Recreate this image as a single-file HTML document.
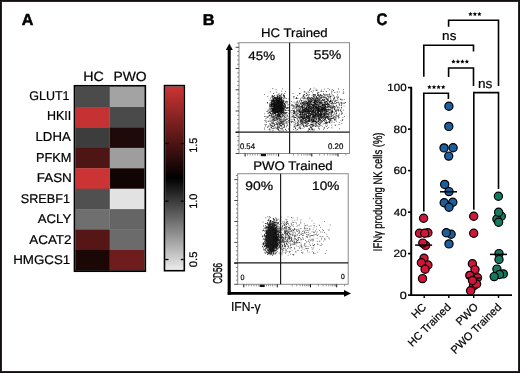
<!DOCTYPE html>
<html><head><meta charset="utf-8"><style>
html,body{margin:0;padding:0;background:#fff;}
body{width:520px;height:373px;overflow:hidden;position:relative;}
.f{position:absolute;left:0;top:0;width:520px;height:373px;box-sizing:border-box;border:1px solid #141012;box-shadow:inset 0 0 0 1px #2a2627;}
svg{position:absolute;left:0;top:0;will-change:transform;} text{text-rendering:geometricPrecision;}
</style></head><body>
<svg width="520" height="373" viewBox="0 0 520 373">
<text transform="translate(21.70,24.90) scale(1.002,1)" font-size="16.09" font-weight="bold" fill="#000" stroke="#000" stroke-width="0.5" font-family="Liberation Sans, sans-serif">A</text>
<text transform="translate(83.26,80.96) scale(1.053,1)" font-size="13.52" fill="#000" stroke="#000" stroke-width="0.22" font-family="Liberation Sans, sans-serif">HC</text>
<text transform="translate(113.39,80.87) scale(1.038,1)" font-size="13.38" fill="#000" stroke="#000" stroke-width="0.22" font-family="Liberation Sans, sans-serif">PWO</text>
<rect x="75.3" y="86.60" width="34.60" height="20.72" fill="#4b4b4b"/>
<rect x="109.9" y="86.60" width="34.60" height="20.72" fill="#a3a3a3"/>
<text transform="translate(29.27,99.67) scale(0.986,1)" font-size="12.68" fill="#000" stroke="#000" stroke-width="0.22" font-family="Liberation Sans, sans-serif">GLUT1</text>
<rect x="75.3" y="107.02" width="34.60" height="20.72" fill="#c53233"/>
<rect x="109.9" y="107.02" width="34.60" height="20.72" fill="#4a4a4a"/>
<text transform="translate(47.00,120.38) scale(0.957,1)" font-size="13.04" fill="#000" stroke="#000" stroke-width="0.22" font-family="Liberation Sans, sans-serif">HKII</text>
<rect x="75.3" y="127.44" width="34.60" height="20.72" fill="#3d3d3d"/>
<rect x="109.9" y="127.44" width="34.60" height="20.72" fill="#1f0a0a"/>
<text transform="translate(35.54,140.96) scale(1.011,1)" font-size="13.04" fill="#000" stroke="#000" stroke-width="0.22" font-family="Liberation Sans, sans-serif">LDHA</text>
<rect x="75.3" y="147.87" width="34.60" height="20.72" fill="#4e1515"/>
<rect x="109.9" y="147.87" width="34.60" height="20.72" fill="#9e9e9e"/>
<text transform="translate(35.88,161.54) scale(0.982,1)" font-size="13.04" fill="#000" stroke="#000" stroke-width="0.22" font-family="Liberation Sans, sans-serif">PFKM</text>
<rect x="75.3" y="168.29" width="34.60" height="20.72" fill="#cb3334"/>
<rect x="109.9" y="168.29" width="34.60" height="20.72" fill="#130404"/>
<text transform="translate(36.73,181.99) scale(1.059,1)" font-size="12.68" fill="#000" stroke="#000" stroke-width="0.22" font-family="Liberation Sans, sans-serif">FASN</text>
<rect x="75.3" y="188.71" width="34.60" height="20.72" fill="#505050"/>
<rect x="109.9" y="188.71" width="34.60" height="20.72" fill="#e2e2e2"/>
<text transform="translate(20.83,202.57) scale(0.996,1)" font-size="12.68" fill="#000" stroke="#000" stroke-width="0.22" font-family="Liberation Sans, sans-serif">SREBF1</text>
<rect x="75.3" y="209.13" width="34.60" height="20.72" fill="#6f6f6f"/>
<rect x="109.9" y="209.13" width="34.60" height="20.72" fill="#656565"/>
<text transform="translate(37.73,223.15) scale(1.040,1)" font-size="12.68" fill="#000" stroke="#000" stroke-width="0.22" font-family="Liberation Sans, sans-serif">ACLY</text>
<rect x="75.3" y="229.56" width="34.60" height="20.72" fill="#561616"/>
<rect x="109.9" y="229.56" width="34.60" height="20.72" fill="#6b6b6b"/>
<text transform="translate(29.23,243.73) scale(1.060,1)" font-size="12.68" fill="#000" stroke="#000" stroke-width="0.22" font-family="Liberation Sans, sans-serif">ACAT2</text>
<rect x="75.3" y="249.98" width="34.60" height="20.72" fill="#1c0707"/>
<rect x="109.9" y="249.98" width="34.60" height="20.72" fill="#6f1c1c"/>
<text transform="translate(13.13,264.31) scale(1.054,1)" font-size="12.68" fill="#000" stroke="#000" stroke-width="0.22" font-family="Liberation Sans, sans-serif">HMGCS1</text>
<rect x="74.5" y="85.8" width="70.80" height="185.40" fill="none" stroke="#000" stroke-width="1.7"/>
<defs><linearGradient id="cb" x1="0" y1="0" x2="0" y2="1"><stop offset="0" stop-color="#cc3434"/><stop offset="0.5" stop-color="#000"/><stop offset="1" stop-color="#ececec"/></linearGradient></defs>
<rect x="165.2" y="86.4" width="18.4" height="183.5" fill="url(#cb)"/>
<rect x="164.5" y="85.6" width="19.8" height="185.1" fill="none" stroke="#000" stroke-width="1.6"/>
<line x1="165.2" y1="143.5" x2="168.5" y2="143.5" stroke="#000" stroke-width="1.3"/>
<line x1="180.8" y1="143.5" x2="183.6" y2="143.5" stroke="#000" stroke-width="1.3"/>
<line x1="165.2" y1="201.2" x2="168.5" y2="201.2" stroke="#000" stroke-width="1.3"/>
<line x1="180.8" y1="201.2" x2="183.6" y2="201.2" stroke="#000" stroke-width="1.3"/>
<line x1="165.2" y1="259.5" x2="168.5" y2="259.5" stroke="#000" stroke-width="1.3"/>
<line x1="180.8" y1="259.5" x2="183.6" y2="259.5" stroke="#000" stroke-width="1.3"/>
<text transform="translate(196.79,152.72) rotate(-90) scale(0.991,1)" font-size="11.00" fill="#000" stroke="#000" stroke-width="0.22" font-family="Liberation Sans, sans-serif">1.5</text>
<text transform="translate(196.89,208.82) rotate(-90) scale(0.992,1)" font-size="10.99" fill="#000" stroke="#000" stroke-width="0.22" font-family="Liberation Sans, sans-serif">1.0</text>
<text transform="translate(196.89,267.25) rotate(-90) scale(1.028,1)" font-size="10.99" fill="#000" stroke="#000" stroke-width="0.22" font-family="Liberation Sans, sans-serif">0.5</text>
<text transform="translate(202.73,24.90) scale(1.057,1)" font-size="15.51" font-weight="bold" fill="#000" stroke="#000" stroke-width="0.5" font-family="Liberation Sans, sans-serif">B</text>
<text transform="translate(261.05,36.88) scale(1.064,1)" font-size="12.38" fill="#000" stroke="#000" stroke-width="0.22" font-family="Liberation Sans, sans-serif">HC Trained</text>
<text transform="translate(253.14,170.07) scale(1.059,1)" font-size="12.52" fill="#000" stroke="#000" stroke-width="0.22" font-family="Liberation Sans, sans-serif">PWO Trained</text>
<line x1="229.2" y1="49" x2="229.2" y2="294.8" stroke="#000" stroke-width="3.1"/>
<polygon points="229.3,43.4 225.8,50 232.8,50" fill="#000"/>
<line x1="227.7" y1="293.4" x2="345" y2="293.4" stroke="#000" stroke-width="2.9"/>
<polygon points="351,293.4 344,290 344,296.8" fill="#000"/>
<text transform="translate(221.57,283.81) rotate(-90) scale(0.637,1)" font-size="12.82" fill="#000" stroke="#000" stroke-width="0.35" font-family="Liberation Sans, sans-serif">CD56</text>
<text transform="translate(230.91,311.47) scale(0.933,1)" font-size="13.00" fill="#000" stroke="#000" stroke-width="0.22" font-family="Liberation Sans, sans-serif">IFN-γ</text>
<path d="M276.6 107.5h.8v.8h-.8zM276.7 104.2h.8v.8h-.8zM274.6 104.6h.8v.8h-.8zM280.7 107.2h.8v.8h-.8zM280.5 106.5h.8v.8h-.8zM278.6 106.2h.8v.8h-.8zM272.4 108.9h.8v.8h-.8zM278.9 107.5h.8v.8h-.8zM272.3 98.5h.8v.8h-.8zM274.7 103.6h.8v.8h-.8zM278.3 105.3h.8v.8h-.8zM279.0 102.9h.8v.8h-.8zM278.3 107.1h.8v.8h-.8zM275.4 112.4h.8v.8h-.8zM279.1 110.3h.8v.8h-.8zM275.5 102.5h.8v.8h-.8zM276.4 105.1h.8v.8h-.8zM279.3 106.5h.8v.8h-.8zM276.1 101.7h.8v.8h-.8zM275.8 110.4h.8v.8h-.8zM275.0 106.5h.8v.8h-.8zM278.7 99.5h.8v.8h-.8zM277.5 110.7h.8v.8h-.8zM271.4 104.2h.8v.8h-.8zM277.1 102.2h.8v.8h-.8zM278.9 105.3h.8v.8h-.8zM273.0 108.8h.8v.8h-.8zM279.4 109.3h.8v.8h-.8zM281.7 106.9h.8v.8h-.8zM277.8 100.3h.8v.8h-.8zM279.2 103.1h.8v.8h-.8zM276.0 100.4h.8v.8h-.8zM274.5 103.4h.8v.8h-.8zM281.3 97.4h.8v.8h-.8zM273.0 106.5h.8v.8h-.8zM281.7 107.8h.8v.8h-.8zM271.7 95.4h.8v.8h-.8zM278.5 102.6h.8v.8h-.8zM274.0 109.4h.8v.8h-.8zM280.7 106.1h.8v.8h-.8zM278.1 107.2h.8v.8h-.8zM282.2 108.0h.8v.8h-.8zM279.0 107.7h.8v.8h-.8zM272.7 110.6h.8v.8h-.8zM280.3 107.6h.8v.8h-.8zM271.5 103.0h.8v.8h-.8zM279.9 98.3h.8v.8h-.8zM276.8 109.6h.8v.8h-.8zM273.5 111.9h.8v.8h-.8zM279.1 104.9h.8v.8h-.8zM278.4 108.1h.8v.8h-.8zM277.8 110.1h.8v.8h-.8zM275.4 103.8h.8v.8h-.8zM280.5 105.6h.8v.8h-.8zM274.8 109.3h.8v.8h-.8zM281.8 103.7h.8v.8h-.8zM273.3 105.0h.8v.8h-.8zM277.0 104.3h.8v.8h-.8zM281.6 101.4h.8v.8h-.8zM281.2 100.4h.8v.8h-.8zM275.0 108.0h.8v.8h-.8zM280.8 108.9h.8v.8h-.8zM278.4 106.1h.8v.8h-.8zM277.9 107.8h.8v.8h-.8zM276.9 106.6h.8v.8h-.8zM279.1 105.5h.8v.8h-.8zM279.7 107.8h.8v.8h-.8zM283.4 106.8h.8v.8h-.8zM276.1 104.0h.8v.8h-.8zM277.4 109.2h.8v.8h-.8zM276.4 107.0h.8v.8h-.8zM282.9 95.2h.8v.8h-.8zM274.0 106.5h.8v.8h-.8zM278.6 106.5h.8v.8h-.8zM276.1 108.1h.8v.8h-.8zM278.2 103.4h.8v.8h-.8zM284.7 106.9h.8v.8h-.8zM275.7 105.1h.8v.8h-.8zM276.7 105.2h.8v.8h-.8zM269.2 103.6h.8v.8h-.8zM280.4 100.8h.8v.8h-.8zM277.2 109.3h.8v.8h-.8zM280.0 111.5h.8v.8h-.8zM272.3 104.1h.8v.8h-.8zM276.4 108.0h.8v.8h-.8zM280.7 94.8h.8v.8h-.8zM280.7 99.7h.8v.8h-.8zM279.4 99.5h.8v.8h-.8zM277.9 110.3h.8v.8h-.8zM277.0 106.3h.8v.8h-.8zM279.8 106.1h.8v.8h-.8zM277.1 111.6h.8v.8h-.8zM280.5 104.3h.8v.8h-.8zM285.6 100.9h.8v.8h-.8zM280.1 104.4h.8v.8h-.8zM277.8 108.3h.8v.8h-.8zM278.1 108.1h.8v.8h-.8zM272.8 99.5h.8v.8h-.8zM279.2 101.6h.8v.8h-.8zM274.3 99.6h.8v.8h-.8zM281.2 108.5h.8v.8h-.8zM281.8 101.7h.8v.8h-.8zM277.4 100.9h.8v.8h-.8zM279.7 111.9h.8v.8h-.8zM274.7 111.7h.8v.8h-.8zM280.4 104.8h.8v.8h-.8zM271.5 111.1h.8v.8h-.8zM277.1 103.1h.8v.8h-.8zM278.6 107.1h.8v.8h-.8zM281.9 101.4h.8v.8h-.8zM280.8 111.4h.8v.8h-.8zM281.8 104.8h.8v.8h-.8zM275.2 109.6h.8v.8h-.8zM277.7 106.0h.8v.8h-.8zM281.7 104.4h.8v.8h-.8zM270.5 104.0h.8v.8h-.8zM271.8 108.8h.8v.8h-.8zM278.4 103.1h.8v.8h-.8zM277.4 108.8h.8v.8h-.8zM277.6 110.8h.8v.8h-.8zM277.2 109.7h.8v.8h-.8zM281.9 111.9h.8v.8h-.8zM275.4 109.0h.8v.8h-.8zM271.8 101.2h.8v.8h-.8zM271.5 109.8h.8v.8h-.8zM273.7 105.4h.8v.8h-.8zM276.8 105.4h.8v.8h-.8zM275.6 106.4h.8v.8h-.8zM282.8 105.7h.8v.8h-.8zM279.0 109.5h.8v.8h-.8zM276.8 100.5h.8v.8h-.8zM275.7 109.8h.8v.8h-.8zM272.5 103.1h.8v.8h-.8zM280.4 108.7h.8v.8h-.8zM277.4 108.7h.8v.8h-.8zM277.9 100.8h.8v.8h-.8zM272.7 102.9h.8v.8h-.8zM280.2 103.2h.8v.8h-.8zM274.7 102.4h.8v.8h-.8zM272.8 105.0h.8v.8h-.8zM273.9 107.0h.8v.8h-.8zM270.3 106.8h.8v.8h-.8zM275.5 97.7h.8v.8h-.8zM279.6 104.4h.8v.8h-.8zM270.7 102.0h.8v.8h-.8zM278.3 103.7h.8v.8h-.8zM279.7 108.5h.8v.8h-.8zM279.4 106.8h.8v.8h-.8zM281.4 108.1h.8v.8h-.8zM278.8 97.2h.8v.8h-.8zM280.1 110.7h.8v.8h-.8zM276.5 103.6h.8v.8h-.8zM283.2 98.5h.8v.8h-.8zM278.8 115.2h.8v.8h-.8zM274.6 108.3h.8v.8h-.8zM283.1 105.0h.8v.8h-.8zM279.1 109.1h.8v.8h-.8zM274.7 105.1h.8v.8h-.8zM278.3 108.8h.8v.8h-.8zM277.3 104.7h.8v.8h-.8zM274.4 104.1h.8v.8h-.8zM280.1 105.9h.8v.8h-.8zM274.8 102.1h.8v.8h-.8zM285.4 110.1h.8v.8h-.8zM279.3 95.1h.8v.8h-.8zM279.3 107.4h.8v.8h-.8zM282.5 107.2h.8v.8h-.8zM277.2 107.6h.8v.8h-.8zM271.6 109.6h.8v.8h-.8zM278.4 102.7h.8v.8h-.8zM281.4 112.7h.8v.8h-.8zM273.2 102.8h.8v.8h-.8zM278.3 106.2h.8v.8h-.8zM276.2 101.6h.8v.8h-.8zM283.8 109.6h.8v.8h-.8zM273.8 100.1h.8v.8h-.8zM282.5 109.5h.8v.8h-.8zM282.9 108.7h.8v.8h-.8zM274.8 106.5h.8v.8h-.8zM270.9 102.5h.8v.8h-.8zM277.2 107.6h.8v.8h-.8zM275.2 105.0h.8v.8h-.8zM278.8 107.0h.8v.8h-.8zM279.3 106.3h.8v.8h-.8zM276.4 108.7h.8v.8h-.8zM277.5 102.2h.8v.8h-.8zM275.5 105.5h.8v.8h-.8zM277.1 106.1h.8v.8h-.8zM277.4 106.2h.8v.8h-.8zM277.0 100.5h.8v.8h-.8zM278.7 109.7h.8v.8h-.8zM278.7 104.7h.8v.8h-.8zM278.7 101.6h.8v.8h-.8zM271.7 105.7h.8v.8h-.8zM274.6 108.5h.8v.8h-.8zM274.1 95.0h.8v.8h-.8zM274.3 111.8h.8v.8h-.8zM276.3 100.0h.8v.8h-.8zM275.1 107.6h.8v.8h-.8zM278.9 106.2h.8v.8h-.8zM281.9 108.3h.8v.8h-.8zM277.3 107.9h.8v.8h-.8zM282.4 109.4h.8v.8h-.8zM280.5 101.2h.8v.8h-.8zM277.0 108.4h.8v.8h-.8zM276.5 109.8h.8v.8h-.8zM279.2 109.1h.8v.8h-.8zM276.8 115.7h.8v.8h-.8zM281.1 104.6h.8v.8h-.8zM277.7 115.9h.8v.8h-.8zM276.4 109.0h.8v.8h-.8zM280.3 105.5h.8v.8h-.8zM273.9 106.3h.8v.8h-.8zM278.5 110.0h.8v.8h-.8zM279.7 105.6h.8v.8h-.8zM280.0 107.7h.8v.8h-.8zM278.0 105.7h.8v.8h-.8zM276.7 108.2h.8v.8h-.8zM274.2 103.0h.8v.8h-.8zM277.4 99.6h.8v.8h-.8zM276.1 97.5h.8v.8h-.8zM275.4 107.8h.8v.8h-.8zM279.1 105.3h.8v.8h-.8zM276.7 99.8h.8v.8h-.8zM282.9 107.6h.8v.8h-.8zM280.7 102.0h.8v.8h-.8zM276.8 98.2h.8v.8h-.8zM279.7 109.2h.8v.8h-.8zM271.7 105.3h.8v.8h-.8zM279.3 98.5h.8v.8h-.8zM271.9 101.2h.8v.8h-.8zM275.5 99.9h.8v.8h-.8zM277.5 106.5h.8v.8h-.8zM279.3 108.3h.8v.8h-.8zM281.9 110.2h.8v.8h-.8zM273.5 103.5h.8v.8h-.8zM274.2 101.2h.8v.8h-.8zM277.2 105.5h.8v.8h-.8zM278.9 99.2h.8v.8h-.8zM273.7 105.4h.8v.8h-.8zM276.8 104.3h.8v.8h-.8zM277.2 102.5h.8v.8h-.8zM279.5 106.9h.8v.8h-.8zM277.1 102.8h.8v.8h-.8zM276.9 94.6h.8v.8h-.8zM274.5 105.6h.8v.8h-.8zM272.9 106.3h.8v.8h-.8zM277.8 100.0h.8v.8h-.8zM276.6 104.2h.8v.8h-.8zM278.8 107.9h.8v.8h-.8zM277.3 102.1h.8v.8h-.8zM277.0 105.2h.8v.8h-.8zM279.6 106.7h.8v.8h-.8zM275.2 100.1h.8v.8h-.8zM276.3 102.5h.8v.8h-.8zM274.1 105.0h.8v.8h-.8zM275.9 105.9h.8v.8h-.8zM279.0 103.8h.8v.8h-.8zM284.4 104.2h.8v.8h-.8zM280.7 106.0h.8v.8h-.8zM280.7 96.0h.8v.8h-.8zM275.1 106.5h.8v.8h-.8zM279.2 114.8h.8v.8h-.8zM278.4 110.6h.8v.8h-.8zM279.7 109.3h.8v.8h-.8zM278.9 104.9h.8v.8h-.8zM278.9 101.2h.8v.8h-.8zM280.9 101.4h.8v.8h-.8zM278.1 114.0h.8v.8h-.8zM276.7 105.6h.8v.8h-.8zM280.9 105.6h.8v.8h-.8zM275.0 106.5h.8v.8h-.8zM279.1 108.3h.8v.8h-.8zM275.1 112.5h.8v.8h-.8zM282.4 105.6h.8v.8h-.8zM278.2 103.8h.8v.8h-.8zM281.6 102.7h.8v.8h-.8zM279.4 103.6h.8v.8h-.8zM275.3 108.4h.8v.8h-.8zM281.4 105.5h.8v.8h-.8zM275.4 108.7h.8v.8h-.8zM277.3 106.7h.8v.8h-.8zM282.0 110.0h.8v.8h-.8zM275.8 114.6h.8v.8h-.8zM277.4 108.6h.8v.8h-.8zM275.5 105.3h.8v.8h-.8zM272.2 112.6h.8v.8h-.8zM281.5 100.6h.8v.8h-.8zM272.9 99.0h.8v.8h-.8zM280.9 103.7h.8v.8h-.8zM277.2 104.2h.8v.8h-.8zM277.0 101.1h.8v.8h-.8zM277.5 99.7h.8v.8h-.8zM277.2 106.7h.8v.8h-.8zM278.8 104.6h.8v.8h-.8zM274.7 106.1h.8v.8h-.8zM275.9 111.8h.8v.8h-.8zM279.7 105.0h.8v.8h-.8zM276.0 102.7h.8v.8h-.8zM274.6 104.1h.8v.8h-.8zM278.3 107.6h.8v.8h-.8zM279.1 113.9h.8v.8h-.8zM275.3 105.6h.8v.8h-.8zM285.8 98.0h.8v.8h-.8zM275.8 106.2h.8v.8h-.8zM277.9 107.1h.8v.8h-.8zM276.7 107.0h.8v.8h-.8zM277.6 108.6h.8v.8h-.8zM271.7 102.0h.8v.8h-.8zM277.4 101.4h.8v.8h-.8zM274.3 108.0h.8v.8h-.8zM275.5 108.0h.8v.8h-.8zM279.6 106.7h.8v.8h-.8zM278.9 105.1h.8v.8h-.8zM273.2 105.4h.8v.8h-.8zM278.8 103.4h.8v.8h-.8zM277.1 108.5h.8v.8h-.8zM274.8 108.1h.8v.8h-.8zM283.0 103.3h.8v.8h-.8zM277.8 104.9h.8v.8h-.8zM282.0 106.8h.8v.8h-.8zM280.1 102.7h.8v.8h-.8zM277.4 105.5h.8v.8h-.8zM272.1 111.3h.8v.8h-.8zM280.1 98.5h.8v.8h-.8zM279.6 105.0h.8v.8h-.8zM278.7 107.0h.8v.8h-.8zM272.9 104.7h.8v.8h-.8zM281.9 103.2h.8v.8h-.8zM274.3 100.1h.8v.8h-.8zM273.7 106.8h.8v.8h-.8zM282.5 107.2h.8v.8h-.8zM278.1 114.4h.8v.8h-.8zM275.8 102.8h.8v.8h-.8zM279.0 107.7h.8v.8h-.8zM274.4 100.8h.8v.8h-.8zM278.3 106.5h.8v.8h-.8zM273.5 104.7h.8v.8h-.8zM275.8 107.3h.8v.8h-.8zM277.0 105.2h.8v.8h-.8zM276.3 109.7h.8v.8h-.8zM281.6 104.0h.8v.8h-.8zM279.9 102.5h.8v.8h-.8zM277.6 108.5h.8v.8h-.8zM281.9 104.0h.8v.8h-.8zM277.2 106.3h.8v.8h-.8zM272.9 105.6h.8v.8h-.8zM275.4 107.0h.8v.8h-.8zM274.0 97.6h.8v.8h-.8zM277.5 106.5h.8v.8h-.8zM275.8 109.1h.8v.8h-.8zM276.6 103.1h.8v.8h-.8zM278.8 99.2h.8v.8h-.8zM275.4 105.4h.8v.8h-.8zM279.9 104.8h.8v.8h-.8zM278.3 102.9h.8v.8h-.8zM278.3 112.2h.8v.8h-.8zM275.3 115.0h.8v.8h-.8zM275.5 105.6h.8v.8h-.8zM277.9 109.6h.8v.8h-.8zM273.7 97.1h.8v.8h-.8zM279.2 108.7h.8v.8h-.8zM279.3 116.0h.8v.8h-.8zM278.0 106.5h.8v.8h-.8zM280.2 107.0h.8v.8h-.8zM282.4 100.5h.8v.8h-.8zM276.3 91.7h.8v.8h-.8zM279.8 104.0h.8v.8h-.8zM280.2 114.1h.8v.8h-.8zM277.4 104.5h.8v.8h-.8zM275.9 102.1h.8v.8h-.8zM275.5 108.1h.8v.8h-.8zM277.5 105.8h.8v.8h-.8zM276.9 109.2h.8v.8h-.8zM278.9 104.9h.8v.8h-.8zM279.4 104.9h.8v.8h-.8zM273.9 111.3h.8v.8h-.8zM278.8 101.7h.8v.8h-.8zM280.6 106.9h.8v.8h-.8zM272.7 111.9h.8v.8h-.8zM278.4 109.1h.8v.8h-.8zM278.0 104.9h.8v.8h-.8zM272.8 109.4h.8v.8h-.8zM277.5 104.4h.8v.8h-.8zM278.5 105.8h.8v.8h-.8zM279.4 104.0h.8v.8h-.8zM277.3 96.9h.8v.8h-.8zM276.1 108.2h.8v.8h-.8zM281.4 104.0h.8v.8h-.8zM277.0 111.8h.8v.8h-.8zM276.4 108.4h.8v.8h-.8zM282.4 105.7h.8v.8h-.8zM281.1 102.7h.8v.8h-.8zM278.0 105.2h.8v.8h-.8zM277.7 110.0h.8v.8h-.8zM284.6 102.8h.8v.8h-.8zM275.7 107.5h.8v.8h-.8zM274.2 107.5h.8v.8h-.8zM279.1 104.4h.8v.8h-.8zM279.0 99.3h.8v.8h-.8zM279.7 99.3h.8v.8h-.8zM275.3 103.3h.8v.8h-.8zM276.2 108.9h.8v.8h-.8zM277.6 103.9h.8v.8h-.8zM279.0 111.8h.8v.8h-.8zM277.4 107.0h.8v.8h-.8zM281.1 106.6h.8v.8h-.8zM273.5 115.5h.8v.8h-.8zM284.0 97.6h.8v.8h-.8zM277.3 107.2h.8v.8h-.8zM280.3 108.2h.8v.8h-.8zM276.6 101.3h.8v.8h-.8zM277.7 109.6h.8v.8h-.8zM274.1 101.4h.8v.8h-.8zM277.3 97.8h.8v.8h-.8zM276.6 103.8h.8v.8h-.8zM278.8 102.7h.8v.8h-.8zM274.8 103.9h.8v.8h-.8zM277.3 102.8h.8v.8h-.8zM277.4 108.5h.8v.8h-.8zM281.0 112.3h.8v.8h-.8zM275.0 103.8h.8v.8h-.8zM270.0 113.1h.8v.8h-.8zM275.2 105.4h.8v.8h-.8zM279.0 100.1h.8v.8h-.8zM278.8 105.4h.8v.8h-.8zM271.9 106.7h.8v.8h-.8zM281.0 98.0h.8v.8h-.8zM279.8 106.3h.8v.8h-.8zM278.8 107.3h.8v.8h-.8zM281.3 104.6h.8v.8h-.8zM280.0 103.9h.8v.8h-.8zM279.6 102.2h.8v.8h-.8zM277.1 112.4h.8v.8h-.8zM278.7 104.9h.8v.8h-.8zM274.0 102.3h.8v.8h-.8zM278.0 109.3h.8v.8h-.8zM278.7 107.6h.8v.8h-.8zM277.3 110.9h.8v.8h-.8zM276.2 103.3h.8v.8h-.8zM280.1 105.8h.8v.8h-.8zM276.6 103.2h.8v.8h-.8zM276.6 108.0h.8v.8h-.8zM278.5 100.7h.8v.8h-.8zM278.7 106.2h.8v.8h-.8zM274.4 108.6h.8v.8h-.8zM276.6 104.2h.8v.8h-.8zM279.8 110.8h.8v.8h-.8zM275.3 107.3h.8v.8h-.8zM274.8 114.8h.8v.8h-.8zM275.9 110.3h.8v.8h-.8zM275.5 108.7h.8v.8h-.8zM284.1 95.3h.8v.8h-.8zM276.1 107.5h.8v.8h-.8zM277.1 102.8h.8v.8h-.8zM283.9 105.8h.8v.8h-.8zM272.5 108.9h.8v.8h-.8zM272.2 110.1h.8v.8h-.8zM275.7 106.1h.8v.8h-.8zM281.2 106.0h.8v.8h-.8zM273.2 98.7h.8v.8h-.8zM280.9 108.5h.8v.8h-.8zM275.0 108.9h.8v.8h-.8zM278.9 108.1h.8v.8h-.8zM270.6 104.3h.8v.8h-.8zM280.1 108.4h.8v.8h-.8zM280.0 95.7h.8v.8h-.8zM277.9 107.5h.8v.8h-.8zM285.1 101.7h.8v.8h-.8zM276.4 105.6h.8v.8h-.8zM280.1 103.7h.8v.8h-.8zM280.8 102.3h.8v.8h-.8zM278.2 103.4h.8v.8h-.8zM277.9 102.7h.8v.8h-.8zM272.6 109.9h.8v.8h-.8zM278.3 103.3h.8v.8h-.8zM278.0 109.5h.8v.8h-.8zM274.5 105.1h.8v.8h-.8zM279.0 107.6h.8v.8h-.8zM276.4 97.1h.8v.8h-.8zM281.1 106.8h.8v.8h-.8zM277.4 104.4h.8v.8h-.8zM278.2 103.8h.8v.8h-.8zM274.3 102.5h.8v.8h-.8zM275.6 103.1h.8v.8h-.8zM273.9 108.0h.8v.8h-.8zM273.5 108.1h.8v.8h-.8zM274.4 106.9h.8v.8h-.8zM281.5 106.3h.8v.8h-.8zM275.2 105.7h.8v.8h-.8zM277.8 98.6h.8v.8h-.8zM275.6 106.2h.8v.8h-.8zM276.0 105.8h.8v.8h-.8zM279.6 108.6h.8v.8h-.8zM280.1 107.9h.8v.8h-.8zM276.5 105.4h.8v.8h-.8zM276.6 104.2h.8v.8h-.8zM276.9 98.6h.8v.8h-.8zM276.4 105.4h.8v.8h-.8zM274.5 105.4h.8v.8h-.8zM278.9 104.8h.8v.8h-.8zM283.6 95.1h.8v.8h-.8zM276.8 98.2h.8v.8h-.8zM280.3 116.1h.8v.8h-.8zM269.9 106.0h.8v.8h-.8zM279.0 104.3h.8v.8h-.8zM279.1 96.5h.8v.8h-.8zM280.0 107.0h.8v.8h-.8zM277.5 103.1h.8v.8h-.8zM279.3 103.6h.8v.8h-.8zM278.1 103.5h.8v.8h-.8zM270.7 105.4h.8v.8h-.8zM278.0 108.5h.8v.8h-.8zM274.8 105.4h.8v.8h-.8zM279.3 106.1h.8v.8h-.8zM281.1 113.5h.8v.8h-.8zM274.7 97.8h.8v.8h-.8zM280.0 111.6h.8v.8h-.8zM280.2 108.8h.8v.8h-.8zM275.5 102.6h.8v.8h-.8zM280.1 101.9h.8v.8h-.8zM272.0 101.5h.8v.8h-.8zM284.9 113.2h.8v.8h-.8zM275.3 102.6h.8v.8h-.8zM278.1 102.5h.8v.8h-.8zM281.3 105.2h.8v.8h-.8zM274.1 110.7h.8v.8h-.8zM275.7 106.4h.8v.8h-.8zM277.4 104.2h.8v.8h-.8zM278.4 102.7h.8v.8h-.8zM271.9 96.7h.8v.8h-.8zM273.6 102.5h.8v.8h-.8zM277.3 105.7h.8v.8h-.8zM279.1 106.0h.8v.8h-.8zM275.0 102.7h.8v.8h-.8zM271.0 104.8h.8v.8h-.8zM278.9 107.6h.8v.8h-.8zM277.0 104.8h.8v.8h-.8zM280.2 105.6h.8v.8h-.8zM279.6 107.8h.8v.8h-.8zM278.0 110.7h.8v.8h-.8zM275.7 104.1h.8v.8h-.8zM275.0 102.3h.8v.8h-.8zM282.1 112.5h.8v.8h-.8zM277.5 107.8h.8v.8h-.8zM280.9 108.7h.8v.8h-.8zM281.0 100.4h.8v.8h-.8zM275.5 107.3h.8v.8h-.8zM281.7 105.9h.8v.8h-.8zM274.8 104.1h.8v.8h-.8zM275.4 102.1h.8v.8h-.8zM281.9 103.0h.8v.8h-.8zM277.5 114.1h.8v.8h-.8zM281.0 106.8h.8v.8h-.8zM275.6 107.1h.8v.8h-.8zM282.3 108.0h.8v.8h-.8zM281.2 105.9h.8v.8h-.8zM278.9 104.7h.8v.8h-.8zM278.7 110.7h.8v.8h-.8zM273.1 105.2h.8v.8h-.8zM278.1 103.2h.8v.8h-.8zM276.5 108.6h.8v.8h-.8zM283.4 108.0h.8v.8h-.8zM278.4 99.3h.8v.8h-.8zM283.2 105.8h.8v.8h-.8zM277.3 101.0h.8v.8h-.8zM277.2 101.1h.8v.8h-.8zM277.6 107.4h.8v.8h-.8zM277.5 106.6h.8v.8h-.8zM274.8 111.2h.8v.8h-.8zM275.4 98.2h.8v.8h-.8zM276.8 102.4h.8v.8h-.8zM274.4 104.1h.8v.8h-.8zM278.3 100.8h.8v.8h-.8zM277.0 111.2h.8v.8h-.8zM279.4 104.9h.8v.8h-.8zM277.8 105.0h.8v.8h-.8zM277.3 108.4h.8v.8h-.8zM277.1 95.9h.8v.8h-.8zM277.3 101.9h.8v.8h-.8zM279.4 103.1h.8v.8h-.8zM277.8 114.2h.8v.8h-.8zM274.3 101.0h.8v.8h-.8zM273.2 95.9h.8v.8h-.8zM271.8 107.0h.8v.8h-.8zM275.5 98.0h.8v.8h-.8zM273.0 108.0h.8v.8h-.8zM275.1 104.0h.8v.8h-.8zM278.4 110.9h.8v.8h-.8zM283.2 109.6h.8v.8h-.8zM277.8 106.2h.8v.8h-.8zM282.8 111.2h.8v.8h-.8zM276.5 107.3h.8v.8h-.8zM278.3 105.7h.8v.8h-.8zM275.9 100.2h.8v.8h-.8zM275.8 99.3h.8v.8h-.8zM281.1 107.6h.8v.8h-.8zM273.8 111.1h.8v.8h-.8zM280.1 97.9h.8v.8h-.8zM282.9 108.7h.8v.8h-.8zM283.6 100.6h.8v.8h-.8zM279.0 107.2h.8v.8h-.8zM278.0 106.2h.8v.8h-.8zM280.6 99.5h.8v.8h-.8zM273.7 99.9h.8v.8h-.8zM275.7 103.1h.8v.8h-.8zM278.5 106.6h.8v.8h-.8zM277.5 102.8h.8v.8h-.8zM276.1 109.3h.8v.8h-.8zM279.7 105.9h.8v.8h-.8zM276.4 111.7h.8v.8h-.8zM275.6 108.1h.8v.8h-.8zM280.9 104.4h.8v.8h-.8zM279.9 101.0h.8v.8h-.8zM280.4 106.3h.8v.8h-.8zM272.6 108.2h.8v.8h-.8zM274.7 110.6h.8v.8h-.8zM275.4 104.8h.8v.8h-.8zM278.2 104.2h.8v.8h-.8zM278.2 103.3h.8v.8h-.8zM279.4 105.5h.8v.8h-.8zM278.0 94.5h.8v.8h-.8zM280.9 105.6h.8v.8h-.8zM272.1 105.9h.8v.8h-.8zM278.8 109.8h.8v.8h-.8zM274.2 111.7h.8v.8h-.8zM276.9 115.1h.8v.8h-.8zM277.0 108.2h.8v.8h-.8zM276.3 101.0h.8v.8h-.8zM280.7 109.1h.8v.8h-.8zM282.0 108.9h.8v.8h-.8zM275.7 98.9h.8v.8h-.8zM275.4 102.8h.8v.8h-.8zM275.0 107.8h.8v.8h-.8zM278.4 104.4h.8v.8h-.8zM277.9 104.9h.8v.8h-.8zM278.0 108.5h.8v.8h-.8zM280.3 102.8h.8v.8h-.8zM272.9 111.2h.8v.8h-.8zM277.7 109.9h.8v.8h-.8zM272.5 104.2h.8v.8h-.8zM277.5 99.7h.8v.8h-.8zM275.9 108.4h.8v.8h-.8zM280.6 111.9h.8v.8h-.8zM274.8 99.9h.8v.8h-.8zM279.0 109.3h.8v.8h-.8zM278.0 100.3h.8v.8h-.8zM279.7 108.7h.8v.8h-.8zM279.1 103.6h.8v.8h-.8zM278.3 108.7h.8v.8h-.8zM275.7 98.1h.8v.8h-.8zM278.4 107.4h.8v.8h-.8zM277.4 109.1h.8v.8h-.8zM275.6 105.2h.8v.8h-.8zM276.5 107.8h.8v.8h-.8zM282.2 104.5h.8v.8h-.8zM283.6 111.6h.8v.8h-.8zM279.8 107.8h.8v.8h-.8zM282.7 104.8h.8v.8h-.8zM277.1 101.2h.8v.8h-.8zM278.8 110.9h.8v.8h-.8zM279.0 107.2h.8v.8h-.8zM276.8 106.2h.8v.8h-.8zM273.1 109.7h.8v.8h-.8zM276.2 101.1h.8v.8h-.8zM275.1 102.2h.8v.8h-.8zM280.0 109.7h.8v.8h-.8zM273.3 109.2h.8v.8h-.8zM280.1 103.2h.8v.8h-.8zM272.9 102.5h.8v.8h-.8zM275.5 106.9h.8v.8h-.8zM276.3 97.4h.8v.8h-.8zM278.1 99.4h.8v.8h-.8zM280.1 100.7h.8v.8h-.8zM275.3 102.1h.8v.8h-.8zM275.8 110.7h.8v.8h-.8zM280.0 107.9h.8v.8h-.8zM278.4 99.3h.8v.8h-.8zM275.8 103.3h.8v.8h-.8zM274.5 107.5h.8v.8h-.8zM275.2 102.7h.8v.8h-.8zM274.3 97.3h.8v.8h-.8zM279.2 110.8h.8v.8h-.8zM277.9 101.6h.8v.8h-.8zM269.3 106.2h.8v.8h-.8zM281.0 106.7h.8v.8h-.8zM280.2 111.4h.8v.8h-.8zM280.8 103.7h.8v.8h-.8zM280.6 108.6h.8v.8h-.8zM272.8 103.9h.8v.8h-.8zM273.1 105.1h.8v.8h-.8zM279.1 101.2h.8v.8h-.8zM271.2 110.7h.8v.8h-.8zM278.5 111.4h.8v.8h-.8zM273.4 109.7h.8v.8h-.8zM283.6 113.5h.8v.8h-.8zM276.8 106.6h.8v.8h-.8zM276.9 109.5h.8v.8h-.8zM280.5 105.8h.8v.8h-.8zM273.3 108.5h.8v.8h-.8zM276.0 108.0h.8v.8h-.8zM278.2 112.0h.8v.8h-.8zM280.8 103.7h.8v.8h-.8zM278.4 112.6h.8v.8h-.8zM275.8 107.2h.8v.8h-.8zM281.0 110.5h.8v.8h-.8zM279.0 100.2h.8v.8h-.8zM273.6 106.5h.8v.8h-.8zM278.6 115.7h.8v.8h-.8zM274.8 110.1h.8v.8h-.8zM279.7 98.8h.8v.8h-.8zM274.9 106.2h.8v.8h-.8zM275.9 104.9h.8v.8h-.8zM278.8 102.3h.8v.8h-.8zM278.8 103.0h.8v.8h-.8zM275.8 107.6h.8v.8h-.8zM275.7 106.6h.8v.8h-.8zM282.2 105.6h.8v.8h-.8zM277.0 108.4h.8v.8h-.8zM276.3 109.8h.8v.8h-.8zM273.6 108.0h.8v.8h-.8zM275.9 102.3h.8v.8h-.8zM282.7 102.1h.8v.8h-.8zM282.7 108.1h.8v.8h-.8zM281.8 101.6h.8v.8h-.8zM281.0 111.3h.8v.8h-.8zM277.1 105.0h.8v.8h-.8zM284.8 106.2h.8v.8h-.8zM276.1 103.0h.8v.8h-.8zM278.7 106.8h.8v.8h-.8zM277.9 112.4h.8v.8h-.8zM276.4 107.4h.8v.8h-.8zM281.8 101.5h.8v.8h-.8zM280.5 112.8h.8v.8h-.8zM273.3 101.1h.8v.8h-.8zM274.3 98.1h.8v.8h-.8zM278.8 98.1h.8v.8h-.8zM278.9 111.3h.8v.8h-.8zM272.6 104.2h.8v.8h-.8zM271.6 108.6h.8v.8h-.8zM275.2 104.4h.8v.8h-.8zM277.6 107.7h.8v.8h-.8zM276.4 105.6h.8v.8h-.8zM275.8 106.0h.8v.8h-.8zM273.9 105.8h.8v.8h-.8zM271.6 103.5h.8v.8h-.8zM283.1 105.8h.8v.8h-.8zM273.6 106.5h.8v.8h-.8zM274.5 98.9h.8v.8h-.8zM275.2 108.4h.8v.8h-.8zM278.6 105.1h.8v.8h-.8zM274.6 101.2h.8v.8h-.8zM281.4 106.5h.8v.8h-.8zM274.5 97.1h.8v.8h-.8zM273.3 115.4h.8v.8h-.8zM274.0 105.2h.8v.8h-.8zM278.0 104.9h.8v.8h-.8zM276.6 100.0h.8v.8h-.8zM274.2 112.3h.8v.8h-.8zM275.1 108.9h.8v.8h-.8zM272.3 104.4h.8v.8h-.8zM278.2 109.6h.8v.8h-.8zM274.0 107.9h.8v.8h-.8zM278.6 102.5h.8v.8h-.8zM278.8 101.9h.8v.8h-.8zM275.0 105.4h.8v.8h-.8zM269.3 105.1h.8v.8h-.8zM274.4 99.6h.8v.8h-.8zM276.1 108.6h.8v.8h-.8zM276.2 110.6h.8v.8h-.8zM273.9 100.3h.8v.8h-.8zM282.1 107.1h.8v.8h-.8zM280.2 102.2h.8v.8h-.8zM279.8 106.5h.8v.8h-.8zM279.3 105.6h.8v.8h-.8zM281.0 102.9h.8v.8h-.8zM274.5 99.6h.8v.8h-.8zM280.9 102.5h.8v.8h-.8zM274.3 101.7h.8v.8h-.8zM276.1 100.4h.8v.8h-.8zM276.5 103.0h.8v.8h-.8zM275.7 101.7h.8v.8h-.8zM277.5 103.7h.8v.8h-.8zM277.7 106.5h.8v.8h-.8zM278.4 96.7h.8v.8h-.8zM275.8 102.3h.8v.8h-.8zM279.7 99.2h.8v.8h-.8zM275.3 104.3h.8v.8h-.8zM276.4 109.5h.8v.8h-.8zM276.1 109.4h.8v.8h-.8zM273.0 98.3h.8v.8h-.8zM281.1 107.2h.8v.8h-.8zM278.9 106.0h.8v.8h-.8zM278.9 100.6h.8v.8h-.8zM280.2 103.4h.8v.8h-.8zM280.4 105.9h.8v.8h-.8zM271.5 100.4h.8v.8h-.8zM280.8 105.0h.8v.8h-.8zM276.2 106.5h.8v.8h-.8zM276.1 103.3h.8v.8h-.8zM277.7 106.1h.8v.8h-.8zM282.0 105.7h.8v.8h-.8zM283.0 112.7h.8v.8h-.8zM282.5 109.7h.8v.8h-.8zM277.8 106.0h.8v.8h-.8zM277.0 102.6h.8v.8h-.8zM277.2 102.9h.8v.8h-.8zM282.3 107.6h.8v.8h-.8zM276.1 97.8h.8v.8h-.8zM277.2 103.8h.8v.8h-.8zM274.1 101.0h.8v.8h-.8zM270.6 107.8h.8v.8h-.8zM277.2 115.8h.8v.8h-.8zM277.3 104.9h.8v.8h-.8zM281.7 106.0h.8v.8h-.8zM277.9 104.0h.8v.8h-.8zM275.6 111.5h.8v.8h-.8zM280.4 112.4h.8v.8h-.8zM276.4 105.6h.8v.8h-.8zM274.8 109.4h.8v.8h-.8zM273.2 107.8h.8v.8h-.8zM280.7 111.1h.8v.8h-.8zM274.6 109.9h.8v.8h-.8zM275.3 102.5h.8v.8h-.8zM273.4 110.1h.8v.8h-.8zM282.3 103.1h.8v.8h-.8zM275.1 104.1h.8v.8h-.8zM284.9 109.5h.8v.8h-.8zM275.8 98.3h.8v.8h-.8zM275.4 110.2h.8v.8h-.8zM283.0 104.4h.8v.8h-.8zM275.3 103.5h.8v.8h-.8zM271.7 109.1h.8v.8h-.8zM274.1 109.8h.8v.8h-.8zM272.3 100.4h.8v.8h-.8zM278.3 102.4h.8v.8h-.8zM279.7 105.5h.8v.8h-.8zM273.9 108.0h.8v.8h-.8zM279.9 97.8h.8v.8h-.8zM282.9 107.5h.8v.8h-.8zM279.7 98.1h.8v.8h-.8zM275.2 104.1h.8v.8h-.8zM280.6 99.7h.8v.8h-.8zM274.7 97.4h.8v.8h-.8zM276.7 106.9h.8v.8h-.8zM272.3 103.1h.8v.8h-.8zM278.9 111.8h.8v.8h-.8zM279.4 104.3h.8v.8h-.8zM273.9 101.8h.8v.8h-.8zM275.4 106.1h.8v.8h-.8zM277.3 112.2h.8v.8h-.8zM278.3 101.2h.8v.8h-.8zM282.0 109.3h.8v.8h-.8zM277.7 102.6h.8v.8h-.8zM271.8 101.4h.8v.8h-.8zM280.1 102.3h.8v.8h-.8zM273.4 106.3h.8v.8h-.8zM278.1 107.9h.8v.8h-.8zM279.4 111.1h.8v.8h-.8zM274.9 109.4h.8v.8h-.8zM274.4 108.3h.8v.8h-.8zM277.9 106.5h.8v.8h-.8zM280.3 105.4h.8v.8h-.8zM280.7 109.0h.8v.8h-.8zM277.8 103.2h.8v.8h-.8zM275.1 103.4h.8v.8h-.8zM276.8 105.4h.8v.8h-.8zM286.3 108.1h.8v.8h-.8zM279.7 102.1h.8v.8h-.8zM275.3 104.2h.8v.8h-.8zM278.0 101.4h.8v.8h-.8zM282.2 103.2h.8v.8h-.8zM280.6 96.2h.8v.8h-.8zM277.4 106.6h.8v.8h-.8zM278.0 107.9h.8v.8h-.8zM278.2 106.1h.8v.8h-.8zM271.7 102.6h.8v.8h-.8zM270.4 108.0h.8v.8h-.8zM278.3 104.7h.8v.8h-.8zM274.9 103.2h.8v.8h-.8zM282.9 112.4h.8v.8h-.8zM277.2 110.7h.8v.8h-.8zM272.6 97.8h.8v.8h-.8zM276.0 102.0h.8v.8h-.8zM275.7 106.3h.8v.8h-.8zM286.5 102.9h.8v.8h-.8zM277.5 106.6h.8v.8h-.8zM277.3 109.2h.8v.8h-.8zM282.7 100.5h.8v.8h-.8zM277.9 104.4h.8v.8h-.8zM278.5 99.4h.8v.8h-.8zM272.1 96.2h.8v.8h-.8zM279.0 106.3h.8v.8h-.8zM277.6 96.0h.8v.8h-.8zM276.3 102.5h.8v.8h-.8zM273.2 101.8h.8v.8h-.8zM279.5 107.7h.8v.8h-.8zM277.3 107.6h.8v.8h-.8zM275.6 105.8h.8v.8h-.8zM277.5 107.7h.8v.8h-.8zM277.2 104.9h.8v.8h-.8zM277.0 102.9h.8v.8h-.8zM284.1 107.6h.8v.8h-.8zM278.7 114.7h.8v.8h-.8zM281.6 99.3h.8v.8h-.8zM279.5 108.9h.8v.8h-.8zM283.1 110.8h.8v.8h-.8zM279.7 100.8h.8v.8h-.8zM274.8 106.6h.8v.8h-.8zM278.9 101.4h.8v.8h-.8zM276.2 103.9h.8v.8h-.8zM277.6 106.8h.8v.8h-.8zM276.5 100.6h.8v.8h-.8zM281.1 111.9h.8v.8h-.8zM277.1 109.6h.8v.8h-.8zM278.7 108.1h.8v.8h-.8zM278.8 102.4h.8v.8h-.8zM279.1 109.5h.8v.8h-.8zM274.7 113.4h.8v.8h-.8zM283.7 112.8h.8v.8h-.8zM283.4 108.5h.8v.8h-.8zM276.4 103.1h.8v.8h-.8zM275.0 106.0h.8v.8h-.8zM277.3 108.2h.8v.8h-.8zM271.3 114.7h.8v.8h-.8zM284.2 105.4h.8v.8h-.8zM279.4 107.4h.8v.8h-.8zM278.2 104.7h.8v.8h-.8zM277.0 102.2h.8v.8h-.8zM277.9 105.4h.8v.8h-.8zM278.4 102.1h.8v.8h-.8zM277.5 105.7h.8v.8h-.8zM279.2 101.2h.8v.8h-.8zM278.7 109.4h.8v.8h-.8zM279.2 104.0h.8v.8h-.8zM275.9 104.6h.8v.8h-.8zM279.6 111.7h.8v.8h-.8zM276.9 102.9h.8v.8h-.8zM278.5 106.3h.8v.8h-.8zM274.7 102.6h.8v.8h-.8zM277.1 108.2h.8v.8h-.8zM273.8 101.4h.8v.8h-.8zM278.9 100.6h.8v.8h-.8zM277.7 106.9h.8v.8h-.8zM277.1 101.4h.8v.8h-.8zM277.2 104.2h.8v.8h-.8zM278.4 102.1h.8v.8h-.8zM280.7 98.8h.8v.8h-.8zM276.9 105.5h.8v.8h-.8zM280.3 103.1h.8v.8h-.8zM279.0 103.2h.8v.8h-.8zM279.6 112.4h.8v.8h-.8zM276.2 107.3h.8v.8h-.8zM274.6 109.4h.8v.8h-.8zM281.0 105.6h.8v.8h-.8zM274.0 107.1h.8v.8h-.8zM280.8 109.9h.8v.8h-.8zM279.8 98.2h.8v.8h-.8zM275.4 111.2h.8v.8h-.8zM273.7 110.0h.8v.8h-.8zM283.0 108.5h.8v.8h-.8zM280.8 104.2h.8v.8h-.8zM273.7 105.1h.8v.8h-.8zM276.8 105.3h.8v.8h-.8zM279.5 104.9h.8v.8h-.8zM278.0 107.2h.8v.8h-.8zM277.4 112.9h.8v.8h-.8zM278.7 105.8h.8v.8h-.8zM276.8 103.0h.8v.8h-.8zM281.4 106.1h.8v.8h-.8zM274.2 103.3h.8v.8h-.8zM277.0 103.7h.8v.8h-.8zM280.7 100.9h.8v.8h-.8zM278.9 106.1h.8v.8h-.8zM273.9 105.7h.8v.8h-.8zM277.1 107.5h.8v.8h-.8zM276.0 106.7h.8v.8h-.8zM272.4 101.2h.8v.8h-.8zM279.8 109.7h.8v.8h-.8zM277.4 103.1h.8v.8h-.8zM280.6 97.1h.8v.8h-.8zM275.0 108.2h.8v.8h-.8zM279.4 101.4h.8v.8h-.8zM271.7 111.3h.8v.8h-.8zM277.9 101.9h.8v.8h-.8zM277.6 109.1h.8v.8h-.8zM269.6 109.9h.8v.8h-.8zM279.6 97.2h.8v.8h-.8zM279.7 98.4h.8v.8h-.8zM280.8 107.1h.8v.8h-.8zM284.2 103.1h.8v.8h-.8zM277.4 109.7h.8v.8h-.8zM275.5 102.7h.8v.8h-.8zM276.3 105.2h.8v.8h-.8zM274.2 107.4h.8v.8h-.8zM279.0 105.8h.8v.8h-.8zM282.5 104.2h.8v.8h-.8zM281.3 103.3h.8v.8h-.8zM279.7 97.8h.8v.8h-.8zM278.0 104.8h.8v.8h-.8zM275.9 103.1h.8v.8h-.8zM276.4 102.6h.8v.8h-.8zM270.8 103.1h.8v.8h-.8zM275.8 103.4h.8v.8h-.8zM274.2 105.0h.8v.8h-.8zM279.8 104.5h.8v.8h-.8zM275.9 110.9h.8v.8h-.8zM280.3 109.2h.8v.8h-.8zM280.9 104.2h.8v.8h-.8zM277.0 110.0h.8v.8h-.8zM275.7 105.0h.8v.8h-.8zM278.5 107.0h.8v.8h-.8zM276.6 109.4h.8v.8h-.8zM276.9 108.4h.8v.8h-.8zM280.6 108.1h.8v.8h-.8zM279.6 100.9h.8v.8h-.8zM273.5 103.0h.8v.8h-.8zM278.8 111.5h.8v.8h-.8zM273.7 106.7h.8v.8h-.8zM274.8 102.6h.8v.8h-.8zM276.6 108.3h.8v.8h-.8zM278.0 110.2h.8v.8h-.8zM274.4 109.1h.8v.8h-.8zM280.2 105.8h.8v.8h-.8zM278.8 103.2h.8v.8h-.8zM274.1 103.9h.8v.8h-.8zM275.5 117.1h.8v.8h-.8zM275.9 112.1h.8v.8h-.8zM278.0 106.7h.8v.8h-.8zM279.6 102.4h.8v.8h-.8zM280.1 107.0h.8v.8h-.8zM272.9 107.9h.8v.8h-.8zM279.1 107.3h.8v.8h-.8zM282.2 103.8h.8v.8h-.8zM278.9 108.5h.8v.8h-.8zM274.7 110.3h.8v.8h-.8zM273.0 100.3h.8v.8h-.8zM279.0 101.1h.8v.8h-.8zM277.1 98.9h.8v.8h-.8zM277.6 101.0h.8v.8h-.8zM278.4 99.4h.8v.8h-.8zM278.7 104.4h.8v.8h-.8zM277.6 105.2h.8v.8h-.8zM277.8 100.2h.8v.8h-.8zM269.7 105.6h.8v.8h-.8zM274.6 103.7h.8v.8h-.8zM278.7 97.6h.8v.8h-.8zM275.1 103.1h.8v.8h-.8zM274.2 106.8h.8v.8h-.8zM277.0 102.2h.8v.8h-.8zM274.4 108.7h.8v.8h-.8zM275.4 107.8h.8v.8h-.8zM278.7 97.9h.8v.8h-.8zM274.1 105.5h.8v.8h-.8zM278.4 108.6h.8v.8h-.8zM279.8 109.6h.8v.8h-.8zM276.3 104.7h.8v.8h-.8zM279.7 103.8h.8v.8h-.8zM280.6 99.1h.8v.8h-.8zM279.4 104.8h.8v.8h-.8zM271.5 109.4h.8v.8h-.8zM278.3 105.6h.8v.8h-.8zM274.2 103.6h.8v.8h-.8zM281.9 102.2h.8v.8h-.8zM267.0 102.1h.8v.8h-.8zM273.8 105.0h.8v.8h-.8zM276.2 101.9h.8v.8h-.8zM274.9 109.7h.8v.8h-.8zM273.1 113.3h.8v.8h-.8zM275.8 101.1h.8v.8h-.8zM279.8 107.8h.8v.8h-.8zM274.3 108.5h.8v.8h-.8zM271.9 101.8h.8v.8h-.8zM280.8 104.5h.8v.8h-.8zM273.5 107.6h.8v.8h-.8zM280.2 105.4h.8v.8h-.8zM272.0 104.1h.8v.8h-.8zM278.7 108.6h.8v.8h-.8zM283.0 104.5h.8v.8h-.8zM276.0 105.3h.8v.8h-.8zM281.0 101.7h.8v.8h-.8zM281.3 94.5h.8v.8h-.8zM279.8 102.8h.8v.8h-.8zM278.8 108.3h.8v.8h-.8zM273.9 105.2h.8v.8h-.8zM278.1 107.8h.8v.8h-.8zM274.6 101.5h.8v.8h-.8zM271.6 115.7h.8v.8h-.8zM276.8 104.6h.8v.8h-.8zM272.9 109.2h.8v.8h-.8zM275.8 111.2h.8v.8h-.8zM280.0 105.6h.8v.8h-.8zM279.6 101.1h.8v.8h-.8zM276.4 103.2h.8v.8h-.8zM273.6 105.6h.8v.8h-.8zM277.0 111.2h.8v.8h-.8zM267.3 102.8h.8v.8h-.8zM274.6 103.6h.8v.8h-.8zM278.7 107.1h.8v.8h-.8zM277.5 103.6h.8v.8h-.8zM278.9 106.9h.8v.8h-.8zM271.9 104.5h.8v.8h-.8zM273.3 100.8h.8v.8h-.8zM277.8 105.7h.8v.8h-.8zM277.7 102.0h.8v.8h-.8zM276.8 101.8h.8v.8h-.8zM278.5 108.3h.8v.8h-.8zM282.7 110.6h.8v.8h-.8zM275.0 103.7h.8v.8h-.8zM274.6 106.7h.8v.8h-.8zM283.3 108.3h.8v.8h-.8zM270.8 100.5h.8v.8h-.8zM273.5 107.6h.8v.8h-.8zM277.4 106.7h.8v.8h-.8zM282.7 102.2h.8v.8h-.8zM274.9 113.4h.8v.8h-.8zM278.4 102.4h.8v.8h-.8zM271.3 99.4h.8v.8h-.8zM270.1 105.8h.8v.8h-.8zM277.5 109.5h.8v.8h-.8zM277.0 102.7h.8v.8h-.8zM275.2 113.1h.8v.8h-.8zM272.1 106.2h.8v.8h-.8zM277.5 108.0h.8v.8h-.8zM276.2 107.5h.8v.8h-.8zM279.8 104.9h.8v.8h-.8zM276.0 104.8h.8v.8h-.8zM274.5 104.7h.8v.8h-.8zM276.5 106.3h.8v.8h-.8zM281.4 110.7h.8v.8h-.8zM276.1 107.9h.8v.8h-.8zM278.3 108.5h.8v.8h-.8zM277.5 106.6h.8v.8h-.8zM276.0 102.4h.8v.8h-.8zM280.0 110.7h.8v.8h-.8zM279.4 107.2h.8v.8h-.8zM278.2 103.7h.8v.8h-.8zM272.1 108.2h.8v.8h-.8zM278.0 103.3h.8v.8h-.8zM274.5 110.6h.8v.8h-.8zM272.0 112.5h.8v.8h-.8zM279.3 115.0h.8v.8h-.8zM275.2 105.4h.8v.8h-.8zM275.9 106.1h.8v.8h-.8zM276.8 102.5h.8v.8h-.8zM280.6 102.4h.8v.8h-.8zM275.9 107.7h.8v.8h-.8zM275.8 103.8h.8v.8h-.8zM278.5 104.0h.8v.8h-.8zM273.7 105.1h.8v.8h-.8zM276.7 112.3h.8v.8h-.8zM274.1 109.4h.8v.8h-.8zM275.0 104.1h.8v.8h-.8zM276.4 106.6h.8v.8h-.8zM280.0 112.5h.8v.8h-.8zM275.5 110.8h.8v.8h-.8zM280.4 108.8h.8v.8h-.8zM275.1 109.1h.8v.8h-.8zM277.1 106.9h.8v.8h-.8zM276.6 108.2h.8v.8h-.8zM280.7 110.0h.8v.8h-.8zM276.8 109.5h.8v.8h-.8zM281.8 101.8h.8v.8h-.8zM281.8 100.2h.8v.8h-.8zM279.0 107.9h.8v.8h-.8zM281.8 106.6h.8v.8h-.8zM276.0 102.3h.8v.8h-.8zM273.6 108.6h.8v.8h-.8zM276.7 102.6h.8v.8h-.8zM279.0 102.4h.8v.8h-.8zM276.1 103.7h.8v.8h-.8zM282.4 111.4h.8v.8h-.8zM276.9 99.2h.8v.8h-.8zM278.2 105.8h.8v.8h-.8zM278.4 107.8h.8v.8h-.8zM276.4 109.2h.8v.8h-.8zM279.9 106.3h.8v.8h-.8zM276.2 103.6h.8v.8h-.8zM279.5 101.1h.8v.8h-.8zM276.9 102.5h.8v.8h-.8zM273.2 107.9h.8v.8h-.8zM277.3 105.6h.8v.8h-.8zM280.0 99.5h.8v.8h-.8zM277.2 106.7h.8v.8h-.8zM279.9 101.2h.8v.8h-.8zM279.5 106.4h.8v.8h-.8zM281.5 110.1h.8v.8h-.8zM279.0 114.1h.8v.8h-.8zM277.4 103.8h.8v.8h-.8zM276.4 101.7h.8v.8h-.8zM277.3 98.0h.8v.8h-.8zM277.1 107.2h.8v.8h-.8zM280.4 104.1h.8v.8h-.8zM281.6 102.9h.8v.8h-.8zM277.0 98.0h.8v.8h-.8zM275.1 102.3h.8v.8h-.8zM281.8 107.6h.8v.8h-.8zM274.2 107.6h.8v.8h-.8zM278.8 104.6h.8v.8h-.8zM277.5 104.3h.8v.8h-.8zM275.8 98.6h.8v.8h-.8zM277.1 110.5h.8v.8h-.8zM281.6 104.4h.8v.8h-.8zM275.2 104.7h.8v.8h-.8zM280.0 106.9h.8v.8h-.8zM275.7 106.9h.8v.8h-.8zM276.8 107.5h.8v.8h-.8zM276.2 99.8h.8v.8h-.8zM277.6 108.5h.8v.8h-.8zM274.2 105.1h.8v.8h-.8zM280.0 104.0h.8v.8h-.8zM275.5 113.4h.8v.8h-.8zM279.8 109.5h.8v.8h-.8zM274.6 111.9h.8v.8h-.8zM272.6 103.5h.8v.8h-.8zM279.6 110.7h.8v.8h-.8zM274.7 102.9h.8v.8h-.8zM278.0 98.0h.8v.8h-.8zM279.3 107.7h.8v.8h-.8zM276.1 107.6h.8v.8h-.8zM279.7 106.7h.8v.8h-.8zM278.9 111.4h.8v.8h-.8zM276.0 106.1h.8v.8h-.8zM275.9 109.5h.8v.8h-.8zM276.2 107.3h.8v.8h-.8zM277.8 105.8h.8v.8h-.8zM282.4 105.2h.8v.8h-.8zM281.5 108.7h.8v.8h-.8zM281.2 104.9h.8v.8h-.8zM280.1 108.4h.8v.8h-.8zM275.6 106.5h.8v.8h-.8zM277.0 105.4h.8v.8h-.8zM281.2 102.7h.8v.8h-.8zM272.5 98.8h.8v.8h-.8zM276.1 103.0h.8v.8h-.8zM277.4 107.7h.8v.8h-.8zM282.5 106.7h.8v.8h-.8zM278.7 102.7h.8v.8h-.8zM279.1 110.7h.8v.8h-.8zM281.3 98.0h.8v.8h-.8zM280.0 111.6h.8v.8h-.8zM279.8 99.7h.8v.8h-.8zM276.5 107.8h.8v.8h-.8zM278.6 102.4h.8v.8h-.8zM274.8 109.2h.8v.8h-.8zM273.5 111.0h.8v.8h-.8zM277.5 106.7h.8v.8h-.8zM273.5 103.2h.8v.8h-.8zM279.4 99.8h.8v.8h-.8zM283.4 100.1h.8v.8h-.8zM273.9 105.7h.8v.8h-.8zM278.8 108.3h.8v.8h-.8zM276.3 104.7h.8v.8h-.8zM276.7 103.3h.8v.8h-.8zM270.0 109.2h.8v.8h-.8zM278.1 106.1h.8v.8h-.8zM275.6 106.5h.8v.8h-.8zM277.4 105.2h.8v.8h-.8zM280.6 98.9h.8v.8h-.8zM278.1 101.4h.8v.8h-.8zM276.5 111.3h.8v.8h-.8zM274.3 105.1h.8v.8h-.8zM275.7 109.1h.8v.8h-.8zM274.6 99.0h.8v.8h-.8zM278.9 104.1h.8v.8h-.8zM276.5 109.7h.8v.8h-.8zM274.8 104.1h.8v.8h-.8zM277.8 107.1h.8v.8h-.8zM275.9 109.5h.8v.8h-.8zM283.9 103.9h.8v.8h-.8zM282.8 97.4h.8v.8h-.8zM281.5 104.2h.8v.8h-.8zM277.8 104.2h.8v.8h-.8zM275.6 100.6h.8v.8h-.8zM276.3 110.5h.8v.8h-.8zM280.7 104.2h.8v.8h-.8zM275.9 102.8h.8v.8h-.8zM273.9 112.4h.8v.8h-.8zM279.3 106.0h.8v.8h-.8zM276.0 101.6h.8v.8h-.8zM281.2 108.5h.8v.8h-.8zM274.7 109.3h.8v.8h-.8zM274.2 108.0h.8v.8h-.8zM274.6 103.9h.8v.8h-.8zM278.8 107.2h.8v.8h-.8zM280.3 102.3h.8v.8h-.8zM281.9 110.7h.8v.8h-.8zM277.4 107.3h.8v.8h-.8zM275.2 104.9h.8v.8h-.8zM273.6 105.8h.8v.8h-.8zM278.0 110.7h.8v.8h-.8zM280.1 108.6h.8v.8h-.8zM276.4 104.6h.8v.8h-.8zM276.4 106.4h.8v.8h-.8zM271.8 108.5h.8v.8h-.8zM272.9 103.5h.8v.8h-.8zM277.5 103.5h.8v.8h-.8zM282.2 105.1h.8v.8h-.8zM281.9 110.0h.8v.8h-.8zM276.0 107.0h.8v.8h-.8zM281.1 104.2h.8v.8h-.8zM277.7 103.4h.8v.8h-.8zM277.6 104.1h.8v.8h-.8zM277.6 109.3h.8v.8h-.8zM281.4 106.0h.8v.8h-.8zM278.0 108.8h.8v.8h-.8zM276.6 101.4h.8v.8h-.8zM280.6 101.9h.8v.8h-.8zM280.1 101.8h.8v.8h-.8zM282.7 101.5h.8v.8h-.8zM279.8 111.3h.8v.8h-.8zM274.6 111.2h.8v.8h-.8zM275.0 98.7h.8v.8h-.8zM279.5 108.2h.8v.8h-.8zM276.8 95.8h.8v.8h-.8zM277.2 104.3h.8v.8h-.8zM276.3 104.4h.8v.8h-.8zM272.2 103.3h.8v.8h-.8zM282.6 111.4h.8v.8h-.8zM276.4 102.8h.8v.8h-.8zM278.5 109.6h.8v.8h-.8zM279.5 101.0h.8v.8h-.8zM277.9 106.0h.8v.8h-.8zM281.5 110.1h.8v.8h-.8zM278.9 110.2h.8v.8h-.8zM276.3 111.4h.8v.8h-.8zM276.2 107.0h.8v.8h-.8zM280.0 102.0h.8v.8h-.8zM275.4 98.7h.8v.8h-.8zM277.9 105.3h.8v.8h-.8zM276.5 107.4h.8v.8h-.8zM271.3 105.4h.8v.8h-.8zM277.7 104.5h.8v.8h-.8zM279.7 112.2h.8v.8h-.8zM276.1 101.9h.8v.8h-.8zM275.7 105.9h.8v.8h-.8zM279.1 102.2h.8v.8h-.8zM280.3 101.6h.8v.8h-.8zM279.8 107.1h.8v.8h-.8zM278.7 113.8h.8v.8h-.8zM276.6 104.9h.8v.8h-.8zM278.8 108.8h.8v.8h-.8zM273.5 106.6h.8v.8h-.8zM275.3 107.9h.8v.8h-.8zM281.3 105.7h.8v.8h-.8zM277.1 106.2h.8v.8h-.8zM268.9 108.5h.8v.8h-.8zM279.0 106.1h.8v.8h-.8zM276.3 102.7h.8v.8h-.8zM276.9 110.2h.8v.8h-.8zM277.1 110.7h.8v.8h-.8zM270.0 103.7h.8v.8h-.8zM278.2 105.4h.8v.8h-.8zM272.6 102.9h.8v.8h-.8zM281.0 100.5h.8v.8h-.8zM274.5 101.3h.8v.8h-.8zM275.8 108.0h.8v.8h-.8zM279.1 97.7h.8v.8h-.8zM281.6 103.2h.8v.8h-.8zM275.7 111.9h.8v.8h-.8zM277.2 100.7h.8v.8h-.8zM275.6 102.7h.8v.8h-.8zM274.5 104.2h.8v.8h-.8zM279.9 106.8h.8v.8h-.8zM273.4 116.2h.8v.8h-.8zM274.5 105.9h.8v.8h-.8zM277.5 108.4h.8v.8h-.8zM276.5 107.3h.8v.8h-.8zM283.5 105.9h.8v.8h-.8zM274.3 106.8h.8v.8h-.8zM275.1 104.1h.8v.8h-.8zM277.9 106.8h.8v.8h-.8zM276.6 108.8h.8v.8h-.8zM276.8 100.5h.8v.8h-.8zM279.9 104.1h.8v.8h-.8zM280.9 103.0h.8v.8h-.8zM279.0 106.7h.8v.8h-.8zM269.6 99.8h.8v.8h-.8zM274.2 110.9h.8v.8h-.8zM272.0 109.0h.8v.8h-.8zM280.5 107.4h.8v.8h-.8zM279.3 103.6h.8v.8h-.8zM277.4 106.4h.8v.8h-.8zM278.6 108.2h.8v.8h-.8zM276.8 102.8h.8v.8h-.8zM275.8 107.1h.8v.8h-.8zM272.6 100.7h.8v.8h-.8zM276.2 103.4h.8v.8h-.8zM276.6 95.3h.8v.8h-.8zM276.4 104.5h.8v.8h-.8zM279.6 97.9h.8v.8h-.8zM276.5 107.3h.8v.8h-.8zM278.8 110.1h.8v.8h-.8zM280.4 101.5h.8v.8h-.8zM279.2 104.2h.8v.8h-.8zM275.1 111.4h.8v.8h-.8zM275.6 102.2h.8v.8h-.8zM276.2 102.2h.8v.8h-.8zM280.3 107.0h.8v.8h-.8zM281.4 107.1h.8v.8h-.8zM275.6 109.5h.8v.8h-.8zM275.5 103.7h.8v.8h-.8zM276.9 105.7h.8v.8h-.8zM280.8 103.2h.8v.8h-.8zM278.4 105.4h.8v.8h-.8zM273.8 101.3h.8v.8h-.8zM276.8 107.1h.8v.8h-.8zM278.3 107.3h.8v.8h-.8zM277.5 103.8h.8v.8h-.8zM278.6 101.6h.8v.8h-.8zM273.5 104.2h.8v.8h-.8zM273.3 103.5h.8v.8h-.8zM275.2 103.4h.8v.8h-.8zM277.3 102.4h.8v.8h-.8zM276.2 98.9h.8v.8h-.8zM277.8 102.1h.8v.8h-.8zM278.6 94.6h.8v.8h-.8zM275.1 106.4h.8v.8h-.8zM270.3 104.1h.8v.8h-.8zM277.7 105.9h.8v.8h-.8zM273.1 106.4h.8v.8h-.8zM277.8 101.7h.8v.8h-.8zM279.6 105.3h.8v.8h-.8zM277.5 103.8h.8v.8h-.8zM279.0 105.9h.8v.8h-.8zM280.7 107.2h.8v.8h-.8zM275.6 104.6h.8v.8h-.8zM280.1 104.1h.8v.8h-.8zM278.5 107.5h.8v.8h-.8zM276.9 96.5h.8v.8h-.8zM277.8 106.3h.8v.8h-.8zM277.8 102.6h.8v.8h-.8zM280.9 105.0h.8v.8h-.8zM275.6 102.7h.8v.8h-.8zM278.4 101.3h.8v.8h-.8zM274.5 113.2h.8v.8h-.8zM281.2 109.6h.8v.8h-.8zM281.4 107.8h.8v.8h-.8zM272.5 110.1h.8v.8h-.8zM281.0 107.4h.8v.8h-.8zM271.7 110.3h.8v.8h-.8zM281.4 103.6h.8v.8h-.8zM277.8 108.5h.8v.8h-.8zM277.2 109.8h.8v.8h-.8zM277.6 108.2h.8v.8h-.8zM277.6 99.8h.8v.8h-.8zM274.5 117.8h.8v.8h-.8zM278.2 110.6h.8v.8h-.8zM280.7 112.1h.8v.8h-.8zM279.0 103.2h.8v.8h-.8zM277.5 98.1h.8v.8h-.8zM276.9 109.0h.8v.8h-.8zM271.1 106.3h.8v.8h-.8zM279.8 110.7h.8v.8h-.8zM274.7 103.0h.8v.8h-.8zM271.9 101.5h.8v.8h-.8zM279.0 113.5h.8v.8h-.8zM274.1 110.9h.8v.8h-.8zM278.6 103.6h.8v.8h-.8zM283.8 95.7h.8v.8h-.8zM277.2 106.4h.8v.8h-.8zM283.6 112.5h.8v.8h-.8zM284.0 106.0h.8v.8h-.8zM280.3 110.8h.8v.8h-.8zM278.9 106.9h.8v.8h-.8zM276.9 103.9h.8v.8h-.8zM273.8 113.1h.8v.8h-.8zM276.1 97.4h.8v.8h-.8zM278.2 105.4h.8v.8h-.8zM277.9 112.6h.8v.8h-.8zM277.1 104.5h.8v.8h-.8zM275.2 105.4h.8v.8h-.8zM276.1 106.3h.8v.8h-.8zM286.5 107.0h.8v.8h-.8zM274.9 113.0h.8v.8h-.8zM279.9 108.7h.8v.8h-.8zM279.5 108.7h.8v.8h-.8zM279.4 111.0h.8v.8h-.8zM280.3 110.7h.8v.8h-.8zM275.9 105.5h.8v.8h-.8zM275.3 109.2h.8v.8h-.8zM279.8 103.7h.8v.8h-.8zM279.1 115.7h.8v.8h-.8zM281.0 101.2h.8v.8h-.8zM277.1 108.0h.8v.8h-.8zM277.3 107.0h.8v.8h-.8zM280.8 106.8h.8v.8h-.8zM274.2 108.3h.8v.8h-.8zM277.1 105.9h.8v.8h-.8zM275.7 100.1h.8v.8h-.8zM273.8 104.1h.8v.8h-.8zM274.3 94.9h.8v.8h-.8zM280.8 101.0h.8v.8h-.8zM275.3 107.6h.8v.8h-.8zM270.4 110.7h.8v.8h-.8zM275.2 108.1h.8v.8h-.8zM276.0 106.7h.8v.8h-.8zM277.7 105.5h.8v.8h-.8zM272.1 99.8h.8v.8h-.8zM277.3 111.0h.8v.8h-.8zM316.4 116.7h.8v.8h-.8zM304.6 122.6h.8v.8h-.8zM319.1 119.3h.8v.8h-.8zM296.4 111.8h.8v.8h-.8zM331.4 124.8h.8v.8h-.8zM328.3 109.3h.8v.8h-.8zM315.6 105.4h.8v.8h-.8zM325.8 104.1h.8v.8h-.8zM314.9 94.3h.8v.8h-.8zM296.6 125.7h.8v.8h-.8zM314.2 112.1h.8v.8h-.8zM336.7 97.0h.8v.8h-.8zM307.5 109.3h.8v.8h-.8zM299.4 101.0h.8v.8h-.8zM299.6 116.6h.8v.8h-.8zM313.0 117.0h.8v.8h-.8zM301.4 116.1h.8v.8h-.8zM308.5 111.6h.8v.8h-.8zM324.0 109.9h.8v.8h-.8zM309.6 97.8h.8v.8h-.8zM314.2 116.6h.8v.8h-.8zM306.4 110.5h.8v.8h-.8zM293.6 101.7h.8v.8h-.8zM318.0 120.3h.8v.8h-.8zM310.0 97.7h.8v.8h-.8zM309.2 98.6h.8v.8h-.8zM310.4 125.9h.8v.8h-.8zM316.9 109.0h.8v.8h-.8zM325.2 106.6h.8v.8h-.8zM317.2 111.8h.8v.8h-.8zM318.5 98.6h.8v.8h-.8zM321.5 116.8h.8v.8h-.8zM303.4 123.0h.8v.8h-.8zM313.7 115.8h.8v.8h-.8zM319.8 117.0h.8v.8h-.8zM306.3 106.5h.8v.8h-.8zM317.7 114.9h.8v.8h-.8zM320.0 112.6h.8v.8h-.8zM308.0 119.6h.8v.8h-.8zM318.8 118.4h.8v.8h-.8zM306.0 112.1h.8v.8h-.8zM308.1 108.5h.8v.8h-.8zM315.7 113.1h.8v.8h-.8zM304.5 91.3h.8v.8h-.8zM304.7 115.5h.8v.8h-.8zM304.0 114.6h.8v.8h-.8zM309.3 103.4h.8v.8h-.8zM326.7 122.5h.8v.8h-.8zM312.3 110.2h.8v.8h-.8zM324.4 99.2h.8v.8h-.8zM303.6 120.2h.8v.8h-.8zM323.7 105.8h.8v.8h-.8zM304.7 114.0h.8v.8h-.8zM297.5 107.8h.8v.8h-.8zM310.9 91.3h.8v.8h-.8zM320.2 116.0h.8v.8h-.8zM325.6 98.2h.8v.8h-.8zM298.9 105.2h.8v.8h-.8zM298.7 127.9h.8v.8h-.8zM302.4 108.9h.8v.8h-.8zM315.8 113.9h.8v.8h-.8zM330.0 100.6h.8v.8h-.8zM323.5 110.9h.8v.8h-.8zM300.2 112.8h.8v.8h-.8zM297.5 124.6h.8v.8h-.8zM305.2 119.1h.8v.8h-.8zM328.3 104.4h.8v.8h-.8zM303.3 112.4h.8v.8h-.8zM301.5 118.6h.8v.8h-.8zM315.5 104.3h.8v.8h-.8zM305.7 116.9h.8v.8h-.8zM297.0 125.2h.8v.8h-.8zM304.5 109.7h.8v.8h-.8zM302.9 124.3h.8v.8h-.8zM322.9 120.1h.8v.8h-.8zM321.0 110.6h.8v.8h-.8zM332.9 114.2h.8v.8h-.8zM318.5 114.7h.8v.8h-.8zM321.9 112.0h.8v.8h-.8zM311.6 98.0h.8v.8h-.8zM337.1 98.3h.8v.8h-.8zM335.6 118.4h.8v.8h-.8zM306.6 113.2h.8v.8h-.8zM313.2 94.7h.8v.8h-.8zM309.7 113.1h.8v.8h-.8zM326.9 99.8h.8v.8h-.8zM317.3 110.8h.8v.8h-.8zM315.2 111.5h.8v.8h-.8zM309.3 99.9h.8v.8h-.8zM318.7 113.2h.8v.8h-.8zM320.1 119.9h.8v.8h-.8zM299.3 93.0h.8v.8h-.8zM293.0 129.2h.8v.8h-.8zM303.0 114.5h.8v.8h-.8zM313.3 116.3h.8v.8h-.8zM311.5 105.9h.8v.8h-.8zM316.3 114.4h.8v.8h-.8zM302.4 121.9h.8v.8h-.8zM326.7 113.0h.8v.8h-.8zM312.2 108.7h.8v.8h-.8zM294.6 117.3h.8v.8h-.8zM302.3 107.4h.8v.8h-.8zM325.0 102.2h.8v.8h-.8zM307.5 117.8h.8v.8h-.8zM334.9 103.3h.8v.8h-.8zM326.2 104.3h.8v.8h-.8zM318.0 114.0h.8v.8h-.8zM300.4 119.7h.8v.8h-.8zM334.2 109.3h.8v.8h-.8zM316.6 100.9h.8v.8h-.8zM334.1 109.4h.8v.8h-.8zM298.8 117.8h.8v.8h-.8zM296.7 106.4h.8v.8h-.8zM338.9 103.4h.8v.8h-.8zM306.0 106.5h.8v.8h-.8zM307.0 115.5h.8v.8h-.8zM330.3 101.1h.8v.8h-.8zM318.6 95.7h.8v.8h-.8zM331.0 108.4h.8v.8h-.8zM305.4 123.4h.8v.8h-.8zM312.3 121.6h.8v.8h-.8zM325.9 122.8h.8v.8h-.8zM304.3 111.7h.8v.8h-.8zM317.7 108.6h.8v.8h-.8zM331.0 103.4h.8v.8h-.8zM325.0 120.5h.8v.8h-.8zM291.0 104.5h.8v.8h-.8zM303.1 107.0h.8v.8h-.8zM318.0 108.8h.8v.8h-.8zM314.4 106.8h.8v.8h-.8zM312.6 114.5h.8v.8h-.8zM322.1 103.6h.8v.8h-.8zM312.2 104.5h.8v.8h-.8zM311.4 99.2h.8v.8h-.8zM324.5 115.0h.8v.8h-.8zM312.1 105.1h.8v.8h-.8zM308.3 105.6h.8v.8h-.8zM295.7 125.0h.8v.8h-.8zM300.1 116.2h.8v.8h-.8zM320.5 97.4h.8v.8h-.8zM291.4 116.6h.8v.8h-.8zM307.8 111.6h.8v.8h-.8zM313.5 106.0h.8v.8h-.8zM311.9 108.2h.8v.8h-.8zM327.8 108.6h.8v.8h-.8zM313.1 106.3h.8v.8h-.8zM306.2 105.2h.8v.8h-.8zM313.6 125.2h.8v.8h-.8zM326.3 111.4h.8v.8h-.8zM332.7 117.1h.8v.8h-.8zM315.9 109.0h.8v.8h-.8zM300.9 113.5h.8v.8h-.8zM309.9 98.1h.8v.8h-.8zM298.7 127.2h.8v.8h-.8zM316.0 114.3h.8v.8h-.8zM315.8 106.6h.8v.8h-.8zM318.8 118.7h.8v.8h-.8zM309.9 114.9h.8v.8h-.8zM325.3 105.7h.8v.8h-.8zM315.4 104.4h.8v.8h-.8zM320.4 107.0h.8v.8h-.8zM326.7 103.3h.8v.8h-.8zM332.9 106.5h.8v.8h-.8zM303.8 104.0h.8v.8h-.8zM321.1 103.0h.8v.8h-.8zM334.3 119.1h.8v.8h-.8zM319.5 98.6h.8v.8h-.8zM313.2 104.7h.8v.8h-.8zM292.7 115.6h.8v.8h-.8zM338.8 104.2h.8v.8h-.8zM322.8 120.0h.8v.8h-.8zM302.4 108.7h.8v.8h-.8zM316.6 114.0h.8v.8h-.8zM300.3 113.3h.8v.8h-.8zM312.3 118.2h.8v.8h-.8zM295.1 107.5h.8v.8h-.8zM307.7 108.4h.8v.8h-.8zM321.8 104.8h.8v.8h-.8zM345.0 102.3h.8v.8h-.8zM323.2 117.9h.8v.8h-.8zM324.6 108.0h.8v.8h-.8zM304.0 109.2h.8v.8h-.8zM321.2 110.9h.8v.8h-.8zM320.2 114.6h.8v.8h-.8zM303.3 103.8h.8v.8h-.8zM330.1 105.3h.8v.8h-.8zM295.3 126.8h.8v.8h-.8zM303.9 103.8h.8v.8h-.8zM324.6 100.6h.8v.8h-.8zM303.5 119.7h.8v.8h-.8zM315.0 110.8h.8v.8h-.8zM306.1 109.3h.8v.8h-.8zM307.7 110.8h.8v.8h-.8zM322.4 99.6h.8v.8h-.8zM302.9 94.6h.8v.8h-.8zM330.8 108.5h.8v.8h-.8zM313.3 110.0h.8v.8h-.8zM325.1 112.1h.8v.8h-.8zM323.3 108.4h.8v.8h-.8zM312.1 110.2h.8v.8h-.8zM292.1 120.9h.8v.8h-.8zM295.4 104.0h.8v.8h-.8zM321.2 110.3h.8v.8h-.8zM322.8 123.4h.8v.8h-.8zM334.9 119.8h.8v.8h-.8zM310.9 127.1h.8v.8h-.8zM303.4 110.6h.8v.8h-.8zM325.0 107.9h.8v.8h-.8zM312.1 107.8h.8v.8h-.8zM329.2 89.5h.8v.8h-.8zM328.1 117.8h.8v.8h-.8zM312.7 115.1h.8v.8h-.8zM302.4 120.3h.8v.8h-.8zM329.6 108.8h.8v.8h-.8zM309.6 106.9h.8v.8h-.8zM311.3 100.7h.8v.8h-.8zM297.9 125.0h.8v.8h-.8zM313.3 114.9h.8v.8h-.8zM317.1 114.0h.8v.8h-.8zM296.0 104.3h.8v.8h-.8zM320.8 117.9h.8v.8h-.8zM300.3 106.9h.8v.8h-.8zM301.2 116.7h.8v.8h-.8zM317.5 110.4h.8v.8h-.8zM306.0 113.8h.8v.8h-.8zM313.9 104.5h.8v.8h-.8zM317.3 104.9h.8v.8h-.8zM324.4 114.6h.8v.8h-.8zM305.6 115.8h.8v.8h-.8zM314.3 104.8h.8v.8h-.8zM303.0 98.0h.8v.8h-.8zM300.5 114.3h.8v.8h-.8zM327.4 104.4h.8v.8h-.8zM315.3 113.1h.8v.8h-.8zM322.5 113.3h.8v.8h-.8zM327.6 115.5h.8v.8h-.8zM304.7 114.4h.8v.8h-.8zM313.7 115.1h.8v.8h-.8zM310.0 117.4h.8v.8h-.8zM328.7 102.6h.8v.8h-.8zM307.3 113.1h.8v.8h-.8zM319.1 111.2h.8v.8h-.8zM323.1 100.3h.8v.8h-.8zM322.4 119.1h.8v.8h-.8zM326.3 112.9h.8v.8h-.8zM310.8 113.9h.8v.8h-.8zM312.6 97.9h.8v.8h-.8zM306.5 110.7h.8v.8h-.8zM307.6 103.5h.8v.8h-.8zM310.8 107.7h.8v.8h-.8zM314.3 110.0h.8v.8h-.8zM315.5 118.3h.8v.8h-.8zM315.1 113.6h.8v.8h-.8zM299.4 88.0h.8v.8h-.8zM308.9 116.3h.8v.8h-.8zM309.6 105.8h.8v.8h-.8zM299.2 118.8h.8v.8h-.8zM307.4 112.9h.8v.8h-.8zM326.5 113.7h.8v.8h-.8zM339.3 107.4h.8v.8h-.8zM324.5 115.2h.8v.8h-.8zM306.0 111.5h.8v.8h-.8zM307.0 102.8h.8v.8h-.8zM316.9 104.0h.8v.8h-.8zM332.8 103.0h.8v.8h-.8zM307.2 111.7h.8v.8h-.8zM307.5 111.4h.8v.8h-.8zM306.5 99.7h.8v.8h-.8zM331.0 112.7h.8v.8h-.8zM315.3 106.6h.8v.8h-.8zM311.8 113.0h.8v.8h-.8zM297.5 105.4h.8v.8h-.8zM303.3 121.4h.8v.8h-.8zM301.4 120.9h.8v.8h-.8zM312.6 110.8h.8v.8h-.8zM329.0 116.3h.8v.8h-.8zM324.3 101.1h.8v.8h-.8zM326.6 122.9h.8v.8h-.8zM312.3 106.7h.8v.8h-.8zM300.9 119.6h.8v.8h-.8zM316.9 110.3h.8v.8h-.8zM299.3 124.6h.8v.8h-.8zM323.6 109.5h.8v.8h-.8zM330.5 101.5h.8v.8h-.8zM323.6 101.7h.8v.8h-.8zM329.7 107.0h.8v.8h-.8zM327.6 106.0h.8v.8h-.8zM318.1 119.3h.8v.8h-.8zM303.1 112.1h.8v.8h-.8zM303.9 118.1h.8v.8h-.8zM306.6 108.1h.8v.8h-.8zM311.2 120.0h.8v.8h-.8zM301.5 111.3h.8v.8h-.8zM309.7 106.4h.8v.8h-.8zM304.4 109.9h.8v.8h-.8zM315.8 97.9h.8v.8h-.8zM316.2 100.8h.8v.8h-.8zM313.7 128.7h.8v.8h-.8zM302.4 110.9h.8v.8h-.8zM310.6 118.6h.8v.8h-.8zM308.0 96.7h.8v.8h-.8zM295.0 113.4h.8v.8h-.8zM316.4 118.8h.8v.8h-.8zM307.3 116.3h.8v.8h-.8zM301.3 121.8h.8v.8h-.8zM312.7 105.1h.8v.8h-.8zM315.5 124.3h.8v.8h-.8zM303.8 101.4h.8v.8h-.8zM301.8 102.2h.8v.8h-.8zM312.9 113.4h.8v.8h-.8zM311.6 112.2h.8v.8h-.8zM327.1 107.1h.8v.8h-.8zM299.1 93.4h.8v.8h-.8zM316.3 104.8h.8v.8h-.8zM310.6 114.0h.8v.8h-.8zM318.8 97.5h.8v.8h-.8zM302.5 112.0h.8v.8h-.8zM311.8 119.8h.8v.8h-.8zM307.7 94.4h.8v.8h-.8zM327.0 96.3h.8v.8h-.8zM302.3 114.5h.8v.8h-.8zM316.2 114.6h.8v.8h-.8zM308.5 128.6h.8v.8h-.8zM319.7 104.3h.8v.8h-.8zM327.9 95.8h.8v.8h-.8zM306.8 113.3h.8v.8h-.8zM315.1 102.7h.8v.8h-.8zM331.7 120.8h.8v.8h-.8zM302.7 114.3h.8v.8h-.8zM306.2 107.6h.8v.8h-.8zM324.8 110.6h.8v.8h-.8zM312.3 111.4h.8v.8h-.8zM300.0 121.3h.8v.8h-.8zM304.9 121.7h.8v.8h-.8zM308.2 107.3h.8v.8h-.8zM330.6 110.7h.8v.8h-.8zM306.1 106.8h.8v.8h-.8zM320.5 124.9h.8v.8h-.8zM320.6 106.8h.8v.8h-.8zM300.6 106.2h.8v.8h-.8zM312.1 112.6h.8v.8h-.8zM306.0 121.3h.8v.8h-.8zM302.5 105.7h.8v.8h-.8zM319.2 113.9h.8v.8h-.8zM309.0 118.6h.8v.8h-.8zM297.3 124.9h.8v.8h-.8zM338.6 124.1h.8v.8h-.8zM314.9 126.1h.8v.8h-.8zM314.1 121.1h.8v.8h-.8zM311.2 112.2h.8v.8h-.8zM319.5 96.0h.8v.8h-.8zM311.1 124.4h.8v.8h-.8zM324.1 112.3h.8v.8h-.8zM315.7 121.4h.8v.8h-.8zM317.4 95.1h.8v.8h-.8zM302.6 109.0h.8v.8h-.8zM315.2 106.8h.8v.8h-.8zM312.3 123.9h.8v.8h-.8zM324.3 114.5h.8v.8h-.8zM313.7 111.0h.8v.8h-.8zM317.7 112.1h.8v.8h-.8zM305.2 117.4h.8v.8h-.8zM304.0 110.9h.8v.8h-.8zM309.4 101.6h.8v.8h-.8zM320.5 109.4h.8v.8h-.8zM300.1 110.9h.8v.8h-.8zM297.7 123.2h.8v.8h-.8zM319.4 125.9h.8v.8h-.8zM307.0 116.7h.8v.8h-.8zM302.4 104.6h.8v.8h-.8zM312.5 113.9h.8v.8h-.8zM324.1 107.5h.8v.8h-.8zM326.2 117.2h.8v.8h-.8zM303.5 109.9h.8v.8h-.8zM303.0 125.0h.8v.8h-.8zM307.2 118.1h.8v.8h-.8zM324.0 107.6h.8v.8h-.8zM307.9 113.7h.8v.8h-.8zM304.6 101.1h.8v.8h-.8zM302.4 114.1h.8v.8h-.8zM315.7 124.4h.8v.8h-.8zM292.6 116.2h.8v.8h-.8zM300.3 120.8h.8v.8h-.8zM321.5 110.9h.8v.8h-.8zM330.4 106.2h.8v.8h-.8zM307.4 102.6h.8v.8h-.8zM306.0 112.0h.8v.8h-.8zM321.2 120.1h.8v.8h-.8zM310.4 104.9h.8v.8h-.8zM309.7 107.4h.8v.8h-.8zM308.1 107.7h.8v.8h-.8zM303.5 110.9h.8v.8h-.8zM307.6 109.6h.8v.8h-.8zM297.7 112.9h.8v.8h-.8zM320.0 115.1h.8v.8h-.8zM307.2 101.9h.8v.8h-.8zM298.6 102.4h.8v.8h-.8zM306.2 108.6h.8v.8h-.8zM293.2 117.4h.8v.8h-.8zM295.9 106.5h.8v.8h-.8zM305.3 117.7h.8v.8h-.8zM334.5 106.0h.8v.8h-.8zM310.4 107.6h.8v.8h-.8zM311.2 109.3h.8v.8h-.8zM341.6 99.6h.8v.8h-.8zM312.3 104.3h.8v.8h-.8zM317.6 106.1h.8v.8h-.8zM320.1 101.4h.8v.8h-.8zM337.6 110.2h.8v.8h-.8zM293.4 117.7h.8v.8h-.8zM308.2 101.8h.8v.8h-.8zM318.5 106.0h.8v.8h-.8zM321.9 105.5h.8v.8h-.8zM323.8 110.9h.8v.8h-.8zM317.6 111.4h.8v.8h-.8zM309.4 108.0h.8v.8h-.8zM318.6 115.7h.8v.8h-.8zM308.9 128.6h.8v.8h-.8zM332.7 99.9h.8v.8h-.8zM325.9 109.0h.8v.8h-.8zM316.2 104.1h.8v.8h-.8zM332.3 102.5h.8v.8h-.8zM312.6 104.9h.8v.8h-.8zM335.5 118.6h.8v.8h-.8zM298.5 108.2h.8v.8h-.8zM317.6 106.8h.8v.8h-.8zM309.5 102.3h.8v.8h-.8zM316.4 101.7h.8v.8h-.8zM323.0 128.7h.8v.8h-.8zM309.8 123.8h.8v.8h-.8zM317.7 104.9h.8v.8h-.8zM309.6 103.3h.8v.8h-.8zM314.8 115.9h.8v.8h-.8zM324.1 107.5h.8v.8h-.8zM300.0 111.0h.8v.8h-.8zM332.5 111.2h.8v.8h-.8zM312.8 94.2h.8v.8h-.8zM308.6 115.2h.8v.8h-.8zM302.8 122.0h.8v.8h-.8zM307.1 104.2h.8v.8h-.8zM306.9 110.3h.8v.8h-.8zM324.8 105.2h.8v.8h-.8zM293.3 111.5h.8v.8h-.8zM319.4 122.2h.8v.8h-.8zM300.8 123.2h.8v.8h-.8zM321.2 113.5h.8v.8h-.8zM304.8 104.3h.8v.8h-.8zM302.7 118.7h.8v.8h-.8zM316.0 118.7h.8v.8h-.8zM334.1 109.0h.8v.8h-.8zM313.0 125.6h.8v.8h-.8zM298.7 108.2h.8v.8h-.8zM309.3 107.9h.8v.8h-.8zM315.1 103.8h.8v.8h-.8zM326.6 98.8h.8v.8h-.8zM304.3 98.0h.8v.8h-.8zM297.6 116.4h.8v.8h-.8zM320.6 108.4h.8v.8h-.8zM323.1 114.6h.8v.8h-.8zM307.0 110.7h.8v.8h-.8zM317.7 126.0h.8v.8h-.8zM308.5 113.8h.8v.8h-.8zM319.7 119.6h.8v.8h-.8zM318.3 118.6h.8v.8h-.8zM301.5 109.4h.8v.8h-.8zM291.6 111.9h.8v.8h-.8zM339.9 110.3h.8v.8h-.8zM314.5 112.5h.8v.8h-.8zM315.1 100.0h.8v.8h-.8zM305.7 109.8h.8v.8h-.8zM315.4 103.6h.8v.8h-.8zM312.3 104.9h.8v.8h-.8zM298.6 106.6h.8v.8h-.8zM304.4 117.8h.8v.8h-.8zM328.6 113.9h.8v.8h-.8zM311.1 106.4h.8v.8h-.8zM295.7 107.8h.8v.8h-.8zM331.2 118.2h.8v.8h-.8zM316.0 108.4h.8v.8h-.8zM313.5 113.8h.8v.8h-.8zM313.4 113.9h.8v.8h-.8zM304.8 111.6h.8v.8h-.8zM309.5 119.3h.8v.8h-.8zM299.5 121.8h.8v.8h-.8zM312.5 106.7h.8v.8h-.8zM313.7 111.5h.8v.8h-.8zM310.9 114.1h.8v.8h-.8zM307.0 97.9h.8v.8h-.8zM321.4 109.7h.8v.8h-.8zM332.3 112.1h.8v.8h-.8zM290.9 122.1h.8v.8h-.8zM305.7 115.5h.8v.8h-.8zM338.6 117.1h.8v.8h-.8zM301.1 110.8h.8v.8h-.8zM295.3 117.2h.8v.8h-.8zM319.9 102.0h.8v.8h-.8zM318.6 117.4h.8v.8h-.8zM322.6 104.6h.8v.8h-.8zM305.7 102.4h.8v.8h-.8zM298.9 114.2h.8v.8h-.8zM314.0 120.7h.8v.8h-.8zM316.6 107.8h.8v.8h-.8zM297.4 123.9h.8v.8h-.8zM315.4 110.2h.8v.8h-.8zM302.1 103.3h.8v.8h-.8zM320.7 102.4h.8v.8h-.8zM320.1 114.9h.8v.8h-.8zM309.2 98.3h.8v.8h-.8zM318.1 121.1h.8v.8h-.8zM304.2 101.5h.8v.8h-.8zM325.8 110.7h.8v.8h-.8zM306.5 120.7h.8v.8h-.8zM310.4 114.3h.8v.8h-.8zM309.0 105.1h.8v.8h-.8zM316.0 103.7h.8v.8h-.8zM293.5 108.0h.8v.8h-.8zM327.4 118.0h.8v.8h-.8zM338.0 116.3h.8v.8h-.8zM331.7 111.1h.8v.8h-.8zM308.6 114.6h.8v.8h-.8zM302.8 117.1h.8v.8h-.8zM308.4 113.0h.8v.8h-.8zM303.9 110.3h.8v.8h-.8zM324.6 108.0h.8v.8h-.8zM305.9 113.4h.8v.8h-.8zM323.4 108.3h.8v.8h-.8zM300.3 99.5h.8v.8h-.8zM298.4 120.1h.8v.8h-.8zM312.5 114.4h.8v.8h-.8zM325.6 111.8h.8v.8h-.8zM318.9 106.2h.8v.8h-.8zM295.3 116.9h.8v.8h-.8zM312.4 115.1h.8v.8h-.8zM301.5 110.4h.8v.8h-.8zM336.2 102.2h.8v.8h-.8zM314.6 120.6h.8v.8h-.8zM310.9 111.8h.8v.8h-.8zM308.5 120.9h.8v.8h-.8zM312.5 107.8h.8v.8h-.8zM318.4 108.3h.8v.8h-.8zM307.7 123.0h.8v.8h-.8zM324.6 110.6h.8v.8h-.8zM322.6 116.2h.8v.8h-.8zM320.1 110.4h.8v.8h-.8zM314.3 113.7h.8v.8h-.8zM319.9 112.8h.8v.8h-.8zM307.3 110.5h.8v.8h-.8zM318.7 102.6h.8v.8h-.8zM313.4 116.4h.8v.8h-.8zM315.4 108.3h.8v.8h-.8zM313.2 106.9h.8v.8h-.8zM324.6 106.8h.8v.8h-.8zM294.7 102.8h.8v.8h-.8zM316.9 111.9h.8v.8h-.8zM308.2 100.9h.8v.8h-.8zM311.8 104.3h.8v.8h-.8zM306.1 111.2h.8v.8h-.8zM304.9 113.7h.8v.8h-.8zM305.2 107.7h.8v.8h-.8zM310.9 122.0h.8v.8h-.8zM331.3 116.4h.8v.8h-.8zM305.2 111.3h.8v.8h-.8zM323.8 116.0h.8v.8h-.8zM295.2 111.7h.8v.8h-.8zM305.2 117.0h.8v.8h-.8zM320.7 105.9h.8v.8h-.8zM337.6 106.6h.8v.8h-.8zM341.0 107.1h.8v.8h-.8zM312.5 125.2h.8v.8h-.8zM307.6 107.5h.8v.8h-.8zM330.1 109.0h.8v.8h-.8zM318.9 100.6h.8v.8h-.8zM333.6 116.5h.8v.8h-.8zM317.5 115.7h.8v.8h-.8zM307.9 107.4h.8v.8h-.8zM295.8 114.9h.8v.8h-.8zM327.4 116.1h.8v.8h-.8zM323.9 115.2h.8v.8h-.8zM303.1 101.5h.8v.8h-.8zM320.7 111.3h.8v.8h-.8zM324.6 107.6h.8v.8h-.8zM303.6 114.8h.8v.8h-.8zM307.2 98.6h.8v.8h-.8zM306.7 104.5h.8v.8h-.8zM301.0 107.4h.8v.8h-.8zM324.2 127.7h.8v.8h-.8zM333.0 105.9h.8v.8h-.8zM326.4 109.1h.8v.8h-.8zM318.0 105.1h.8v.8h-.8zM312.7 97.9h.8v.8h-.8zM333.7 103.2h.8v.8h-.8zM320.1 105.6h.8v.8h-.8zM316.5 101.4h.8v.8h-.8zM309.3 117.9h.8v.8h-.8zM320.2 95.3h.8v.8h-.8zM323.1 99.9h.8v.8h-.8zM316.7 114.3h.8v.8h-.8zM306.3 108.8h.8v.8h-.8zM310.7 113.9h.8v.8h-.8zM323.8 120.2h.8v.8h-.8zM317.2 125.5h.8v.8h-.8zM302.8 125.0h.8v.8h-.8zM310.6 116.7h.8v.8h-.8zM312.1 111.4h.8v.8h-.8zM303.2 114.4h.8v.8h-.8zM336.3 109.9h.8v.8h-.8zM313.3 110.7h.8v.8h-.8zM321.5 108.4h.8v.8h-.8zM313.5 112.3h.8v.8h-.8zM328.2 116.7h.8v.8h-.8zM301.6 106.8h.8v.8h-.8zM313.7 117.1h.8v.8h-.8zM324.4 108.2h.8v.8h-.8zM337.4 107.5h.8v.8h-.8zM329.3 120.2h.8v.8h-.8zM331.5 110.7h.8v.8h-.8zM320.0 98.5h.8v.8h-.8zM293.5 107.6h.8v.8h-.8zM321.6 118.1h.8v.8h-.8zM312.3 118.6h.8v.8h-.8zM320.0 121.7h.8v.8h-.8zM295.6 105.8h.8v.8h-.8zM302.7 103.6h.8v.8h-.8zM332.1 102.1h.8v.8h-.8zM304.2 108.4h.8v.8h-.8zM323.5 106.3h.8v.8h-.8zM321.8 114.1h.8v.8h-.8zM306.3 93.3h.8v.8h-.8zM303.2 102.0h.8v.8h-.8zM331.9 103.7h.8v.8h-.8zM301.4 114.5h.8v.8h-.8zM314.1 103.5h.8v.8h-.8zM325.8 116.6h.8v.8h-.8zM316.6 104.6h.8v.8h-.8zM303.7 95.8h.8v.8h-.8zM317.8 113.3h.8v.8h-.8zM303.1 111.6h.8v.8h-.8zM294.3 116.8h.8v.8h-.8zM308.7 107.2h.8v.8h-.8zM320.5 109.1h.8v.8h-.8zM324.7 113.6h.8v.8h-.8zM326.6 110.5h.8v.8h-.8zM294.3 120.1h.8v.8h-.8zM316.3 99.8h.8v.8h-.8zM314.3 117.2h.8v.8h-.8zM302.0 111.9h.8v.8h-.8zM305.2 103.6h.8v.8h-.8zM306.5 120.9h.8v.8h-.8zM321.2 109.8h.8v.8h-.8zM312.6 111.6h.8v.8h-.8zM316.7 111.7h.8v.8h-.8zM294.1 119.1h.8v.8h-.8zM303.8 91.6h.8v.8h-.8zM321.4 100.8h.8v.8h-.8zM311.9 110.0h.8v.8h-.8zM306.8 115.2h.8v.8h-.8zM310.4 108.7h.8v.8h-.8zM302.7 109.3h.8v.8h-.8zM301.8 111.8h.8v.8h-.8zM328.4 117.1h.8v.8h-.8zM318.3 99.8h.8v.8h-.8zM325.1 116.8h.8v.8h-.8zM336.8 91.6h.8v.8h-.8zM313.7 108.0h.8v.8h-.8zM325.8 101.3h.8v.8h-.8zM309.2 128.6h.8v.8h-.8zM324.7 94.5h.8v.8h-.8zM313.7 121.0h.8v.8h-.8zM306.5 115.7h.8v.8h-.8zM314.6 99.4h.8v.8h-.8zM306.4 119.8h.8v.8h-.8zM326.9 104.9h.8v.8h-.8zM326.2 104.1h.8v.8h-.8zM316.3 110.2h.8v.8h-.8zM299.4 114.2h.8v.8h-.8zM309.1 90.0h.8v.8h-.8zM304.1 104.9h.8v.8h-.8zM304.1 103.9h.8v.8h-.8zM305.7 92.5h.8v.8h-.8zM323.6 110.3h.8v.8h-.8zM316.4 108.3h.8v.8h-.8zM314.2 108.5h.8v.8h-.8zM301.2 100.0h.8v.8h-.8zM314.3 118.2h.8v.8h-.8zM316.2 122.6h.8v.8h-.8zM298.1 109.8h.8v.8h-.8zM306.5 120.5h.8v.8h-.8zM332.7 105.0h.8v.8h-.8zM321.8 108.0h.8v.8h-.8zM302.2 110.6h.8v.8h-.8zM301.7 123.3h.8v.8h-.8zM320.2 119.1h.8v.8h-.8zM317.6 91.7h.8v.8h-.8zM322.6 110.5h.8v.8h-.8zM324.9 122.7h.8v.8h-.8zM301.9 117.5h.8v.8h-.8zM317.3 108.9h.8v.8h-.8zM310.3 114.8h.8v.8h-.8zM320.0 115.0h.8v.8h-.8zM308.9 100.8h.8v.8h-.8zM328.4 119.3h.8v.8h-.8zM307.1 110.8h.8v.8h-.8zM322.6 96.4h.8v.8h-.8zM319.1 128.6h.8v.8h-.8zM316.6 104.9h.8v.8h-.8zM336.6 108.8h.8v.8h-.8zM315.9 107.1h.8v.8h-.8zM315.5 96.6h.8v.8h-.8zM299.0 100.4h.8v.8h-.8zM323.7 109.0h.8v.8h-.8zM326.5 93.9h.8v.8h-.8zM306.7 122.2h.8v.8h-.8zM304.5 97.0h.8v.8h-.8zM305.1 108.6h.8v.8h-.8zM313.4 120.5h.8v.8h-.8zM328.5 121.2h.8v.8h-.8zM320.1 106.2h.8v.8h-.8zM307.9 99.6h.8v.8h-.8zM327.9 119.0h.8v.8h-.8zM314.5 103.6h.8v.8h-.8zM321.1 113.7h.8v.8h-.8zM315.2 101.5h.8v.8h-.8zM316.2 106.0h.8v.8h-.8zM321.9 114.4h.8v.8h-.8zM318.5 106.8h.8v.8h-.8zM330.7 115.1h.8v.8h-.8zM327.8 115.8h.8v.8h-.8zM321.0 112.9h.8v.8h-.8zM301.4 97.5h.8v.8h-.8zM302.9 116.1h.8v.8h-.8zM323.8 111.1h.8v.8h-.8zM314.5 124.5h.8v.8h-.8zM309.0 97.2h.8v.8h-.8zM296.0 109.4h.8v.8h-.8zM321.4 115.5h.8v.8h-.8zM311.0 117.0h.8v.8h-.8zM313.0 105.0h.8v.8h-.8zM309.2 116.6h.8v.8h-.8zM324.3 101.0h.8v.8h-.8zM302.3 112.3h.8v.8h-.8zM337.5 99.6h.8v.8h-.8zM299.4 114.9h.8v.8h-.8zM319.2 105.4h.8v.8h-.8zM313.2 114.3h.8v.8h-.8zM293.8 111.9h.8v.8h-.8zM320.3 117.0h.8v.8h-.8zM326.7 108.9h.8v.8h-.8zM297.2 122.1h.8v.8h-.8zM322.2 104.9h.8v.8h-.8zM325.2 117.5h.8v.8h-.8zM311.9 92.5h.8v.8h-.8zM308.2 105.1h.8v.8h-.8zM304.1 110.6h.8v.8h-.8zM301.3 114.5h.8v.8h-.8zM334.8 99.7h.8v.8h-.8zM325.2 105.5h.8v.8h-.8zM319.6 109.0h.8v.8h-.8zM328.0 103.9h.8v.8h-.8zM321.8 103.9h.8v.8h-.8zM316.1 110.2h.8v.8h-.8zM325.8 97.4h.8v.8h-.8zM298.3 122.4h.8v.8h-.8zM317.9 123.2h.8v.8h-.8zM301.9 113.0h.8v.8h-.8zM320.3 123.5h.8v.8h-.8zM312.9 107.1h.8v.8h-.8zM321.6 109.1h.8v.8h-.8zM305.1 117.0h.8v.8h-.8zM292.1 104.4h.8v.8h-.8zM328.8 105.4h.8v.8h-.8zM309.9 113.6h.8v.8h-.8zM326.1 113.5h.8v.8h-.8zM302.7 107.0h.8v.8h-.8zM325.3 108.6h.8v.8h-.8zM306.4 117.8h.8v.8h-.8zM326.3 126.2h.8v.8h-.8zM301.4 106.1h.8v.8h-.8zM305.7 113.9h.8v.8h-.8zM308.1 119.5h.8v.8h-.8zM306.3 109.0h.8v.8h-.8zM319.9 111.5h.8v.8h-.8zM302.1 122.9h.8v.8h-.8zM320.0 106.2h.8v.8h-.8zM315.8 101.8h.8v.8h-.8zM299.7 109.3h.8v.8h-.8zM317.6 111.0h.8v.8h-.8zM304.8 100.6h.8v.8h-.8zM294.7 124.3h.8v.8h-.8zM317.6 104.0h.8v.8h-.8zM326.8 113.6h.8v.8h-.8zM308.9 106.2h.8v.8h-.8zM326.3 112.0h.8v.8h-.8zM331.9 111.8h.8v.8h-.8zM306.9 106.4h.8v.8h-.8zM305.6 113.1h.8v.8h-.8zM316.4 114.9h.8v.8h-.8zM318.6 102.0h.8v.8h-.8zM311.2 103.5h.8v.8h-.8zM318.9 100.0h.8v.8h-.8zM307.0 104.4h.8v.8h-.8zM306.6 109.1h.8v.8h-.8zM330.4 107.2h.8v.8h-.8zM297.4 109.5h.8v.8h-.8zM321.9 114.1h.8v.8h-.8zM316.2 125.6h.8v.8h-.8zM325.9 110.2h.8v.8h-.8zM327.1 99.1h.8v.8h-.8zM311.6 104.0h.8v.8h-.8zM315.5 122.8h.8v.8h-.8zM308.0 123.2h.8v.8h-.8zM302.1 122.4h.8v.8h-.8zM294.5 105.5h.8v.8h-.8zM324.7 108.9h.8v.8h-.8zM315.1 110.3h.8v.8h-.8zM315.5 109.0h.8v.8h-.8zM302.6 109.1h.8v.8h-.8zM314.7 103.5h.8v.8h-.8zM318.7 123.6h.8v.8h-.8zM295.2 107.8h.8v.8h-.8zM310.4 110.9h.8v.8h-.8zM314.6 104.9h.8v.8h-.8zM313.1 110.6h.8v.8h-.8zM312.5 122.4h.8v.8h-.8zM315.0 99.0h.8v.8h-.8zM296.0 116.4h.8v.8h-.8zM309.7 106.1h.8v.8h-.8zM298.4 109.3h.8v.8h-.8zM312.5 105.3h.8v.8h-.8zM309.6 117.6h.8v.8h-.8zM322.3 114.0h.8v.8h-.8zM311.6 100.2h.8v.8h-.8zM322.2 121.3h.8v.8h-.8zM327.7 118.3h.8v.8h-.8zM316.6 113.1h.8v.8h-.8zM313.3 120.1h.8v.8h-.8zM310.5 127.2h.8v.8h-.8zM322.2 107.3h.8v.8h-.8zM313.5 98.2h.8v.8h-.8zM305.3 108.9h.8v.8h-.8zM340.9 102.1h.8v.8h-.8zM323.8 110.3h.8v.8h-.8zM310.2 115.6h.8v.8h-.8zM291.2 119.5h.8v.8h-.8zM335.1 111.0h.8v.8h-.8zM312.8 111.8h.8v.8h-.8zM320.9 106.1h.8v.8h-.8zM314.9 114.3h.8v.8h-.8zM309.6 113.8h.8v.8h-.8zM317.2 115.7h.8v.8h-.8zM302.5 107.3h.8v.8h-.8zM308.7 120.1h.8v.8h-.8zM316.3 97.6h.8v.8h-.8zM299.2 126.5h.8v.8h-.8zM317.3 100.3h.8v.8h-.8zM303.3 112.4h.8v.8h-.8zM329.4 121.7h.8v.8h-.8zM309.4 108.5h.8v.8h-.8zM334.9 101.2h.8v.8h-.8zM331.0 111.7h.8v.8h-.8zM314.6 120.3h.8v.8h-.8zM318.9 103.7h.8v.8h-.8zM296.5 112.0h.8v.8h-.8zM319.2 120.5h.8v.8h-.8zM320.4 121.6h.8v.8h-.8zM322.4 111.4h.8v.8h-.8zM318.3 113.2h.8v.8h-.8zM306.5 110.2h.8v.8h-.8zM314.9 106.9h.8v.8h-.8zM297.1 100.7h.8v.8h-.8zM319.1 114.0h.8v.8h-.8zM314.7 101.4h.8v.8h-.8zM323.0 106.7h.8v.8h-.8zM296.8 129.1h.8v.8h-.8zM319.5 106.6h.8v.8h-.8zM330.0 119.6h.8v.8h-.8zM316.4 97.1h.8v.8h-.8zM309.2 108.7h.8v.8h-.8zM318.7 109.1h.8v.8h-.8zM317.4 97.7h.8v.8h-.8zM306.3 122.2h.8v.8h-.8zM297.3 118.9h.8v.8h-.8zM339.3 113.4h.8v.8h-.8zM298.0 121.3h.8v.8h-.8zM292.8 114.8h.8v.8h-.8zM308.9 120.4h.8v.8h-.8zM326.7 110.9h.8v.8h-.8zM333.5 116.5h.8v.8h-.8zM308.2 103.4h.8v.8h-.8zM341.0 105.2h.8v.8h-.8zM318.1 109.2h.8v.8h-.8zM308.2 98.6h.8v.8h-.8zM311.9 109.7h.8v.8h-.8zM324.5 105.7h.8v.8h-.8zM296.0 103.6h.8v.8h-.8zM313.1 112.5h.8v.8h-.8zM321.6 106.9h.8v.8h-.8zM319.5 111.1h.8v.8h-.8zM332.4 108.6h.8v.8h-.8zM315.1 114.7h.8v.8h-.8zM327.1 102.3h.8v.8h-.8zM308.2 108.8h.8v.8h-.8zM325.5 109.7h.8v.8h-.8zM336.1 120.8h.8v.8h-.8zM323.6 98.8h.8v.8h-.8zM330.6 112.4h.8v.8h-.8zM300.1 112.0h.8v.8h-.8zM321.9 117.4h.8v.8h-.8zM315.5 106.3h.8v.8h-.8zM322.0 104.0h.8v.8h-.8zM312.6 116.5h.8v.8h-.8zM297.4 114.7h.8v.8h-.8zM291.6 105.1h.8v.8h-.8zM299.7 110.9h.8v.8h-.8zM321.5 109.5h.8v.8h-.8zM323.7 110.4h.8v.8h-.8zM311.2 114.5h.8v.8h-.8zM310.8 111.8h.8v.8h-.8zM325.1 105.2h.8v.8h-.8zM326.4 100.9h.8v.8h-.8zM311.1 97.3h.8v.8h-.8zM307.6 123.2h.8v.8h-.8zM317.5 120.0h.8v.8h-.8zM297.1 104.0h.8v.8h-.8zM318.7 116.5h.8v.8h-.8zM322.8 96.8h.8v.8h-.8zM319.2 109.5h.8v.8h-.8zM314.9 114.1h.8v.8h-.8zM310.4 97.7h.8v.8h-.8zM301.6 100.3h.8v.8h-.8zM298.8 110.6h.8v.8h-.8zM328.1 103.8h.8v.8h-.8zM305.0 102.3h.8v.8h-.8zM294.2 112.6h.8v.8h-.8zM308.1 109.1h.8v.8h-.8zM302.8 115.1h.8v.8h-.8zM300.1 115.8h.8v.8h-.8zM306.1 117.2h.8v.8h-.8zM303.6 114.7h.8v.8h-.8zM318.4 109.5h.8v.8h-.8zM331.8 110.4h.8v.8h-.8zM303.6 116.6h.8v.8h-.8zM304.3 107.1h.8v.8h-.8zM313.6 111.9h.8v.8h-.8zM332.6 95.5h.8v.8h-.8zM310.6 119.5h.8v.8h-.8zM311.7 113.1h.8v.8h-.8zM330.6 99.6h.8v.8h-.8zM314.0 116.6h.8v.8h-.8zM306.9 97.5h.8v.8h-.8zM302.3 112.9h.8v.8h-.8zM315.6 124.6h.8v.8h-.8zM328.4 97.4h.8v.8h-.8zM325.1 116.6h.8v.8h-.8zM331.6 107.9h.8v.8h-.8zM307.3 112.1h.8v.8h-.8zM330.8 113.9h.8v.8h-.8zM332.5 115.1h.8v.8h-.8zM306.9 103.2h.8v.8h-.8zM334.2 97.1h.8v.8h-.8zM309.6 108.4h.8v.8h-.8zM303.3 106.9h.8v.8h-.8zM313.6 128.9h.8v.8h-.8zM312.8 106.5h.8v.8h-.8zM314.9 117.7h.8v.8h-.8zM304.4 108.1h.8v.8h-.8zM293.9 117.5h.8v.8h-.8zM321.1 121.5h.8v.8h-.8zM300.1 128.4h.8v.8h-.8zM323.3 107.6h.8v.8h-.8zM309.1 108.5h.8v.8h-.8zM299.9 117.6h.8v.8h-.8zM306.7 105.5h.8v.8h-.8zM319.3 110.9h.8v.8h-.8zM307.0 109.2h.8v.8h-.8zM308.0 121.4h.8v.8h-.8zM324.7 104.0h.8v.8h-.8zM313.1 121.2h.8v.8h-.8zM310.3 124.5h.8v.8h-.8zM318.5 115.3h.8v.8h-.8zM317.3 114.7h.8v.8h-.8zM318.9 114.2h.8v.8h-.8zM307.8 117.9h.8v.8h-.8zM314.2 102.3h.8v.8h-.8zM302.1 112.7h.8v.8h-.8zM317.3 93.1h.8v.8h-.8zM296.3 110.0h.8v.8h-.8zM306.8 115.4h.8v.8h-.8zM329.3 121.7h.8v.8h-.8zM302.2 121.0h.8v.8h-.8zM299.9 114.0h.8v.8h-.8zM315.4 115.2h.8v.8h-.8zM304.5 121.6h.8v.8h-.8zM312.7 110.4h.8v.8h-.8zM310.5 102.5h.8v.8h-.8zM321.6 112.5h.8v.8h-.8zM318.6 124.5h.8v.8h-.8zM303.8 109.1h.8v.8h-.8zM313.6 117.1h.8v.8h-.8zM311.5 117.9h.8v.8h-.8zM318.6 96.4h.8v.8h-.8zM305.8 95.4h.8v.8h-.8zM310.3 107.5h.8v.8h-.8zM320.1 111.3h.8v.8h-.8zM312.8 120.4h.8v.8h-.8zM320.2 100.4h.8v.8h-.8zM305.8 113.7h.8v.8h-.8zM332.6 107.4h.8v.8h-.8zM311.6 112.7h.8v.8h-.8zM322.3 109.1h.8v.8h-.8zM316.8 107.0h.8v.8h-.8zM307.3 104.8h.8v.8h-.8zM320.9 105.6h.8v.8h-.8zM319.7 113.2h.8v.8h-.8zM324.4 88.8h.8v.8h-.8zM302.7 101.9h.8v.8h-.8zM311.7 116.9h.8v.8h-.8zM342.0 120.2h.8v.8h-.8zM328.7 112.2h.8v.8h-.8zM309.2 115.0h.8v.8h-.8zM313.6 115.3h.8v.8h-.8zM301.9 102.9h.8v.8h-.8zM306.3 110.7h.8v.8h-.8zM317.4 107.4h.8v.8h-.8zM317.4 115.5h.8v.8h-.8zM300.5 110.8h.8v.8h-.8zM296.0 107.6h.8v.8h-.8zM323.7 104.1h.8v.8h-.8zM334.4 112.8h.8v.8h-.8zM323.5 110.5h.8v.8h-.8zM323.2 118.2h.8v.8h-.8zM314.7 106.3h.8v.8h-.8zM307.3 126.0h.8v.8h-.8zM311.4 107.1h.8v.8h-.8zM305.5 98.0h.8v.8h-.8zM307.9 113.5h.8v.8h-.8zM308.0 105.0h.8v.8h-.8zM318.1 113.7h.8v.8h-.8zM308.6 113.3h.8v.8h-.8zM302.6 118.1h.8v.8h-.8zM302.4 108.8h.8v.8h-.8zM315.0 107.1h.8v.8h-.8zM300.6 127.9h.8v.8h-.8zM330.5 95.6h.8v.8h-.8zM314.9 100.5h.8v.8h-.8zM317.0 100.1h.8v.8h-.8zM320.0 114.1h.8v.8h-.8zM332.7 118.3h.8v.8h-.8zM308.4 118.3h.8v.8h-.8zM308.3 110.0h.8v.8h-.8zM307.9 97.2h.8v.8h-.8zM320.3 94.1h.8v.8h-.8zM310.9 114.8h.8v.8h-.8zM314.8 98.1h.8v.8h-.8zM306.2 116.4h.8v.8h-.8zM325.9 121.9h.8v.8h-.8zM293.1 115.7h.8v.8h-.8zM308.1 116.9h.8v.8h-.8zM294.5 110.9h.8v.8h-.8zM321.5 104.8h.8v.8h-.8zM309.4 103.2h.8v.8h-.8zM326.0 99.2h.8v.8h-.8zM303.2 108.7h.8v.8h-.8zM309.9 127.2h.8v.8h-.8zM316.6 103.8h.8v.8h-.8zM320.0 112.7h.8v.8h-.8zM316.7 109.7h.8v.8h-.8zM318.7 101.0h.8v.8h-.8zM300.0 108.3h.8v.8h-.8zM301.1 117.0h.8v.8h-.8zM335.3 118.4h.8v.8h-.8zM318.5 112.7h.8v.8h-.8zM305.8 101.0h.8v.8h-.8zM319.7 98.5h.8v.8h-.8zM316.9 109.1h.8v.8h-.8zM321.9 110.2h.8v.8h-.8zM314.7 105.9h.8v.8h-.8zM294.2 109.4h.8v.8h-.8zM321.3 118.0h.8v.8h-.8zM329.0 101.5h.8v.8h-.8zM303.0 116.8h.8v.8h-.8zM308.4 130.9h.8v.8h-.8zM317.0 98.4h.8v.8h-.8zM307.3 123.2h.8v.8h-.8zM293.0 113.3h.8v.8h-.8zM297.9 124.2h.8v.8h-.8zM308.5 102.9h.8v.8h-.8zM294.3 106.5h.8v.8h-.8zM338.0 109.3h.8v.8h-.8zM310.5 101.7h.8v.8h-.8zM317.3 106.5h.8v.8h-.8zM304.0 122.0h.8v.8h-.8zM318.4 103.2h.8v.8h-.8zM330.1 108.7h.8v.8h-.8zM319.2 111.2h.8v.8h-.8zM326.8 114.2h.8v.8h-.8zM309.6 116.4h.8v.8h-.8zM309.1 111.9h.8v.8h-.8zM332.0 100.8h.8v.8h-.8zM301.9 108.3h.8v.8h-.8zM307.9 121.1h.8v.8h-.8zM295.6 129.8h.8v.8h-.8zM331.3 105.6h.8v.8h-.8zM315.6 107.5h.8v.8h-.8zM321.1 115.1h.8v.8h-.8zM322.0 115.8h.8v.8h-.8zM335.2 107.4h.8v.8h-.8zM321.4 108.4h.8v.8h-.8zM313.9 112.2h.8v.8h-.8zM312.9 113.2h.8v.8h-.8zM303.9 110.1h.8v.8h-.8zM306.7 101.9h.8v.8h-.8zM305.6 107.3h.8v.8h-.8zM311.8 98.5h.8v.8h-.8zM310.6 101.9h.8v.8h-.8zM304.3 112.7h.8v.8h-.8zM326.0 111.7h.8v.8h-.8zM308.0 107.5h.8v.8h-.8zM328.6 96.6h.8v.8h-.8zM326.3 97.8h.8v.8h-.8zM306.4 111.4h.8v.8h-.8zM311.0 123.7h.8v.8h-.8zM319.1 109.7h.8v.8h-.8zM324.2 109.9h.8v.8h-.8zM304.4 120.0h.8v.8h-.8zM330.4 119.2h.8v.8h-.8zM300.3 126.4h.8v.8h-.8zM308.8 116.9h.8v.8h-.8zM326.9 128.0h.8v.8h-.8zM295.3 104.0h.8v.8h-.8zM326.8 113.3h.8v.8h-.8zM310.0 87.9h.8v.8h-.8zM318.5 108.6h.8v.8h-.8zM313.4 112.3h.8v.8h-.8zM322.0 107.7h.8v.8h-.8zM303.4 108.5h.8v.8h-.8zM335.7 103.4h.8v.8h-.8zM312.6 125.4h.8v.8h-.8zM325.4 110.5h.8v.8h-.8zM321.8 107.7h.8v.8h-.8zM303.3 119.1h.8v.8h-.8zM315.0 122.9h.8v.8h-.8zM310.5 107.8h.8v.8h-.8zM317.4 108.7h.8v.8h-.8zM310.0 103.8h.8v.8h-.8zM316.4 112.8h.8v.8h-.8zM334.1 108.6h.8v.8h-.8zM293.7 115.7h.8v.8h-.8zM339.3 105.0h.8v.8h-.8zM304.5 109.9h.8v.8h-.8zM311.4 98.9h.8v.8h-.8zM320.0 103.1h.8v.8h-.8zM292.7 106.5h.8v.8h-.8zM320.6 125.0h.8v.8h-.8zM327.6 110.9h.8v.8h-.8zM307.7 108.9h.8v.8h-.8zM324.4 105.6h.8v.8h-.8zM318.2 117.7h.8v.8h-.8zM303.3 106.7h.8v.8h-.8zM318.6 110.2h.8v.8h-.8zM312.1 106.5h.8v.8h-.8zM312.8 125.1h.8v.8h-.8zM328.8 96.6h.8v.8h-.8zM314.0 111.2h.8v.8h-.8zM313.9 99.7h.8v.8h-.8zM312.0 111.8h.8v.8h-.8zM305.8 113.6h.8v.8h-.8zM314.6 113.5h.8v.8h-.8zM311.6 107.1h.8v.8h-.8zM315.6 118.8h.8v.8h-.8zM323.6 109.1h.8v.8h-.8zM308.2 119.2h.8v.8h-.8zM319.6 116.9h.8v.8h-.8zM310.4 104.0h.8v.8h-.8zM315.6 105.4h.8v.8h-.8zM326.5 116.2h.8v.8h-.8zM328.5 117.4h.8v.8h-.8zM308.2 104.2h.8v.8h-.8zM324.5 117.6h.8v.8h-.8zM314.2 101.4h.8v.8h-.8zM296.3 114.0h.8v.8h-.8zM304.2 105.9h.8v.8h-.8zM318.5 118.3h.8v.8h-.8zM328.2 109.0h.8v.8h-.8zM309.6 115.8h.8v.8h-.8zM300.6 102.0h.8v.8h-.8zM313.7 122.7h.8v.8h-.8zM325.0 109.5h.8v.8h-.8zM324.9 106.4h.8v.8h-.8zM300.2 98.4h.8v.8h-.8zM316.6 117.3h.8v.8h-.8zM317.7 109.9h.8v.8h-.8zM309.0 119.4h.8v.8h-.8zM313.0 99.3h.8v.8h-.8zM329.0 104.2h.8v.8h-.8zM317.9 110.2h.8v.8h-.8zM325.4 111.5h.8v.8h-.8zM327.3 111.0h.8v.8h-.8zM308.3 106.9h.8v.8h-.8zM320.9 103.4h.8v.8h-.8zM324.0 107.8h.8v.8h-.8zM303.0 104.5h.8v.8h-.8zM311.9 124.5h.8v.8h-.8zM322.2 110.0h.8v.8h-.8zM303.3 126.3h.8v.8h-.8zM310.4 110.7h.8v.8h-.8zM308.7 121.3h.8v.8h-.8zM315.5 106.8h.8v.8h-.8zM315.6 102.5h.8v.8h-.8zM301.6 110.2h.8v.8h-.8zM336.0 100.0h.8v.8h-.8zM311.9 98.3h.8v.8h-.8zM315.4 112.0h.8v.8h-.8zM321.9 99.4h.8v.8h-.8zM306.7 106.0h.8v.8h-.8zM310.7 128.6h.8v.8h-.8zM311.2 110.4h.8v.8h-.8zM307.8 117.2h.8v.8h-.8zM342.5 117.3h.8v.8h-.8zM330.8 100.7h.8v.8h-.8zM325.5 109.8h.8v.8h-.8zM327.6 117.7h.8v.8h-.8zM320.9 96.8h.8v.8h-.8zM315.0 106.5h.8v.8h-.8zM318.6 110.4h.8v.8h-.8zM325.4 97.0h.8v.8h-.8zM305.1 110.6h.8v.8h-.8zM317.1 107.0h.8v.8h-.8zM313.2 111.0h.8v.8h-.8zM325.3 108.7h.8v.8h-.8zM316.2 96.0h.8v.8h-.8zM317.5 92.1h.8v.8h-.8zM318.1 109.4h.8v.8h-.8zM313.5 104.8h.8v.8h-.8zM308.8 117.4h.8v.8h-.8zM317.5 110.0h.8v.8h-.8zM308.0 112.6h.8v.8h-.8zM327.0 109.3h.8v.8h-.8zM309.4 101.6h.8v.8h-.8zM314.6 103.2h.8v.8h-.8zM297.2 118.6h.8v.8h-.8zM306.4 95.1h.8v.8h-.8zM305.4 125.6h.8v.8h-.8zM312.3 100.2h.8v.8h-.8zM301.0 117.1h.8v.8h-.8zM318.1 111.8h.8v.8h-.8zM311.3 114.5h.8v.8h-.8zM330.9 112.9h.8v.8h-.8zM311.6 99.7h.8v.8h-.8zM318.5 122.4h.8v.8h-.8zM320.8 100.0h.8v.8h-.8zM315.6 120.5h.8v.8h-.8zM306.3 115.0h.8v.8h-.8zM327.2 122.3h.8v.8h-.8zM295.5 98.2h.8v.8h-.8zM317.7 115.7h.8v.8h-.8zM309.5 110.7h.8v.8h-.8zM308.9 120.3h.8v.8h-.8zM299.0 106.3h.8v.8h-.8zM296.1 104.7h.8v.8h-.8zM313.2 110.7h.8v.8h-.8zM333.7 107.1h.8v.8h-.8zM317.4 113.0h.8v.8h-.8zM316.4 121.8h.8v.8h-.8zM315.1 111.6h.8v.8h-.8zM312.2 110.6h.8v.8h-.8zM312.9 118.4h.8v.8h-.8zM313.7 111.0h.8v.8h-.8zM313.0 116.5h.8v.8h-.8zM308.1 118.3h.8v.8h-.8zM307.0 116.5h.8v.8h-.8zM335.3 110.6h.8v.8h-.8zM312.5 101.3h.8v.8h-.8zM321.9 109.9h.8v.8h-.8zM323.8 104.5h.8v.8h-.8zM319.4 124.3h.8v.8h-.8zM318.1 107.6h.8v.8h-.8zM298.7 111.6h.8v.8h-.8zM321.0 114.6h.8v.8h-.8zM300.8 103.4h.8v.8h-.8zM302.4 103.3h.8v.8h-.8zM310.4 112.8h.8v.8h-.8zM335.3 110.3h.8v.8h-.8zM330.0 96.1h.8v.8h-.8zM331.0 115.4h.8v.8h-.8zM318.5 116.6h.8v.8h-.8zM320.5 125.0h.8v.8h-.8zM322.6 96.0h.8v.8h-.8zM293.7 124.8h.8v.8h-.8zM312.5 121.0h.8v.8h-.8zM309.6 105.6h.8v.8h-.8zM309.6 113.3h.8v.8h-.8zM315.6 105.4h.8v.8h-.8zM319.6 114.9h.8v.8h-.8zM303.1 102.5h.8v.8h-.8zM291.2 109.9h.8v.8h-.8zM313.6 105.0h.8v.8h-.8zM306.7 110.0h.8v.8h-.8zM313.8 115.0h.8v.8h-.8zM323.0 113.2h.8v.8h-.8zM326.2 101.8h.8v.8h-.8zM320.4 112.9h.8v.8h-.8zM301.6 106.1h.8v.8h-.8zM318.5 110.7h.8v.8h-.8zM299.2 107.3h.8v.8h-.8zM330.8 115.8h.8v.8h-.8zM314.4 121.1h.8v.8h-.8zM303.2 110.0h.8v.8h-.8zM324.4 107.0h.8v.8h-.8zM300.8 116.1h.8v.8h-.8zM331.7 89.0h.8v.8h-.8zM315.3 100.5h.8v.8h-.8zM310.1 99.6h.8v.8h-.8zM343.1 102.8h.8v.8h-.8zM314.0 104.9h.8v.8h-.8zM302.3 107.8h.8v.8h-.8zM315.9 124.2h.8v.8h-.8zM316.8 122.6h.8v.8h-.8zM301.4 112.0h.8v.8h-.8zM308.5 98.5h.8v.8h-.8zM316.3 104.3h.8v.8h-.8zM307.0 102.8h.8v.8h-.8zM325.2 106.4h.8v.8h-.8zM311.9 112.1h.8v.8h-.8zM299.6 113.5h.8v.8h-.8zM311.6 114.2h.8v.8h-.8zM309.1 111.2h.8v.8h-.8zM319.4 117.7h.8v.8h-.8zM305.7 118.8h.8v.8h-.8zM302.3 109.9h.8v.8h-.8zM315.0 111.5h.8v.8h-.8zM311.4 118.0h.8v.8h-.8zM305.5 123.1h.8v.8h-.8zM293.0 112.7h.8v.8h-.8zM319.6 110.1h.8v.8h-.8zM316.5 117.6h.8v.8h-.8zM304.3 115.9h.8v.8h-.8zM325.6 107.7h.8v.8h-.8zM303.8 102.9h.8v.8h-.8zM318.4 103.7h.8v.8h-.8zM341.7 112.8h.8v.8h-.8zM298.7 109.4h.8v.8h-.8zM330.9 114.5h.8v.8h-.8zM301.9 119.6h.8v.8h-.8zM308.1 128.4h.8v.8h-.8zM307.2 115.7h.8v.8h-.8zM319.9 106.5h.8v.8h-.8zM311.8 119.8h.8v.8h-.8zM319.2 109.6h.8v.8h-.8zM318.5 123.9h.8v.8h-.8zM324.1 113.4h.8v.8h-.8zM317.2 97.8h.8v.8h-.8zM315.0 106.5h.8v.8h-.8zM321.8 105.0h.8v.8h-.8zM318.6 101.8h.8v.8h-.8zM323.7 103.9h.8v.8h-.8zM313.2 115.1h.8v.8h-.8zM309.8 110.9h.8v.8h-.8zM325.6 123.5h.8v.8h-.8zM293.0 105.0h.8v.8h-.8zM321.2 117.3h.8v.8h-.8zM308.1 111.7h.8v.8h-.8zM311.3 128.7h.8v.8h-.8zM311.2 101.3h.8v.8h-.8zM295.9 101.8h.8v.8h-.8zM328.3 106.2h.8v.8h-.8zM335.7 113.8h.8v.8h-.8zM317.9 115.2h.8v.8h-.8zM322.5 117.1h.8v.8h-.8zM302.4 107.0h.8v.8h-.8zM307.3 111.8h.8v.8h-.8zM310.7 101.0h.8v.8h-.8zM305.6 125.3h.8v.8h-.8zM337.6 101.8h.8v.8h-.8zM317.8 109.9h.8v.8h-.8zM303.9 116.9h.8v.8h-.8zM312.7 123.8h.8v.8h-.8zM318.7 107.6h.8v.8h-.8zM323.1 104.1h.8v.8h-.8zM323.5 115.1h.8v.8h-.8zM293.4 110.6h.8v.8h-.8zM317.1 116.2h.8v.8h-.8zM315.3 110.2h.8v.8h-.8zM309.6 108.5h.8v.8h-.8zM313.5 102.1h.8v.8h-.8zM320.8 107.3h.8v.8h-.8zM319.4 106.0h.8v.8h-.8zM318.2 111.1h.8v.8h-.8zM323.6 113.3h.8v.8h-.8zM324.1 108.3h.8v.8h-.8zM312.9 108.5h.8v.8h-.8zM299.3 110.7h.8v.8h-.8zM325.9 115.6h.8v.8h-.8zM303.8 113.6h.8v.8h-.8zM322.0 99.1h.8v.8h-.8zM317.5 112.8h.8v.8h-.8zM322.0 111.8h.8v.8h-.8zM293.7 96.2h.8v.8h-.8zM336.0 105.6h.8v.8h-.8zM328.0 119.3h.8v.8h-.8zM314.5 101.4h.8v.8h-.8zM329.0 109.0h.8v.8h-.8zM319.4 113.8h.8v.8h-.8zM324.3 117.6h.8v.8h-.8zM297.4 100.7h.8v.8h-.8zM315.1 110.4h.8v.8h-.8zM322.3 108.7h.8v.8h-.8zM311.4 126.7h.8v.8h-.8zM329.1 118.4h.8v.8h-.8zM325.3 103.3h.8v.8h-.8zM312.5 110.0h.8v.8h-.8zM301.1 104.6h.8v.8h-.8zM315.3 100.8h.8v.8h-.8zM319.7 113.7h.8v.8h-.8zM310.8 108.0h.8v.8h-.8zM320.3 113.7h.8v.8h-.8zM317.7 100.5h.8v.8h-.8zM295.1 128.1h.8v.8h-.8zM306.1 108.2h.8v.8h-.8zM292.8 105.9h.8v.8h-.8zM305.2 117.4h.8v.8h-.8zM308.8 107.0h.8v.8h-.8zM304.7 107.7h.8v.8h-.8zM295.6 114.0h.8v.8h-.8zM327.1 110.6h.8v.8h-.8zM307.4 120.9h.8v.8h-.8zM319.0 101.9h.8v.8h-.8zM307.0 106.2h.8v.8h-.8zM313.0 120.1h.8v.8h-.8zM305.5 110.0h.8v.8h-.8zM314.8 101.0h.8v.8h-.8zM308.1 115.8h.8v.8h-.8zM326.4 94.7h.8v.8h-.8zM321.5 107.6h.8v.8h-.8zM328.2 114.2h.8v.8h-.8zM335.9 111.2h.8v.8h-.8zM309.0 104.3h.8v.8h-.8zM297.2 116.2h.8v.8h-.8zM319.4 116.5h.8v.8h-.8zM317.5 98.4h.8v.8h-.8zM308.9 109.0h.8v.8h-.8zM315.3 116.4h.8v.8h-.8zM329.6 111.5h.8v.8h-.8zM299.9 113.5h.8v.8h-.8zM311.0 119.5h.8v.8h-.8zM325.8 105.9h.8v.8h-.8zM324.2 109.7h.8v.8h-.8zM318.7 120.7h.8v.8h-.8zM300.5 111.0h.8v.8h-.8zM331.0 103.1h.8v.8h-.8zM315.9 111.3h.8v.8h-.8zM308.8 100.6h.8v.8h-.8zM305.7 103.4h.8v.8h-.8zM325.8 111.5h.8v.8h-.8zM321.5 100.5h.8v.8h-.8zM319.2 111.2h.8v.8h-.8zM325.4 103.9h.8v.8h-.8zM322.7 120.5h.8v.8h-.8zM334.0 101.6h.8v.8h-.8zM300.7 100.0h.8v.8h-.8zM324.4 114.3h.8v.8h-.8zM317.4 103.4h.8v.8h-.8zM327.8 122.0h.8v.8h-.8zM313.1 109.6h.8v.8h-.8zM327.0 113.4h.8v.8h-.8zM328.8 106.1h.8v.8h-.8zM317.4 107.5h.8v.8h-.8zM307.0 108.7h.8v.8h-.8zM310.3 114.7h.8v.8h-.8zM310.1 111.3h.8v.8h-.8zM304.3 101.6h.8v.8h-.8zM329.7 101.5h.8v.8h-.8zM334.1 116.2h.8v.8h-.8zM308.8 111.0h.8v.8h-.8zM311.5 105.9h.8v.8h-.8zM327.7 108.4h.8v.8h-.8zM324.4 104.3h.8v.8h-.8zM305.7 121.6h.8v.8h-.8zM310.3 102.2h.8v.8h-.8zM311.6 118.9h.8v.8h-.8zM311.7 105.0h.8v.8h-.8zM320.7 117.6h.8v.8h-.8zM311.2 108.2h.8v.8h-.8zM311.4 124.3h.8v.8h-.8zM311.8 113.8h.8v.8h-.8zM314.1 108.0h.8v.8h-.8zM308.9 100.2h.8v.8h-.8zM296.6 113.2h.8v.8h-.8zM306.3 110.4h.8v.8h-.8zM311.5 106.7h.8v.8h-.8zM305.2 125.7h.8v.8h-.8zM301.0 107.5h.8v.8h-.8zM310.2 101.7h.8v.8h-.8zM302.6 118.1h.8v.8h-.8zM324.1 110.7h.8v.8h-.8zM327.5 103.0h.8v.8h-.8zM325.8 122.7h.8v.8h-.8zM309.2 125.0h.8v.8h-.8zM304.4 102.4h.8v.8h-.8zM313.0 104.2h.8v.8h-.8zM320.8 101.3h.8v.8h-.8zM314.5 95.1h.8v.8h-.8zM313.2 118.8h.8v.8h-.8zM310.5 113.2h.8v.8h-.8zM325.9 100.9h.8v.8h-.8zM299.1 112.3h.8v.8h-.8zM316.7 108.2h.8v.8h-.8zM302.5 120.9h.8v.8h-.8zM300.3 109.5h.8v.8h-.8zM313.1 116.2h.8v.8h-.8zM308.5 104.5h.8v.8h-.8zM336.4 102.1h.8v.8h-.8zM322.6 108.6h.8v.8h-.8zM308.1 110.6h.8v.8h-.8zM310.6 113.2h.8v.8h-.8zM314.4 102.8h.8v.8h-.8zM309.1 129.1h.8v.8h-.8zM334.5 113.8h.8v.8h-.8zM316.2 107.9h.8v.8h-.8zM329.3 105.7h.8v.8h-.8zM304.2 116.7h.8v.8h-.8zM302.6 105.2h.8v.8h-.8zM330.0 96.6h.8v.8h-.8zM312.8 111.5h.8v.8h-.8zM316.5 98.9h.8v.8h-.8zM311.0 108.1h.8v.8h-.8zM335.4 116.6h.8v.8h-.8zM305.0 118.0h.8v.8h-.8zM321.0 109.0h.8v.8h-.8zM310.8 108.6h.8v.8h-.8zM296.0 107.0h.8v.8h-.8zM324.2 120.9h.8v.8h-.8zM334.6 105.9h.8v.8h-.8zM320.5 91.2h.8v.8h-.8zM310.5 100.9h.8v.8h-.8zM322.9 96.8h.8v.8h-.8zM301.7 102.8h.8v.8h-.8zM318.0 116.7h.8v.8h-.8zM303.1 125.4h.8v.8h-.8zM315.4 103.8h.8v.8h-.8zM317.5 110.1h.8v.8h-.8zM323.0 112.4h.8v.8h-.8zM338.4 117.6h.8v.8h-.8zM306.3 117.2h.8v.8h-.8zM322.2 102.0h.8v.8h-.8zM305.0 104.9h.8v.8h-.8zM311.1 120.3h.8v.8h-.8zM307.2 111.6h.8v.8h-.8zM321.8 117.4h.8v.8h-.8zM317.2 102.1h.8v.8h-.8zM338.6 115.3h.8v.8h-.8zM329.0 121.9h.8v.8h-.8zM329.5 112.5h.8v.8h-.8zM318.9 115.0h.8v.8h-.8zM296.5 118.2h.8v.8h-.8zM302.5 114.7h.8v.8h-.8zM302.1 117.0h.8v.8h-.8zM308.0 130.4h.8v.8h-.8zM315.7 114.3h.8v.8h-.8zM303.3 109.1h.8v.8h-.8zM312.9 108.3h.8v.8h-.8zM308.6 104.1h.8v.8h-.8zM322.2 106.8h.8v.8h-.8zM304.3 114.1h.8v.8h-.8zM304.4 109.9h.8v.8h-.8zM307.8 103.7h.8v.8h-.8zM311.0 104.3h.8v.8h-.8zM299.4 114.4h.8v.8h-.8zM310.2 99.4h.8v.8h-.8zM309.1 112.3h.8v.8h-.8zM318.4 113.0h.8v.8h-.8zM316.5 114.9h.8v.8h-.8zM308.0 104.7h.8v.8h-.8zM320.5 106.7h.8v.8h-.8zM313.7 115.6h.8v.8h-.8zM324.2 119.2h.8v.8h-.8zM305.8 108.2h.8v.8h-.8zM319.9 98.8h.8v.8h-.8zM299.3 116.4h.8v.8h-.8zM306.6 103.9h.8v.8h-.8zM322.7 113.9h.8v.8h-.8zM324.0 107.1h.8v.8h-.8zM310.3 108.1h.8v.8h-.8zM317.0 94.4h.8v.8h-.8zM305.7 116.6h.8v.8h-.8zM304.8 110.7h.8v.8h-.8zM315.0 114.4h.8v.8h-.8zM308.2 102.1h.8v.8h-.8zM341.9 102.7h.8v.8h-.8zM333.0 95.3h.8v.8h-.8zM314.8 108.9h.8v.8h-.8zM335.0 124.7h.8v.8h-.8zM324.7 101.7h.8v.8h-.8zM304.5 105.4h.8v.8h-.8zM307.8 113.0h.8v.8h-.8zM304.7 109.3h.8v.8h-.8zM330.3 120.4h.8v.8h-.8zM292.5 104.8h.8v.8h-.8zM309.4 120.9h.8v.8h-.8zM309.9 125.7h.8v.8h-.8zM317.7 121.3h.8v.8h-.8zM303.9 108.9h.8v.8h-.8zM325.1 114.0h.8v.8h-.8zM292.5 110.1h.8v.8h-.8zM315.6 115.2h.8v.8h-.8zM306.4 124.6h.8v.8h-.8zM315.3 121.6h.8v.8h-.8zM318.2 110.8h.8v.8h-.8zM310.0 101.7h.8v.8h-.8zM323.4 115.6h.8v.8h-.8zM324.2 106.7h.8v.8h-.8zM302.3 108.5h.8v.8h-.8zM310.1 110.7h.8v.8h-.8zM324.7 102.5h.8v.8h-.8zM308.1 116.3h.8v.8h-.8zM323.8 126.9h.8v.8h-.8zM319.6 103.5h.8v.8h-.8zM301.9 105.3h.8v.8h-.8zM314.4 112.4h.8v.8h-.8zM312.9 105.8h.8v.8h-.8zM311.5 110.1h.8v.8h-.8zM320.3 110.6h.8v.8h-.8zM304.5 102.2h.8v.8h-.8zM330.4 108.5h.8v.8h-.8zM311.6 110.5h.8v.8h-.8zM326.4 107.1h.8v.8h-.8zM315.6 108.5h.8v.8h-.8zM320.2 102.1h.8v.8h-.8zM315.9 118.3h.8v.8h-.8zM327.0 114.2h.8v.8h-.8zM317.0 122.4h.8v.8h-.8zM321.6 120.7h.8v.8h-.8zM300.1 103.1h.8v.8h-.8zM322.7 107.7h.8v.8h-.8zM308.8 103.5h.8v.8h-.8zM330.4 99.9h.8v.8h-.8zM314.8 99.6h.8v.8h-.8zM311.7 128.1h.8v.8h-.8zM341.1 104.5h.8v.8h-.8zM302.3 124.0h.8v.8h-.8zM304.0 97.5h.8v.8h-.8zM317.6 101.8h.8v.8h-.8zM297.3 120.5h.8v.8h-.8zM305.4 102.9h.8v.8h-.8zM315.6 108.9h.8v.8h-.8zM326.3 110.2h.8v.8h-.8zM331.6 117.9h.8v.8h-.8zM333.7 117.6h.8v.8h-.8zM314.5 114.7h.8v.8h-.8zM313.9 98.4h.8v.8h-.8zM300.4 117.3h.8v.8h-.8zM299.2 111.2h.8v.8h-.8zM302.0 113.4h.8v.8h-.8zM311.4 107.0h.8v.8h-.8zM304.1 94.1h.8v.8h-.8zM314.5 100.4h.8v.8h-.8zM310.3 113.6h.8v.8h-.8zM325.5 115.0h.8v.8h-.8zM330.3 98.2h.8v.8h-.8zM321.3 122.0h.8v.8h-.8zM318.1 101.6h.8v.8h-.8zM318.2 106.1h.8v.8h-.8zM306.4 119.3h.8v.8h-.8zM311.7 102.0h.8v.8h-.8zM306.1 126.3h.8v.8h-.8zM304.2 116.5h.8v.8h-.8zM315.7 119.4h.8v.8h-.8zM310.5 103.4h.8v.8h-.8zM306.5 103.1h.8v.8h-.8zM342.9 109.7h.8v.8h-.8zM310.1 120.5h.8v.8h-.8zM321.1 108.5h.8v.8h-.8zM320.7 112.0h.8v.8h-.8zM326.4 122.3h.8v.8h-.8zM310.2 110.5h.8v.8h-.8zM311.6 120.1h.8v.8h-.8zM318.0 116.2h.8v.8h-.8zM323.8 104.8h.8v.8h-.8zM315.1 121.1h.8v.8h-.8zM324.1 116.0h.8v.8h-.8zM310.5 108.0h.8v.8h-.8zM304.1 109.2h.8v.8h-.8zM313.0 99.5h.8v.8h-.8zM326.7 103.5h.8v.8h-.8zM316.5 114.9h.8v.8h-.8zM307.5 97.0h.8v.8h-.8zM324.5 112.8h.8v.8h-.8zM310.9 119.5h.8v.8h-.8zM323.7 102.3h.8v.8h-.8zM312.8 97.0h.8v.8h-.8zM310.7 121.7h.8v.8h-.8zM304.3 117.6h.8v.8h-.8zM296.8 109.6h.8v.8h-.8zM324.3 122.9h.8v.8h-.8zM318.8 116.0h.8v.8h-.8zM333.0 90.1h.8v.8h-.8zM294.5 126.7h.8v.8h-.8zM341.4 112.9h.8v.8h-.8zM314.4 112.5h.8v.8h-.8zM314.0 105.7h.8v.8h-.8zM313.5 109.5h.8v.8h-.8zM321.2 115.2h.8v.8h-.8zM324.7 114.2h.8v.8h-.8zM302.8 122.1h.8v.8h-.8zM317.4 106.1h.8v.8h-.8zM334.7 100.4h.8v.8h-.8zM300.6 107.6h.8v.8h-.8zM318.4 116.3h.8v.8h-.8zM314.9 115.6h.8v.8h-.8zM305.8 106.5h.8v.8h-.8zM315.2 100.0h.8v.8h-.8zM315.8 107.3h.8v.8h-.8zM321.3 102.1h.8v.8h-.8zM307.8 106.6h.8v.8h-.8zM309.6 103.1h.8v.8h-.8zM310.8 100.3h.8v.8h-.8zM319.7 115.2h.8v.8h-.8zM313.5 109.1h.8v.8h-.8zM303.7 103.9h.8v.8h-.8zM311.2 103.7h.8v.8h-.8zM300.5 112.8h.8v.8h-.8zM313.5 107.4h.8v.8h-.8zM304.6 110.8h.8v.8h-.8zM306.0 107.8h.8v.8h-.8zM315.8 115.9h.8v.8h-.8zM322.1 105.1h.8v.8h-.8zM327.2 100.5h.8v.8h-.8zM311.8 120.7h.8v.8h-.8zM340.2 109.4h.8v.8h-.8zM309.7 107.9h.8v.8h-.8zM300.1 110.5h.8v.8h-.8zM309.0 105.1h.8v.8h-.8zM327.0 103.4h.8v.8h-.8zM332.6 115.5h.8v.8h-.8zM320.8 105.4h.8v.8h-.8zM308.0 95.5h.8v.8h-.8zM316.7 108.2h.8v.8h-.8zM318.0 105.0h.8v.8h-.8zM319.1 98.5h.8v.8h-.8zM328.0 106.7h.8v.8h-.8zM311.9 98.8h.8v.8h-.8zM302.6 116.9h.8v.8h-.8zM305.5 110.9h.8v.8h-.8zM312.0 126.0h.8v.8h-.8zM323.6 99.5h.8v.8h-.8zM308.3 102.1h.8v.8h-.8zM298.2 106.5h.8v.8h-.8zM325.9 109.9h.8v.8h-.8zM321.2 108.9h.8v.8h-.8zM309.0 111.5h.8v.8h-.8zM312.8 125.5h.8v.8h-.8zM333.7 111.8h.8v.8h-.8zM320.4 94.6h.8v.8h-.8zM312.3 129.1h.8v.8h-.8zM304.8 117.5h.8v.8h-.8zM327.2 106.3h.8v.8h-.8zM311.2 107.2h.8v.8h-.8zM322.5 110.0h.8v.8h-.8zM330.4 118.3h.8v.8h-.8zM313.6 130.6h.8v.8h-.8zM310.2 106.1h.8v.8h-.8zM311.0 103.9h.8v.8h-.8zM309.0 110.3h.8v.8h-.8zM323.6 97.5h.8v.8h-.8zM298.1 105.8h.8v.8h-.8zM310.3 114.3h.8v.8h-.8zM304.9 122.9h.8v.8h-.8zM307.8 109.3h.8v.8h-.8zM314.3 119.5h.8v.8h-.8zM317.0 110.4h.8v.8h-.8zM307.6 112.3h.8v.8h-.8zM318.1 107.4h.8v.8h-.8zM313.4 96.3h.8v.8h-.8zM307.8 120.1h.8v.8h-.8zM329.4 108.7h.8v.8h-.8zM311.8 130.5h.8v.8h-.8zM309.1 118.6h.8v.8h-.8zM306.8 121.7h.8v.8h-.8zM326.5 101.2h.8v.8h-.8zM311.2 101.3h.8v.8h-.8zM316.7 107.2h.8v.8h-.8zM297.0 103.7h.8v.8h-.8zM316.4 98.5h.8v.8h-.8zM325.6 113.0h.8v.8h-.8zM311.6 121.5h.8v.8h-.8zM303.4 116.6h.8v.8h-.8zM298.6 109.2h.8v.8h-.8zM320.7 105.8h.8v.8h-.8zM312.4 115.6h.8v.8h-.8zM330.5 119.2h.8v.8h-.8zM318.7 108.1h.8v.8h-.8zM297.6 125.1h.8v.8h-.8zM334.4 92.1h.8v.8h-.8zM323.3 109.4h.8v.8h-.8zM321.5 112.3h.8v.8h-.8zM311.5 110.6h.8v.8h-.8zM313.2 119.6h.8v.8h-.8zM310.7 106.5h.8v.8h-.8zM320.9 114.9h.8v.8h-.8zM318.4 112.3h.8v.8h-.8zM329.9 117.8h.8v.8h-.8zM316.0 108.7h.8v.8h-.8zM320.9 95.4h.8v.8h-.8zM307.8 105.5h.8v.8h-.8zM315.5 107.4h.8v.8h-.8zM340.9 114.0h.8v.8h-.8zM318.1 127.6h.8v.8h-.8zM313.6 108.0h.8v.8h-.8zM327.2 115.8h.8v.8h-.8zM323.9 119.1h.8v.8h-.8zM309.6 105.7h.8v.8h-.8zM305.6 111.9h.8v.8h-.8zM324.7 101.4h.8v.8h-.8zM307.7 100.6h.8v.8h-.8zM335.7 114.9h.8v.8h-.8zM316.0 100.8h.8v.8h-.8zM302.2 106.4h.8v.8h-.8zM314.0 100.6h.8v.8h-.8zM311.1 120.2h.8v.8h-.8zM313.8 111.3h.8v.8h-.8zM312.0 105.2h.8v.8h-.8zM298.3 111.2h.8v.8h-.8zM302.3 107.1h.8v.8h-.8zM296.0 111.2h.8v.8h-.8zM323.7 103.1h.8v.8h-.8zM317.2 98.4h.8v.8h-.8zM320.0 114.2h.8v.8h-.8zM309.3 117.7h.8v.8h-.8zM303.9 111.6h.8v.8h-.8zM332.2 108.8h.8v.8h-.8zM301.2 120.5h.8v.8h-.8zM319.5 107.9h.8v.8h-.8zM293.5 97.4h.8v.8h-.8zM296.8 123.4h.8v.8h-.8zM316.8 103.6h.8v.8h-.8zM326.3 120.9h.8v.8h-.8zM304.3 115.0h.8v.8h-.8zM295.4 114.9h.8v.8h-.8zM333.7 97.9h.8v.8h-.8zM314.2 105.5h.8v.8h-.8zM312.6 111.3h.8v.8h-.8zM316.7 117.2h.8v.8h-.8zM319.3 118.2h.8v.8h-.8zM324.8 118.2h.8v.8h-.8zM306.2 114.3h.8v.8h-.8zM309.5 104.3h.8v.8h-.8zM335.2 111.0h.8v.8h-.8zM314.1 94.0h.8v.8h-.8zM311.1 116.7h.8v.8h-.8zM311.4 106.4h.8v.8h-.8zM329.9 106.8h.8v.8h-.8zM309.9 110.0h.8v.8h-.8zM311.0 118.9h.8v.8h-.8zM319.9 109.4h.8v.8h-.8zM309.6 109.1h.8v.8h-.8zM332.3 106.6h.8v.8h-.8zM320.8 97.6h.8v.8h-.8zM317.2 115.6h.8v.8h-.8zM327.6 111.8h.8v.8h-.8zM320.0 112.5h.8v.8h-.8zM325.4 125.5h.8v.8h-.8zM315.8 104.0h.8v.8h-.8zM320.2 109.1h.8v.8h-.8zM320.7 116.0h.8v.8h-.8zM315.3 106.9h.8v.8h-.8zM317.0 100.5h.8v.8h-.8zM316.6 103.3h.8v.8h-.8zM318.6 111.0h.8v.8h-.8zM311.2 101.3h.8v.8h-.8zM314.2 105.1h.8v.8h-.8zM312.0 116.0h.8v.8h-.8zM324.1 99.6h.8v.8h-.8zM323.9 120.3h.8v.8h-.8zM326.0 111.7h.8v.8h-.8zM312.6 124.2h.8v.8h-.8zM310.1 98.9h.8v.8h-.8zM314.6 112.7h.8v.8h-.8zM302.2 101.9h.8v.8h-.8zM335.4 109.6h.8v.8h-.8zM322.2 105.2h.8v.8h-.8zM296.9 110.4h.8v.8h-.8zM328.4 104.1h.8v.8h-.8zM293.9 110.7h.8v.8h-.8zM310.5 110.9h.8v.8h-.8zM302.1 109.0h.8v.8h-.8zM307.6 117.9h.8v.8h-.8zM315.3 117.2h.8v.8h-.8zM313.1 93.9h.8v.8h-.8zM292.1 116.4h.8v.8h-.8zM323.3 116.6h.8v.8h-.8zM312.8 96.6h.8v.8h-.8zM308.2 114.1h.8v.8h-.8zM328.8 106.6h.8v.8h-.8zM307.4 104.9h.8v.8h-.8zM324.8 116.4h.8v.8h-.8zM293.5 121.6h.8v.8h-.8zM303.5 99.8h.8v.8h-.8zM296.1 106.2h.8v.8h-.8zM339.1 128.4h.8v.8h-.8zM299.9 106.3h.8v.8h-.8zM315.4 113.6h.8v.8h-.8zM308.4 98.5h.8v.8h-.8zM309.1 105.5h.8v.8h-.8zM293.9 113.2h.8v.8h-.8zM297.5 98.2h.8v.8h-.8zM330.3 116.5h.8v.8h-.8zM329.6 110.1h.8v.8h-.8zM309.1 110.2h.8v.8h-.8zM298.6 117.5h.8v.8h-.8zM316.6 107.9h.8v.8h-.8zM293.1 111.3h.8v.8h-.8zM331.5 120.4h.8v.8h-.8zM323.3 107.0h.8v.8h-.8zM315.1 114.7h.8v.8h-.8zM315.8 118.5h.8v.8h-.8zM306.3 93.0h.8v.8h-.8zM298.4 116.9h.8v.8h-.8zM325.5 109.5h.8v.8h-.8zM319.6 110.6h.8v.8h-.8zM315.5 106.7h.8v.8h-.8zM309.2 120.1h.8v.8h-.8zM310.7 110.4h.8v.8h-.8zM326.8 117.1h.8v.8h-.8zM309.3 112.8h.8v.8h-.8zM302.5 112.4h.8v.8h-.8zM317.1 110.2h.8v.8h-.8zM315.4 113.2h.8v.8h-.8zM314.5 106.6h.8v.8h-.8zM303.0 109.5h.8v.8h-.8zM331.3 107.3h.8v.8h-.8zM306.5 107.3h.8v.8h-.8zM300.5 115.3h.8v.8h-.8zM302.8 118.5h.8v.8h-.8zM323.6 114.2h.8v.8h-.8zM325.1 108.9h.8v.8h-.8zM294.3 111.5h.8v.8h-.8zM320.7 97.9h.8v.8h-.8zM300.2 120.1h.8v.8h-.8zM318.5 120.6h.8v.8h-.8zM321.0 110.4h.8v.8h-.8zM318.4 116.8h.8v.8h-.8zM313.3 108.9h.8v.8h-.8zM317.1 107.8h.8v.8h-.8zM340.2 102.4h.8v.8h-.8zM296.9 101.7h.8v.8h-.8zM325.2 106.4h.8v.8h-.8zM315.4 108.7h.8v.8h-.8zM316.7 98.9h.8v.8h-.8zM314.6 105.9h.8v.8h-.8zM325.6 114.4h.8v.8h-.8zM299.7 104.0h.8v.8h-.8zM319.9 119.3h.8v.8h-.8zM322.1 108.6h.8v.8h-.8zM325.9 91.1h.8v.8h-.8zM307.7 103.3h.8v.8h-.8zM302.3 115.8h.8v.8h-.8zM316.7 112.5h.8v.8h-.8zM312.2 115.5h.8v.8h-.8zM322.3 105.3h.8v.8h-.8zM324.0 102.4h.8v.8h-.8zM333.1 98.7h.8v.8h-.8zM310.5 102.3h.8v.8h-.8zM314.1 120.8h.8v.8h-.8zM305.3 125.1h.8v.8h-.8zM329.3 112.3h.8v.8h-.8zM307.1 118.1h.8v.8h-.8zM324.3 109.3h.8v.8h-.8zM341.2 103.0h.8v.8h-.8zM298.9 110.0h.8v.8h-.8zM320.1 123.3h.8v.8h-.8zM294.1 113.3h.8v.8h-.8zM327.7 104.1h.8v.8h-.8zM308.6 101.4h.8v.8h-.8zM322.2 116.3h.8v.8h-.8zM320.2 111.9h.8v.8h-.8zM324.7 108.7h.8v.8h-.8zM321.6 116.3h.8v.8h-.8zM328.1 113.4h.8v.8h-.8zM314.6 116.0h.8v.8h-.8zM296.4 98.1h.8v.8h-.8zM331.7 110.1h.8v.8h-.8zM301.9 106.9h.8v.8h-.8zM312.0 111.2h.8v.8h-.8zM305.1 119.0h.8v.8h-.8zM301.6 124.5h.8v.8h-.8zM321.1 96.7h.8v.8h-.8zM300.0 112.1h.8v.8h-.8zM316.7 106.9h.8v.8h-.8zM313.8 111.8h.8v.8h-.8zM300.9 112.0h.8v.8h-.8zM339.1 103.4h.8v.8h-.8zM302.3 116.6h.8v.8h-.8zM328.7 117.5h.8v.8h-.8zM306.6 110.5h.8v.8h-.8zM315.9 108.7h.8v.8h-.8zM318.1 118.7h.8v.8h-.8zM319.8 109.9h.8v.8h-.8zM311.4 124.8h.8v.8h-.8zM299.9 127.4h.8v.8h-.8zM321.9 110.5h.8v.8h-.8zM305.3 125.6h.8v.8h-.8zM327.3 116.6h.8v.8h-.8zM337.1 94.5h.8v.8h-.8zM314.8 108.0h.8v.8h-.8zM305.5 111.7h.8v.8h-.8zM319.7 114.1h.8v.8h-.8zM312.1 100.2h.8v.8h-.8zM319.9 114.8h.8v.8h-.8zM337.5 115.9h.8v.8h-.8zM313.8 101.4h.8v.8h-.8zM344.3 102.7h.8v.8h-.8zM315.9 116.2h.8v.8h-.8zM319.3 120.5h.8v.8h-.8zM302.0 106.0h.8v.8h-.8zM315.6 100.6h.8v.8h-.8zM306.7 122.0h.8v.8h-.8zM317.0 109.4h.8v.8h-.8zM307.2 111.4h.8v.8h-.8zM313.3 102.0h.8v.8h-.8zM322.6 99.7h.8v.8h-.8zM328.1 106.7h.8v.8h-.8zM316.9 103.4h.8v.8h-.8zM334.2 119.8h.8v.8h-.8zM337.5 115.6h.8v.8h-.8zM329.0 104.5h.8v.8h-.8zM328.4 105.9h.8v.8h-.8zM313.1 99.8h.8v.8h-.8zM314.3 113.6h.8v.8h-.8zM312.9 101.8h.8v.8h-.8zM323.9 116.9h.8v.8h-.8zM312.7 116.8h.8v.8h-.8zM324.9 101.8h.8v.8h-.8zM313.3 95.8h.8v.8h-.8zM301.9 114.8h.8v.8h-.8zM303.7 114.4h.8v.8h-.8zM317.8 93.8h.8v.8h-.8zM308.1 123.0h.8v.8h-.8zM313.8 111.5h.8v.8h-.8zM305.6 98.4h.8v.8h-.8zM311.5 103.7h.8v.8h-.8zM314.9 95.0h.8v.8h-.8zM329.6 122.8h.8v.8h-.8zM305.1 113.7h.8v.8h-.8zM303.4 118.1h.8v.8h-.8zM304.0 110.1h.8v.8h-.8zM328.6 113.5h.8v.8h-.8zM309.9 98.7h.8v.8h-.8zM295.4 121.5h.8v.8h-.8zM319.5 110.5h.8v.8h-.8zM328.0 110.5h.8v.8h-.8zM305.3 110.3h.8v.8h-.8zM312.5 110.5h.8v.8h-.8zM342.2 112.8h.8v.8h-.8zM316.8 108.2h.8v.8h-.8zM305.9 103.2h.8v.8h-.8zM292.1 108.5h.8v.8h-.8zM296.2 97.1h.8v.8h-.8zM302.9 95.2h.8v.8h-.8zM329.4 119.2h.8v.8h-.8zM302.5 127.7h.8v.8h-.8zM321.2 89.8h.8v.8h-.8zM313.9 102.5h.8v.8h-.8zM293.6 110.0h.8v.8h-.8zM326.9 113.0h.8v.8h-.8zM296.9 106.5h.8v.8h-.8zM304.9 120.3h.8v.8h-.8zM312.5 102.8h.8v.8h-.8zM303.1 95.6h.8v.8h-.8zM303.9 118.4h.8v.8h-.8zM291.6 113.8h.8v.8h-.8zM312.3 117.1h.8v.8h-.8zM300.5 118.8h.8v.8h-.8zM331.5 127.4h.8v.8h-.8zM294.9 111.7h.8v.8h-.8zM311.2 111.7h.8v.8h-.8zM302.2 118.3h.8v.8h-.8zM340.6 120.4h.8v.8h-.8zM302.6 106.8h.8v.8h-.8zM322.0 110.9h.8v.8h-.8zM304.8 121.1h.8v.8h-.8zM319.6 118.2h.8v.8h-.8zM311.6 120.9h.8v.8h-.8zM308.2 102.0h.8v.8h-.8zM313.5 99.3h.8v.8h-.8zM328.0 115.2h.8v.8h-.8zM294.2 113.4h.8v.8h-.8zM323.4 106.8h.8v.8h-.8zM318.4 105.4h.8v.8h-.8zM312.8 109.9h.8v.8h-.8zM319.2 102.3h.8v.8h-.8zM300.5 114.2h.8v.8h-.8zM307.7 115.1h.8v.8h-.8zM307.8 100.5h.8v.8h-.8zM322.1 111.9h.8v.8h-.8zM322.0 107.1h.8v.8h-.8zM309.4 120.9h.8v.8h-.8zM294.0 126.0h.8v.8h-.8zM319.5 109.6h.8v.8h-.8zM314.6 115.3h.8v.8h-.8zM304.7 113.4h.8v.8h-.8zM302.5 96.6h.8v.8h-.8z" fill="#000" fill-opacity="0.9"/>
<path d="M276.1 114.7h.8v.8h-.8zM279.9 114.2h.8v.8h-.8zM284.3 96.9h.8v.8h-.8zM280.5 108.4h.8v.8h-.8zM277.3 102.5h.8v.8h-.8zM274.8 101.0h.8v.8h-.8zM288.1 110.1h.8v.8h-.8zM283.0 101.4h.8v.8h-.8zM264.1 94.0h.8v.8h-.8zM279.8 122.6h.8v.8h-.8zM278.8 101.2h.8v.8h-.8zM277.7 101.3h.8v.8h-.8zM271.5 108.0h.8v.8h-.8zM276.9 102.9h.8v.8h-.8zM274.3 101.8h.8v.8h-.8zM280.3 122.2h.8v.8h-.8zM277.9 129.6h.8v.8h-.8zM270.3 112.4h.8v.8h-.8zM272.8 108.6h.8v.8h-.8zM279.5 114.9h.8v.8h-.8zM285.1 105.1h.8v.8h-.8zM272.3 108.3h.8v.8h-.8zM280.6 103.9h.8v.8h-.8zM283.8 124.8h.8v.8h-.8zM271.4 113.2h.8v.8h-.8zM284.4 93.1h.8v.8h-.8zM280.1 108.0h.8v.8h-.8zM271.4 121.5h.8v.8h-.8zM280.2 105.8h.8v.8h-.8zM281.4 115.6h.8v.8h-.8zM283.1 115.1h.8v.8h-.8zM281.2 99.7h.8v.8h-.8zM276.7 111.1h.8v.8h-.8zM264.2 128.7h.8v.8h-.8zM277.0 100.7h.8v.8h-.8zM269.2 112.2h.8v.8h-.8zM279.2 104.9h.8v.8h-.8zM276.8 102.2h.8v.8h-.8zM275.0 109.1h.8v.8h-.8zM275.5 116.0h.8v.8h-.8zM278.2 111.2h.8v.8h-.8zM281.2 121.1h.8v.8h-.8zM282.2 112.0h.8v.8h-.8zM278.1 102.9h.8v.8h-.8zM277.2 116.0h.8v.8h-.8zM280.2 106.6h.8v.8h-.8zM271.9 96.6h.8v.8h-.8zM280.7 119.0h.8v.8h-.8zM281.0 98.0h.8v.8h-.8zM277.9 111.9h.8v.8h-.8zM274.1 113.0h.8v.8h-.8zM277.9 102.7h.8v.8h-.8zM272.3 117.1h.8v.8h-.8zM280.9 102.2h.8v.8h-.8zM273.6 117.8h.8v.8h-.8zM282.2 107.3h.8v.8h-.8zM287.5 107.5h.8v.8h-.8zM273.3 119.6h.8v.8h-.8zM278.0 113.0h.8v.8h-.8zM279.2 101.2h.8v.8h-.8zM272.6 108.3h.8v.8h-.8zM286.5 101.2h.8v.8h-.8zM286.3 111.9h.8v.8h-.8zM273.0 112.3h.8v.8h-.8zM282.0 102.1h.8v.8h-.8zM267.6 113.1h.8v.8h-.8zM273.1 113.9h.8v.8h-.8zM268.8 108.8h.8v.8h-.8zM274.7 97.0h.8v.8h-.8zM277.7 111.5h.8v.8h-.8zM276.0 99.7h.8v.8h-.8zM280.1 94.7h.8v.8h-.8zM281.9 114.3h.8v.8h-.8zM288.0 117.7h.8v.8h-.8zM280.9 112.3h.8v.8h-.8zM279.1 98.4h.8v.8h-.8zM286.8 114.6h.8v.8h-.8zM277.5 100.0h.8v.8h-.8zM286.9 114.7h.8v.8h-.8zM272.7 115.9h.8v.8h-.8zM289.1 109.8h.8v.8h-.8zM281.1 106.4h.8v.8h-.8zM275.6 119.4h.8v.8h-.8zM278.3 116.9h.8v.8h-.8zM277.4 116.4h.8v.8h-.8zM283.4 101.1h.8v.8h-.8zM273.3 109.4h.8v.8h-.8zM283.4 112.4h.8v.8h-.8zM285.6 98.0h.8v.8h-.8zM281.6 104.6h.8v.8h-.8zM279.5 112.8h.8v.8h-.8zM273.8 108.0h.8v.8h-.8zM272.8 112.3h.8v.8h-.8zM274.5 105.7h.8v.8h-.8zM280.2 104.3h.8v.8h-.8zM285.1 104.4h.8v.8h-.8zM283.5 112.5h.8v.8h-.8zM273.5 108.1h.8v.8h-.8zM274.5 106.8h.8v.8h-.8zM277.6 125.9h.8v.8h-.8zM276.8 123.7h.8v.8h-.8zM281.4 98.6h.8v.8h-.8zM266.7 115.9h.8v.8h-.8zM268.4 116.3h.8v.8h-.8zM284.5 113.4h.8v.8h-.8zM277.9 107.8h.8v.8h-.8zM280.4 107.4h.8v.8h-.8zM276.1 106.8h.8v.8h-.8zM285.2 104.6h.8v.8h-.8zM281.0 100.0h.8v.8h-.8zM275.2 98.0h.8v.8h-.8zM277.9 116.0h.8v.8h-.8zM280.6 105.7h.8v.8h-.8zM282.3 107.0h.8v.8h-.8zM281.0 112.4h.8v.8h-.8zM281.9 88.4h.8v.8h-.8zM272.1 116.7h.8v.8h-.8zM278.4 129.5h.8v.8h-.8zM277.7 105.2h.8v.8h-.8zM287.0 114.8h.8v.8h-.8zM289.1 114.4h.8v.8h-.8zM277.9 116.3h.8v.8h-.8zM274.8 106.1h.8v.8h-.8zM276.0 108.1h.8v.8h-.8zM283.1 105.8h.8v.8h-.8zM280.7 105.7h.8v.8h-.8zM277.9 111.5h.8v.8h-.8zM273.3 118.8h.8v.8h-.8zM280.2 121.1h.8v.8h-.8zM284.1 115.6h.8v.8h-.8zM278.2 100.5h.8v.8h-.8zM277.8 106.0h.8v.8h-.8zM280.3 106.0h.8v.8h-.8zM285.2 105.9h.8v.8h-.8zM277.7 118.1h.8v.8h-.8zM279.0 99.5h.8v.8h-.8zM281.2 108.3h.8v.8h-.8zM268.1 111.7h.8v.8h-.8zM273.4 103.5h.8v.8h-.8zM281.6 112.6h.8v.8h-.8zM277.5 128.9h.8v.8h-.8zM281.2 104.7h.8v.8h-.8zM280.3 108.9h.8v.8h-.8zM267.3 96.3h.8v.8h-.8zM271.6 127.9h.8v.8h-.8zM278.0 107.6h.8v.8h-.8zM276.0 118.5h.8v.8h-.8zM279.1 124.8h.8v.8h-.8zM283.2 124.3h.8v.8h-.8zM278.4 113.3h.8v.8h-.8zM276.7 108.5h.8v.8h-.8zM269.8 105.0h.8v.8h-.8zM274.0 104.3h.8v.8h-.8zM285.5 112.3h.8v.8h-.8zM285.5 117.4h.8v.8h-.8zM283.9 118.7h.8v.8h-.8zM275.8 117.0h.8v.8h-.8zM277.3 105.4h.8v.8h-.8zM285.3 128.8h.8v.8h-.8zM273.8 125.1h.8v.8h-.8zM283.4 102.6h.8v.8h-.8zM280.4 113.2h.8v.8h-.8zM281.0 106.9h.8v.8h-.8zM272.2 110.3h.8v.8h-.8zM283.6 116.8h.8v.8h-.8zM282.5 119.6h.8v.8h-.8zM273.7 109.6h.8v.8h-.8zM280.8 118.7h.8v.8h-.8zM279.8 114.5h.8v.8h-.8zM279.7 128.2h.8v.8h-.8zM267.4 109.8h.8v.8h-.8zM269.3 111.2h.8v.8h-.8zM271.4 104.1h.8v.8h-.8zM280.2 124.9h.8v.8h-.8zM281.5 115.8h.8v.8h-.8zM284.4 111.7h.8v.8h-.8zM274.5 109.2h.8v.8h-.8zM280.8 107.6h.8v.8h-.8zM275.5 106.9h.8v.8h-.8zM271.0 101.1h.8v.8h-.8zM278.5 106.9h.8v.8h-.8zM279.2 122.2h.8v.8h-.8zM280.6 109.7h.8v.8h-.8zM272.8 100.7h.8v.8h-.8zM281.0 102.4h.8v.8h-.8zM281.3 100.7h.8v.8h-.8zM279.7 109.4h.8v.8h-.8zM284.3 106.6h.8v.8h-.8zM277.0 112.1h.8v.8h-.8zM279.3 124.6h.8v.8h-.8zM277.6 105.4h.8v.8h-.8zM277.3 114.1h.8v.8h-.8zM280.2 116.0h.8v.8h-.8zM288.7 109.7h.8v.8h-.8zM272.6 111.3h.8v.8h-.8zM281.2 90.7h.8v.8h-.8zM279.1 97.2h.8v.8h-.8zM281.4 122.0h.8v.8h-.8zM284.5 97.0h.8v.8h-.8zM286.3 117.8h.8v.8h-.8zM277.1 114.3h.8v.8h-.8zM287.0 107.1h.8v.8h-.8zM278.9 105.2h.8v.8h-.8zM285.1 91.3h.8v.8h-.8zM286.5 101.6h.8v.8h-.8zM283.9 95.9h.8v.8h-.8zM274.0 104.8h.8v.8h-.8zM283.4 96.0h.8v.8h-.8zM282.2 104.5h.8v.8h-.8zM285.6 107.3h.8v.8h-.8zM281.6 108.5h.8v.8h-.8zM288.5 106.9h.8v.8h-.8zM278.9 127.2h.8v.8h-.8zM279.4 115.9h.8v.8h-.8zM275.1 111.7h.8v.8h-.8zM267.0 110.9h.8v.8h-.8zM275.6 97.0h.8v.8h-.8zM271.5 119.9h.8v.8h-.8zM281.3 96.9h.8v.8h-.8zM288.6 104.0h.8v.8h-.8zM277.0 112.1h.8v.8h-.8zM273.0 96.0h.8v.8h-.8zM275.1 120.2h.8v.8h-.8zM284.0 96.3h.8v.8h-.8zM285.4 110.3h.8v.8h-.8zM281.6 110.4h.8v.8h-.8zM281.2 101.3h.8v.8h-.8zM274.2 103.9h.8v.8h-.8zM277.1 115.4h.8v.8h-.8zM272.6 123.8h.8v.8h-.8zM275.7 104.9h.8v.8h-.8zM282.7 113.8h.8v.8h-.8zM277.2 100.7h.8v.8h-.8zM273.7 96.2h.8v.8h-.8zM285.1 119.4h.8v.8h-.8zM288.9 114.3h.8v.8h-.8zM280.8 116.6h.8v.8h-.8zM284.0 107.8h.8v.8h-.8zM280.9 128.7h.8v.8h-.8zM270.0 97.8h.8v.8h-.8zM273.9 116.5h.8v.8h-.8zM285.3 107.1h.8v.8h-.8zM282.6 109.6h.8v.8h-.8zM280.6 105.3h.8v.8h-.8zM278.9 110.0h.8v.8h-.8zM285.0 129.3h.8v.8h-.8zM269.4 114.6h.8v.8h-.8zM279.0 118.4h.8v.8h-.8zM284.6 116.8h.8v.8h-.8zM283.3 101.8h.8v.8h-.8zM270.0 124.5h.8v.8h-.8zM285.4 101.7h.8v.8h-.8zM285.8 115.8h.8v.8h-.8zM266.0 117.8h.8v.8h-.8zM273.8 120.1h.8v.8h-.8zM275.4 103.6h.8v.8h-.8zM270.8 108.1h.8v.8h-.8zM284.4 104.2h.8v.8h-.8zM269.1 128.6h.8v.8h-.8zM288.8 116.0h.8v.8h-.8zM276.2 99.5h.8v.8h-.8zM270.3 114.8h.8v.8h-.8zM285.9 100.8h.8v.8h-.8zM279.0 107.6h.8v.8h-.8zM277.6 114.4h.8v.8h-.8zM283.5 119.4h.8v.8h-.8zM277.5 108.7h.8v.8h-.8zM271.9 119.4h.8v.8h-.8zM276.2 104.3h.8v.8h-.8zM279.4 102.6h.8v.8h-.8zM273.5 107.4h.8v.8h-.8zM286.9 108.2h.8v.8h-.8zM281.8 97.3h.8v.8h-.8zM268.7 125.8h.8v.8h-.8zM276.9 96.6h.8v.8h-.8zM278.4 115.3h.8v.8h-.8zM269.8 102.3h.8v.8h-.8zM280.4 102.0h.8v.8h-.8zM283.2 118.3h.8v.8h-.8zM281.3 106.3h.8v.8h-.8zM278.8 104.5h.8v.8h-.8zM278.3 112.8h.8v.8h-.8zM277.4 118.5h.8v.8h-.8zM280.8 117.1h.8v.8h-.8zM282.4 107.9h.8v.8h-.8zM276.5 118.7h.8v.8h-.8zM282.3 114.4h.8v.8h-.8zM274.7 115.5h.8v.8h-.8zM283.2 108.4h.8v.8h-.8zM282.4 128.9h.8v.8h-.8zM269.0 115.3h.8v.8h-.8zM272.8 98.1h.8v.8h-.8zM277.7 114.7h.8v.8h-.8zM279.3 99.9h.8v.8h-.8zM271.4 105.2h.8v.8h-.8zM279.1 102.8h.8v.8h-.8zM271.0 125.3h.8v.8h-.8zM274.5 108.6h.8v.8h-.8zM276.1 104.9h.8v.8h-.8zM279.2 107.4h.8v.8h-.8zM282.3 99.7h.8v.8h-.8zM271.1 127.0h.8v.8h-.8zM278.6 116.7h.8v.8h-.8zM285.3 114.8h.8v.8h-.8zM279.2 96.5h.8v.8h-.8zM270.5 118.5h.8v.8h-.8zM282.6 115.0h.8v.8h-.8zM270.2 91.4h.8v.8h-.8zM273.4 99.7h.8v.8h-.8zM279.8 101.1h.8v.8h-.8zM287.4 104.6h.8v.8h-.8zM276.0 117.5h.8v.8h-.8zM280.8 102.2h.8v.8h-.8zM283.4 126.8h.8v.8h-.8zM272.5 107.8h.8v.8h-.8zM273.3 93.1h.8v.8h-.8zM282.3 116.1h.8v.8h-.8zM284.2 113.7h.8v.8h-.8zM268.3 109.8h.8v.8h-.8zM275.4 99.7h.8v.8h-.8zM273.1 116.7h.8v.8h-.8zM277.4 127.2h.8v.8h-.8zM281.5 93.3h.8v.8h-.8zM283.8 120.9h.8v.8h-.8zM279.2 99.4h.8v.8h-.8zM288.5 98.5h.8v.8h-.8zM278.6 93.3h.8v.8h-.8zM272.3 95.1h.8v.8h-.8zM284.8 120.3h.8v.8h-.8zM276.8 98.1h.8v.8h-.8zM278.7 113.3h.8v.8h-.8zM270.8 99.9h.8v.8h-.8zM278.5 116.2h.8v.8h-.8zM279.4 113.9h.8v.8h-.8zM272.3 88.2h.8v.8h-.8zM280.7 102.0h.8v.8h-.8zM278.3 106.7h.8v.8h-.8zM281.6 103.2h.8v.8h-.8zM286.7 110.3h.8v.8h-.8zM281.8 115.5h.8v.8h-.8zM284.6 113.5h.8v.8h-.8zM269.6 104.5h.8v.8h-.8zM289.0 114.2h.8v.8h-.8zM282.0 114.1h.8v.8h-.8zM275.6 104.0h.8v.8h-.8zM275.5 120.2h.8v.8h-.8zM281.0 125.7h.8v.8h-.8zM281.7 126.6h.8v.8h-.8zM281.5 99.6h.8v.8h-.8zM288.4 113.0h.8v.8h-.8zM285.4 111.9h.8v.8h-.8zM277.2 111.5h.8v.8h-.8zM273.0 99.5h.8v.8h-.8zM274.2 105.4h.8v.8h-.8zM271.7 109.1h.8v.8h-.8zM280.6 127.9h.8v.8h-.8zM288.9 109.6h.8v.8h-.8zM283.8 108.1h.8v.8h-.8zM281.1 109.7h.8v.8h-.8zM276.1 110.7h.8v.8h-.8zM271.0 113.9h.8v.8h-.8zM277.4 100.4h.8v.8h-.8zM277.1 114.9h.8v.8h-.8zM275.3 114.2h.8v.8h-.8zM282.1 123.8h.8v.8h-.8zM273.1 109.0h.8v.8h-.8zM281.8 123.3h.8v.8h-.8zM280.4 116.7h.8v.8h-.8zM271.1 104.8h.8v.8h-.8zM288.0 107.5h.8v.8h-.8zM277.5 95.9h.8v.8h-.8zM282.4 112.3h.8v.8h-.8zM289.9 111.5h.8v.8h-.8zM277.6 97.5h.8v.8h-.8zM278.6 118.4h.8v.8h-.8zM283.0 120.9h.8v.8h-.8zM283.7 109.6h.8v.8h-.8zM282.3 111.5h.8v.8h-.8zM271.8 125.2h.8v.8h-.8zM281.0 100.7h.8v.8h-.8zM281.1 112.6h.8v.8h-.8zM284.4 122.8h.8v.8h-.8zM287.3 101.6h.8v.8h-.8zM268.9 112.5h.8v.8h-.8zM280.8 113.1h.8v.8h-.8zM273.0 105.8h.8v.8h-.8zM280.1 116.6h.8v.8h-.8zM275.7 89.0h.8v.8h-.8zM284.8 108.8h.8v.8h-.8zM278.4 101.2h.8v.8h-.8zM283.0 94.0h.8v.8h-.8zM279.6 111.1h.8v.8h-.8zM280.6 121.6h.8v.8h-.8zM278.5 110.8h.8v.8h-.8zM283.7 96.2h.8v.8h-.8zM277.4 110.6h.8v.8h-.8zM284.2 102.9h.8v.8h-.8zM283.4 113.4h.8v.8h-.8zM270.9 96.8h.8v.8h-.8zM271.2 111.2h.8v.8h-.8zM280.1 116.5h.8v.8h-.8zM283.5 105.1h.8v.8h-.8zM284.8 117.3h.8v.8h-.8zM281.6 114.3h.8v.8h-.8zM272.0 113.2h.8v.8h-.8zM273.4 99.3h.8v.8h-.8zM277.1 111.2h.8v.8h-.8zM278.7 107.0h.8v.8h-.8zM273.5 111.7h.8v.8h-.8zM274.9 97.4h.8v.8h-.8zM279.5 123.0h.8v.8h-.8zM276.8 100.5h.8v.8h-.8zM286.6 125.3h.8v.8h-.8zM277.4 108.1h.8v.8h-.8zM279.7 118.9h.8v.8h-.8zM281.4 93.7h.8v.8h-.8zM273.0 99.0h.8v.8h-.8zM281.4 111.0h.8v.8h-.8zM288.8 107.6h.8v.8h-.8zM280.7 110.7h.8v.8h-.8zM321.3 108.8h.8v.8h-.8zM328.5 113.3h.8v.8h-.8zM329.3 115.8h.8v.8h-.8zM301.1 122.8h.8v.8h-.8zM297.8 117.2h.8v.8h-.8zM332.8 118.0h.8v.8h-.8zM342.8 90.7h.8v.8h-.8zM324.1 112.6h.8v.8h-.8zM338.2 96.5h.8v.8h-.8zM318.5 103.9h.8v.8h-.8zM315.5 106.6h.8v.8h-.8zM315.6 88.7h.8v.8h-.8zM317.5 108.8h.8v.8h-.8zM306.9 101.7h.8v.8h-.8zM304.1 126.8h.8v.8h-.8zM333.0 104.8h.8v.8h-.8zM302.5 114.5h.8v.8h-.8zM308.4 125.2h.8v.8h-.8zM335.9 105.2h.8v.8h-.8zM327.9 98.4h.8v.8h-.8zM292.6 119.3h.8v.8h-.8zM344.4 102.5h.8v.8h-.8zM309.6 88.9h.8v.8h-.8zM302.5 107.1h.8v.8h-.8zM337.6 107.0h.8v.8h-.8zM317.7 108.3h.8v.8h-.8zM331.7 106.5h.8v.8h-.8zM320.6 107.0h.8v.8h-.8zM300.2 124.3h.8v.8h-.8zM306.9 94.3h.8v.8h-.8zM311.0 108.9h.8v.8h-.8zM331.2 90.7h.8v.8h-.8zM297.6 111.6h.8v.8h-.8zM324.2 95.4h.8v.8h-.8zM299.8 111.4h.8v.8h-.8zM315.7 90.3h.8v.8h-.8zM303.9 125.5h.8v.8h-.8zM301.0 121.0h.8v.8h-.8zM293.4 126.4h.8v.8h-.8zM343.8 98.9h.8v.8h-.8zM307.1 115.8h.8v.8h-.8zM298.1 115.7h.8v.8h-.8zM337.6 109.3h.8v.8h-.8zM323.2 105.8h.8v.8h-.8zM334.2 97.7h.8v.8h-.8zM343.6 105.7h.8v.8h-.8zM312.8 90.4h.8v.8h-.8zM310.9 111.2h.8v.8h-.8zM338.0 88.6h.8v.8h-.8zM316.0 100.6h.8v.8h-.8zM298.8 109.6h.8v.8h-.8zM305.8 118.6h.8v.8h-.8zM326.4 103.6h.8v.8h-.8zM320.1 97.2h.8v.8h-.8zM301.1 101.2h.8v.8h-.8zM317.1 98.8h.8v.8h-.8zM311.3 99.0h.8v.8h-.8zM321.8 95.1h.8v.8h-.8zM317.7 109.1h.8v.8h-.8zM333.5 98.6h.8v.8h-.8zM299.7 93.0h.8v.8h-.8zM330.2 100.1h.8v.8h-.8zM333.9 105.9h.8v.8h-.8zM313.6 87.8h.8v.8h-.8zM307.1 117.6h.8v.8h-.8zM308.2 116.3h.8v.8h-.8zM291.6 121.3h.8v.8h-.8zM323.2 94.0h.8v.8h-.8zM309.5 101.4h.8v.8h-.8zM304.1 117.9h.8v.8h-.8zM320.4 116.0h.8v.8h-.8zM331.7 94.3h.8v.8h-.8zM296.4 114.9h.8v.8h-.8zM318.5 108.8h.8v.8h-.8zM304.9 120.3h.8v.8h-.8zM326.0 120.0h.8v.8h-.8zM312.3 116.1h.8v.8h-.8zM317.1 97.7h.8v.8h-.8zM316.7 89.8h.8v.8h-.8zM315.1 110.2h.8v.8h-.8zM329.2 95.5h.8v.8h-.8zM296.7 101.6h.8v.8h-.8zM305.8 101.5h.8v.8h-.8zM316.2 107.3h.8v.8h-.8zM306.2 101.0h.8v.8h-.8zM291.0 100.9h.8v.8h-.8zM338.9 122.0h.8v.8h-.8zM313.5 116.1h.8v.8h-.8zM325.4 108.6h.8v.8h-.8zM315.8 121.6h.8v.8h-.8zM327.1 104.8h.8v.8h-.8zM314.2 118.6h.8v.8h-.8zM308.5 100.8h.8v.8h-.8zM313.6 102.9h.8v.8h-.8zM338.3 110.3h.8v.8h-.8zM316.6 102.3h.8v.8h-.8zM340.7 111.0h.8v.8h-.8zM314.6 102.2h.8v.8h-.8zM313.4 110.4h.8v.8h-.8zM330.7 112.3h.8v.8h-.8zM343.2 89.2h.8v.8h-.8zM318.5 92.3h.8v.8h-.8zM301.5 102.7h.8v.8h-.8zM307.6 98.1h.8v.8h-.8zM293.6 122.5h.8v.8h-.8zM312.9 119.1h.8v.8h-.8zM308.5 118.5h.8v.8h-.8zM309.0 113.1h.8v.8h-.8zM300.7 124.7h.8v.8h-.8zM324.9 119.0h.8v.8h-.8zM313.5 122.5h.8v.8h-.8zM319.2 102.5h.8v.8h-.8zM307.7 109.4h.8v.8h-.8zM303.4 96.0h.8v.8h-.8zM320.1 115.7h.8v.8h-.8zM313.3 117.6h.8v.8h-.8zM343.4 92.0h.8v.8h-.8zM322.1 97.0h.8v.8h-.8zM307.7 110.8h.8v.8h-.8zM331.5 112.9h.8v.8h-.8zM328.4 127.2h.8v.8h-.8zM312.1 120.5h.8v.8h-.8zM341.2 111.6h.8v.8h-.8zM313.3 90.5h.8v.8h-.8zM317.0 116.4h.8v.8h-.8zM313.8 106.3h.8v.8h-.8zM341.6 99.3h.8v.8h-.8zM302.9 109.6h.8v.8h-.8zM336.0 113.1h.8v.8h-.8zM319.2 102.5h.8v.8h-.8zM337.8 116.2h.8v.8h-.8zM327.8 100.3h.8v.8h-.8zM297.3 106.3h.8v.8h-.8zM309.8 89.1h.8v.8h-.8zM317.7 121.1h.8v.8h-.8zM297.6 105.7h.8v.8h-.8zM309.1 110.8h.8v.8h-.8zM330.5 95.9h.8v.8h-.8zM316.4 90.1h.8v.8h-.8zM292.6 93.0h.8v.8h-.8zM331.5 110.3h.8v.8h-.8zM329.7 120.5h.8v.8h-.8zM318.7 110.5h.8v.8h-.8zM324.5 112.6h.8v.8h-.8zM300.9 106.3h.8v.8h-.8zM315.6 108.6h.8v.8h-.8zM306.0 107.5h.8v.8h-.8zM322.6 109.7h.8v.8h-.8zM327.4 116.3h.8v.8h-.8zM326.9 117.9h.8v.8h-.8zM331.5 122.3h.8v.8h-.8zM328.1 100.4h.8v.8h-.8zM338.0 114.4h.8v.8h-.8zM318.8 95.3h.8v.8h-.8zM325.0 103.5h.8v.8h-.8zM342.8 93.1h.8v.8h-.8zM300.3 114.5h.8v.8h-.8zM327.1 98.5h.8v.8h-.8zM317.9 110.8h.8v.8h-.8zM320.5 113.6h.8v.8h-.8zM330.4 102.9h.8v.8h-.8zM311.8 97.6h.8v.8h-.8zM330.0 113.5h.8v.8h-.8zM317.4 111.5h.8v.8h-.8zM323.1 105.0h.8v.8h-.8zM323.1 93.2h.8v.8h-.8zM311.6 128.9h.8v.8h-.8zM332.1 102.4h.8v.8h-.8zM308.7 92.2h.8v.8h-.8zM316.1 106.2h.8v.8h-.8zM307.7 91.6h.8v.8h-.8zM320.5 112.4h.8v.8h-.8zM336.3 112.2h.8v.8h-.8zM342.4 119.3h.8v.8h-.8zM316.3 96.6h.8v.8h-.8zM324.9 118.0h.8v.8h-.8zM293.1 96.4h.8v.8h-.8zM329.0 101.0h.8v.8h-.8zM341.4 108.5h.8v.8h-.8zM309.1 94.0h.8v.8h-.8zM327.6 88.2h.8v.8h-.8zM297.1 95.2h.8v.8h-.8zM314.4 104.0h.8v.8h-.8zM329.2 120.8h.8v.8h-.8zM314.7 120.7h.8v.8h-.8zM306.8 130.8h.8v.8h-.8zM314.5 94.2h.8v.8h-.8zM317.9 94.2h.8v.8h-.8zM328.9 109.2h.8v.8h-.8zM313.3 103.9h.8v.8h-.8zM308.8 100.8h.8v.8h-.8zM295.4 123.1h.8v.8h-.8zM332.3 91.5h.8v.8h-.8zM299.3 114.0h.8v.8h-.8zM312.9 105.6h.8v.8h-.8zM322.0 105.7h.8v.8h-.8zM335.4 117.4h.8v.8h-.8zM326.9 124.7h.8v.8h-.8zM314.3 102.2h.8v.8h-.8zM323.7 95.7h.8v.8h-.8zM315.8 103.8h.8v.8h-.8zM300.6 121.7h.8v.8h-.8zM311.6 113.5h.8v.8h-.8zM309.5 110.3h.8v.8h-.8zM310.8 109.4h.8v.8h-.8zM316.4 100.6h.8v.8h-.8zM325.0 105.4h.8v.8h-.8zM302.4 97.6h.8v.8h-.8zM325.1 122.1h.8v.8h-.8zM296.9 105.1h.8v.8h-.8zM325.2 118.9h.8v.8h-.8zM329.4 94.0h.8v.8h-.8zM318.6 117.9h.8v.8h-.8zM321.8 105.2h.8v.8h-.8zM299.0 111.3h.8v.8h-.8zM316.9 108.4h.8v.8h-.8zM342.1 119.2h.8v.8h-.8zM305.2 111.6h.8v.8h-.8zM313.0 109.5h.8v.8h-.8zM344.2 116.0h.8v.8h-.8zM318.6 100.7h.8v.8h-.8zM315.4 112.2h.8v.8h-.8zM310.0 120.8h.8v.8h-.8zM318.3 94.9h.8v.8h-.8zM313.7 107.0h.8v.8h-.8zM333.9 119.0h.8v.8h-.8zM341.4 123.3h.8v.8h-.8zM323.1 108.8h.8v.8h-.8zM334.3 106.4h.8v.8h-.8zM297.7 104.6h.8v.8h-.8zM328.6 113.9h.8v.8h-.8zM300.2 122.6h.8v.8h-.8zM323.0 91.0h.8v.8h-.8zM325.5 118.5h.8v.8h-.8zM326.6 103.9h.8v.8h-.8zM305.1 121.4h.8v.8h-.8zM321.6 107.6h.8v.8h-.8zM311.6 97.1h.8v.8h-.8zM335.8 115.0h.8v.8h-.8zM307.0 125.7h.8v.8h-.8zM314.3 97.2h.8v.8h-.8zM333.7 122.0h.8v.8h-.8zM311.7 95.0h.8v.8h-.8zM318.8 124.7h.8v.8h-.8zM322.4 99.5h.8v.8h-.8zM329.4 101.6h.8v.8h-.8zM338.3 102.4h.8v.8h-.8zM321.1 97.4h.8v.8h-.8zM297.4 113.4h.8v.8h-.8zM323.6 96.8h.8v.8h-.8zM327.0 102.7h.8v.8h-.8zM309.1 107.9h.8v.8h-.8zM324.3 115.5h.8v.8h-.8zM337.9 110.6h.8v.8h-.8zM306.3 101.4h.8v.8h-.8zM323.9 94.3h.8v.8h-.8zM315.3 104.0h.8v.8h-.8zM316.4 110.1h.8v.8h-.8zM334.7 124.7h.8v.8h-.8zM332.2 118.0h.8v.8h-.8zM300.8 120.8h.8v.8h-.8zM338.8 91.4h.8v.8h-.8zM319.0 99.1h.8v.8h-.8zM308.8 120.5h.8v.8h-.8zM322.1 103.5h.8v.8h-.8zM336.5 96.2h.8v.8h-.8zM304.4 102.9h.8v.8h-.8zM306.0 116.6h.8v.8h-.8zM314.3 96.7h.8v.8h-.8zM320.7 108.9h.8v.8h-.8zM327.8 104.6h.8v.8h-.8zM324.4 97.2h.8v.8h-.8zM318.4 109.7h.8v.8h-.8zM298.5 116.0h.8v.8h-.8zM320.3 108.4h.8v.8h-.8zM310.3 130.7h.8v.8h-.8zM318.0 99.5h.8v.8h-.8zM304.4 115.6h.8v.8h-.8zM314.6 99.6h.8v.8h-.8zM306.4 119.2h.8v.8h-.8zM319.4 119.5h.8v.8h-.8zM317.7 95.0h.8v.8h-.8zM331.9 110.4h.8v.8h-.8zM307.5 105.4h.8v.8h-.8zM302.4 118.4h.8v.8h-.8zM311.3 113.8h.8v.8h-.8zM322.2 104.8h.8v.8h-.8zM323.9 104.8h.8v.8h-.8zM299.1 104.9h.8v.8h-.8zM299.1 117.8h.8v.8h-.8zM328.4 100.7h.8v.8h-.8zM327.9 109.9h.8v.8h-.8zM333.6 96.5h.8v.8h-.8zM318.4 97.0h.8v.8h-.8zM307.0 123.9h.8v.8h-.8zM325.8 115.9h.8v.8h-.8zM335.7 116.6h.8v.8h-.8zM306.3 123.8h.8v.8h-.8zM315.0 115.0h.8v.8h-.8zM314.9 125.8h.8v.8h-.8zM313.0 110.5h.8v.8h-.8zM322.4 99.7h.8v.8h-.8zM314.3 95.8h.8v.8h-.8zM314.2 109.2h.8v.8h-.8zM321.9 125.8h.8v.8h-.8zM324.9 94.7h.8v.8h-.8zM319.1 107.8h.8v.8h-.8zM301.9 117.2h.8v.8h-.8zM330.4 118.7h.8v.8h-.8zM315.9 118.9h.8v.8h-.8zM305.1 111.0h.8v.8h-.8zM329.3 121.5h.8v.8h-.8zM313.4 105.2h.8v.8h-.8zM325.5 106.5h.8v.8h-.8zM320.2 116.6h.8v.8h-.8zM305.8 118.6h.8v.8h-.8zM324.1 104.6h.8v.8h-.8zM298.0 102.7h.8v.8h-.8zM317.3 118.4h.8v.8h-.8zM321.1 95.4h.8v.8h-.8zM331.7 111.3h.8v.8h-.8zM325.0 96.7h.8v.8h-.8zM300.3 119.4h.8v.8h-.8zM340.4 110.2h.8v.8h-.8zM314.9 103.3h.8v.8h-.8zM290.7 121.0h.8v.8h-.8zM316.5 121.6h.8v.8h-.8zM306.5 120.4h.8v.8h-.8zM306.6 115.3h.8v.8h-.8zM339.9 98.5h.8v.8h-.8zM332.4 106.8h.8v.8h-.8zM303.1 111.4h.8v.8h-.8zM328.3 99.4h.8v.8h-.8zM313.8 102.1h.8v.8h-.8zM305.8 106.7h.8v.8h-.8zM331.1 101.5h.8v.8h-.8zM337.8 102.3h.8v.8h-.8zM307.0 120.6h.8v.8h-.8zM340.3 99.1h.8v.8h-.8zM327.3 94.6h.8v.8h-.8zM311.5 104.4h.8v.8h-.8zM329.2 93.4h.8v.8h-.8zM309.9 101.1h.8v.8h-.8zM319.6 94.5h.8v.8h-.8zM321.4 91.3h.8v.8h-.8zM331.2 92.6h.8v.8h-.8zM337.8 97.3h.8v.8h-.8zM300.7 114.5h.8v.8h-.8zM328.5 94.2h.8v.8h-.8zM334.0 108.2h.8v.8h-.8z" fill="#000" fill-opacity="0.8"/>
<path d="M279.3 130.8h.8v.8h-.8zM287.3 118.4h.8v.8h-.8zM282.5 119.7h.8v.8h-.8zM277.9 122.9h.8v.8h-.8zM277.2 119.2h.8v.8h-.8zM289.4 120.4h.8v.8h-.8zM282.0 128.1h.8v.8h-.8zM288.1 128.5h.8v.8h-.8zM265.9 121.9h.8v.8h-.8zM265.1 116.0h.8v.8h-.8zM279.4 122.9h.8v.8h-.8zM270.6 120.6h.8v.8h-.8zM276.2 122.4h.8v.8h-.8zM276.9 120.7h.8v.8h-.8zM284.0 112.4h.8v.8h-.8zM273.1 122.8h.8v.8h-.8zM273.8 118.7h.8v.8h-.8zM273.5 123.3h.8v.8h-.8zM286.9 120.9h.8v.8h-.8zM274.9 124.1h.8v.8h-.8zM275.1 110.4h.8v.8h-.8zM279.1 119.7h.8v.8h-.8zM272.4 125.8h.8v.8h-.8zM277.4 118.6h.8v.8h-.8zM277.1 121.3h.8v.8h-.8zM280.5 123.3h.8v.8h-.8zM273.2 114.4h.8v.8h-.8zM268.2 121.2h.8v.8h-.8zM267.8 126.5h.8v.8h-.8zM266.4 111.3h.8v.8h-.8zM275.5 111.4h.8v.8h-.8zM276.6 120.5h.8v.8h-.8zM270.4 111.4h.8v.8h-.8zM265.3 125.4h.8v.8h-.8zM276.9 127.1h.8v.8h-.8zM272.9 126.3h.8v.8h-.8zM284.2 125.6h.8v.8h-.8zM288.6 121.0h.8v.8h-.8zM289.3 117.8h.8v.8h-.8zM277.1 117.2h.8v.8h-.8zM277.0 128.2h.8v.8h-.8zM282.7 122.6h.8v.8h-.8zM279.6 109.6h.8v.8h-.8zM279.7 114.9h.8v.8h-.8zM288.8 128.9h.8v.8h-.8zM272.6 129.8h.8v.8h-.8zM270.3 127.5h.8v.8h-.8zM281.6 121.2h.8v.8h-.8zM265.6 120.3h.8v.8h-.8zM269.3 107.4h.8v.8h-.8zM281.7 124.2h.8v.8h-.8zM283.2 122.4h.8v.8h-.8zM271.8 104.3h.8v.8h-.8zM280.8 127.8h.8v.8h-.8zM272.3 113.5h.8v.8h-.8zM276.7 112.0h.8v.8h-.8zM277.1 126.6h.8v.8h-.8zM289.1 123.6h.8v.8h-.8zM278.6 126.5h.8v.8h-.8zM288.2 120.1h.8v.8h-.8zM267.2 117.3h.8v.8h-.8zM266.9 116.7h.8v.8h-.8zM276.0 124.1h.8v.8h-.8zM278.2 122.4h.8v.8h-.8zM274.1 124.5h.8v.8h-.8zM284.1 126.6h.8v.8h-.8zM289.0 120.3h.8v.8h-.8zM278.6 124.5h.8v.8h-.8zM274.3 127.8h.8v.8h-.8zM273.8 116.0h.8v.8h-.8zM276.5 119.3h.8v.8h-.8zM283.7 119.7h.8v.8h-.8zM278.0 120.7h.8v.8h-.8zM279.7 118.2h.8v.8h-.8zM285.8 113.5h.8v.8h-.8zM273.9 117.7h.8v.8h-.8zM282.2 122.2h.8v.8h-.8zM280.9 120.0h.8v.8h-.8zM271.3 115.3h.8v.8h-.8zM274.3 118.8h.8v.8h-.8zM279.2 124.1h.8v.8h-.8zM284.8 121.4h.8v.8h-.8zM271.0 115.6h.8v.8h-.8zM277.5 124.2h.8v.8h-.8zM268.6 129.3h.8v.8h-.8zM286.1 130.1h.8v.8h-.8zM276.9 127.7h.8v.8h-.8zM273.2 121.6h.8v.8h-.8zM275.3 127.7h.8v.8h-.8zM277.5 117.7h.8v.8h-.8zM278.9 126.0h.8v.8h-.8zM271.3 125.8h.8v.8h-.8zM271.3 116.7h.8v.8h-.8zM278.8 120.6h.8v.8h-.8zM269.1 112.2h.8v.8h-.8zM277.2 123.5h.8v.8h-.8zM273.3 123.1h.8v.8h-.8zM264.8 124.4h.8v.8h-.8zM280.3 123.7h.8v.8h-.8zM272.1 122.5h.8v.8h-.8zM278.0 128.4h.8v.8h-.8zM279.2 123.5h.8v.8h-.8zM271.2 127.2h.8v.8h-.8zM286.4 119.0h.8v.8h-.8zM282.1 123.8h.8v.8h-.8zM276.6 114.3h.8v.8h-.8zM279.4 119.7h.8v.8h-.8zM286.2 119.5h.8v.8h-.8zM277.3 125.7h.8v.8h-.8zM280.6 118.9h.8v.8h-.8zM282.4 124.3h.8v.8h-.8zM284.9 118.9h.8v.8h-.8zM276.6 119.7h.8v.8h-.8zM270.3 123.5h.8v.8h-.8zM280.3 130.5h.8v.8h-.8zM274.4 124.3h.8v.8h-.8zM286.1 121.3h.8v.8h-.8zM277.5 122.8h.8v.8h-.8zM271.5 116.1h.8v.8h-.8zM285.9 123.0h.8v.8h-.8zM276.4 114.6h.8v.8h-.8zM277.9 129.0h.8v.8h-.8zM267.8 116.7h.8v.8h-.8zM285.8 130.6h.8v.8h-.8zM289.4 118.7h.8v.8h-.8zM281.8 117.5h.8v.8h-.8zM281.1 119.8h.8v.8h-.8zM278.6 130.0h.8v.8h-.8zM279.7 120.6h.8v.8h-.8zM277.4 123.6h.8v.8h-.8zM272.9 123.2h.8v.8h-.8zM267.2 127.2h.8v.8h-.8zM278.0 128.8h.8v.8h-.8zM273.0 119.1h.8v.8h-.8zM279.7 118.5h.8v.8h-.8zM285.8 122.0h.8v.8h-.8zM273.4 127.5h.8v.8h-.8zM270.4 129.4h.8v.8h-.8zM284.7 122.8h.8v.8h-.8zM287.9 122.0h.8v.8h-.8zM276.6 128.6h.8v.8h-.8zM265.3 118.4h.8v.8h-.8zM280.8 125.4h.8v.8h-.8zM279.6 124.6h.8v.8h-.8zM266.5 120.9h.8v.8h-.8zM279.1 120.7h.8v.8h-.8zM277.5 125.6h.8v.8h-.8zM269.5 118.6h.8v.8h-.8zM268.6 111.9h.8v.8h-.8zM283.1 120.7h.8v.8h-.8zM284.7 119.8h.8v.8h-.8zM278.2 122.7h.8v.8h-.8zM275.4 126.8h.8v.8h-.8zM268.4 125.5h.8v.8h-.8zM285.4 113.1h.8v.8h-.8zM271.5 116.1h.8v.8h-.8zM281.4 125.0h.8v.8h-.8zM271.2 115.3h.8v.8h-.8zM282.4 109.8h.8v.8h-.8zM282.1 121.1h.8v.8h-.8zM272.4 120.4h.8v.8h-.8zM274.8 117.7h.8v.8h-.8zM277.6 127.7h.8v.8h-.8zM265.1 120.7h.8v.8h-.8zM288.8 126.4h.8v.8h-.8zM270.6 117.2h.8v.8h-.8zM270.3 112.5h.8v.8h-.8zM286.1 122.4h.8v.8h-.8zM271.5 113.5h.8v.8h-.8zM274.0 119.0h.8v.8h-.8zM277.9 128.3h.8v.8h-.8zM282.3 120.9h.8v.8h-.8zM281.7 119.4h.8v.8h-.8zM276.3 116.4h.8v.8h-.8zM269.9 113.2h.8v.8h-.8zM280.9 125.1h.8v.8h-.8zM278.4 126.6h.8v.8h-.8zM281.2 122.7h.8v.8h-.8zM270.1 125.5h.8v.8h-.8zM286.3 125.7h.8v.8h-.8zM286.8 119.2h.8v.8h-.8zM269.3 129.4h.8v.8h-.8zM272.4 123.4h.8v.8h-.8zM275.5 122.1h.8v.8h-.8zM274.9 118.8h.8v.8h-.8zM278.6 110.7h.8v.8h-.8zM269.9 115.4h.8v.8h-.8zM271.2 107.0h.8v.8h-.8zM275.1 126.4h.8v.8h-.8zM281.7 114.7h.8v.8h-.8zM286.6 112.1h.8v.8h-.8zM272.5 119.9h.8v.8h-.8zM286.9 122.7h.8v.8h-.8zM276.0 117.3h.8v.8h-.8zM277.7 122.2h.8v.8h-.8zM282.7 130.2h.8v.8h-.8zM282.8 122.1h.8v.8h-.8zM278.6 121.9h.8v.8h-.8zM281.5 121.4h.8v.8h-.8zM272.0 128.3h.8v.8h-.8zM273.5 127.6h.8v.8h-.8zM270.9 122.6h.8v.8h-.8zM280.2 122.9h.8v.8h-.8zM278.8 124.2h.8v.8h-.8zM268.2 115.5h.8v.8h-.8zM276.0 116.6h.8v.8h-.8zM271.8 122.2h.8v.8h-.8zM286.3 118.7h.8v.8h-.8zM281.4 123.1h.8v.8h-.8zM274.2 116.5h.8v.8h-.8zM275.8 117.8h.8v.8h-.8zM281.2 111.7h.8v.8h-.8zM285.8 126.4h.8v.8h-.8zM281.5 130.8h.8v.8h-.8zM281.7 112.0h.8v.8h-.8zM277.4 124.6h.8v.8h-.8zM271.7 115.4h.8v.8h-.8zM280.4 125.0h.8v.8h-.8zM273.7 120.6h.8v.8h-.8zM273.0 118.7h.8v.8h-.8zM276.6 128.3h.8v.8h-.8zM264.4 120.0h.8v.8h-.8zM289.6 123.9h.8v.8h-.8zM278.2 126.9h.8v.8h-.8zM269.2 114.9h.8v.8h-.8zM264.1 113.5h.8v.8h-.8zM278.9 127.0h.8v.8h-.8zM273.8 118.0h.8v.8h-.8zM280.2 125.6h.8v.8h-.8zM279.0 110.9h.8v.8h-.8zM272.8 107.2h.8v.8h-.8zM278.9 117.0h.8v.8h-.8zM271.9 130.8h.8v.8h-.8zM287.3 124.8h.8v.8h-.8zM279.2 123.0h.8v.8h-.8zM272.4 121.7h.8v.8h-.8zM271.8 122.9h.8v.8h-.8zM284.0 126.9h.8v.8h-.8zM269.5 121.2h.8v.8h-.8zM274.9 114.8h.8v.8h-.8zM277.6 119.2h.8v.8h-.8zM284.2 124.5h.8v.8h-.8zM270.9 122.5h.8v.8h-.8zM274.2 118.3h.8v.8h-.8zM273.2 128.2h.8v.8h-.8zM273.8 112.0h.8v.8h-.8zM271.0 126.7h.8v.8h-.8zM274.2 120.1h.8v.8h-.8zM266.1 124.3h.8v.8h-.8zM276.6 123.6h.8v.8h-.8zM283.2 126.9h.8v.8h-.8zM272.1 118.5h.8v.8h-.8zM289.1 126.2h.8v.8h-.8zM278.1 115.6h.8v.8h-.8zM283.9 125.1h.8v.8h-.8zM283.3 123.6h.8v.8h-.8zM277.5 118.8h.8v.8h-.8zM279.4 123.4h.8v.8h-.8zM282.1 128.3h.8v.8h-.8zM279.4 118.8h.8v.8h-.8zM270.5 124.5h.8v.8h-.8zM281.3 125.1h.8v.8h-.8zM280.9 121.5h.8v.8h-.8zM271.8 119.0h.8v.8h-.8zM264.6 124.1h.8v.8h-.8zM276.6 118.9h.8v.8h-.8zM288.5 128.8h.8v.8h-.8zM273.8 125.8h.8v.8h-.8zM276.7 128.7h.8v.8h-.8zM281.5 121.8h.8v.8h-.8zM281.3 117.8h.8v.8h-.8zM283.2 130.8h.8v.8h-.8zM274.2 125.2h.8v.8h-.8zM264.1 127.5h.8v.8h-.8zM283.8 116.1h.8v.8h-.8zM283.8 120.4h.8v.8h-.8zM285.6 113.0h.8v.8h-.8zM276.2 127.7h.8v.8h-.8zM271.7 126.0h.8v.8h-.8zM274.2 124.0h.8v.8h-.8zM267.4 126.5h.8v.8h-.8zM287.2 115.4h.8v.8h-.8zM285.2 104.7h.8v.8h-.8zM275.2 112.0h.8v.8h-.8zM279.4 117.8h.8v.8h-.8zM272.6 117.1h.8v.8h-.8zM279.3 119.3h.8v.8h-.8zM270.0 120.7h.8v.8h-.8zM280.2 117.0h.8v.8h-.8zM285.6 112.3h.8v.8h-.8zM280.2 119.7h.8v.8h-.8zM289.2 118.3h.8v.8h-.8zM271.8 114.2h.8v.8h-.8zM268.6 120.0h.8v.8h-.8zM269.6 130.9h.8v.8h-.8zM280.2 110.1h.8v.8h-.8zM278.6 127.3h.8v.8h-.8zM277.0 124.8h.8v.8h-.8zM276.1 123.2h.8v.8h-.8zM278.7 117.9h.8v.8h-.8zM279.7 123.0h.8v.8h-.8zM276.7 118.0h.8v.8h-.8zM269.1 123.4h.8v.8h-.8zM283.4 107.9h.8v.8h-.8zM272.8 129.9h.8v.8h-.8zM284.1 117.8h.8v.8h-.8zM287.5 116.2h.8v.8h-.8zM273.6 120.7h.8v.8h-.8zM264.2 116.1h.8v.8h-.8zM267.9 121.2h.8v.8h-.8zM274.2 118.5h.8v.8h-.8zM272.1 126.3h.8v.8h-.8zM288.9 119.6h.8v.8h-.8zM287.4 123.7h.8v.8h-.8zM265.4 125.9h.8v.8h-.8zM273.8 123.1h.8v.8h-.8zM278.8 116.5h.8v.8h-.8zM278.8 118.0h.8v.8h-.8zM269.8 124.4h.8v.8h-.8zM272.4 108.6h.8v.8h-.8z" fill="#000" fill-opacity="0.7"/>
<rect x="239" y="42.7" width="110.5" height="110.8" fill="none" stroke="#8a8a8a" stroke-width="1"/>
<line x1="235.6" y1="153.5" x2="239" y2="153.5" stroke="#333" stroke-width="0.9"/>
<line x1="237.2" y1="149.3" x2="239" y2="149.3" stroke="#777" stroke-width="0.9"/>
<line x1="237.2" y1="145.0" x2="239" y2="145.0" stroke="#777" stroke-width="0.9"/>
<line x1="237.2" y1="140.8" x2="239" y2="140.8" stroke="#777" stroke-width="0.9"/>
<line x1="237.2" y1="136.5" x2="239" y2="136.5" stroke="#777" stroke-width="0.9"/>
<line x1="235.6" y1="132.3" x2="239" y2="132.3" stroke="#333" stroke-width="0.9"/>
<line x1="237.2" y1="128.0" x2="239" y2="128.0" stroke="#777" stroke-width="0.9"/>
<line x1="237.2" y1="123.8" x2="239" y2="123.8" stroke="#777" stroke-width="0.9"/>
<line x1="237.2" y1="119.5" x2="239" y2="119.5" stroke="#777" stroke-width="0.9"/>
<line x1="237.2" y1="115.3" x2="239" y2="115.3" stroke="#777" stroke-width="0.9"/>
<line x1="235.6" y1="111.0" x2="239" y2="111.0" stroke="#333" stroke-width="0.9"/>
<line x1="237.2" y1="106.8" x2="239" y2="106.8" stroke="#777" stroke-width="0.9"/>
<line x1="237.2" y1="102.5" x2="239" y2="102.5" stroke="#777" stroke-width="0.9"/>
<line x1="237.2" y1="98.3" x2="239" y2="98.3" stroke="#777" stroke-width="0.9"/>
<line x1="237.2" y1="94.0" x2="239" y2="94.0" stroke="#777" stroke-width="0.9"/>
<line x1="235.6" y1="89.8" x2="239" y2="89.8" stroke="#333" stroke-width="0.9"/>
<line x1="237.2" y1="85.5" x2="239" y2="85.5" stroke="#777" stroke-width="0.9"/>
<line x1="237.2" y1="81.3" x2="239" y2="81.3" stroke="#777" stroke-width="0.9"/>
<line x1="237.2" y1="77.0" x2="239" y2="77.0" stroke="#777" stroke-width="0.9"/>
<line x1="237.2" y1="72.8" x2="239" y2="72.8" stroke="#777" stroke-width="0.9"/>
<line x1="235.6" y1="68.5" x2="239" y2="68.5" stroke="#333" stroke-width="0.9"/>
<line x1="237.2" y1="64.3" x2="239" y2="64.3" stroke="#777" stroke-width="0.9"/>
<line x1="237.2" y1="60.0" x2="239" y2="60.0" stroke="#777" stroke-width="0.9"/>
<line x1="237.2" y1="55.8" x2="239" y2="55.8" stroke="#777" stroke-width="0.9"/>
<line x1="237.2" y1="51.5" x2="239" y2="51.5" stroke="#777" stroke-width="0.9"/>
<line x1="235.6" y1="47.3" x2="239" y2="47.3" stroke="#333" stroke-width="0.9"/>
<line x1="237.2" y1="43.1" x2="239" y2="43.1" stroke="#777" stroke-width="0.9"/>
<line x1="247.6" y1="153.5" x2="247.6" y2="155.5" stroke="#777" stroke-width="0.8"/>
<line x1="250.1" y1="153.5" x2="250.1" y2="155.5" stroke="#777" stroke-width="0.8"/>
<line x1="252.6" y1="153.5" x2="252.6" y2="155.5" stroke="#777" stroke-width="0.8"/>
<line x1="255.1" y1="153.5" x2="255.1" y2="155.5" stroke="#777" stroke-width="0.8"/>
<line x1="257.6" y1="153.5" x2="257.6" y2="155.5" stroke="#777" stroke-width="0.8"/>
<line x1="260.1" y1="153.5" x2="260.1" y2="155.5" stroke="#777" stroke-width="0.8"/>
<line x1="267.8" y1="153.5" x2="267.8" y2="155.5" stroke="#777" stroke-width="0.8"/>
<line x1="269.8" y1="153.5" x2="269.8" y2="155.5" stroke="#777" stroke-width="0.8"/>
<line x1="271.7" y1="153.5" x2="271.7" y2="155.5" stroke="#777" stroke-width="0.8"/>
<line x1="273.8" y1="153.5" x2="273.8" y2="155.5" stroke="#777" stroke-width="0.8"/>
<line x1="276.3" y1="153.5" x2="276.3" y2="155.5" stroke="#777" stroke-width="0.8"/>
<line x1="293.5" y1="153.5" x2="293.5" y2="155.5" stroke="#777" stroke-width="0.8"/>
<line x1="298.1" y1="153.5" x2="298.1" y2="155.5" stroke="#777" stroke-width="0.8"/>
<line x1="301.4" y1="153.5" x2="301.4" y2="155.5" stroke="#777" stroke-width="0.8"/>
<line x1="303.9" y1="153.5" x2="303.9" y2="155.5" stroke="#777" stroke-width="0.8"/>
<line x1="306.0" y1="153.5" x2="306.0" y2="155.5" stroke="#777" stroke-width="0.8"/>
<line x1="307.7" y1="153.5" x2="307.7" y2="155.5" stroke="#777" stroke-width="0.8"/>
<line x1="309.3" y1="153.5" x2="309.3" y2="155.5" stroke="#777" stroke-width="0.8"/>
<line x1="310.6" y1="153.5" x2="310.6" y2="155.5" stroke="#777" stroke-width="0.8"/>
<line x1="319.7" y1="153.5" x2="319.7" y2="155.5" stroke="#777" stroke-width="0.8"/>
<line x1="324.3" y1="153.5" x2="324.3" y2="155.5" stroke="#777" stroke-width="0.8"/>
<line x1="327.6" y1="153.5" x2="327.6" y2="155.5" stroke="#777" stroke-width="0.8"/>
<line x1="330.1" y1="153.5" x2="330.1" y2="155.5" stroke="#777" stroke-width="0.8"/>
<line x1="332.2" y1="153.5" x2="332.2" y2="155.5" stroke="#777" stroke-width="0.8"/>
<line x1="333.9" y1="153.5" x2="333.9" y2="155.5" stroke="#777" stroke-width="0.8"/>
<line x1="335.5" y1="153.5" x2="335.5" y2="155.5" stroke="#777" stroke-width="0.8"/>
<line x1="336.8" y1="153.5" x2="336.8" y2="155.5" stroke="#777" stroke-width="0.8"/>
<line x1="345.9" y1="153.5" x2="345.9" y2="155.5" stroke="#777" stroke-width="0.8"/>
<line x1="245.1" y1="153.5" x2="245.1" y2="156.5" stroke="#111" stroke-width="1"/>
<line x1="278.6" y1="153.5" x2="278.6" y2="156.5" stroke="#111" stroke-width="1"/>
<line x1="311.8" y1="153.5" x2="311.8" y2="156.5" stroke="#111" stroke-width="1"/>
<line x1="338.0" y1="153.5" x2="338.0" y2="156.5" stroke="#111" stroke-width="1"/>
<rect x="261.0" y="153.9" width="5" height="2.3" fill="#111"/>
<line x1="289.6" y1="42.7" x2="289.6" y2="153.5" stroke="#1a1a1a" stroke-width="1.15"/>
<line x1="235.5" y1="132.1" x2="349.5" y2="132.1" stroke="#1a1a1a" stroke-width="1.3"/>
<text transform="translate(248.37,60.28) scale(1.082,1)" font-size="12.34" fill="#000" stroke="#000" stroke-width="0.22" font-family="Liberation Sans, sans-serif">45%</text>
<text transform="translate(313.75,59.37) scale(1.082,1)" font-size="12.77" fill="#000" stroke="#000" stroke-width="0.22" font-family="Liberation Sans, sans-serif">55%</text>
<text transform="translate(239.89,148.52) scale(0.947,1)" font-size="8.17" fill="#000" stroke="#000" stroke-width="0.22" font-family="Liberation Sans, sans-serif">0.54</text>
<text transform="translate(327.98,148.72) scale(0.965,1)" font-size="8.17" fill="#000" stroke="#000" stroke-width="0.22" font-family="Liberation Sans, sans-serif">0.20</text>
<path d="M271.4 246.1h.8v.8h-.8zM268.9 244.1h.8v.8h-.8zM273.9 232.2h.8v.8h-.8zM271.8 237.3h.8v.8h-.8zM273.1 229.7h.8v.8h-.8zM270.7 237.1h.8v.8h-.8zM271.5 236.6h.8v.8h-.8zM272.1 235.2h.8v.8h-.8zM269.9 243.6h.8v.8h-.8zM269.5 234.3h.8v.8h-.8zM268.8 228.6h.8v.8h-.8zM272.7 236.2h.8v.8h-.8zM271.0 239.6h.8v.8h-.8zM270.9 241.2h.8v.8h-.8zM276.7 238.9h.8v.8h-.8zM270.6 247.9h.8v.8h-.8zM273.5 225.0h.8v.8h-.8zM275.3 238.0h.8v.8h-.8zM273.9 228.5h.8v.8h-.8zM268.9 232.0h.8v.8h-.8zM273.0 228.7h.8v.8h-.8zM269.3 243.1h.8v.8h-.8zM269.5 237.3h.8v.8h-.8zM268.7 224.8h.8v.8h-.8zM271.2 235.7h.8v.8h-.8zM267.2 243.2h.8v.8h-.8zM273.8 242.6h.8v.8h-.8zM269.9 228.6h.8v.8h-.8zM271.1 237.6h.8v.8h-.8zM270.9 232.5h.8v.8h-.8zM268.5 231.4h.8v.8h-.8zM271.2 233.1h.8v.8h-.8zM276.3 234.6h.8v.8h-.8zM272.7 233.3h.8v.8h-.8zM270.9 229.8h.8v.8h-.8zM270.0 226.2h.8v.8h-.8zM265.3 245.7h.8v.8h-.8zM268.3 239.5h.8v.8h-.8zM271.0 232.6h.8v.8h-.8zM273.5 232.7h.8v.8h-.8zM272.7 234.0h.8v.8h-.8zM274.3 243.1h.8v.8h-.8zM271.6 244.0h.8v.8h-.8zM272.9 247.2h.8v.8h-.8zM271.0 225.9h.8v.8h-.8zM272.0 238.1h.8v.8h-.8zM270.3 235.1h.8v.8h-.8zM270.6 227.9h.8v.8h-.8zM276.4 231.2h.8v.8h-.8zM268.2 225.6h.8v.8h-.8zM268.9 236.2h.8v.8h-.8zM275.7 240.6h.8v.8h-.8zM269.3 228.0h.8v.8h-.8zM268.1 235.9h.8v.8h-.8zM273.9 233.2h.8v.8h-.8zM276.1 249.8h.8v.8h-.8zM271.9 221.6h.8v.8h-.8zM274.6 235.8h.8v.8h-.8zM273.4 243.3h.8v.8h-.8zM268.4 236.9h.8v.8h-.8zM271.9 231.3h.8v.8h-.8zM273.4 235.6h.8v.8h-.8zM270.2 249.4h.8v.8h-.8zM271.9 247.7h.8v.8h-.8zM270.9 243.6h.8v.8h-.8zM269.2 237.5h.8v.8h-.8zM274.6 221.6h.8v.8h-.8zM273.0 234.6h.8v.8h-.8zM274.6 237.7h.8v.8h-.8zM271.2 227.7h.8v.8h-.8zM280.0 231.4h.8v.8h-.8zM270.4 231.5h.8v.8h-.8zM270.5 238.0h.8v.8h-.8zM267.5 243.7h.8v.8h-.8zM270.6 240.6h.8v.8h-.8zM265.2 232.9h.8v.8h-.8zM270.5 233.8h.8v.8h-.8zM269.4 238.6h.8v.8h-.8zM272.6 229.8h.8v.8h-.8zM265.6 241.5h.8v.8h-.8zM270.4 243.8h.8v.8h-.8zM273.9 235.8h.8v.8h-.8zM267.2 234.0h.8v.8h-.8zM269.3 245.0h.8v.8h-.8zM266.4 242.8h.8v.8h-.8zM266.9 232.6h.8v.8h-.8zM267.2 231.7h.8v.8h-.8zM270.1 239.0h.8v.8h-.8zM269.7 241.2h.8v.8h-.8zM276.5 237.6h.8v.8h-.8zM268.0 235.3h.8v.8h-.8zM271.1 234.0h.8v.8h-.8zM274.8 244.4h.8v.8h-.8zM277.3 240.1h.8v.8h-.8zM263.6 235.6h.8v.8h-.8zM273.3 231.0h.8v.8h-.8zM269.6 242.7h.8v.8h-.8zM271.8 228.8h.8v.8h-.8zM271.4 228.1h.8v.8h-.8zM271.2 228.3h.8v.8h-.8zM268.7 232.9h.8v.8h-.8zM279.5 228.3h.8v.8h-.8zM267.9 232.8h.8v.8h-.8zM274.5 242.0h.8v.8h-.8zM273.4 234.3h.8v.8h-.8zM271.8 231.2h.8v.8h-.8zM270.8 230.9h.8v.8h-.8zM267.1 229.7h.8v.8h-.8zM277.0 239.2h.8v.8h-.8zM269.2 235.7h.8v.8h-.8zM270.1 244.8h.8v.8h-.8zM271.3 232.1h.8v.8h-.8zM273.4 238.7h.8v.8h-.8zM269.4 231.2h.8v.8h-.8zM271.8 225.3h.8v.8h-.8zM268.7 243.4h.8v.8h-.8zM273.9 244.1h.8v.8h-.8zM270.1 232.4h.8v.8h-.8zM270.6 233.2h.8v.8h-.8zM275.1 234.9h.8v.8h-.8zM275.3 231.6h.8v.8h-.8zM272.5 247.6h.8v.8h-.8zM269.2 232.0h.8v.8h-.8zM269.6 225.4h.8v.8h-.8zM270.5 232.1h.8v.8h-.8zM277.8 233.2h.8v.8h-.8zM265.1 242.9h.8v.8h-.8zM274.2 236.2h.8v.8h-.8zM272.2 241.4h.8v.8h-.8zM269.7 236.8h.8v.8h-.8zM271.8 247.8h.8v.8h-.8zM275.5 237.6h.8v.8h-.8zM267.4 242.5h.8v.8h-.8zM271.2 244.5h.8v.8h-.8zM271.5 237.7h.8v.8h-.8zM273.3 231.5h.8v.8h-.8zM269.4 252.2h.8v.8h-.8zM268.8 242.9h.8v.8h-.8zM273.4 242.1h.8v.8h-.8zM275.4 227.3h.8v.8h-.8zM274.2 222.4h.8v.8h-.8zM271.5 238.8h.8v.8h-.8zM274.4 243.9h.8v.8h-.8zM268.6 234.6h.8v.8h-.8zM270.9 231.7h.8v.8h-.8zM269.0 231.9h.8v.8h-.8zM274.7 245.8h.8v.8h-.8zM273.6 248.0h.8v.8h-.8zM271.6 229.0h.8v.8h-.8zM269.5 237.9h.8v.8h-.8zM274.4 244.8h.8v.8h-.8zM268.7 243.0h.8v.8h-.8zM269.8 240.6h.8v.8h-.8zM274.0 246.6h.8v.8h-.8zM269.8 238.1h.8v.8h-.8zM272.6 233.6h.8v.8h-.8zM271.6 240.6h.8v.8h-.8zM266.6 232.1h.8v.8h-.8zM278.1 239.6h.8v.8h-.8zM269.7 223.9h.8v.8h-.8zM268.6 240.0h.8v.8h-.8zM273.3 239.5h.8v.8h-.8zM273.1 232.3h.8v.8h-.8zM276.0 228.8h.8v.8h-.8zM272.9 234.7h.8v.8h-.8zM266.4 242.7h.8v.8h-.8zM270.6 241.4h.8v.8h-.8zM275.1 237.6h.8v.8h-.8zM269.4 235.0h.8v.8h-.8zM271.2 246.4h.8v.8h-.8zM273.9 247.4h.8v.8h-.8zM273.6 231.2h.8v.8h-.8zM274.1 243.1h.8v.8h-.8zM271.0 239.7h.8v.8h-.8zM270.4 227.8h.8v.8h-.8zM271.1 241.7h.8v.8h-.8zM270.3 221.1h.8v.8h-.8zM269.0 244.0h.8v.8h-.8zM272.0 244.2h.8v.8h-.8zM269.2 233.6h.8v.8h-.8zM268.4 231.1h.8v.8h-.8zM272.9 237.4h.8v.8h-.8zM269.9 238.5h.8v.8h-.8zM267.5 233.8h.8v.8h-.8zM267.0 226.2h.8v.8h-.8zM267.4 228.9h.8v.8h-.8zM276.0 245.9h.8v.8h-.8zM275.0 232.5h.8v.8h-.8zM273.2 228.7h.8v.8h-.8zM269.8 238.2h.8v.8h-.8zM266.7 237.8h.8v.8h-.8zM273.1 222.2h.8v.8h-.8zM264.2 234.6h.8v.8h-.8zM271.0 237.5h.8v.8h-.8zM268.1 240.4h.8v.8h-.8zM271.7 231.4h.8v.8h-.8zM276.1 238.3h.8v.8h-.8zM273.5 249.3h.8v.8h-.8zM269.9 235.0h.8v.8h-.8zM266.3 234.9h.8v.8h-.8zM272.6 253.7h.8v.8h-.8zM273.0 237.9h.8v.8h-.8zM267.7 230.6h.8v.8h-.8zM266.0 227.0h.8v.8h-.8zM271.7 238.5h.8v.8h-.8zM268.7 235.0h.8v.8h-.8zM269.0 240.8h.8v.8h-.8zM273.2 232.6h.8v.8h-.8zM270.0 228.0h.8v.8h-.8zM270.0 251.6h.8v.8h-.8zM271.3 242.4h.8v.8h-.8zM273.0 246.7h.8v.8h-.8zM270.4 230.2h.8v.8h-.8zM274.4 242.8h.8v.8h-.8zM269.4 244.1h.8v.8h-.8zM271.3 236.2h.8v.8h-.8zM276.7 240.2h.8v.8h-.8zM272.3 234.3h.8v.8h-.8zM271.9 243.8h.8v.8h-.8zM272.7 231.3h.8v.8h-.8zM272.7 235.7h.8v.8h-.8zM272.3 235.2h.8v.8h-.8zM265.0 225.3h.8v.8h-.8zM270.2 221.2h.8v.8h-.8zM267.0 250.5h.8v.8h-.8zM273.4 233.3h.8v.8h-.8zM272.3 221.0h.8v.8h-.8zM272.1 243.3h.8v.8h-.8zM271.9 227.4h.8v.8h-.8zM274.2 232.8h.8v.8h-.8zM269.7 237.9h.8v.8h-.8zM270.5 250.6h.8v.8h-.8zM270.9 251.4h.8v.8h-.8zM272.7 227.9h.8v.8h-.8zM271.3 236.9h.8v.8h-.8zM275.6 245.4h.8v.8h-.8zM278.8 231.9h.8v.8h-.8zM270.1 252.7h.8v.8h-.8zM268.7 239.0h.8v.8h-.8zM276.1 229.5h.8v.8h-.8zM270.3 231.3h.8v.8h-.8zM272.9 239.3h.8v.8h-.8zM271.2 241.1h.8v.8h-.8zM269.0 233.9h.8v.8h-.8zM272.7 250.5h.8v.8h-.8zM271.2 236.9h.8v.8h-.8zM275.2 237.0h.8v.8h-.8zM275.2 238.2h.8v.8h-.8zM274.7 237.8h.8v.8h-.8zM268.7 230.6h.8v.8h-.8zM272.6 249.6h.8v.8h-.8zM276.8 234.3h.8v.8h-.8zM278.7 228.8h.8v.8h-.8zM268.9 243.0h.8v.8h-.8zM266.9 242.8h.8v.8h-.8zM272.5 240.9h.8v.8h-.8zM267.8 239.2h.8v.8h-.8zM274.1 236.1h.8v.8h-.8zM274.4 236.7h.8v.8h-.8zM272.4 234.3h.8v.8h-.8zM267.4 235.4h.8v.8h-.8zM272.8 231.2h.8v.8h-.8zM265.6 225.7h.8v.8h-.8zM275.2 234.9h.8v.8h-.8zM269.1 245.1h.8v.8h-.8zM270.8 226.0h.8v.8h-.8zM270.1 230.4h.8v.8h-.8zM270.8 230.1h.8v.8h-.8zM271.6 239.7h.8v.8h-.8zM269.7 235.1h.8v.8h-.8zM270.9 242.3h.8v.8h-.8zM269.2 241.7h.8v.8h-.8zM275.0 235.1h.8v.8h-.8zM268.5 234.3h.8v.8h-.8zM266.1 232.7h.8v.8h-.8zM267.8 235.3h.8v.8h-.8zM270.3 240.1h.8v.8h-.8zM271.7 239.4h.8v.8h-.8zM271.2 238.5h.8v.8h-.8zM268.0 241.1h.8v.8h-.8zM275.2 244.3h.8v.8h-.8zM267.4 239.4h.8v.8h-.8zM266.6 241.8h.8v.8h-.8zM270.7 233.3h.8v.8h-.8zM269.2 234.8h.8v.8h-.8zM271.3 229.8h.8v.8h-.8zM271.5 238.3h.8v.8h-.8zM272.9 236.2h.8v.8h-.8zM271.3 252.7h.8v.8h-.8zM274.3 238.8h.8v.8h-.8zM267.3 240.8h.8v.8h-.8zM273.0 217.9h.8v.8h-.8zM270.9 239.2h.8v.8h-.8zM271.5 237.2h.8v.8h-.8zM270.9 246.2h.8v.8h-.8zM272.5 234.5h.8v.8h-.8zM270.7 251.1h.8v.8h-.8zM268.8 232.8h.8v.8h-.8zM272.3 237.5h.8v.8h-.8zM272.2 246.0h.8v.8h-.8zM274.7 239.4h.8v.8h-.8zM271.5 236.1h.8v.8h-.8zM270.7 243.5h.8v.8h-.8zM267.6 229.2h.8v.8h-.8zM270.0 229.8h.8v.8h-.8zM269.2 244.9h.8v.8h-.8zM264.7 240.5h.8v.8h-.8zM267.5 234.8h.8v.8h-.8zM269.7 229.6h.8v.8h-.8zM267.0 237.0h.8v.8h-.8zM262.6 221.7h.8v.8h-.8zM270.2 244.2h.8v.8h-.8zM276.8 234.5h.8v.8h-.8zM269.0 234.5h.8v.8h-.8zM272.7 243.0h.8v.8h-.8zM268.5 239.8h.8v.8h-.8zM271.3 244.5h.8v.8h-.8zM270.2 235.0h.8v.8h-.8zM268.8 227.2h.8v.8h-.8zM272.2 241.5h.8v.8h-.8zM274.7 238.4h.8v.8h-.8zM270.0 230.1h.8v.8h-.8zM267.9 231.4h.8v.8h-.8zM272.4 237.1h.8v.8h-.8zM264.6 235.8h.8v.8h-.8zM270.5 229.2h.8v.8h-.8zM271.3 240.2h.8v.8h-.8zM268.3 227.0h.8v.8h-.8zM270.4 238.3h.8v.8h-.8zM270.6 247.3h.8v.8h-.8zM271.8 229.5h.8v.8h-.8zM273.7 232.0h.8v.8h-.8zM273.4 237.2h.8v.8h-.8zM275.0 229.5h.8v.8h-.8zM273.5 239.5h.8v.8h-.8zM268.7 241.4h.8v.8h-.8zM278.1 239.0h.8v.8h-.8zM269.1 235.4h.8v.8h-.8zM275.2 238.3h.8v.8h-.8zM275.8 231.9h.8v.8h-.8zM275.3 225.5h.8v.8h-.8zM270.9 234.4h.8v.8h-.8zM269.9 245.1h.8v.8h-.8zM269.6 239.0h.8v.8h-.8zM276.9 242.3h.8v.8h-.8zM270.1 231.4h.8v.8h-.8zM265.4 239.2h.8v.8h-.8zM274.0 244.3h.8v.8h-.8zM272.1 251.6h.8v.8h-.8zM273.7 220.3h.8v.8h-.8zM268.8 242.1h.8v.8h-.8zM270.2 242.4h.8v.8h-.8zM279.0 231.2h.8v.8h-.8zM278.0 235.9h.8v.8h-.8zM267.0 237.2h.8v.8h-.8zM274.1 232.4h.8v.8h-.8zM276.1 230.4h.8v.8h-.8zM270.8 243.0h.8v.8h-.8zM270.7 232.6h.8v.8h-.8zM271.3 241.1h.8v.8h-.8zM276.5 246.0h.8v.8h-.8zM277.0 236.3h.8v.8h-.8zM266.4 236.2h.8v.8h-.8zM270.2 229.5h.8v.8h-.8zM269.8 236.0h.8v.8h-.8zM271.5 242.9h.8v.8h-.8zM268.7 244.5h.8v.8h-.8zM271.5 241.6h.8v.8h-.8zM275.1 227.8h.8v.8h-.8zM276.1 231.5h.8v.8h-.8zM272.6 244.1h.8v.8h-.8zM274.1 225.5h.8v.8h-.8zM271.9 244.5h.8v.8h-.8zM271.0 235.9h.8v.8h-.8zM271.6 248.0h.8v.8h-.8zM269.8 229.9h.8v.8h-.8zM268.1 232.8h.8v.8h-.8zM270.7 238.9h.8v.8h-.8zM271.1 224.5h.8v.8h-.8zM266.7 241.3h.8v.8h-.8zM273.6 227.0h.8v.8h-.8zM274.2 219.5h.8v.8h-.8zM278.3 240.6h.8v.8h-.8zM266.4 240.1h.8v.8h-.8zM271.3 233.3h.8v.8h-.8zM270.3 234.9h.8v.8h-.8zM271.1 230.2h.8v.8h-.8zM269.7 240.4h.8v.8h-.8zM273.0 227.2h.8v.8h-.8zM269.9 247.5h.8v.8h-.8zM273.5 248.1h.8v.8h-.8zM267.3 229.2h.8v.8h-.8zM264.9 222.9h.8v.8h-.8zM270.3 229.1h.8v.8h-.8zM268.1 231.6h.8v.8h-.8zM270.8 242.3h.8v.8h-.8zM273.1 224.2h.8v.8h-.8zM275.9 234.2h.8v.8h-.8zM268.4 236.3h.8v.8h-.8zM270.2 226.8h.8v.8h-.8zM276.1 232.4h.8v.8h-.8zM269.6 240.3h.8v.8h-.8zM276.4 239.9h.8v.8h-.8zM268.7 239.6h.8v.8h-.8zM274.7 239.2h.8v.8h-.8zM273.3 233.1h.8v.8h-.8zM271.2 224.7h.8v.8h-.8zM269.2 228.5h.8v.8h-.8zM271.4 247.0h.8v.8h-.8zM264.6 227.2h.8v.8h-.8zM268.6 235.9h.8v.8h-.8zM274.9 231.0h.8v.8h-.8zM269.0 245.0h.8v.8h-.8zM272.5 240.2h.8v.8h-.8zM273.9 231.3h.8v.8h-.8zM272.1 231.9h.8v.8h-.8zM269.2 237.4h.8v.8h-.8zM272.7 227.6h.8v.8h-.8zM269.1 240.8h.8v.8h-.8zM271.9 241.2h.8v.8h-.8zM270.5 230.9h.8v.8h-.8zM273.7 240.7h.8v.8h-.8zM262.9 242.6h.8v.8h-.8zM269.1 241.2h.8v.8h-.8zM276.1 234.5h.8v.8h-.8zM268.5 238.3h.8v.8h-.8zM271.7 240.5h.8v.8h-.8zM267.2 238.2h.8v.8h-.8zM274.1 241.4h.8v.8h-.8zM273.3 244.9h.8v.8h-.8zM268.9 245.1h.8v.8h-.8zM272.0 229.5h.8v.8h-.8zM270.5 238.4h.8v.8h-.8zM272.4 246.0h.8v.8h-.8zM272.0 232.9h.8v.8h-.8zM278.0 234.2h.8v.8h-.8zM268.9 243.0h.8v.8h-.8zM270.1 231.0h.8v.8h-.8zM268.2 244.8h.8v.8h-.8zM268.2 237.2h.8v.8h-.8zM270.0 235.2h.8v.8h-.8zM268.9 237.6h.8v.8h-.8zM273.2 243.9h.8v.8h-.8zM270.3 228.3h.8v.8h-.8zM266.9 236.6h.8v.8h-.8zM263.9 245.9h.8v.8h-.8zM271.5 237.4h.8v.8h-.8zM267.2 232.0h.8v.8h-.8zM269.2 241.3h.8v.8h-.8zM270.2 240.9h.8v.8h-.8zM272.9 223.0h.8v.8h-.8zM270.7 245.4h.8v.8h-.8zM269.9 237.4h.8v.8h-.8zM271.0 227.9h.8v.8h-.8zM278.0 235.6h.8v.8h-.8zM273.3 233.4h.8v.8h-.8zM275.6 244.6h.8v.8h-.8zM275.0 243.2h.8v.8h-.8zM273.5 246.3h.8v.8h-.8zM272.6 237.5h.8v.8h-.8zM273.8 230.3h.8v.8h-.8zM263.8 242.2h.8v.8h-.8zM271.9 231.6h.8v.8h-.8zM270.6 229.9h.8v.8h-.8zM268.9 237.9h.8v.8h-.8zM271.8 242.4h.8v.8h-.8zM271.1 241.0h.8v.8h-.8zM273.5 231.6h.8v.8h-.8zM266.3 231.7h.8v.8h-.8zM270.6 232.8h.8v.8h-.8zM278.1 231.8h.8v.8h-.8zM272.8 231.2h.8v.8h-.8zM273.5 227.7h.8v.8h-.8zM274.3 237.8h.8v.8h-.8zM270.2 228.2h.8v.8h-.8zM276.4 232.5h.8v.8h-.8zM275.7 219.7h.8v.8h-.8zM267.8 249.2h.8v.8h-.8zM276.8 236.7h.8v.8h-.8zM274.4 240.8h.8v.8h-.8zM270.3 237.5h.8v.8h-.8zM267.9 227.2h.8v.8h-.8zM271.8 241.7h.8v.8h-.8zM271.9 228.0h.8v.8h-.8zM274.0 237.2h.8v.8h-.8zM273.7 234.6h.8v.8h-.8zM270.6 243.9h.8v.8h-.8zM275.5 228.2h.8v.8h-.8zM268.1 243.4h.8v.8h-.8zM272.5 236.9h.8v.8h-.8zM268.5 243.7h.8v.8h-.8zM272.0 238.1h.8v.8h-.8zM272.6 232.9h.8v.8h-.8zM272.6 237.5h.8v.8h-.8zM273.6 239.2h.8v.8h-.8zM267.5 231.6h.8v.8h-.8zM270.6 244.7h.8v.8h-.8zM269.4 244.5h.8v.8h-.8zM274.6 242.7h.8v.8h-.8zM278.2 236.5h.8v.8h-.8zM272.4 245.1h.8v.8h-.8zM272.6 243.5h.8v.8h-.8zM271.0 246.5h.8v.8h-.8zM272.5 223.2h.8v.8h-.8zM274.7 235.3h.8v.8h-.8zM268.7 234.5h.8v.8h-.8zM270.6 244.6h.8v.8h-.8zM272.4 236.1h.8v.8h-.8zM271.4 230.3h.8v.8h-.8zM269.5 233.3h.8v.8h-.8zM270.7 228.5h.8v.8h-.8zM270.2 243.6h.8v.8h-.8zM272.8 236.6h.8v.8h-.8zM272.4 234.9h.8v.8h-.8zM267.8 242.8h.8v.8h-.8zM278.2 240.2h.8v.8h-.8zM273.5 253.8h.8v.8h-.8zM267.8 240.3h.8v.8h-.8zM270.4 234.7h.8v.8h-.8zM266.4 236.0h.8v.8h-.8zM272.6 225.4h.8v.8h-.8zM270.7 233.2h.8v.8h-.8zM268.4 241.0h.8v.8h-.8zM276.3 239.5h.8v.8h-.8zM274.5 241.9h.8v.8h-.8zM271.2 240.7h.8v.8h-.8zM275.4 233.6h.8v.8h-.8zM271.0 227.0h.8v.8h-.8zM265.8 230.9h.8v.8h-.8zM274.1 239.1h.8v.8h-.8zM272.2 245.8h.8v.8h-.8zM266.1 246.2h.8v.8h-.8zM271.7 242.0h.8v.8h-.8zM275.6 230.9h.8v.8h-.8zM268.8 239.4h.8v.8h-.8zM271.2 232.5h.8v.8h-.8zM271.0 231.6h.8v.8h-.8zM271.8 233.9h.8v.8h-.8zM276.5 229.4h.8v.8h-.8zM273.1 237.1h.8v.8h-.8zM276.2 229.9h.8v.8h-.8zM270.0 248.6h.8v.8h-.8zM269.4 234.0h.8v.8h-.8zM270.2 229.8h.8v.8h-.8zM275.1 247.1h.8v.8h-.8zM270.9 231.4h.8v.8h-.8zM267.3 241.2h.8v.8h-.8zM269.8 240.4h.8v.8h-.8zM264.1 233.7h.8v.8h-.8zM273.3 239.5h.8v.8h-.8zM262.8 238.6h.8v.8h-.8zM271.8 236.5h.8v.8h-.8zM270.4 233.5h.8v.8h-.8zM271.8 240.1h.8v.8h-.8zM261.9 236.5h.8v.8h-.8zM274.2 235.1h.8v.8h-.8zM275.1 230.1h.8v.8h-.8zM277.2 243.3h.8v.8h-.8zM275.7 247.6h.8v.8h-.8zM267.8 235.8h.8v.8h-.8zM272.8 243.9h.8v.8h-.8zM271.6 227.6h.8v.8h-.8zM275.1 235.4h.8v.8h-.8zM272.7 234.4h.8v.8h-.8zM271.1 227.1h.8v.8h-.8zM273.4 232.2h.8v.8h-.8zM266.1 239.5h.8v.8h-.8zM271.3 243.2h.8v.8h-.8zM273.9 228.2h.8v.8h-.8zM270.9 236.6h.8v.8h-.8zM271.7 229.3h.8v.8h-.8zM271.6 243.4h.8v.8h-.8zM275.1 246.7h.8v.8h-.8zM273.7 219.1h.8v.8h-.8zM270.6 232.8h.8v.8h-.8zM262.7 247.3h.8v.8h-.8zM274.1 236.5h.8v.8h-.8zM272.5 240.0h.8v.8h-.8zM270.7 246.1h.8v.8h-.8zM276.9 242.3h.8v.8h-.8zM269.7 238.3h.8v.8h-.8zM274.3 241.6h.8v.8h-.8zM269.3 243.2h.8v.8h-.8zM273.6 240.6h.8v.8h-.8zM270.1 236.4h.8v.8h-.8zM265.7 236.4h.8v.8h-.8zM270.1 234.5h.8v.8h-.8zM270.6 234.4h.8v.8h-.8zM271.7 237.3h.8v.8h-.8zM269.6 235.7h.8v.8h-.8zM271.1 240.0h.8v.8h-.8zM272.7 234.1h.8v.8h-.8zM268.9 225.2h.8v.8h-.8zM267.6 239.4h.8v.8h-.8zM268.6 247.7h.8v.8h-.8zM270.9 233.9h.8v.8h-.8zM270.9 232.8h.8v.8h-.8zM269.5 237.0h.8v.8h-.8zM267.0 237.5h.8v.8h-.8zM271.1 230.3h.8v.8h-.8zM274.5 239.1h.8v.8h-.8zM274.7 232.0h.8v.8h-.8zM267.7 228.4h.8v.8h-.8zM266.7 223.5h.8v.8h-.8zM276.1 233.3h.8v.8h-.8zM272.0 232.9h.8v.8h-.8zM271.0 247.5h.8v.8h-.8zM266.2 229.8h.8v.8h-.8zM271.8 230.3h.8v.8h-.8zM273.5 245.5h.8v.8h-.8zM274.1 241.8h.8v.8h-.8zM270.9 243.5h.8v.8h-.8zM269.0 228.3h.8v.8h-.8zM270.6 234.8h.8v.8h-.8zM275.1 229.7h.8v.8h-.8zM274.8 231.2h.8v.8h-.8zM267.6 224.8h.8v.8h-.8zM271.3 226.6h.8v.8h-.8zM272.0 236.9h.8v.8h-.8zM270.2 223.2h.8v.8h-.8zM269.8 239.6h.8v.8h-.8zM266.0 241.3h.8v.8h-.8zM271.5 232.8h.8v.8h-.8zM272.0 241.1h.8v.8h-.8zM271.3 231.2h.8v.8h-.8zM273.8 231.9h.8v.8h-.8zM272.5 243.3h.8v.8h-.8zM275.3 247.6h.8v.8h-.8zM274.5 237.6h.8v.8h-.8zM270.8 237.9h.8v.8h-.8zM273.4 230.8h.8v.8h-.8zM276.0 225.6h.8v.8h-.8zM274.4 227.7h.8v.8h-.8zM268.1 233.1h.8v.8h-.8zM270.5 227.2h.8v.8h-.8zM273.3 235.8h.8v.8h-.8zM275.4 229.5h.8v.8h-.8zM266.0 241.3h.8v.8h-.8zM270.7 243.3h.8v.8h-.8zM264.4 227.9h.8v.8h-.8zM271.7 250.1h.8v.8h-.8zM267.7 223.4h.8v.8h-.8zM270.0 246.3h.8v.8h-.8zM276.2 227.1h.8v.8h-.8zM269.6 223.8h.8v.8h-.8zM268.9 229.9h.8v.8h-.8zM272.7 244.4h.8v.8h-.8zM278.6 234.1h.8v.8h-.8zM273.9 238.1h.8v.8h-.8zM271.8 249.9h.8v.8h-.8zM273.5 247.4h.8v.8h-.8zM272.3 242.5h.8v.8h-.8zM272.9 235.9h.8v.8h-.8zM269.3 233.7h.8v.8h-.8zM271.4 233.9h.8v.8h-.8zM270.4 231.7h.8v.8h-.8zM274.0 234.8h.8v.8h-.8zM271.0 235.0h.8v.8h-.8zM275.3 232.8h.8v.8h-.8zM275.6 230.6h.8v.8h-.8zM276.0 240.8h.8v.8h-.8zM269.9 239.7h.8v.8h-.8zM274.8 229.9h.8v.8h-.8zM270.7 238.7h.8v.8h-.8zM270.8 234.5h.8v.8h-.8zM271.5 238.7h.8v.8h-.8zM273.7 246.8h.8v.8h-.8zM270.4 248.8h.8v.8h-.8zM271.0 226.5h.8v.8h-.8zM270.1 234.1h.8v.8h-.8zM274.6 222.6h.8v.8h-.8zM269.5 235.6h.8v.8h-.8zM273.4 239.3h.8v.8h-.8zM274.0 235.4h.8v.8h-.8zM270.7 244.9h.8v.8h-.8zM276.6 239.2h.8v.8h-.8zM271.9 230.6h.8v.8h-.8zM277.7 239.3h.8v.8h-.8zM273.3 225.4h.8v.8h-.8zM273.2 253.4h.8v.8h-.8zM270.9 235.1h.8v.8h-.8zM276.0 235.2h.8v.8h-.8zM273.9 250.0h.8v.8h-.8zM267.9 230.8h.8v.8h-.8zM273.4 237.3h.8v.8h-.8zM271.5 235.4h.8v.8h-.8zM271.8 239.0h.8v.8h-.8zM270.0 234.6h.8v.8h-.8zM272.1 229.0h.8v.8h-.8zM272.7 221.3h.8v.8h-.8zM273.3 235.7h.8v.8h-.8zM267.9 245.9h.8v.8h-.8zM267.9 250.8h.8v.8h-.8zM269.2 244.9h.8v.8h-.8zM271.2 247.7h.8v.8h-.8zM270.7 243.7h.8v.8h-.8zM270.5 223.5h.8v.8h-.8zM272.6 239.8h.8v.8h-.8zM272.6 248.1h.8v.8h-.8zM269.2 226.6h.8v.8h-.8zM272.2 231.7h.8v.8h-.8zM271.1 236.5h.8v.8h-.8zM269.0 244.1h.8v.8h-.8zM271.1 248.9h.8v.8h-.8zM272.2 243.9h.8v.8h-.8zM270.5 232.0h.8v.8h-.8zM269.8 230.4h.8v.8h-.8zM272.8 237.5h.8v.8h-.8zM268.2 225.9h.8v.8h-.8zM268.8 223.9h.8v.8h-.8zM268.8 226.0h.8v.8h-.8zM273.5 228.5h.8v.8h-.8zM269.7 235.7h.8v.8h-.8zM271.5 239.5h.8v.8h-.8zM273.7 241.0h.8v.8h-.8zM270.4 245.2h.8v.8h-.8zM272.5 231.6h.8v.8h-.8zM275.9 228.3h.8v.8h-.8zM272.8 245.2h.8v.8h-.8zM271.8 238.9h.8v.8h-.8zM271.8 241.1h.8v.8h-.8zM272.1 236.6h.8v.8h-.8zM273.5 223.4h.8v.8h-.8zM272.2 234.4h.8v.8h-.8zM277.3 238.5h.8v.8h-.8zM269.5 241.1h.8v.8h-.8zM270.3 228.3h.8v.8h-.8zM270.6 240.0h.8v.8h-.8zM275.0 243.8h.8v.8h-.8zM272.1 235.4h.8v.8h-.8zM272.0 244.9h.8v.8h-.8zM271.0 244.6h.8v.8h-.8zM269.1 236.4h.8v.8h-.8zM273.7 241.4h.8v.8h-.8zM272.0 233.0h.8v.8h-.8zM266.1 233.5h.8v.8h-.8zM268.9 233.7h.8v.8h-.8zM276.1 231.2h.8v.8h-.8zM273.9 236.4h.8v.8h-.8zM268.1 237.3h.8v.8h-.8zM273.6 228.3h.8v.8h-.8zM268.0 233.9h.8v.8h-.8zM273.6 232.4h.8v.8h-.8zM272.7 239.7h.8v.8h-.8zM271.5 239.6h.8v.8h-.8zM275.2 235.2h.8v.8h-.8zM272.4 229.1h.8v.8h-.8zM269.3 235.8h.8v.8h-.8zM273.8 231.9h.8v.8h-.8zM267.3 242.9h.8v.8h-.8zM278.4 218.7h.8v.8h-.8zM268.3 237.4h.8v.8h-.8zM272.9 230.0h.8v.8h-.8zM272.4 244.1h.8v.8h-.8zM270.6 241.6h.8v.8h-.8zM271.8 230.1h.8v.8h-.8zM269.6 232.3h.8v.8h-.8zM275.3 244.5h.8v.8h-.8zM272.1 225.7h.8v.8h-.8zM270.0 233.7h.8v.8h-.8zM265.7 236.4h.8v.8h-.8zM272.3 227.4h.8v.8h-.8zM270.2 233.4h.8v.8h-.8zM276.9 241.1h.8v.8h-.8zM273.7 237.1h.8v.8h-.8zM267.6 242.9h.8v.8h-.8zM269.4 223.2h.8v.8h-.8zM273.6 234.1h.8v.8h-.8zM271.4 240.1h.8v.8h-.8zM270.7 239.4h.8v.8h-.8zM275.2 234.3h.8v.8h-.8zM270.4 236.6h.8v.8h-.8zM273.3 233.7h.8v.8h-.8zM271.7 231.8h.8v.8h-.8zM271.2 240.3h.8v.8h-.8zM269.0 235.3h.8v.8h-.8zM267.1 231.7h.8v.8h-.8zM271.6 240.2h.8v.8h-.8zM268.4 235.8h.8v.8h-.8zM268.7 238.7h.8v.8h-.8zM272.2 239.6h.8v.8h-.8zM270.8 226.7h.8v.8h-.8zM269.8 227.3h.8v.8h-.8zM269.4 236.1h.8v.8h-.8zM274.6 232.1h.8v.8h-.8zM269.1 237.9h.8v.8h-.8zM265.4 250.3h.8v.8h-.8zM266.9 243.5h.8v.8h-.8zM274.3 243.2h.8v.8h-.8zM271.1 241.6h.8v.8h-.8zM270.4 243.1h.8v.8h-.8zM269.5 230.9h.8v.8h-.8zM272.5 233.4h.8v.8h-.8zM273.4 230.6h.8v.8h-.8zM272.2 229.7h.8v.8h-.8zM271.1 251.3h.8v.8h-.8zM268.3 228.0h.8v.8h-.8zM266.7 234.9h.8v.8h-.8zM276.1 233.4h.8v.8h-.8zM274.1 235.2h.8v.8h-.8zM269.6 250.4h.8v.8h-.8zM274.6 223.8h.8v.8h-.8zM268.6 239.4h.8v.8h-.8zM273.3 235.0h.8v.8h-.8zM272.3 240.2h.8v.8h-.8zM270.4 243.4h.8v.8h-.8zM268.9 241.7h.8v.8h-.8zM274.1 237.9h.8v.8h-.8zM270.4 236.4h.8v.8h-.8zM264.9 238.3h.8v.8h-.8zM267.3 222.6h.8v.8h-.8zM273.6 230.2h.8v.8h-.8zM272.4 236.8h.8v.8h-.8zM266.3 230.3h.8v.8h-.8zM270.6 239.7h.8v.8h-.8zM271.6 227.8h.8v.8h-.8zM269.9 237.2h.8v.8h-.8zM267.7 233.5h.8v.8h-.8zM269.8 221.9h.8v.8h-.8zM276.4 242.6h.8v.8h-.8zM270.1 243.0h.8v.8h-.8zM268.4 247.1h.8v.8h-.8zM270.3 237.5h.8v.8h-.8zM269.7 237.1h.8v.8h-.8zM272.4 236.7h.8v.8h-.8zM269.0 241.7h.8v.8h-.8zM273.0 236.5h.8v.8h-.8zM274.5 231.4h.8v.8h-.8zM275.1 235.4h.8v.8h-.8zM275.8 233.5h.8v.8h-.8zM270.7 238.0h.8v.8h-.8zM274.6 246.4h.8v.8h-.8zM270.1 231.5h.8v.8h-.8zM273.6 245.1h.8v.8h-.8zM273.5 234.2h.8v.8h-.8zM275.1 236.3h.8v.8h-.8zM271.9 240.8h.8v.8h-.8zM269.8 220.9h.8v.8h-.8zM272.0 241.4h.8v.8h-.8zM272.7 240.2h.8v.8h-.8zM271.9 243.7h.8v.8h-.8zM271.7 246.8h.8v.8h-.8zM271.6 242.0h.8v.8h-.8zM269.8 238.6h.8v.8h-.8zM272.6 237.5h.8v.8h-.8zM275.9 236.8h.8v.8h-.8zM274.7 238.9h.8v.8h-.8zM274.6 230.3h.8v.8h-.8zM270.3 243.2h.8v.8h-.8zM269.0 239.2h.8v.8h-.8zM273.1 237.9h.8v.8h-.8zM272.7 240.2h.8v.8h-.8zM270.7 239.3h.8v.8h-.8zM269.9 233.4h.8v.8h-.8zM266.8 235.8h.8v.8h-.8zM266.5 236.7h.8v.8h-.8zM272.0 229.0h.8v.8h-.8zM271.6 238.5h.8v.8h-.8zM270.4 230.2h.8v.8h-.8zM271.1 239.3h.8v.8h-.8zM274.1 249.9h.8v.8h-.8zM265.7 238.9h.8v.8h-.8zM272.7 232.1h.8v.8h-.8zM272.3 250.9h.8v.8h-.8zM271.7 245.9h.8v.8h-.8zM274.5 233.5h.8v.8h-.8zM264.7 244.5h.8v.8h-.8zM275.9 224.4h.8v.8h-.8zM270.8 231.7h.8v.8h-.8zM272.0 236.9h.8v.8h-.8zM274.7 232.4h.8v.8h-.8zM277.0 224.7h.8v.8h-.8zM272.0 255.0h.8v.8h-.8zM271.1 240.8h.8v.8h-.8zM274.0 234.1h.8v.8h-.8zM265.8 238.0h.8v.8h-.8zM273.5 222.4h.8v.8h-.8zM270.0 240.4h.8v.8h-.8zM264.4 235.2h.8v.8h-.8zM266.8 227.2h.8v.8h-.8zM272.6 244.4h.8v.8h-.8zM274.8 232.0h.8v.8h-.8zM272.9 224.3h.8v.8h-.8zM267.1 240.3h.8v.8h-.8zM270.2 229.5h.8v.8h-.8zM266.0 234.9h.8v.8h-.8zM277.9 222.6h.8v.8h-.8zM268.4 244.3h.8v.8h-.8zM265.8 232.2h.8v.8h-.8zM271.6 244.3h.8v.8h-.8zM271.2 249.1h.8v.8h-.8zM271.3 235.7h.8v.8h-.8zM272.7 238.9h.8v.8h-.8zM267.0 229.9h.8v.8h-.8zM270.7 238.9h.8v.8h-.8zM267.8 231.6h.8v.8h-.8zM269.2 238.9h.8v.8h-.8zM270.2 240.7h.8v.8h-.8zM272.5 230.2h.8v.8h-.8zM270.5 227.9h.8v.8h-.8zM271.7 242.1h.8v.8h-.8zM268.5 224.2h.8v.8h-.8zM272.9 234.5h.8v.8h-.8zM271.3 239.7h.8v.8h-.8zM272.5 242.9h.8v.8h-.8zM270.1 221.2h.8v.8h-.8zM270.0 234.4h.8v.8h-.8zM270.2 239.2h.8v.8h-.8zM270.7 245.5h.8v.8h-.8zM269.6 236.5h.8v.8h-.8zM270.4 251.2h.8v.8h-.8zM268.6 229.6h.8v.8h-.8zM270.3 241.8h.8v.8h-.8zM271.4 235.3h.8v.8h-.8zM267.1 222.1h.8v.8h-.8zM270.8 234.8h.8v.8h-.8zM276.5 239.1h.8v.8h-.8zM272.6 243.2h.8v.8h-.8zM268.8 228.0h.8v.8h-.8zM270.3 246.8h.8v.8h-.8zM274.3 232.4h.8v.8h-.8zM267.8 243.0h.8v.8h-.8zM274.6 228.9h.8v.8h-.8zM276.1 231.1h.8v.8h-.8zM273.6 235.1h.8v.8h-.8zM270.4 232.3h.8v.8h-.8zM273.4 240.8h.8v.8h-.8zM273.8 234.5h.8v.8h-.8zM268.9 251.4h.8v.8h-.8zM276.4 235.2h.8v.8h-.8zM268.0 246.9h.8v.8h-.8zM271.8 236.9h.8v.8h-.8zM273.9 238.9h.8v.8h-.8zM271.7 250.3h.8v.8h-.8zM265.9 241.0h.8v.8h-.8zM268.5 237.0h.8v.8h-.8zM270.9 238.3h.8v.8h-.8zM264.3 241.3h.8v.8h-.8zM278.2 233.6h.8v.8h-.8zM274.0 240.9h.8v.8h-.8zM272.3 233.0h.8v.8h-.8zM273.3 238.4h.8v.8h-.8zM275.7 242.3h.8v.8h-.8zM269.3 216.2h.8v.8h-.8zM275.8 239.9h.8v.8h-.8zM271.9 232.3h.8v.8h-.8zM278.8 245.8h.8v.8h-.8zM271.7 233.9h.8v.8h-.8zM273.1 246.0h.8v.8h-.8zM272.9 243.1h.8v.8h-.8zM272.2 239.0h.8v.8h-.8zM267.7 237.4h.8v.8h-.8zM271.6 236.0h.8v.8h-.8zM270.7 238.6h.8v.8h-.8zM269.7 235.1h.8v.8h-.8zM267.5 252.6h.8v.8h-.8zM268.8 228.1h.8v.8h-.8zM269.8 233.6h.8v.8h-.8zM268.2 219.5h.8v.8h-.8zM276.3 243.6h.8v.8h-.8zM270.3 240.4h.8v.8h-.8zM268.1 225.2h.8v.8h-.8zM272.4 240.5h.8v.8h-.8zM269.4 236.5h.8v.8h-.8zM262.3 235.6h.8v.8h-.8zM274.5 237.7h.8v.8h-.8zM271.9 240.5h.8v.8h-.8zM265.2 227.5h.8v.8h-.8zM267.6 238.2h.8v.8h-.8zM269.5 223.3h.8v.8h-.8zM274.0 235.2h.8v.8h-.8zM274.3 250.5h.8v.8h-.8zM266.5 227.6h.8v.8h-.8zM274.6 246.3h.8v.8h-.8zM272.6 239.0h.8v.8h-.8zM273.5 241.1h.8v.8h-.8zM267.6 241.7h.8v.8h-.8zM274.3 233.7h.8v.8h-.8zM268.7 233.1h.8v.8h-.8zM269.7 240.2h.8v.8h-.8zM273.7 236.7h.8v.8h-.8zM270.5 224.1h.8v.8h-.8zM270.1 229.6h.8v.8h-.8zM269.8 238.9h.8v.8h-.8zM268.8 232.8h.8v.8h-.8zM268.0 234.7h.8v.8h-.8zM270.5 243.5h.8v.8h-.8zM265.6 242.8h.8v.8h-.8zM273.3 232.8h.8v.8h-.8zM269.4 237.9h.8v.8h-.8zM273.0 235.4h.8v.8h-.8zM270.9 236.6h.8v.8h-.8zM268.2 238.4h.8v.8h-.8zM273.1 236.9h.8v.8h-.8zM268.0 236.5h.8v.8h-.8zM271.1 238.7h.8v.8h-.8zM270.2 242.3h.8v.8h-.8zM274.6 242.2h.8v.8h-.8zM272.1 245.0h.8v.8h-.8zM271.3 235.4h.8v.8h-.8zM267.1 236.6h.8v.8h-.8zM275.0 229.9h.8v.8h-.8zM273.7 227.7h.8v.8h-.8zM272.3 249.2h.8v.8h-.8zM271.5 228.4h.8v.8h-.8zM272.2 235.5h.8v.8h-.8zM273.8 232.9h.8v.8h-.8zM266.2 233.2h.8v.8h-.8zM273.1 243.6h.8v.8h-.8zM272.2 236.7h.8v.8h-.8zM273.4 235.2h.8v.8h-.8zM270.0 238.1h.8v.8h-.8zM274.6 233.1h.8v.8h-.8zM272.9 232.1h.8v.8h-.8zM269.2 237.7h.8v.8h-.8zM267.4 230.6h.8v.8h-.8zM267.8 232.4h.8v.8h-.8zM268.7 252.6h.8v.8h-.8zM273.2 237.0h.8v.8h-.8zM267.4 220.2h.8v.8h-.8zM272.7 232.2h.8v.8h-.8zM274.5 233.8h.8v.8h-.8zM267.5 232.1h.8v.8h-.8zM266.8 226.8h.8v.8h-.8zM273.5 232.9h.8v.8h-.8zM273.4 232.7h.8v.8h-.8zM270.7 232.7h.8v.8h-.8zM269.8 232.0h.8v.8h-.8zM275.8 236.1h.8v.8h-.8zM265.6 248.1h.8v.8h-.8zM275.1 244.2h.8v.8h-.8zM271.1 235.5h.8v.8h-.8zM270.0 237.4h.8v.8h-.8zM272.8 236.5h.8v.8h-.8zM268.9 229.9h.8v.8h-.8zM276.3 248.1h.8v.8h-.8zM267.7 232.1h.8v.8h-.8zM271.3 240.5h.8v.8h-.8zM271.0 238.2h.8v.8h-.8zM272.5 244.3h.8v.8h-.8zM267.5 244.0h.8v.8h-.8zM272.7 240.2h.8v.8h-.8zM266.9 235.0h.8v.8h-.8zM270.6 240.9h.8v.8h-.8zM273.4 241.2h.8v.8h-.8zM267.5 245.1h.8v.8h-.8zM271.6 242.9h.8v.8h-.8zM271.3 231.7h.8v.8h-.8zM279.2 241.0h.8v.8h-.8zM273.6 233.4h.8v.8h-.8zM270.7 244.1h.8v.8h-.8zM272.7 248.4h.8v.8h-.8zM275.0 229.2h.8v.8h-.8zM266.8 244.4h.8v.8h-.8zM273.2 234.8h.8v.8h-.8zM270.5 232.7h.8v.8h-.8zM276.7 235.4h.8v.8h-.8zM267.2 242.7h.8v.8h-.8zM271.1 238.9h.8v.8h-.8zM270.2 236.3h.8v.8h-.8zM265.7 240.2h.8v.8h-.8zM269.3 233.9h.8v.8h-.8zM272.3 245.2h.8v.8h-.8zM264.9 235.6h.8v.8h-.8zM273.0 243.4h.8v.8h-.8zM268.6 238.7h.8v.8h-.8zM272.6 242.8h.8v.8h-.8zM269.5 235.3h.8v.8h-.8zM269.8 244.2h.8v.8h-.8zM274.6 233.5h.8v.8h-.8zM270.9 238.0h.8v.8h-.8zM268.7 235.8h.8v.8h-.8zM273.9 241.8h.8v.8h-.8zM269.3 232.2h.8v.8h-.8zM271.0 226.6h.8v.8h-.8zM272.3 237.4h.8v.8h-.8zM267.4 235.0h.8v.8h-.8zM269.4 234.7h.8v.8h-.8zM268.7 245.7h.8v.8h-.8zM268.5 241.7h.8v.8h-.8zM272.0 246.3h.8v.8h-.8zM271.2 236.6h.8v.8h-.8zM271.6 223.9h.8v.8h-.8zM278.5 235.1h.8v.8h-.8zM270.4 229.0h.8v.8h-.8zM270.9 247.4h.8v.8h-.8zM269.1 239.5h.8v.8h-.8zM274.4 242.9h.8v.8h-.8zM270.1 224.9h.8v.8h-.8zM272.6 240.4h.8v.8h-.8zM270.4 233.7h.8v.8h-.8zM276.6 226.0h.8v.8h-.8zM269.8 232.5h.8v.8h-.8zM266.7 231.9h.8v.8h-.8zM269.0 244.9h.8v.8h-.8zM266.1 227.4h.8v.8h-.8zM272.1 226.2h.8v.8h-.8zM265.3 232.4h.8v.8h-.8zM267.7 230.1h.8v.8h-.8zM270.9 239.6h.8v.8h-.8zM269.4 234.7h.8v.8h-.8zM273.5 235.6h.8v.8h-.8zM273.5 232.7h.8v.8h-.8zM272.8 245.1h.8v.8h-.8zM270.4 234.3h.8v.8h-.8zM270.9 239.7h.8v.8h-.8zM267.7 236.8h.8v.8h-.8zM269.6 246.1h.8v.8h-.8zM266.2 240.9h.8v.8h-.8zM270.4 231.6h.8v.8h-.8zM271.8 235.0h.8v.8h-.8zM271.5 238.2h.8v.8h-.8zM274.9 233.9h.8v.8h-.8zM276.3 218.6h.8v.8h-.8zM276.8 244.7h.8v.8h-.8zM276.0 237.9h.8v.8h-.8zM272.2 229.9h.8v.8h-.8zM275.3 228.9h.8v.8h-.8zM269.0 236.6h.8v.8h-.8zM272.0 238.8h.8v.8h-.8zM267.9 234.3h.8v.8h-.8zM272.8 244.5h.8v.8h-.8zM273.6 239.3h.8v.8h-.8zM270.6 233.0h.8v.8h-.8zM269.8 236.0h.8v.8h-.8zM272.9 233.2h.8v.8h-.8zM277.5 230.0h.8v.8h-.8zM273.8 235.2h.8v.8h-.8zM270.9 234.1h.8v.8h-.8zM275.9 234.6h.8v.8h-.8zM273.0 237.4h.8v.8h-.8zM273.6 240.5h.8v.8h-.8zM276.3 231.8h.8v.8h-.8zM268.9 247.8h.8v.8h-.8zM275.2 237.1h.8v.8h-.8zM270.5 238.3h.8v.8h-.8zM275.2 231.5h.8v.8h-.8zM275.7 236.2h.8v.8h-.8zM270.3 234.0h.8v.8h-.8zM265.1 238.7h.8v.8h-.8zM267.4 232.9h.8v.8h-.8zM268.7 238.2h.8v.8h-.8zM273.5 236.9h.8v.8h-.8zM271.9 239.3h.8v.8h-.8zM276.1 240.4h.8v.8h-.8zM276.0 236.2h.8v.8h-.8zM272.4 232.3h.8v.8h-.8zM273.1 230.9h.8v.8h-.8zM272.8 232.4h.8v.8h-.8zM270.3 244.7h.8v.8h-.8zM271.8 241.8h.8v.8h-.8zM270.6 224.3h.8v.8h-.8zM275.7 235.4h.8v.8h-.8zM269.4 242.9h.8v.8h-.8zM268.0 231.7h.8v.8h-.8zM274.8 232.0h.8v.8h-.8zM274.7 234.6h.8v.8h-.8zM270.7 237.1h.8v.8h-.8zM269.9 243.7h.8v.8h-.8zM274.6 237.0h.8v.8h-.8zM273.2 240.2h.8v.8h-.8zM276.4 226.1h.8v.8h-.8zM274.4 242.6h.8v.8h-.8zM270.4 236.7h.8v.8h-.8zM270.3 244.8h.8v.8h-.8zM267.9 240.6h.8v.8h-.8zM275.2 240.4h.8v.8h-.8zM269.9 233.6h.8v.8h-.8zM265.0 229.8h.8v.8h-.8zM274.6 230.4h.8v.8h-.8zM266.4 235.0h.8v.8h-.8zM266.9 239.6h.8v.8h-.8zM268.7 242.9h.8v.8h-.8zM271.0 227.3h.8v.8h-.8zM269.0 232.3h.8v.8h-.8zM268.8 244.8h.8v.8h-.8zM268.3 239.0h.8v.8h-.8zM269.6 240.5h.8v.8h-.8zM267.1 226.3h.8v.8h-.8zM272.9 246.0h.8v.8h-.8zM267.2 234.5h.8v.8h-.8zM269.8 230.4h.8v.8h-.8zM274.2 236.9h.8v.8h-.8zM267.2 235.2h.8v.8h-.8zM275.3 231.9h.8v.8h-.8zM269.8 231.2h.8v.8h-.8zM271.8 233.0h.8v.8h-.8zM274.0 231.1h.8v.8h-.8zM267.0 239.6h.8v.8h-.8zM261.9 230.4h.8v.8h-.8zM272.2 238.2h.8v.8h-.8zM269.6 233.7h.8v.8h-.8zM268.9 235.4h.8v.8h-.8zM270.0 240.3h.8v.8h-.8zM271.4 240.3h.8v.8h-.8zM276.2 234.8h.8v.8h-.8zM270.5 239.1h.8v.8h-.8zM277.6 234.3h.8v.8h-.8zM276.4 244.4h.8v.8h-.8zM263.2 230.1h.8v.8h-.8zM268.4 239.2h.8v.8h-.8zM275.3 237.0h.8v.8h-.8zM271.8 250.9h.8v.8h-.8zM272.4 250.8h.8v.8h-.8zM268.7 247.5h.8v.8h-.8zM269.8 220.6h.8v.8h-.8zM268.9 233.5h.8v.8h-.8zM271.2 241.6h.8v.8h-.8zM273.4 240.1h.8v.8h-.8zM269.1 248.4h.8v.8h-.8zM274.9 236.9h.8v.8h-.8zM269.6 236.3h.8v.8h-.8zM270.7 232.0h.8v.8h-.8zM271.3 232.2h.8v.8h-.8zM273.3 232.3h.8v.8h-.8zM272.8 238.7h.8v.8h-.8zM271.9 240.1h.8v.8h-.8zM268.3 253.6h.8v.8h-.8zM269.3 241.5h.8v.8h-.8zM271.4 233.8h.8v.8h-.8zM276.6 243.9h.8v.8h-.8zM270.5 240.3h.8v.8h-.8zM273.4 247.1h.8v.8h-.8zM274.4 235.5h.8v.8h-.8zM270.6 228.9h.8v.8h-.8zM272.1 242.3h.8v.8h-.8zM270.2 241.0h.8v.8h-.8zM271.8 233.6h.8v.8h-.8zM267.7 244.0h.8v.8h-.8zM279.0 240.2h.8v.8h-.8zM268.1 229.8h.8v.8h-.8zM272.1 240.9h.8v.8h-.8zM275.9 220.6h.8v.8h-.8zM276.9 237.7h.8v.8h-.8zM271.8 239.2h.8v.8h-.8zM270.3 234.7h.8v.8h-.8zM274.5 225.1h.8v.8h-.8zM271.0 240.3h.8v.8h-.8zM266.4 235.5h.8v.8h-.8zM276.0 239.1h.8v.8h-.8zM273.5 241.3h.8v.8h-.8zM272.0 239.0h.8v.8h-.8zM268.9 235.2h.8v.8h-.8zM276.9 228.5h.8v.8h-.8zM270.9 228.2h.8v.8h-.8zM269.8 231.5h.8v.8h-.8zM267.7 238.2h.8v.8h-.8zM268.5 240.1h.8v.8h-.8zM276.8 219.6h.8v.8h-.8zM270.9 222.7h.8v.8h-.8zM271.0 239.1h.8v.8h-.8zM272.0 244.6h.8v.8h-.8zM271.8 225.2h.8v.8h-.8zM275.9 230.3h.8v.8h-.8zM271.1 238.8h.8v.8h-.8zM268.7 237.2h.8v.8h-.8zM275.9 225.4h.8v.8h-.8zM266.4 233.6h.8v.8h-.8zM270.9 228.1h.8v.8h-.8zM264.5 242.7h.8v.8h-.8zM272.5 227.8h.8v.8h-.8zM273.1 236.2h.8v.8h-.8zM271.9 227.7h.8v.8h-.8zM270.7 239.8h.8v.8h-.8zM266.1 229.6h.8v.8h-.8zM274.3 249.9h.8v.8h-.8zM273.4 236.1h.8v.8h-.8zM268.1 233.9h.8v.8h-.8zM270.6 239.5h.8v.8h-.8zM270.6 253.1h.8v.8h-.8zM275.4 222.0h.8v.8h-.8zM267.9 236.6h.8v.8h-.8zM274.3 239.3h.8v.8h-.8zM263.1 225.6h.8v.8h-.8zM275.4 240.5h.8v.8h-.8zM279.1 241.9h.8v.8h-.8zM272.8 246.8h.8v.8h-.8zM270.0 233.0h.8v.8h-.8zM268.3 238.2h.8v.8h-.8zM272.7 242.8h.8v.8h-.8zM275.7 240.8h.8v.8h-.8zM275.1 234.9h.8v.8h-.8zM268.5 241.5h.8v.8h-.8zM274.4 245.5h.8v.8h-.8zM270.9 233.4h.8v.8h-.8zM270.3 239.0h.8v.8h-.8zM271.2 235.3h.8v.8h-.8zM272.2 234.6h.8v.8h-.8zM272.4 232.6h.8v.8h-.8zM266.7 234.5h.8v.8h-.8zM277.1 231.2h.8v.8h-.8zM274.1 245.6h.8v.8h-.8zM269.8 238.3h.8v.8h-.8zM264.5 240.4h.8v.8h-.8zM276.0 237.8h.8v.8h-.8zM265.4 232.7h.8v.8h-.8zM269.2 237.3h.8v.8h-.8zM272.3 233.8h.8v.8h-.8zM270.5 231.1h.8v.8h-.8zM273.1 237.9h.8v.8h-.8zM272.4 233.2h.8v.8h-.8zM272.9 234.6h.8v.8h-.8zM272.3 235.5h.8v.8h-.8zM269.4 229.2h.8v.8h-.8zM265.8 227.4h.8v.8h-.8zM266.5 231.1h.8v.8h-.8zM270.8 228.7h.8v.8h-.8zM272.7 250.6h.8v.8h-.8zM263.0 228.7h.8v.8h-.8zM275.1 228.7h.8v.8h-.8zM271.1 232.3h.8v.8h-.8zM273.7 226.8h.8v.8h-.8zM272.3 238.0h.8v.8h-.8zM273.1 239.4h.8v.8h-.8zM271.9 224.6h.8v.8h-.8zM270.4 230.2h.8v.8h-.8zM273.0 235.0h.8v.8h-.8zM271.9 244.0h.8v.8h-.8zM271.1 247.9h.8v.8h-.8zM273.9 226.5h.8v.8h-.8zM269.6 244.8h.8v.8h-.8zM269.9 244.6h.8v.8h-.8zM269.7 235.7h.8v.8h-.8zM274.5 225.9h.8v.8h-.8zM271.6 233.5h.8v.8h-.8zM271.9 248.1h.8v.8h-.8zM272.9 227.4h.8v.8h-.8zM274.3 233.5h.8v.8h-.8zM271.9 244.4h.8v.8h-.8zM270.5 243.0h.8v.8h-.8zM271.9 230.4h.8v.8h-.8zM270.5 227.4h.8v.8h-.8zM275.0 237.6h.8v.8h-.8zM274.3 229.0h.8v.8h-.8zM273.9 228.5h.8v.8h-.8zM272.2 236.4h.8v.8h-.8zM269.6 238.6h.8v.8h-.8zM271.5 230.7h.8v.8h-.8zM269.2 227.7h.8v.8h-.8zM275.5 237.5h.8v.8h-.8zM270.3 241.2h.8v.8h-.8zM268.8 228.7h.8v.8h-.8zM272.5 247.2h.8v.8h-.8zM272.3 237.6h.8v.8h-.8zM276.6 226.1h.8v.8h-.8zM280.6 229.1h.8v.8h-.8zM271.2 227.4h.8v.8h-.8zM267.8 234.9h.8v.8h-.8zM278.7 230.1h.8v.8h-.8zM269.5 238.3h.8v.8h-.8zM268.3 234.8h.8v.8h-.8zM273.9 221.8h.8v.8h-.8zM270.5 234.5h.8v.8h-.8zM269.9 235.7h.8v.8h-.8zM266.0 233.5h.8v.8h-.8zM269.8 229.5h.8v.8h-.8zM275.2 250.1h.8v.8h-.8zM273.8 230.6h.8v.8h-.8zM275.7 239.9h.8v.8h-.8zM268.9 240.6h.8v.8h-.8zM269.7 240.4h.8v.8h-.8zM274.2 244.3h.8v.8h-.8zM268.2 235.6h.8v.8h-.8zM271.4 228.2h.8v.8h-.8zM272.6 241.2h.8v.8h-.8zM267.3 232.8h.8v.8h-.8zM268.1 227.9h.8v.8h-.8zM268.2 245.8h.8v.8h-.8zM269.4 233.8h.8v.8h-.8zM274.4 243.5h.8v.8h-.8zM275.6 222.4h.8v.8h-.8zM273.7 224.6h.8v.8h-.8zM269.5 233.7h.8v.8h-.8zM269.7 249.8h.8v.8h-.8zM270.9 244.5h.8v.8h-.8zM270.9 236.1h.8v.8h-.8zM272.9 239.5h.8v.8h-.8zM272.9 224.7h.8v.8h-.8zM272.9 238.7h.8v.8h-.8zM273.2 236.1h.8v.8h-.8zM272.6 227.7h.8v.8h-.8zM274.8 228.3h.8v.8h-.8zM275.6 243.4h.8v.8h-.8zM271.2 234.5h.8v.8h-.8zM273.7 234.4h.8v.8h-.8zM267.8 238.4h.8v.8h-.8zM267.7 233.4h.8v.8h-.8zM276.8 242.0h.8v.8h-.8zM270.0 236.0h.8v.8h-.8zM269.5 236.4h.8v.8h-.8zM267.1 241.1h.8v.8h-.8zM271.4 232.3h.8v.8h-.8zM269.6 254.4h.8v.8h-.8zM270.1 233.3h.8v.8h-.8zM269.7 233.1h.8v.8h-.8zM275.3 241.1h.8v.8h-.8zM272.7 239.0h.8v.8h-.8zM268.0 220.1h.8v.8h-.8zM275.9 241.4h.8v.8h-.8zM272.1 238.4h.8v.8h-.8zM272.0 236.6h.8v.8h-.8zM270.6 221.3h.8v.8h-.8zM273.1 236.8h.8v.8h-.8zM274.3 238.6h.8v.8h-.8zM270.5 240.6h.8v.8h-.8zM272.0 233.5h.8v.8h-.8zM270.3 233.6h.8v.8h-.8zM270.5 233.5h.8v.8h-.8zM271.1 244.1h.8v.8h-.8zM270.0 235.4h.8v.8h-.8zM269.2 227.2h.8v.8h-.8zM268.8 233.0h.8v.8h-.8zM271.9 234.2h.8v.8h-.8zM267.8 234.0h.8v.8h-.8zM275.9 230.5h.8v.8h-.8zM271.6 243.4h.8v.8h-.8zM269.0 232.6h.8v.8h-.8zM280.1 244.9h.8v.8h-.8zM269.8 237.6h.8v.8h-.8zM271.7 237.5h.8v.8h-.8zM272.8 234.5h.8v.8h-.8zM264.7 230.0h.8v.8h-.8zM271.9 227.2h.8v.8h-.8zM270.4 246.7h.8v.8h-.8zM272.1 232.0h.8v.8h-.8zM271.8 243.6h.8v.8h-.8zM266.3 228.0h.8v.8h-.8zM269.4 233.5h.8v.8h-.8zM271.1 232.6h.8v.8h-.8zM271.7 237.1h.8v.8h-.8zM267.9 232.3h.8v.8h-.8zM267.7 238.5h.8v.8h-.8zM272.2 240.9h.8v.8h-.8zM268.8 232.9h.8v.8h-.8zM264.7 236.6h.8v.8h-.8zM266.6 238.9h.8v.8h-.8zM274.6 239.5h.8v.8h-.8zM273.3 238.0h.8v.8h-.8zM272.5 242.9h.8v.8h-.8zM275.2 250.2h.8v.8h-.8zM270.6 242.2h.8v.8h-.8zM274.0 239.4h.8v.8h-.8zM272.2 227.9h.8v.8h-.8zM274.7 230.5h.8v.8h-.8zM269.4 230.7h.8v.8h-.8zM273.1 229.9h.8v.8h-.8zM272.8 240.3h.8v.8h-.8zM271.7 234.2h.8v.8h-.8zM273.2 245.4h.8v.8h-.8zM270.0 229.4h.8v.8h-.8zM269.6 230.5h.8v.8h-.8zM270.7 235.4h.8v.8h-.8zM264.5 246.4h.8v.8h-.8zM269.0 233.6h.8v.8h-.8zM265.5 223.1h.8v.8h-.8zM268.4 238.1h.8v.8h-.8zM273.9 224.2h.8v.8h-.8zM272.1 246.8h.8v.8h-.8zM270.6 242.7h.8v.8h-.8zM272.3 230.2h.8v.8h-.8zM274.4 232.4h.8v.8h-.8zM272.5 233.8h.8v.8h-.8zM270.8 237.5h.8v.8h-.8zM275.4 225.1h.8v.8h-.8zM268.1 237.2h.8v.8h-.8zM274.3 235.2h.8v.8h-.8zM270.8 240.1h.8v.8h-.8zM276.1 230.4h.8v.8h-.8zM266.6 234.6h.8v.8h-.8zM273.7 227.6h.8v.8h-.8zM274.8 242.9h.8v.8h-.8zM273.8 230.8h.8v.8h-.8zM267.5 240.9h.8v.8h-.8zM272.2 241.2h.8v.8h-.8zM267.4 216.4h.8v.8h-.8zM274.8 243.3h.8v.8h-.8zM270.6 236.5h.8v.8h-.8zM272.8 241.6h.8v.8h-.8zM270.8 233.0h.8v.8h-.8zM268.5 243.5h.8v.8h-.8zM272.4 232.6h.8v.8h-.8zM267.6 233.0h.8v.8h-.8zM267.6 233.4h.8v.8h-.8zM269.8 240.0h.8v.8h-.8zM268.4 224.2h.8v.8h-.8zM269.6 227.2h.8v.8h-.8zM273.6 235.1h.8v.8h-.8zM266.4 230.6h.8v.8h-.8zM271.3 236.2h.8v.8h-.8zM265.9 235.6h.8v.8h-.8zM272.3 243.2h.8v.8h-.8zM274.7 235.7h.8v.8h-.8zM267.5 234.0h.8v.8h-.8zM273.3 230.3h.8v.8h-.8zM275.2 230.0h.8v.8h-.8zM268.0 242.1h.8v.8h-.8zM271.1 238.7h.8v.8h-.8zM270.5 236.7h.8v.8h-.8zM269.6 249.3h.8v.8h-.8zM273.4 235.6h.8v.8h-.8zM272.8 242.1h.8v.8h-.8zM269.8 237.7h.8v.8h-.8zM272.0 232.7h.8v.8h-.8zM269.1 235.1h.8v.8h-.8zM270.5 233.7h.8v.8h-.8zM265.6 237.0h.8v.8h-.8zM273.4 237.0h.8v.8h-.8zM276.5 242.3h.8v.8h-.8zM270.3 231.9h.8v.8h-.8zM272.9 234.0h.8v.8h-.8zM266.6 237.3h.8v.8h-.8zM270.5 235.0h.8v.8h-.8zM273.2 237.8h.8v.8h-.8zM277.5 231.5h.8v.8h-.8zM271.1 238.6h.8v.8h-.8zM270.1 233.0h.8v.8h-.8zM276.6 226.7h.8v.8h-.8zM272.4 224.6h.8v.8h-.8zM272.4 223.5h.8v.8h-.8zM267.9 244.2h.8v.8h-.8zM276.0 237.4h.8v.8h-.8zM263.3 243.4h.8v.8h-.8zM272.1 229.0h.8v.8h-.8zM270.3 227.6h.8v.8h-.8zM271.1 235.9h.8v.8h-.8zM271.8 241.8h.8v.8h-.8zM269.5 221.6h.8v.8h-.8zM267.9 228.0h.8v.8h-.8zM270.3 233.5h.8v.8h-.8zM271.3 245.7h.8v.8h-.8zM271.5 229.2h.8v.8h-.8zM270.5 230.6h.8v.8h-.8zM270.7 240.4h.8v.8h-.8zM268.0 241.2h.8v.8h-.8zM276.7 246.8h.8v.8h-.8zM276.3 237.1h.8v.8h-.8zM267.4 250.0h.8v.8h-.8zM271.2 238.1h.8v.8h-.8zM270.3 230.1h.8v.8h-.8zM273.2 227.1h.8v.8h-.8zM267.3 240.2h.8v.8h-.8zM270.3 230.8h.8v.8h-.8zM272.9 246.1h.8v.8h-.8zM270.5 235.6h.8v.8h-.8zM273.1 242.8h.8v.8h-.8zM274.5 241.1h.8v.8h-.8zM269.4 240.1h.8v.8h-.8zM271.4 225.0h.8v.8h-.8zM275.1 240.4h.8v.8h-.8zM275.5 236.1h.8v.8h-.8zM273.6 236.0h.8v.8h-.8zM271.9 242.6h.8v.8h-.8zM271.6 240.6h.8v.8h-.8zM271.3 244.8h.8v.8h-.8zM273.3 225.3h.8v.8h-.8zM276.4 239.5h.8v.8h-.8zM269.9 232.3h.8v.8h-.8zM277.3 237.1h.8v.8h-.8zM272.9 240.5h.8v.8h-.8zM269.6 248.3h.8v.8h-.8zM277.7 231.3h.8v.8h-.8zM274.8 225.5h.8v.8h-.8zM270.4 236.9h.8v.8h-.8zM271.6 240.3h.8v.8h-.8zM272.6 239.0h.8v.8h-.8zM271.0 238.5h.8v.8h-.8zM269.7 249.7h.8v.8h-.8zM271.6 244.8h.8v.8h-.8zM271.7 235.5h.8v.8h-.8zM270.9 227.8h.8v.8h-.8zM277.6 239.3h.8v.8h-.8zM271.8 233.4h.8v.8h-.8zM275.2 234.3h.8v.8h-.8zM270.0 232.9h.8v.8h-.8zM276.0 238.6h.8v.8h-.8zM271.0 232.2h.8v.8h-.8zM275.2 238.4h.8v.8h-.8zM270.4 242.5h.8v.8h-.8zM274.0 229.8h.8v.8h-.8zM274.8 243.8h.8v.8h-.8zM270.7 227.6h.8v.8h-.8zM274.7 234.2h.8v.8h-.8zM270.8 234.6h.8v.8h-.8zM270.6 242.1h.8v.8h-.8zM268.2 240.1h.8v.8h-.8zM274.9 243.6h.8v.8h-.8zM273.6 238.3h.8v.8h-.8zM270.8 235.7h.8v.8h-.8zM268.8 247.7h.8v.8h-.8zM271.1 229.8h.8v.8h-.8zM273.9 246.6h.8v.8h-.8zM272.2 234.4h.8v.8h-.8zM268.1 240.8h.8v.8h-.8zM270.7 232.1h.8v.8h-.8zM273.2 227.9h.8v.8h-.8zM273.6 220.3h.8v.8h-.8zM269.6 227.0h.8v.8h-.8zM270.7 241.8h.8v.8h-.8zM267.6 245.6h.8v.8h-.8zM269.4 233.3h.8v.8h-.8zM274.4 231.6h.8v.8h-.8zM275.7 235.2h.8v.8h-.8zM271.1 230.1h.8v.8h-.8zM274.8 236.1h.8v.8h-.8zM270.0 230.2h.8v.8h-.8zM269.5 235.9h.8v.8h-.8zM269.3 241.8h.8v.8h-.8zM271.3 232.4h.8v.8h-.8zM272.8 246.0h.8v.8h-.8zM265.3 238.9h.8v.8h-.8zM274.6 237.4h.8v.8h-.8zM273.9 226.3h.8v.8h-.8zM269.2 243.2h.8v.8h-.8zM271.2 236.9h.8v.8h-.8zM273.3 239.0h.8v.8h-.8zM272.8 233.2h.8v.8h-.8zM270.6 245.2h.8v.8h-.8zM270.0 226.9h.8v.8h-.8zM270.4 242.5h.8v.8h-.8zM276.7 237.5h.8v.8h-.8zM269.6 240.6h.8v.8h-.8zM272.3 244.4h.8v.8h-.8zM273.0 241.5h.8v.8h-.8zM272.9 239.3h.8v.8h-.8zM268.8 235.4h.8v.8h-.8zM276.2 245.4h.8v.8h-.8zM274.3 239.1h.8v.8h-.8zM271.1 238.8h.8v.8h-.8zM270.5 243.7h.8v.8h-.8zM270.5 231.5h.8v.8h-.8zM266.7 246.8h.8v.8h-.8zM269.2 230.8h.8v.8h-.8zM272.6 248.4h.8v.8h-.8zM273.4 234.3h.8v.8h-.8zM273.1 231.0h.8v.8h-.8zM270.7 236.7h.8v.8h-.8zM271.5 241.7h.8v.8h-.8zM273.0 249.0h.8v.8h-.8zM273.9 234.6h.8v.8h-.8zM272.2 230.9h.8v.8h-.8zM269.7 234.3h.8v.8h-.8zM274.4 231.9h.8v.8h-.8zM266.9 229.8h.8v.8h-.8zM268.0 235.3h.8v.8h-.8zM270.6 228.8h.8v.8h-.8zM269.2 233.8h.8v.8h-.8zM272.6 240.6h.8v.8h-.8zM275.3 234.8h.8v.8h-.8zM273.3 237.0h.8v.8h-.8zM268.3 232.3h.8v.8h-.8zM277.9 235.5h.8v.8h-.8zM276.3 242.0h.8v.8h-.8zM276.3 235.3h.8v.8h-.8zM274.2 234.5h.8v.8h-.8zM268.3 228.8h.8v.8h-.8zM272.8 225.9h.8v.8h-.8zM272.6 230.8h.8v.8h-.8zM272.5 227.4h.8v.8h-.8zM274.0 235.0h.8v.8h-.8zM267.0 227.0h.8v.8h-.8zM271.7 225.7h.8v.8h-.8zM272.5 239.7h.8v.8h-.8zM269.6 245.8h.8v.8h-.8zM275.7 238.6h.8v.8h-.8zM272.8 239.6h.8v.8h-.8zM270.7 245.2h.8v.8h-.8zM270.0 219.9h.8v.8h-.8zM271.6 239.4h.8v.8h-.8zM273.9 229.2h.8v.8h-.8zM275.6 231.1h.8v.8h-.8zM273.3 241.3h.8v.8h-.8zM272.0 244.0h.8v.8h-.8zM270.1 250.1h.8v.8h-.8zM272.9 233.7h.8v.8h-.8zM279.1 236.5h.8v.8h-.8zM266.8 245.9h.8v.8h-.8zM276.0 232.7h.8v.8h-.8zM268.6 244.0h.8v.8h-.8zM271.7 230.2h.8v.8h-.8zM270.1 237.0h.8v.8h-.8zM274.4 246.9h.8v.8h-.8zM269.7 246.7h.8v.8h-.8zM267.1 241.2h.8v.8h-.8zM271.1 239.4h.8v.8h-.8zM270.3 231.8h.8v.8h-.8zM272.3 244.0h.8v.8h-.8zM265.1 236.9h.8v.8h-.8zM270.4 229.4h.8v.8h-.8zM267.6 239.9h.8v.8h-.8zM273.1 240.8h.8v.8h-.8zM265.8 226.4h.8v.8h-.8zM269.7 233.7h.8v.8h-.8zM276.6 234.0h.8v.8h-.8zM271.9 243.1h.8v.8h-.8zM276.4 239.0h.8v.8h-.8zM272.5 249.3h.8v.8h-.8zM270.4 224.6h.8v.8h-.8zM269.3 234.4h.8v.8h-.8zM275.3 238.6h.8v.8h-.8zM275.0 237.2h.8v.8h-.8zM271.6 232.7h.8v.8h-.8zM267.9 239.9h.8v.8h-.8zM272.6 240.3h.8v.8h-.8zM270.0 233.7h.8v.8h-.8zM272.6 240.5h.8v.8h-.8zM277.3 230.7h.8v.8h-.8zM274.4 242.4h.8v.8h-.8zM270.8 237.4h.8v.8h-.8zM271.4 246.6h.8v.8h-.8zM278.9 238.7h.8v.8h-.8zM270.8 242.8h.8v.8h-.8zM273.0 235.3h.8v.8h-.8zM273.7 242.3h.8v.8h-.8zM270.4 242.2h.8v.8h-.8zM265.0 228.0h.8v.8h-.8zM270.6 237.6h.8v.8h-.8zM267.3 246.3h.8v.8h-.8zM270.4 237.5h.8v.8h-.8zM271.4 241.5h.8v.8h-.8zM269.8 241.4h.8v.8h-.8zM269.1 226.7h.8v.8h-.8zM273.0 237.6h.8v.8h-.8zM274.1 223.7h.8v.8h-.8zM271.8 232.3h.8v.8h-.8zM271.0 233.9h.8v.8h-.8zM270.4 232.1h.8v.8h-.8zM274.5 225.1h.8v.8h-.8zM266.7 238.8h.8v.8h-.8zM277.4 231.5h.8v.8h-.8zM268.9 228.8h.8v.8h-.8zM268.6 244.8h.8v.8h-.8zM273.5 242.5h.8v.8h-.8zM272.5 238.1h.8v.8h-.8zM269.8 230.1h.8v.8h-.8zM273.3 253.0h.8v.8h-.8zM270.5 244.9h.8v.8h-.8zM269.5 236.8h.8v.8h-.8zM276.5 236.0h.8v.8h-.8zM273.4 232.8h.8v.8h-.8zM277.0 228.3h.8v.8h-.8zM273.2 234.9h.8v.8h-.8zM272.1 238.9h.8v.8h-.8zM275.3 242.3h.8v.8h-.8zM274.6 239.0h.8v.8h-.8zM268.4 245.4h.8v.8h-.8zM276.0 239.7h.8v.8h-.8zM273.8 235.0h.8v.8h-.8zM267.3 243.1h.8v.8h-.8zM269.4 249.2h.8v.8h-.8zM273.5 236.4h.8v.8h-.8zM269.7 237.2h.8v.8h-.8zM268.6 234.0h.8v.8h-.8zM276.2 234.5h.8v.8h-.8zM276.9 235.9h.8v.8h-.8zM272.7 230.4h.8v.8h-.8zM270.7 233.5h.8v.8h-.8zM267.5 249.4h.8v.8h-.8zM273.2 236.0h.8v.8h-.8zM268.3 236.7h.8v.8h-.8zM268.5 230.1h.8v.8h-.8zM271.0 250.9h.8v.8h-.8zM266.5 240.2h.8v.8h-.8zM269.9 217.2h.8v.8h-.8zM267.4 235.6h.8v.8h-.8zM271.7 231.5h.8v.8h-.8zM276.7 240.1h.8v.8h-.8zM269.7 225.6h.8v.8h-.8zM272.0 232.0h.8v.8h-.8zM274.5 229.6h.8v.8h-.8zM275.0 233.4h.8v.8h-.8zM272.1 234.7h.8v.8h-.8zM273.3 244.2h.8v.8h-.8zM269.9 230.5h.8v.8h-.8zM277.0 242.9h.8v.8h-.8zM277.1 242.9h.8v.8h-.8zM271.9 247.4h.8v.8h-.8zM269.6 233.7h.8v.8h-.8zM270.3 241.1h.8v.8h-.8zM269.0 235.3h.8v.8h-.8zM269.1 235.0h.8v.8h-.8zM274.8 243.9h.8v.8h-.8zM270.9 253.5h.8v.8h-.8zM269.5 239.6h.8v.8h-.8zM270.1 221.7h.8v.8h-.8zM268.1 244.8h.8v.8h-.8zM271.1 238.3h.8v.8h-.8zM275.2 236.7h.8v.8h-.8zM269.7 232.4h.8v.8h-.8zM268.8 240.2h.8v.8h-.8zM270.1 239.9h.8v.8h-.8zM267.1 233.6h.8v.8h-.8zM277.5 238.9h.8v.8h-.8zM271.2 244.4h.8v.8h-.8zM272.3 246.8h.8v.8h-.8zM268.1 241.6h.8v.8h-.8zM268.4 241.1h.8v.8h-.8zM278.7 246.7h.8v.8h-.8zM269.0 239.3h.8v.8h-.8zM272.8 231.7h.8v.8h-.8zM272.2 229.4h.8v.8h-.8zM274.3 242.6h.8v.8h-.8zM271.0 241.1h.8v.8h-.8zM278.4 235.4h.8v.8h-.8zM266.0 238.8h.8v.8h-.8zM270.2 231.3h.8v.8h-.8zM274.1 243.2h.8v.8h-.8zM273.2 247.4h.8v.8h-.8zM269.6 233.7h.8v.8h-.8zM272.7 218.4h.8v.8h-.8zM263.5 238.8h.8v.8h-.8zM270.9 236.9h.8v.8h-.8zM268.7 238.0h.8v.8h-.8zM274.6 232.3h.8v.8h-.8zM273.1 235.5h.8v.8h-.8zM271.0 237.3h.8v.8h-.8zM275.9 240.0h.8v.8h-.8zM273.5 237.5h.8v.8h-.8zM265.2 242.8h.8v.8h-.8zM271.4 237.2h.8v.8h-.8zM270.0 226.2h.8v.8h-.8zM275.8 248.8h.8v.8h-.8zM276.1 224.2h.8v.8h-.8zM273.1 228.6h.8v.8h-.8zM270.9 233.1h.8v.8h-.8zM269.7 231.4h.8v.8h-.8zM270.1 241.7h.8v.8h-.8zM276.2 242.7h.8v.8h-.8zM271.4 235.5h.8v.8h-.8zM270.8 236.4h.8v.8h-.8zM269.7 235.3h.8v.8h-.8zM273.9 235.0h.8v.8h-.8zM269.1 235.7h.8v.8h-.8zM271.7 236.0h.8v.8h-.8zM270.7 241.2h.8v.8h-.8zM271.3 229.8h.8v.8h-.8zM273.1 231.7h.8v.8h-.8zM273.7 242.0h.8v.8h-.8zM272.9 238.6h.8v.8h-.8zM267.5 235.2h.8v.8h-.8zM271.8 240.8h.8v.8h-.8zM268.2 235.5h.8v.8h-.8zM267.0 237.7h.8v.8h-.8zM271.7 237.3h.8v.8h-.8zM276.3 241.4h.8v.8h-.8zM270.9 232.6h.8v.8h-.8zM270.2 241.8h.8v.8h-.8zM274.1 233.1h.8v.8h-.8zM271.1 233.6h.8v.8h-.8zM273.5 237.8h.8v.8h-.8zM269.3 230.6h.8v.8h-.8zM275.3 227.1h.8v.8h-.8zM277.4 232.9h.8v.8h-.8zM274.0 240.3h.8v.8h-.8zM273.9 244.1h.8v.8h-.8zM270.1 236.4h.8v.8h-.8zM274.3 240.2h.8v.8h-.8zM269.2 231.5h.8v.8h-.8zM267.2 238.3h.8v.8h-.8zM269.9 226.1h.8v.8h-.8zM269.8 238.7h.8v.8h-.8zM272.0 235.0h.8v.8h-.8zM271.9 240.9h.8v.8h-.8zM267.9 231.1h.8v.8h-.8zM274.3 241.4h.8v.8h-.8zM267.3 231.7h.8v.8h-.8zM275.7 241.6h.8v.8h-.8zM271.0 243.3h.8v.8h-.8zM275.5 246.0h.8v.8h-.8zM267.4 227.8h.8v.8h-.8zM270.0 236.2h.8v.8h-.8zM270.4 238.1h.8v.8h-.8zM275.8 243.9h.8v.8h-.8zM274.4 236.5h.8v.8h-.8zM276.3 239.6h.8v.8h-.8zM272.2 236.4h.8v.8h-.8zM266.0 250.9h.8v.8h-.8zM271.4 242.5h.8v.8h-.8zM278.1 235.2h.8v.8h-.8zM268.0 243.3h.8v.8h-.8zM272.2 230.2h.8v.8h-.8zM274.3 236.6h.8v.8h-.8zM268.7 219.6h.8v.8h-.8zM268.5 239.1h.8v.8h-.8zM268.4 243.0h.8v.8h-.8zM278.0 238.7h.8v.8h-.8zM272.1 236.0h.8v.8h-.8zM274.0 236.7h.8v.8h-.8zM274.5 246.0h.8v.8h-.8zM274.0 230.1h.8v.8h-.8zM273.4 234.8h.8v.8h-.8zM272.4 243.0h.8v.8h-.8zM269.5 237.9h.8v.8h-.8zM275.8 230.9h.8v.8h-.8zM270.9 241.4h.8v.8h-.8zM270.8 243.4h.8v.8h-.8zM268.5 226.5h.8v.8h-.8zM272.6 235.6h.8v.8h-.8zM272.4 242.9h.8v.8h-.8zM274.6 234.2h.8v.8h-.8zM270.3 223.6h.8v.8h-.8zM268.6 238.2h.8v.8h-.8zM272.1 226.6h.8v.8h-.8zM273.8 236.3h.8v.8h-.8zM274.7 234.2h.8v.8h-.8zM274.3 229.1h.8v.8h-.8zM266.0 231.1h.8v.8h-.8zM273.5 239.3h.8v.8h-.8zM265.9 237.5h.8v.8h-.8zM273.4 247.7h.8v.8h-.8zM273.8 239.9h.8v.8h-.8zM266.8 239.0h.8v.8h-.8zM265.6 234.6h.8v.8h-.8zM270.4 230.1h.8v.8h-.8zM268.4 235.6h.8v.8h-.8zM273.2 232.2h.8v.8h-.8zM272.3 241.3h.8v.8h-.8zM271.4 249.2h.8v.8h-.8zM270.5 231.7h.8v.8h-.8zM265.8 243.7h.8v.8h-.8zM273.5 235.3h.8v.8h-.8zM272.4 235.7h.8v.8h-.8zM274.0 236.4h.8v.8h-.8zM272.1 236.0h.8v.8h-.8zM268.8 221.8h.8v.8h-.8zM273.1 228.2h.8v.8h-.8zM272.6 240.8h.8v.8h-.8zM277.0 231.6h.8v.8h-.8zM271.9 242.8h.8v.8h-.8zM269.5 232.6h.8v.8h-.8zM272.8 250.2h.8v.8h-.8zM274.7 242.9h.8v.8h-.8zM268.6 240.9h.8v.8h-.8zM274.8 228.1h.8v.8h-.8zM271.5 235.2h.8v.8h-.8zM273.4 225.0h.8v.8h-.8zM273.5 236.5h.8v.8h-.8zM270.7 222.5h.8v.8h-.8zM265.3 232.9h.8v.8h-.8zM273.4 239.3h.8v.8h-.8zM273.7 225.3h.8v.8h-.8zM272.1 245.5h.8v.8h-.8zM266.9 240.8h.8v.8h-.8zM269.3 240.2h.8v.8h-.8zM271.7 225.7h.8v.8h-.8zM268.3 245.0h.8v.8h-.8zM271.1 244.7h.8v.8h-.8zM272.5 242.4h.8v.8h-.8zM270.3 238.0h.8v.8h-.8zM270.3 242.5h.8v.8h-.8zM269.7 243.9h.8v.8h-.8zM276.1 228.5h.8v.8h-.8zM270.9 240.1h.8v.8h-.8zM276.7 244.1h.8v.8h-.8zM271.7 225.1h.8v.8h-.8zM273.9 232.6h.8v.8h-.8zM272.0 239.2h.8v.8h-.8zM267.3 243.6h.8v.8h-.8zM274.2 240.3h.8v.8h-.8zM273.2 238.9h.8v.8h-.8zM267.3 233.2h.8v.8h-.8zM273.9 234.3h.8v.8h-.8zM271.5 239.0h.8v.8h-.8zM271.7 238.2h.8v.8h-.8zM272.9 236.5h.8v.8h-.8zM268.2 234.7h.8v.8h-.8zM274.3 232.0h.8v.8h-.8zM272.8 238.5h.8v.8h-.8zM268.8 217.8h.8v.8h-.8zM271.4 231.4h.8v.8h-.8zM269.6 242.7h.8v.8h-.8zM269.2 238.8h.8v.8h-.8zM271.8 237.8h.8v.8h-.8zM277.4 223.5h.8v.8h-.8zM274.3 235.6h.8v.8h-.8zM270.6 232.1h.8v.8h-.8zM271.6 236.8h.8v.8h-.8zM268.7 247.3h.8v.8h-.8zM269.2 235.6h.8v.8h-.8zM267.7 237.5h.8v.8h-.8zM272.5 243.7h.8v.8h-.8zM274.4 233.2h.8v.8h-.8zM276.2 235.8h.8v.8h-.8zM276.0 247.8h.8v.8h-.8zM270.2 229.4h.8v.8h-.8zM273.0 246.0h.8v.8h-.8zM272.6 243.7h.8v.8h-.8zM273.2 242.4h.8v.8h-.8zM275.4 234.6h.8v.8h-.8zM267.2 235.7h.8v.8h-.8zM269.1 228.6h.8v.8h-.8zM270.9 241.2h.8v.8h-.8zM266.0 226.5h.8v.8h-.8zM273.8 230.7h.8v.8h-.8zM270.3 245.4h.8v.8h-.8zM274.8 238.9h.8v.8h-.8zM273.0 218.6h.8v.8h-.8zM273.1 239.0h.8v.8h-.8zM267.3 237.7h.8v.8h-.8zM272.8 235.7h.8v.8h-.8zM273.8 242.3h.8v.8h-.8zM271.6 234.9h.8v.8h-.8zM267.9 244.0h.8v.8h-.8zM269.7 238.6h.8v.8h-.8zM276.0 241.6h.8v.8h-.8zM267.7 235.9h.8v.8h-.8zM269.3 225.7h.8v.8h-.8zM269.1 240.4h.8v.8h-.8zM272.4 235.1h.8v.8h-.8zM272.0 228.8h.8v.8h-.8zM269.2 235.4h.8v.8h-.8zM273.8 234.4h.8v.8h-.8zM270.9 238.7h.8v.8h-.8zM275.8 228.2h.8v.8h-.8zM273.0 237.7h.8v.8h-.8zM271.2 238.1h.8v.8h-.8zM265.6 236.7h.8v.8h-.8zM270.7 228.4h.8v.8h-.8zM273.9 235.7h.8v.8h-.8zM270.4 241.5h.8v.8h-.8zM268.7 231.8h.8v.8h-.8zM273.9 242.3h.8v.8h-.8zM277.4 233.5h.8v.8h-.8zM267.1 226.7h.8v.8h-.8zM267.9 237.2h.8v.8h-.8zM270.7 232.1h.8v.8h-.8zM268.5 231.9h.8v.8h-.8zM270.4 244.3h.8v.8h-.8zM273.3 245.5h.8v.8h-.8zM273.9 241.5h.8v.8h-.8zM274.9 239.5h.8v.8h-.8zM276.0 244.0h.8v.8h-.8zM276.8 237.9h.8v.8h-.8zM269.1 253.1h.8v.8h-.8zM270.6 239.9h.8v.8h-.8zM270.3 231.9h.8v.8h-.8zM272.7 229.1h.8v.8h-.8zM271.0 245.8h.8v.8h-.8zM271.8 241.9h.8v.8h-.8zM273.3 239.0h.8v.8h-.8zM271.7 240.5h.8v.8h-.8zM268.6 240.3h.8v.8h-.8zM268.3 231.5h.8v.8h-.8zM269.7 227.7h.8v.8h-.8zM265.6 239.0h.8v.8h-.8zM272.9 240.9h.8v.8h-.8zM278.0 237.7h.8v.8h-.8zM273.6 231.6h.8v.8h-.8zM273.5 229.0h.8v.8h-.8zM277.3 230.2h.8v.8h-.8zM270.2 241.4h.8v.8h-.8zM264.9 245.3h.8v.8h-.8zM268.6 237.8h.8v.8h-.8zM274.3 237.5h.8v.8h-.8zM274.2 233.2h.8v.8h-.8zM273.2 222.2h.8v.8h-.8zM275.9 232.1h.8v.8h-.8zM268.9 236.6h.8v.8h-.8zM276.4 231.9h.8v.8h-.8zM271.4 234.1h.8v.8h-.8zM268.7 227.9h.8v.8h-.8zM273.2 241.2h.8v.8h-.8zM269.2 238.0h.8v.8h-.8zM272.7 239.0h.8v.8h-.8zM270.9 236.8h.8v.8h-.8zM272.2 229.5h.8v.8h-.8zM271.0 241.7h.8v.8h-.8zM269.8 245.2h.8v.8h-.8zM270.7 229.3h.8v.8h-.8zM270.5 227.6h.8v.8h-.8zM273.2 226.0h.8v.8h-.8zM271.5 235.0h.8v.8h-.8zM270.5 239.3h.8v.8h-.8zM272.3 232.8h.8v.8h-.8zM273.8 233.5h.8v.8h-.8zM274.1 245.3h.8v.8h-.8zM272.5 242.6h.8v.8h-.8zM267.5 240.2h.8v.8h-.8zM267.0 235.4h.8v.8h-.8zM273.5 218.8h.8v.8h-.8zM269.1 231.4h.8v.8h-.8zM268.6 236.7h.8v.8h-.8zM273.3 228.9h.8v.8h-.8zM269.6 224.3h.8v.8h-.8zM269.3 222.7h.8v.8h-.8zM267.0 239.6h.8v.8h-.8zM274.0 231.1h.8v.8h-.8zM272.4 231.4h.8v.8h-.8zM274.6 248.0h.8v.8h-.8zM264.1 230.8h.8v.8h-.8zM269.5 233.4h.8v.8h-.8zM276.0 246.9h.8v.8h-.8zM271.4 240.7h.8v.8h-.8zM266.7 234.5h.8v.8h-.8zM270.6 235.5h.8v.8h-.8zM272.3 226.2h.8v.8h-.8zM268.3 250.6h.8v.8h-.8zM266.3 236.9h.8v.8h-.8zM273.6 239.7h.8v.8h-.8zM271.6 225.9h.8v.8h-.8zM270.0 226.2h.8v.8h-.8zM277.2 238.9h.8v.8h-.8zM273.6 237.8h.8v.8h-.8zM270.3 244.3h.8v.8h-.8zM274.0 240.7h.8v.8h-.8zM273.1 241.4h.8v.8h-.8zM270.6 239.3h.8v.8h-.8zM271.6 234.9h.8v.8h-.8zM273.3 250.6h.8v.8h-.8zM265.4 246.0h.8v.8h-.8zM270.1 244.4h.8v.8h-.8zM268.4 235.3h.8v.8h-.8zM274.4 236.0h.8v.8h-.8zM272.4 228.5h.8v.8h-.8zM268.0 247.5h.8v.8h-.8zM271.9 235.9h.8v.8h-.8zM267.3 229.7h.8v.8h-.8zM268.4 236.2h.8v.8h-.8zM271.1 232.5h.8v.8h-.8zM269.4 237.2h.8v.8h-.8zM274.9 227.3h.8v.8h-.8zM267.2 243.9h.8v.8h-.8zM267.2 233.8h.8v.8h-.8zM271.8 248.5h.8v.8h-.8zM265.4 217.4h.8v.8h-.8zM271.2 243.6h.8v.8h-.8zM271.8 231.2h.8v.8h-.8zM272.0 222.9h.8v.8h-.8zM273.8 246.3h.8v.8h-.8zM270.8 241.9h.8v.8h-.8zM268.3 246.2h.8v.8h-.8zM269.5 231.2h.8v.8h-.8zM269.1 224.8h.8v.8h-.8zM273.4 249.7h.8v.8h-.8zM267.2 235.2h.8v.8h-.8zM272.7 232.8h.8v.8h-.8zM266.8 238.7h.8v.8h-.8zM274.4 237.2h.8v.8h-.8zM268.2 234.5h.8v.8h-.8zM265.7 236.1h.8v.8h-.8zM275.0 243.8h.8v.8h-.8zM271.1 239.4h.8v.8h-.8zM269.9 237.4h.8v.8h-.8zM269.6 237.6h.8v.8h-.8zM269.9 237.8h.8v.8h-.8zM273.5 236.4h.8v.8h-.8zM267.6 239.8h.8v.8h-.8zM270.7 233.2h.8v.8h-.8zM273.1 231.0h.8v.8h-.8zM274.2 240.2h.8v.8h-.8zM269.4 231.9h.8v.8h-.8zM271.0 230.5h.8v.8h-.8zM274.2 221.6h.8v.8h-.8zM271.8 234.2h.8v.8h-.8zM268.2 240.7h.8v.8h-.8zM270.0 239.5h.8v.8h-.8zM270.1 234.6h.8v.8h-.8zM272.9 242.8h.8v.8h-.8zM274.4 236.4h.8v.8h-.8zM275.8 234.3h.8v.8h-.8zM267.4 224.2h.8v.8h-.8zM267.1 230.8h.8v.8h-.8zM266.1 238.7h.8v.8h-.8zM271.5 236.3h.8v.8h-.8zM272.1 235.8h.8v.8h-.8zM270.7 234.4h.8v.8h-.8zM271.5 229.1h.8v.8h-.8zM275.2 246.7h.8v.8h-.8zM271.5 251.6h.8v.8h-.8zM268.5 242.5h.8v.8h-.8zM266.6 240.5h.8v.8h-.8zM269.2 243.2h.8v.8h-.8zM271.7 242.8h.8v.8h-.8zM273.2 240.0h.8v.8h-.8zM270.6 247.0h.8v.8h-.8zM272.5 239.7h.8v.8h-.8zM275.6 234.8h.8v.8h-.8zM276.6 243.7h.8v.8h-.8zM271.6 226.9h.8v.8h-.8zM275.0 234.5h.8v.8h-.8zM271.7 237.3h.8v.8h-.8zM274.2 240.7h.8v.8h-.8zM266.0 232.2h.8v.8h-.8zM272.4 237.7h.8v.8h-.8zM273.8 240.3h.8v.8h-.8zM276.2 231.7h.8v.8h-.8zM275.3 239.0h.8v.8h-.8zM272.3 241.0h.8v.8h-.8zM270.4 241.2h.8v.8h-.8zM270.8 241.3h.8v.8h-.8zM269.2 244.3h.8v.8h-.8zM266.9 232.2h.8v.8h-.8zM271.3 238.1h.8v.8h-.8zM269.1 233.9h.8v.8h-.8zM272.2 243.5h.8v.8h-.8zM275.2 233.4h.8v.8h-.8zM271.2 234.4h.8v.8h-.8zM266.9 233.6h.8v.8h-.8zM274.7 227.6h.8v.8h-.8zM279.8 243.0h.8v.8h-.8zM276.5 237.7h.8v.8h-.8zM264.6 239.4h.8v.8h-.8zM276.1 232.7h.8v.8h-.8zM275.2 241.5h.8v.8h-.8zM273.7 241.5h.8v.8h-.8zM273.1 240.8h.8v.8h-.8zM274.9 239.3h.8v.8h-.8zM273.3 239.4h.8v.8h-.8zM271.8 230.8h.8v.8h-.8zM266.1 229.8h.8v.8h-.8zM267.8 226.7h.8v.8h-.8zM273.5 234.3h.8v.8h-.8zM273.7 233.4h.8v.8h-.8zM272.5 235.2h.8v.8h-.8zM272.3 250.3h.8v.8h-.8zM276.1 245.0h.8v.8h-.8zM272.3 248.3h.8v.8h-.8zM273.9 242.4h.8v.8h-.8zM268.0 232.5h.8v.8h-.8zM271.9 235.1h.8v.8h-.8zM269.9 223.3h.8v.8h-.8zM269.2 235.8h.8v.8h-.8zM272.3 229.4h.8v.8h-.8zM271.0 248.5h.8v.8h-.8zM271.9 223.5h.8v.8h-.8zM270.9 236.5h.8v.8h-.8zM275.2 237.8h.8v.8h-.8zM275.5 238.7h.8v.8h-.8zM274.9 245.5h.8v.8h-.8zM276.0 237.8h.8v.8h-.8zM267.8 237.8h.8v.8h-.8zM272.8 231.9h.8v.8h-.8zM273.9 235.5h.8v.8h-.8zM273.8 237.8h.8v.8h-.8zM268.7 243.5h.8v.8h-.8zM277.3 242.7h.8v.8h-.8zM272.3 225.1h.8v.8h-.8zM272.4 236.3h.8v.8h-.8zM269.1 223.8h.8v.8h-.8zM272.7 243.0h.8v.8h-.8zM273.5 251.7h.8v.8h-.8zM265.8 238.9h.8v.8h-.8zM271.3 246.0h.8v.8h-.8zM271.3 230.1h.8v.8h-.8zM271.3 239.4h.8v.8h-.8zM269.3 231.3h.8v.8h-.8zM272.2 242.4h.8v.8h-.8zM270.7 239.8h.8v.8h-.8zM269.9 234.3h.8v.8h-.8zM272.0 243.0h.8v.8h-.8zM276.1 235.7h.8v.8h-.8zM272.8 249.6h.8v.8h-.8zM273.9 234.1h.8v.8h-.8zM272.6 227.1h.8v.8h-.8zM265.3 231.5h.8v.8h-.8zM269.3 227.6h.8v.8h-.8zM274.5 233.5h.8v.8h-.8zM271.7 237.0h.8v.8h-.8zM270.8 228.7h.8v.8h-.8zM277.1 223.3h.8v.8h-.8zM271.3 241.2h.8v.8h-.8zM270.8 235.9h.8v.8h-.8zM272.3 238.1h.8v.8h-.8zM270.5 243.7h.8v.8h-.8zM272.9 246.6h.8v.8h-.8zM271.7 223.3h.8v.8h-.8zM266.6 233.1h.8v.8h-.8zM272.8 225.7h.8v.8h-.8zM269.8 244.9h.8v.8h-.8zM272.4 231.8h.8v.8h-.8zM271.1 237.3h.8v.8h-.8zM270.2 234.5h.8v.8h-.8zM269.6 238.0h.8v.8h-.8zM276.1 246.2h.8v.8h-.8zM267.8 252.0h.8v.8h-.8zM271.1 227.2h.8v.8h-.8zM267.1 237.5h.8v.8h-.8zM272.1 232.3h.8v.8h-.8zM269.1 235.1h.8v.8h-.8zM272.2 241.0h.8v.8h-.8zM273.1 220.7h.8v.8h-.8zM269.7 238.3h.8v.8h-.8zM272.5 241.9h.8v.8h-.8zM267.1 247.0h.8v.8h-.8zM268.0 235.2h.8v.8h-.8zM270.1 233.4h.8v.8h-.8zM269.2 242.0h.8v.8h-.8zM273.8 238.9h.8v.8h-.8zM267.7 232.4h.8v.8h-.8zM271.3 239.2h.8v.8h-.8zM269.8 234.8h.8v.8h-.8zM279.1 237.0h.8v.8h-.8zM270.6 220.2h.8v.8h-.8zM269.3 247.4h.8v.8h-.8zM273.9 228.6h.8v.8h-.8zM273.7 237.7h.8v.8h-.8zM269.1 241.8h.8v.8h-.8zM269.7 234.5h.8v.8h-.8zM271.5 238.0h.8v.8h-.8zM270.2 238.5h.8v.8h-.8zM271.5 237.8h.8v.8h-.8zM272.6 232.3h.8v.8h-.8zM267.5 236.1h.8v.8h-.8zM275.0 238.7h.8v.8h-.8zM272.1 231.6h.8v.8h-.8zM268.1 228.3h.8v.8h-.8zM268.8 234.1h.8v.8h-.8zM267.0 235.7h.8v.8h-.8zM266.9 240.9h.8v.8h-.8zM271.4 224.8h.8v.8h-.8zM269.9 238.1h.8v.8h-.8zM272.6 241.7h.8v.8h-.8zM270.4 235.6h.8v.8h-.8zM270.8 240.2h.8v.8h-.8zM269.4 235.5h.8v.8h-.8zM271.9 234.2h.8v.8h-.8zM268.3 245.6h.8v.8h-.8zM272.9 230.5h.8v.8h-.8zM277.2 231.4h.8v.8h-.8zM268.9 234.1h.8v.8h-.8zM273.0 246.5h.8v.8h-.8zM275.4 240.2h.8v.8h-.8zM271.6 241.0h.8v.8h-.8zM269.2 231.9h.8v.8h-.8zM273.0 237.9h.8v.8h-.8zM272.1 229.8h.8v.8h-.8zM272.2 227.0h.8v.8h-.8zM274.1 236.6h.8v.8h-.8zM269.6 233.4h.8v.8h-.8zM269.4 245.7h.8v.8h-.8zM263.0 244.1h.8v.8h-.8zM271.5 238.3h.8v.8h-.8zM268.7 227.8h.8v.8h-.8zM272.1 233.6h.8v.8h-.8zM272.9 243.6h.8v.8h-.8zM271.1 240.1h.8v.8h-.8zM272.0 238.1h.8v.8h-.8zM270.0 238.1h.8v.8h-.8zM272.7 237.1h.8v.8h-.8zM270.1 226.8h.8v.8h-.8zM268.4 247.0h.8v.8h-.8zM274.4 238.5h.8v.8h-.8zM272.3 235.6h.8v.8h-.8zM273.4 242.9h.8v.8h-.8zM270.7 238.6h.8v.8h-.8zM274.2 226.0h.8v.8h-.8zM268.7 232.7h.8v.8h-.8zM268.1 233.6h.8v.8h-.8zM269.0 233.9h.8v.8h-.8zM272.8 228.7h.8v.8h-.8zM271.7 245.7h.8v.8h-.8zM272.0 228.4h.8v.8h-.8zM269.7 244.3h.8v.8h-.8zM270.7 232.4h.8v.8h-.8zM273.7 231.8h.8v.8h-.8zM268.2 240.6h.8v.8h-.8zM271.5 232.2h.8v.8h-.8zM272.8 243.9h.8v.8h-.8zM274.6 237.2h.8v.8h-.8zM272.8 239.9h.8v.8h-.8zM267.2 247.6h.8v.8h-.8zM269.5 232.8h.8v.8h-.8zM269.1 230.1h.8v.8h-.8zM274.6 236.6h.8v.8h-.8zM269.8 224.4h.8v.8h-.8zM271.9 236.2h.8v.8h-.8zM268.5 235.9h.8v.8h-.8zM266.2 240.9h.8v.8h-.8zM267.9 239.9h.8v.8h-.8zM271.7 222.4h.8v.8h-.8zM268.2 232.2h.8v.8h-.8zM273.7 240.5h.8v.8h-.8zM273.3 247.7h.8v.8h-.8zM270.6 233.2h.8v.8h-.8zM266.0 229.7h.8v.8h-.8zM273.1 231.0h.8v.8h-.8zM268.9 242.9h.8v.8h-.8zM264.3 245.8h.8v.8h-.8zM275.2 224.6h.8v.8h-.8zM272.8 236.5h.8v.8h-.8zM274.1 234.3h.8v.8h-.8zM271.1 246.0h.8v.8h-.8zM269.7 239.4h.8v.8h-.8zM273.3 235.8h.8v.8h-.8zM274.0 240.0h.8v.8h-.8zM273.9 225.2h.8v.8h-.8zM268.5 238.5h.8v.8h-.8zM274.8 246.1h.8v.8h-.8zM271.5 231.6h.8v.8h-.8zM268.3 223.6h.8v.8h-.8zM270.0 240.4h.8v.8h-.8zM271.3 226.7h.8v.8h-.8zM271.2 236.9h.8v.8h-.8zM269.3 246.3h.8v.8h-.8zM272.7 243.9h.8v.8h-.8zM271.8 230.1h.8v.8h-.8zM274.6 243.9h.8v.8h-.8zM269.8 227.7h.8v.8h-.8zM273.8 232.8h.8v.8h-.8zM268.1 236.0h.8v.8h-.8zM273.1 231.6h.8v.8h-.8zM270.7 248.8h.8v.8h-.8zM273.2 236.6h.8v.8h-.8zM273.1 252.5h.8v.8h-.8zM273.8 243.6h.8v.8h-.8zM271.9 236.5h.8v.8h-.8zM268.6 241.6h.8v.8h-.8zM277.7 244.1h.8v.8h-.8zM267.2 252.1h.8v.8h-.8zM274.8 236.2h.8v.8h-.8zM269.9 236.0h.8v.8h-.8zM274.2 233.2h.8v.8h-.8zM277.0 239.0h.8v.8h-.8zM267.0 254.1h.8v.8h-.8zM272.4 245.7h.8v.8h-.8zM273.5 239.3h.8v.8h-.8zM273.6 242.7h.8v.8h-.8zM272.4 245.2h.8v.8h-.8zM275.4 237.9h.8v.8h-.8zM265.8 247.2h.8v.8h-.8zM278.7 246.7h.8v.8h-.8zM270.0 247.3h.8v.8h-.8zM266.4 244.5h.8v.8h-.8zM264.8 244.6h.8v.8h-.8zM273.1 252.2h.8v.8h-.8zM268.8 248.5h.8v.8h-.8zM275.2 239.1h.8v.8h-.8zM269.6 235.2h.8v.8h-.8zM267.6 246.1h.8v.8h-.8zM263.6 242.6h.8v.8h-.8zM273.1 250.9h.8v.8h-.8zM262.0 245.9h.8v.8h-.8zM268.5 233.1h.8v.8h-.8zM267.1 246.9h.8v.8h-.8zM270.5 247.4h.8v.8h-.8zM269.5 247.2h.8v.8h-.8zM267.2 239.4h.8v.8h-.8zM270.0 235.7h.8v.8h-.8zM274.8 242.9h.8v.8h-.8zM267.2 239.9h.8v.8h-.8zM267.2 244.6h.8v.8h-.8zM269.3 248.2h.8v.8h-.8zM266.6 243.7h.8v.8h-.8zM265.4 241.8h.8v.8h-.8zM275.2 243.5h.8v.8h-.8zM273.6 243.8h.8v.8h-.8zM266.8 239.8h.8v.8h-.8zM266.7 245.7h.8v.8h-.8zM276.3 248.1h.8v.8h-.8zM267.2 244.6h.8v.8h-.8zM268.1 249.6h.8v.8h-.8zM265.9 247.7h.8v.8h-.8zM266.4 241.8h.8v.8h-.8zM271.2 244.7h.8v.8h-.8zM270.4 243.7h.8v.8h-.8zM267.6 243.5h.8v.8h-.8zM270.3 239.6h.8v.8h-.8zM272.5 244.9h.8v.8h-.8zM268.0 250.3h.8v.8h-.8zM268.6 234.9h.8v.8h-.8zM274.9 242.2h.8v.8h-.8zM275.6 246.1h.8v.8h-.8zM267.5 249.4h.8v.8h-.8zM272.1 248.5h.8v.8h-.8zM270.7 251.5h.8v.8h-.8zM273.8 242.4h.8v.8h-.8zM265.4 243.8h.8v.8h-.8zM270.8 239.3h.8v.8h-.8zM269.9 251.2h.8v.8h-.8zM268.9 249.4h.8v.8h-.8zM267.3 239.4h.8v.8h-.8zM273.8 243.2h.8v.8h-.8zM271.3 249.0h.8v.8h-.8zM276.2 238.1h.8v.8h-.8zM272.6 245.1h.8v.8h-.8zM271.1 252.7h.8v.8h-.8zM269.7 241.2h.8v.8h-.8zM272.3 234.3h.8v.8h-.8zM271.8 239.8h.8v.8h-.8zM271.7 240.5h.8v.8h-.8zM272.3 242.9h.8v.8h-.8zM268.1 246.6h.8v.8h-.8zM273.1 236.3h.8v.8h-.8zM266.1 242.8h.8v.8h-.8zM269.2 250.4h.8v.8h-.8zM276.0 246.3h.8v.8h-.8zM274.3 242.5h.8v.8h-.8zM265.8 245.5h.8v.8h-.8zM264.5 251.9h.8v.8h-.8zM271.4 249.6h.8v.8h-.8zM268.3 236.3h.8v.8h-.8zM269.9 246.4h.8v.8h-.8zM269.8 241.6h.8v.8h-.8zM270.8 243.1h.8v.8h-.8zM275.3 237.7h.8v.8h-.8zM262.9 243.6h.8v.8h-.8zM271.5 236.7h.8v.8h-.8zM270.4 246.2h.8v.8h-.8zM271.7 245.5h.8v.8h-.8zM268.0 237.1h.8v.8h-.8zM273.8 242.3h.8v.8h-.8zM265.8 251.5h.8v.8h-.8zM273.1 230.5h.8v.8h-.8zM279.4 244.7h.8v.8h-.8zM265.0 248.6h.8v.8h-.8zM271.7 250.0h.8v.8h-.8zM270.6 236.0h.8v.8h-.8zM270.0 242.0h.8v.8h-.8zM271.5 243.1h.8v.8h-.8zM272.5 238.2h.8v.8h-.8zM268.7 241.5h.8v.8h-.8zM272.0 235.8h.8v.8h-.8zM264.3 249.0h.8v.8h-.8zM270.9 248.8h.8v.8h-.8zM270.7 245.3h.8v.8h-.8zM271.8 246.2h.8v.8h-.8zM266.4 243.4h.8v.8h-.8zM276.8 250.9h.8v.8h-.8zM267.6 239.5h.8v.8h-.8zM269.9 249.1h.8v.8h-.8zM273.7 241.2h.8v.8h-.8zM262.4 243.8h.8v.8h-.8zM264.8 249.8h.8v.8h-.8zM275.6 247.3h.8v.8h-.8zM272.6 246.8h.8v.8h-.8zM276.9 249.3h.8v.8h-.8zM275.5 238.5h.8v.8h-.8zM268.7 244.0h.8v.8h-.8zM262.9 242.6h.8v.8h-.8zM270.5 243.7h.8v.8h-.8zM279.2 243.0h.8v.8h-.8zM269.9 243.4h.8v.8h-.8zM269.4 237.2h.8v.8h-.8zM274.4 244.1h.8v.8h-.8zM271.8 244.2h.8v.8h-.8zM267.8 236.3h.8v.8h-.8zM269.5 246.6h.8v.8h-.8zM270.1 247.6h.8v.8h-.8zM267.8 242.6h.8v.8h-.8zM271.0 243.5h.8v.8h-.8zM271.1 250.9h.8v.8h-.8zM269.1 244.7h.8v.8h-.8zM268.3 246.6h.8v.8h-.8zM271.3 240.5h.8v.8h-.8zM267.0 238.2h.8v.8h-.8zM269.5 244.8h.8v.8h-.8zM268.8 243.5h.8v.8h-.8zM271.0 245.1h.8v.8h-.8zM277.3 245.9h.8v.8h-.8zM272.8 241.6h.8v.8h-.8zM268.6 247.8h.8v.8h-.8zM268.5 240.8h.8v.8h-.8zM265.4 245.4h.8v.8h-.8zM270.2 246.7h.8v.8h-.8zM267.5 238.0h.8v.8h-.8zM274.3 244.1h.8v.8h-.8zM273.2 238.5h.8v.8h-.8zM266.0 231.8h.8v.8h-.8zM271.6 248.8h.8v.8h-.8zM275.1 252.6h.8v.8h-.8zM264.2 238.8h.8v.8h-.8zM268.7 240.2h.8v.8h-.8zM269.8 240.2h.8v.8h-.8zM265.4 243.8h.8v.8h-.8zM270.9 240.3h.8v.8h-.8zM270.6 237.7h.8v.8h-.8zM269.4 242.4h.8v.8h-.8zM268.9 243.6h.8v.8h-.8zM266.1 237.5h.8v.8h-.8zM267.6 247.6h.8v.8h-.8zM267.2 239.5h.8v.8h-.8zM277.4 242.8h.8v.8h-.8zM269.2 239.7h.8v.8h-.8zM275.6 246.6h.8v.8h-.8zM271.4 251.7h.8v.8h-.8zM266.4 235.9h.8v.8h-.8zM274.3 246.1h.8v.8h-.8zM268.7 247.9h.8v.8h-.8zM270.2 253.4h.8v.8h-.8zM266.1 245.7h.8v.8h-.8zM273.9 248.3h.8v.8h-.8zM269.3 242.1h.8v.8h-.8zM269.0 247.3h.8v.8h-.8zM269.1 243.3h.8v.8h-.8zM274.1 243.5h.8v.8h-.8zM271.4 243.4h.8v.8h-.8zM270.5 233.3h.8v.8h-.8zM267.3 245.8h.8v.8h-.8zM268.3 241.0h.8v.8h-.8zM267.9 239.4h.8v.8h-.8zM264.3 246.2h.8v.8h-.8zM270.3 239.9h.8v.8h-.8zM269.1 248.7h.8v.8h-.8zM274.0 245.8h.8v.8h-.8zM274.5 248.9h.8v.8h-.8zM268.9 247.9h.8v.8h-.8zM271.0 247.7h.8v.8h-.8zM271.5 254.3h.8v.8h-.8zM266.2 245.8h.8v.8h-.8zM268.7 242.2h.8v.8h-.8zM270.4 243.8h.8v.8h-.8zM276.4 243.7h.8v.8h-.8zM271.4 249.2h.8v.8h-.8zM275.7 239.4h.8v.8h-.8zM271.6 237.6h.8v.8h-.8zM272.2 250.9h.8v.8h-.8zM268.7 242.6h.8v.8h-.8zM274.6 246.1h.8v.8h-.8zM273.3 241.8h.8v.8h-.8zM269.4 242.2h.8v.8h-.8zM275.9 236.8h.8v.8h-.8zM268.7 251.6h.8v.8h-.8zM270.3 238.7h.8v.8h-.8zM271.3 242.9h.8v.8h-.8zM270.1 246.4h.8v.8h-.8zM273.2 236.7h.8v.8h-.8zM271.2 251.3h.8v.8h-.8zM265.9 243.5h.8v.8h-.8zM266.5 247.2h.8v.8h-.8zM267.6 242.4h.8v.8h-.8zM269.1 246.2h.8v.8h-.8zM266.0 237.2h.8v.8h-.8zM271.1 250.6h.8v.8h-.8zM268.7 246.0h.8v.8h-.8zM271.4 244.5h.8v.8h-.8zM270.4 241.3h.8v.8h-.8zM269.6 249.9h.8v.8h-.8zM272.0 250.2h.8v.8h-.8zM268.0 244.6h.8v.8h-.8zM268.3 237.6h.8v.8h-.8zM273.6 242.6h.8v.8h-.8zM271.3 237.1h.8v.8h-.8zM269.6 243.4h.8v.8h-.8zM269.1 248.9h.8v.8h-.8zM272.1 244.6h.8v.8h-.8zM271.3 241.8h.8v.8h-.8zM268.0 242.6h.8v.8h-.8zM267.0 243.2h.8v.8h-.8zM270.1 249.5h.8v.8h-.8zM268.7 244.6h.8v.8h-.8zM270.4 241.0h.8v.8h-.8zM270.3 235.4h.8v.8h-.8zM274.4 241.2h.8v.8h-.8zM270.4 235.1h.8v.8h-.8zM272.4 237.7h.8v.8h-.8zM275.2 238.9h.8v.8h-.8zM267.9 247.2h.8v.8h-.8zM274.9 234.3h.8v.8h-.8zM264.6 251.9h.8v.8h-.8zM272.0 236.6h.8v.8h-.8zM269.0 247.4h.8v.8h-.8zM269.1 251.4h.8v.8h-.8zM268.0 244.8h.8v.8h-.8zM274.5 251.2h.8v.8h-.8zM271.3 246.9h.8v.8h-.8zM269.3 243.7h.8v.8h-.8zM268.5 245.9h.8v.8h-.8zM273.4 239.1h.8v.8h-.8zM266.5 244.2h.8v.8h-.8zM277.4 245.1h.8v.8h-.8zM270.9 243.8h.8v.8h-.8zM264.7 240.5h.8v.8h-.8zM275.7 233.7h.8v.8h-.8zM276.7 238.1h.8v.8h-.8zM275.7 243.3h.8v.8h-.8zM272.5 241.3h.8v.8h-.8zM268.9 245.0h.8v.8h-.8zM269.4 238.7h.8v.8h-.8zM269.5 247.2h.8v.8h-.8zM267.8 245.8h.8v.8h-.8zM265.8 244.5h.8v.8h-.8zM266.5 247.8h.8v.8h-.8zM266.9 247.0h.8v.8h-.8zM263.6 244.9h.8v.8h-.8zM274.3 239.9h.8v.8h-.8zM270.7 239.8h.8v.8h-.8zM272.1 247.7h.8v.8h-.8zM274.4 250.5h.8v.8h-.8zM275.0 240.4h.8v.8h-.8zM270.9 246.6h.8v.8h-.8zM271.1 237.5h.8v.8h-.8zM270.7 231.2h.8v.8h-.8zM276.8 243.1h.8v.8h-.8zM278.3 238.8h.8v.8h-.8zM272.3 247.9h.8v.8h-.8zM265.5 242.4h.8v.8h-.8zM272.2 247.2h.8v.8h-.8zM271.8 231.1h.8v.8h-.8zM262.2 245.8h.8v.8h-.8zM276.0 236.4h.8v.8h-.8zM271.8 248.6h.8v.8h-.8zM267.1 236.2h.8v.8h-.8zM271.4 241.8h.8v.8h-.8zM270.1 243.0h.8v.8h-.8zM270.1 245.5h.8v.8h-.8zM268.6 243.8h.8v.8h-.8zM268.5 239.7h.8v.8h-.8zM271.7 239.9h.8v.8h-.8zM272.3 243.9h.8v.8h-.8zM274.2 246.9h.8v.8h-.8zM263.5 243.8h.8v.8h-.8zM272.7 244.5h.8v.8h-.8zM270.6 249.3h.8v.8h-.8zM272.8 237.3h.8v.8h-.8zM270.8 248.9h.8v.8h-.8zM271.0 237.7h.8v.8h-.8zM273.2 247.0h.8v.8h-.8zM274.4 244.8h.8v.8h-.8zM270.9 248.2h.8v.8h-.8zM266.7 252.5h.8v.8h-.8zM271.8 245.1h.8v.8h-.8zM273.1 247.9h.8v.8h-.8zM262.9 248.6h.8v.8h-.8zM270.1 240.1h.8v.8h-.8zM273.6 248.6h.8v.8h-.8zM271.8 240.9h.8v.8h-.8zM270.8 239.3h.8v.8h-.8zM279.2 240.7h.8v.8h-.8zM273.5 252.0h.8v.8h-.8zM267.5 241.3h.8v.8h-.8zM262.7 242.8h.8v.8h-.8zM265.9 244.8h.8v.8h-.8zM269.7 244.0h.8v.8h-.8zM270.6 241.7h.8v.8h-.8zM270.8 243.6h.8v.8h-.8zM268.0 242.4h.8v.8h-.8zM268.5 237.6h.8v.8h-.8zM270.4 234.7h.8v.8h-.8zM272.3 243.8h.8v.8h-.8zM271.0 249.7h.8v.8h-.8zM273.8 241.8h.8v.8h-.8zM271.7 249.9h.8v.8h-.8zM269.9 245.9h.8v.8h-.8zM271.9 238.8h.8v.8h-.8zM271.4 242.0h.8v.8h-.8zM269.6 246.1h.8v.8h-.8zM272.7 239.5h.8v.8h-.8zM269.6 243.0h.8v.8h-.8zM267.2 245.8h.8v.8h-.8zM269.8 240.5h.8v.8h-.8zM273.7 243.6h.8v.8h-.8zM266.5 243.5h.8v.8h-.8zM269.8 245.4h.8v.8h-.8zM278.2 246.7h.8v.8h-.8zM275.4 243.1h.8v.8h-.8zM272.1 246.4h.8v.8h-.8zM270.1 245.2h.8v.8h-.8zM268.9 247.4h.8v.8h-.8zM267.3 252.5h.8v.8h-.8zM270.0 245.8h.8v.8h-.8zM271.0 236.0h.8v.8h-.8zM271.9 239.6h.8v.8h-.8zM271.1 241.9h.8v.8h-.8zM269.5 236.4h.8v.8h-.8zM265.9 241.2h.8v.8h-.8zM266.8 245.2h.8v.8h-.8zM265.6 245.1h.8v.8h-.8zM272.4 240.3h.8v.8h-.8zM267.1 242.3h.8v.8h-.8zM273.2 250.9h.8v.8h-.8zM277.9 244.4h.8v.8h-.8zM272.6 244.9h.8v.8h-.8zM270.4 238.7h.8v.8h-.8zM269.2 249.5h.8v.8h-.8zM275.2 241.0h.8v.8h-.8zM264.9 253.3h.8v.8h-.8zM270.6 246.2h.8v.8h-.8zM269.9 235.0h.8v.8h-.8zM271.5 239.2h.8v.8h-.8zM269.5 240.9h.8v.8h-.8zM275.6 234.3h.8v.8h-.8zM265.1 241.5h.8v.8h-.8zM268.2 247.8h.8v.8h-.8zM275.8 240.4h.8v.8h-.8zM272.4 242.9h.8v.8h-.8zM263.6 249.8h.8v.8h-.8zM276.5 239.9h.8v.8h-.8zM272.6 241.4h.8v.8h-.8zM270.1 241.7h.8v.8h-.8zM270.0 244.2h.8v.8h-.8zM268.3 245.3h.8v.8h-.8zM266.0 248.0h.8v.8h-.8zM267.2 234.8h.8v.8h-.8zM273.3 242.3h.8v.8h-.8zM268.6 248.5h.8v.8h-.8zM270.3 253.6h.8v.8h-.8zM271.9 236.9h.8v.8h-.8zM268.7 240.7h.8v.8h-.8zM269.4 252.3h.8v.8h-.8zM279.8 252.5h.8v.8h-.8zM272.0 246.7h.8v.8h-.8zM271.0 233.0h.8v.8h-.8zM275.2 253.8h.8v.8h-.8zM268.6 243.8h.8v.8h-.8zM268.0 243.0h.8v.8h-.8zM267.5 238.4h.8v.8h-.8zM274.6 234.3h.8v.8h-.8zM274.0 238.3h.8v.8h-.8zM269.6 234.0h.8v.8h-.8zM272.7 239.0h.8v.8h-.8zM279.1 239.4h.8v.8h-.8zM271.3 247.3h.8v.8h-.8zM267.1 239.9h.8v.8h-.8zM266.8 246.7h.8v.8h-.8zM271.5 249.0h.8v.8h-.8zM265.5 239.4h.8v.8h-.8zM270.0 241.8h.8v.8h-.8zM271.5 249.6h.8v.8h-.8zM270.9 240.0h.8v.8h-.8zM270.3 240.4h.8v.8h-.8zM268.2 253.2h.8v.8h-.8zM272.8 253.0h.8v.8h-.8zM269.7 243.6h.8v.8h-.8zM266.1 245.2h.8v.8h-.8zM273.0 247.4h.8v.8h-.8zM266.4 244.5h.8v.8h-.8zM273.6 241.7h.8v.8h-.8zM272.9 241.5h.8v.8h-.8zM270.4 241.1h.8v.8h-.8zM265.3 239.8h.8v.8h-.8zM271.0 242.6h.8v.8h-.8zM270.4 241.1h.8v.8h-.8zM273.5 243.1h.8v.8h-.8zM271.8 241.6h.8v.8h-.8zM275.0 243.5h.8v.8h-.8zM272.0 254.9h.8v.8h-.8zM271.9 236.2h.8v.8h-.8zM268.2 245.6h.8v.8h-.8zM265.9 236.7h.8v.8h-.8zM270.0 236.1h.8v.8h-.8zM274.2 246.1h.8v.8h-.8zM269.4 250.0h.8v.8h-.8zM268.1 238.1h.8v.8h-.8zM273.6 244.1h.8v.8h-.8zM269.7 249.1h.8v.8h-.8zM270.0 247.2h.8v.8h-.8zM271.2 249.7h.8v.8h-.8zM272.4 241.6h.8v.8h-.8zM275.7 242.2h.8v.8h-.8zM276.4 237.7h.8v.8h-.8zM270.6 232.9h.8v.8h-.8zM272.3 250.6h.8v.8h-.8zM269.1 246.3h.8v.8h-.8zM269.7 251.1h.8v.8h-.8zM271.6 245.7h.8v.8h-.8zM274.3 236.4h.8v.8h-.8zM272.9 244.6h.8v.8h-.8zM274.9 244.1h.8v.8h-.8zM272.6 243.7h.8v.8h-.8zM267.1 241.5h.8v.8h-.8zM269.8 237.4h.8v.8h-.8zM270.3 241.6h.8v.8h-.8zM276.8 242.8h.8v.8h-.8zM270.9 244.5h.8v.8h-.8zM272.9 236.0h.8v.8h-.8zM264.5 251.8h.8v.8h-.8zM267.6 239.6h.8v.8h-.8zM274.5 245.5h.8v.8h-.8zM267.7 247.7h.8v.8h-.8zM266.6 252.0h.8v.8h-.8zM269.4 245.7h.8v.8h-.8zM270.4 253.5h.8v.8h-.8zM267.2 243.5h.8v.8h-.8zM277.9 233.9h.8v.8h-.8zM268.8 245.4h.8v.8h-.8zM269.7 246.2h.8v.8h-.8zM274.5 238.4h.8v.8h-.8zM268.2 250.5h.8v.8h-.8zM277.2 230.7h.8v.8h-.8zM272.3 248.9h.8v.8h-.8zM268.2 239.7h.8v.8h-.8zM266.6 243.0h.8v.8h-.8zM266.5 247.5h.8v.8h-.8zM268.1 246.6h.8v.8h-.8zM265.1 248.4h.8v.8h-.8zM272.8 248.7h.8v.8h-.8zM273.8 244.2h.8v.8h-.8zM276.0 242.2h.8v.8h-.8zM271.0 252.1h.8v.8h-.8zM268.9 244.0h.8v.8h-.8zM271.4 244.9h.8v.8h-.8zM269.7 249.0h.8v.8h-.8zM277.9 242.1h.8v.8h-.8zM265.4 241.7h.8v.8h-.8zM265.7 237.7h.8v.8h-.8zM266.9 249.3h.8v.8h-.8zM271.0 247.5h.8v.8h-.8zM270.1 249.1h.8v.8h-.8zM269.1 250.5h.8v.8h-.8zM273.5 245.1h.8v.8h-.8zM265.4 238.5h.8v.8h-.8zM271.4 238.8h.8v.8h-.8zM269.9 243.2h.8v.8h-.8zM275.2 240.6h.8v.8h-.8zM271.0 241.7h.8v.8h-.8zM267.9 246.2h.8v.8h-.8zM273.8 236.9h.8v.8h-.8zM271.0 246.6h.8v.8h-.8zM266.9 242.0h.8v.8h-.8zM271.6 243.6h.8v.8h-.8zM275.3 239.6h.8v.8h-.8z" fill="#000" fill-opacity="0.9"/>
<path d="M281.3 240.4h.8v.8h-.8zM282.5 233.9h.8v.8h-.8zM282.2 239.4h.8v.8h-.8zM288.0 227.1h.8v.8h-.8zM276.9 226.5h.8v.8h-.8zM285.9 220.4h.8v.8h-.8zM299.4 231.4h.8v.8h-.8zM273.6 253.3h.8v.8h-.8zM283.0 240.2h.8v.8h-.8zM281.7 233.9h.8v.8h-.8zM296.8 219.5h.8v.8h-.8zM284.7 229.8h.8v.8h-.8zM280.7 235.5h.8v.8h-.8zM284.4 240.7h.8v.8h-.8zM279.0 242.3h.8v.8h-.8zM279.9 242.5h.8v.8h-.8zM292.1 241.3h.8v.8h-.8zM273.4 236.6h.8v.8h-.8zM276.1 252.4h.8v.8h-.8zM284.4 225.3h.8v.8h-.8zM272.8 247.1h.8v.8h-.8zM276.3 239.5h.8v.8h-.8zM280.8 234.8h.8v.8h-.8zM280.1 236.1h.8v.8h-.8zM293.8 228.7h.8v.8h-.8zM286.5 240.1h.8v.8h-.8zM278.5 226.8h.8v.8h-.8zM277.1 240.9h.8v.8h-.8zM284.1 244.6h.8v.8h-.8zM285.5 237.0h.8v.8h-.8zM283.1 238.0h.8v.8h-.8zM283.3 241.6h.8v.8h-.8zM277.3 245.0h.8v.8h-.8zM293.9 235.3h.8v.8h-.8zM286.8 226.2h.8v.8h-.8zM283.7 224.0h.8v.8h-.8zM289.7 236.4h.8v.8h-.8zM290.3 245.5h.8v.8h-.8zM278.1 242.8h.8v.8h-.8zM293.4 254.6h.8v.8h-.8zM282.3 240.6h.8v.8h-.8zM278.8 241.4h.8v.8h-.8zM287.0 248.2h.8v.8h-.8zM282.0 236.5h.8v.8h-.8zM286.4 234.6h.8v.8h-.8zM296.9 217.5h.8v.8h-.8zM287.7 236.2h.8v.8h-.8zM285.9 223.4h.8v.8h-.8zM287.0 240.6h.8v.8h-.8zM294.0 242.9h.8v.8h-.8zM278.9 229.9h.8v.8h-.8zM275.5 232.0h.8v.8h-.8zM282.4 246.5h.8v.8h-.8zM294.1 236.7h.8v.8h-.8zM287.0 234.7h.8v.8h-.8zM274.4 240.5h.8v.8h-.8zM278.2 222.6h.8v.8h-.8zM277.4 248.5h.8v.8h-.8zM275.3 247.4h.8v.8h-.8zM273.9 235.5h.8v.8h-.8zM286.4 232.7h.8v.8h-.8zM276.5 236.1h.8v.8h-.8zM294.3 241.6h.8v.8h-.8zM284.4 240.8h.8v.8h-.8zM291.0 247.1h.8v.8h-.8zM281.2 228.7h.8v.8h-.8zM276.4 236.6h.8v.8h-.8zM281.0 236.1h.8v.8h-.8zM278.4 247.9h.8v.8h-.8zM277.3 229.5h.8v.8h-.8zM275.2 227.0h.8v.8h-.8zM272.1 229.2h.8v.8h-.8zM281.4 241.8h.8v.8h-.8zM282.3 236.0h.8v.8h-.8zM287.5 245.6h.8v.8h-.8zM281.1 246.4h.8v.8h-.8zM283.5 228.4h.8v.8h-.8zM286.6 244.2h.8v.8h-.8zM284.6 235.8h.8v.8h-.8zM281.4 241.6h.8v.8h-.8zM274.4 231.7h.8v.8h-.8zM284.4 246.3h.8v.8h-.8zM283.0 228.4h.8v.8h-.8zM301.4 238.7h.8v.8h-.8zM278.1 231.0h.8v.8h-.8zM290.1 253.8h.8v.8h-.8zM283.7 224.9h.8v.8h-.8zM288.9 236.8h.8v.8h-.8zM280.3 237.8h.8v.8h-.8zM275.2 237.7h.8v.8h-.8zM285.4 245.9h.8v.8h-.8zM296.6 230.8h.8v.8h-.8zM285.6 229.5h.8v.8h-.8zM283.9 245.6h.8v.8h-.8zM287.4 233.6h.8v.8h-.8zM295.2 243.5h.8v.8h-.8zM291.4 236.7h.8v.8h-.8zM292.1 234.8h.8v.8h-.8zM288.9 236.4h.8v.8h-.8zM283.0 223.2h.8v.8h-.8zM289.7 240.9h.8v.8h-.8zM278.8 236.6h.8v.8h-.8zM287.1 241.4h.8v.8h-.8zM276.1 251.9h.8v.8h-.8zM290.8 237.2h.8v.8h-.8zM284.4 238.4h.8v.8h-.8zM280.3 248.7h.8v.8h-.8zM278.5 231.6h.8v.8h-.8zM281.5 222.9h.8v.8h-.8zM290.1 226.2h.8v.8h-.8zM293.3 243.9h.8v.8h-.8zM296.8 231.1h.8v.8h-.8zM281.0 232.3h.8v.8h-.8zM288.5 228.6h.8v.8h-.8zM280.9 216.8h.8v.8h-.8zM283.4 237.8h.8v.8h-.8zM296.6 229.1h.8v.8h-.8zM289.6 240.8h.8v.8h-.8zM289.1 226.9h.8v.8h-.8zM289.6 237.5h.8v.8h-.8zM292.9 254.1h.8v.8h-.8zM278.3 232.7h.8v.8h-.8zM293.5 222.1h.8v.8h-.8zM285.3 248.7h.8v.8h-.8zM288.1 235.7h.8v.8h-.8zM279.2 220.7h.8v.8h-.8zM286.6 231.0h.8v.8h-.8zM280.4 238.8h.8v.8h-.8zM278.8 252.8h.8v.8h-.8zM282.2 245.5h.8v.8h-.8zM276.3 222.8h.8v.8h-.8zM289.1 233.1h.8v.8h-.8zM273.8 245.1h.8v.8h-.8zM286.5 221.6h.8v.8h-.8zM281.5 252.9h.8v.8h-.8zM283.8 224.7h.8v.8h-.8zM277.3 247.8h.8v.8h-.8zM293.4 241.9h.8v.8h-.8zM272.7 243.1h.8v.8h-.8zM277.4 231.8h.8v.8h-.8zM279.6 245.2h.8v.8h-.8zM286.6 240.9h.8v.8h-.8zM280.0 231.7h.8v.8h-.8zM290.5 230.9h.8v.8h-.8zM281.1 240.8h.8v.8h-.8zM281.8 244.4h.8v.8h-.8zM286.9 241.5h.8v.8h-.8zM299.0 231.5h.8v.8h-.8zM297.5 225.2h.8v.8h-.8zM278.4 229.3h.8v.8h-.8zM288.0 246.8h.8v.8h-.8zM299.1 231.6h.8v.8h-.8zM290.5 234.5h.8v.8h-.8zM280.6 219.5h.8v.8h-.8zM289.1 228.1h.8v.8h-.8zM287.6 230.3h.8v.8h-.8zM286.4 227.9h.8v.8h-.8zM285.8 251.6h.8v.8h-.8zM285.7 224.4h.8v.8h-.8zM277.6 237.2h.8v.8h-.8zM288.7 225.5h.8v.8h-.8zM276.7 222.2h.8v.8h-.8zM295.3 238.5h.8v.8h-.8zM285.3 232.3h.8v.8h-.8zM296.4 241.0h.8v.8h-.8zM282.4 246.5h.8v.8h-.8zM287.1 233.6h.8v.8h-.8zM280.5 236.1h.8v.8h-.8zM292.7 223.9h.8v.8h-.8zM290.4 248.5h.8v.8h-.8zM287.1 223.2h.8v.8h-.8zM288.8 237.5h.8v.8h-.8zM276.1 222.3h.8v.8h-.8zM272.3 236.6h.8v.8h-.8zM274.1 239.1h.8v.8h-.8zM282.0 241.6h.8v.8h-.8zM289.1 228.2h.8v.8h-.8zM280.5 242.4h.8v.8h-.8zM278.6 244.8h.8v.8h-.8zM287.2 243.8h.8v.8h-.8zM278.9 242.8h.8v.8h-.8zM281.6 237.9h.8v.8h-.8zM287.5 231.2h.8v.8h-.8zM278.3 241.4h.8v.8h-.8zM275.5 217.8h.8v.8h-.8zM273.1 233.5h.8v.8h-.8zM287.7 240.6h.8v.8h-.8zM273.2 239.5h.8v.8h-.8zM274.6 245.4h.8v.8h-.8zM285.8 230.5h.8v.8h-.8zM279.8 235.3h.8v.8h-.8zM279.1 246.1h.8v.8h-.8zM285.2 231.1h.8v.8h-.8zM286.2 224.1h.8v.8h-.8zM284.1 233.2h.8v.8h-.8zM279.1 235.5h.8v.8h-.8zM284.6 223.4h.8v.8h-.8zM288.5 230.9h.8v.8h-.8zM285.5 250.3h.8v.8h-.8zM275.6 250.3h.8v.8h-.8zM280.6 252.4h.8v.8h-.8zM277.4 245.0h.8v.8h-.8zM279.1 246.9h.8v.8h-.8zM289.2 238.9h.8v.8h-.8zM277.3 245.1h.8v.8h-.8zM285.6 226.6h.8v.8h-.8zM286.9 234.5h.8v.8h-.8zM282.3 227.5h.8v.8h-.8zM284.5 243.5h.8v.8h-.8zM277.3 243.0h.8v.8h-.8zM284.9 227.7h.8v.8h-.8zM284.1 224.6h.8v.8h-.8zM295.8 239.4h.8v.8h-.8zM290.5 227.9h.8v.8h-.8zM292.2 234.6h.8v.8h-.8zM290.9 239.5h.8v.8h-.8zM285.3 245.1h.8v.8h-.8zM279.0 232.4h.8v.8h-.8zM290.5 239.9h.8v.8h-.8zM279.4 226.6h.8v.8h-.8zM289.2 234.7h.8v.8h-.8zM274.3 239.5h.8v.8h-.8zM276.8 242.6h.8v.8h-.8zM279.8 235.5h.8v.8h-.8zM282.5 248.4h.8v.8h-.8zM285.3 234.6h.8v.8h-.8zM278.7 244.7h.8v.8h-.8zM278.4 239.6h.8v.8h-.8zM285.9 242.5h.8v.8h-.8zM288.3 238.4h.8v.8h-.8zM296.3 242.8h.8v.8h-.8zM278.0 228.1h.8v.8h-.8zM278.4 247.5h.8v.8h-.8zM275.7 249.6h.8v.8h-.8zM285.9 230.9h.8v.8h-.8zM276.4 235.1h.8v.8h-.8zM288.1 235.3h.8v.8h-.8zM287.8 237.5h.8v.8h-.8zM292.1 231.8h.8v.8h-.8zM282.2 226.2h.8v.8h-.8zM280.9 227.4h.8v.8h-.8zM273.0 234.1h.8v.8h-.8zM287.6 216.5h.8v.8h-.8zM274.6 223.9h.8v.8h-.8zM285.5 240.9h.8v.8h-.8zM285.2 234.4h.8v.8h-.8zM277.9 237.6h.8v.8h-.8zM277.3 234.0h.8v.8h-.8zM285.7 233.8h.8v.8h-.8zM291.0 217.1h.8v.8h-.8zM272.5 244.6h.8v.8h-.8zM279.3 231.9h.8v.8h-.8zM279.4 235.4h.8v.8h-.8zM282.0 239.1h.8v.8h-.8zM289.2 252.0h.8v.8h-.8zM277.2 237.8h.8v.8h-.8zM276.4 236.6h.8v.8h-.8zM284.9 235.6h.8v.8h-.8zM284.6 241.7h.8v.8h-.8zM276.1 235.6h.8v.8h-.8zM290.0 244.0h.8v.8h-.8zM289.5 228.8h.8v.8h-.8zM278.7 244.5h.8v.8h-.8zM283.1 238.5h.8v.8h-.8zM280.7 243.9h.8v.8h-.8zM284.2 227.4h.8v.8h-.8zM285.5 233.0h.8v.8h-.8zM281.3 240.9h.8v.8h-.8zM284.0 231.0h.8v.8h-.8zM275.3 232.1h.8v.8h-.8zM282.1 225.7h.8v.8h-.8zM278.8 236.5h.8v.8h-.8zM274.9 233.2h.8v.8h-.8zM284.7 237.4h.8v.8h-.8zM276.6 245.4h.8v.8h-.8zM282.4 249.7h.8v.8h-.8zM285.4 225.9h.8v.8h-.8zM289.3 231.8h.8v.8h-.8zM282.3 236.8h.8v.8h-.8zM274.5 246.1h.8v.8h-.8zM284.0 227.1h.8v.8h-.8zM274.0 240.0h.8v.8h-.8zM291.0 239.5h.8v.8h-.8zM285.1 232.4h.8v.8h-.8zM290.2 240.7h.8v.8h-.8zM277.8 230.7h.8v.8h-.8zM302.7 235.0h.8v.8h-.8zM285.9 242.6h.8v.8h-.8zM281.6 254.5h.8v.8h-.8zM276.4 228.8h.8v.8h-.8zM293.7 243.9h.8v.8h-.8zM288.0 235.1h.8v.8h-.8zM282.7 237.3h.8v.8h-.8zM285.8 230.8h.8v.8h-.8zM289.9 251.0h.8v.8h-.8zM279.5 227.8h.8v.8h-.8zM276.7 247.6h.8v.8h-.8zM278.6 229.5h.8v.8h-.8zM290.2 234.5h.8v.8h-.8zM282.7 242.1h.8v.8h-.8zM290.5 238.1h.8v.8h-.8zM293.3 230.2h.8v.8h-.8zM279.6 241.9h.8v.8h-.8zM287.3 221.1h.8v.8h-.8zM281.0 242.0h.8v.8h-.8zM282.0 251.5h.8v.8h-.8zM272.6 237.8h.8v.8h-.8zM277.5 222.3h.8v.8h-.8zM281.5 235.5h.8v.8h-.8zM280.3 230.6h.8v.8h-.8zM288.7 227.1h.8v.8h-.8zM278.9 224.0h.8v.8h-.8zM290.7 223.4h.8v.8h-.8zM294.4 228.1h.8v.8h-.8zM282.7 250.1h.8v.8h-.8zM276.0 247.4h.8v.8h-.8zM274.4 232.1h.8v.8h-.8zM286.7 239.0h.8v.8h-.8zM285.2 238.8h.8v.8h-.8zM293.4 222.2h.8v.8h-.8zM278.5 243.6h.8v.8h-.8zM273.3 230.1h.8v.8h-.8zM299.1 247.6h.8v.8h-.8zM286.4 236.8h.8v.8h-.8zM281.9 228.5h.8v.8h-.8zM277.3 227.7h.8v.8h-.8zM274.6 237.2h.8v.8h-.8zM285.8 228.0h.8v.8h-.8zM283.9 224.7h.8v.8h-.8zM285.5 233.3h.8v.8h-.8zM282.6 237.8h.8v.8h-.8zM291.6 237.9h.8v.8h-.8zM278.7 237.5h.8v.8h-.8zM285.6 240.7h.8v.8h-.8zM290.0 229.1h.8v.8h-.8zM275.1 241.5h.8v.8h-.8zM275.6 240.0h.8v.8h-.8zM301.0 246.8h.8v.8h-.8zM273.3 229.1h.8v.8h-.8zM285.6 233.7h.8v.8h-.8zM287.6 238.2h.8v.8h-.8zM285.2 240.9h.8v.8h-.8zM272.7 246.0h.8v.8h-.8zM273.6 228.6h.8v.8h-.8zM285.7 232.9h.8v.8h-.8zM275.1 217.4h.8v.8h-.8zM286.7 226.2h.8v.8h-.8zM280.6 238.2h.8v.8h-.8zM282.6 239.7h.8v.8h-.8zM294.0 242.3h.8v.8h-.8zM276.3 235.8h.8v.8h-.8zM281.5 228.8h.8v.8h-.8zM287.4 232.8h.8v.8h-.8zM284.6 241.7h.8v.8h-.8zM296.9 230.9h.8v.8h-.8zM287.8 254.7h.8v.8h-.8zM293.6 238.8h.8v.8h-.8zM278.1 237.6h.8v.8h-.8zM278.9 232.6h.8v.8h-.8zM286.5 232.7h.8v.8h-.8zM283.3 237.2h.8v.8h-.8zM281.3 238.7h.8v.8h-.8zM281.9 240.1h.8v.8h-.8zM277.6 236.8h.8v.8h-.8zM294.2 229.2h.8v.8h-.8zM277.7 244.3h.8v.8h-.8zM285.1 237.5h.8v.8h-.8zM284.3 232.7h.8v.8h-.8zM279.5 240.6h.8v.8h-.8zM284.2 241.8h.8v.8h-.8zM283.6 248.3h.8v.8h-.8zM289.6 229.7h.8v.8h-.8zM293.6 231.4h.8v.8h-.8zM289.8 229.8h.8v.8h-.8zM285.4 237.6h.8v.8h-.8zM292.6 217.8h.8v.8h-.8zM288.1 231.9h.8v.8h-.8zM283.7 221.3h.8v.8h-.8zM280.5 230.6h.8v.8h-.8zM289.0 238.5h.8v.8h-.8zM282.0 246.3h.8v.8h-.8zM278.7 242.9h.8v.8h-.8zM281.5 240.3h.8v.8h-.8zM281.1 248.4h.8v.8h-.8zM280.1 253.7h.8v.8h-.8zM288.4 229.2h.8v.8h-.8zM280.1 247.9h.8v.8h-.8zM292.9 225.9h.8v.8h-.8zM284.2 241.7h.8v.8h-.8zM299.0 242.1h.8v.8h-.8zM281.7 244.3h.8v.8h-.8zM283.6 229.0h.8v.8h-.8zM282.8 234.5h.8v.8h-.8zM281.6 237.1h.8v.8h-.8zM285.5 229.7h.8v.8h-.8zM287.6 222.9h.8v.8h-.8zM287.5 240.6h.8v.8h-.8zM285.9 223.6h.8v.8h-.8zM279.7 238.2h.8v.8h-.8zM286.2 242.9h.8v.8h-.8zM272.8 236.6h.8v.8h-.8zM290.3 226.4h.8v.8h-.8zM274.9 232.4h.8v.8h-.8zM281.3 234.2h.8v.8h-.8zM291.4 238.9h.8v.8h-.8zM283.7 243.8h.8v.8h-.8zM282.9 248.4h.8v.8h-.8zM284.0 232.3h.8v.8h-.8zM275.0 244.5h.8v.8h-.8zM282.1 221.5h.8v.8h-.8zM288.7 247.7h.8v.8h-.8zM287.5 251.3h.8v.8h-.8zM291.3 230.1h.8v.8h-.8zM286.1 242.9h.8v.8h-.8zM273.2 248.9h.8v.8h-.8zM286.4 243.8h.8v.8h-.8zM277.1 243.7h.8v.8h-.8zM282.8 233.9h.8v.8h-.8zM283.3 239.5h.8v.8h-.8zM272.9 236.6h.8v.8h-.8zM285.5 222.7h.8v.8h-.8zM287.6 236.6h.8v.8h-.8zM276.1 227.1h.8v.8h-.8zM274.8 244.2h.8v.8h-.8zM277.2 238.2h.8v.8h-.8zM280.1 244.3h.8v.8h-.8zM291.6 244.5h.8v.8h-.8zM287.5 245.8h.8v.8h-.8zM294.5 229.1h.8v.8h-.8zM284.8 231.0h.8v.8h-.8zM283.4 234.7h.8v.8h-.8zM283.8 242.7h.8v.8h-.8zM284.9 245.7h.8v.8h-.8zM280.4 249.3h.8v.8h-.8zM298.2 237.2h.8v.8h-.8zM281.6 241.1h.8v.8h-.8zM288.2 223.8h.8v.8h-.8zM286.4 219.0h.8v.8h-.8zM275.9 238.6h.8v.8h-.8zM285.2 226.4h.8v.8h-.8zM283.4 247.7h.8v.8h-.8zM272.0 241.5h.8v.8h-.8zM291.6 225.1h.8v.8h-.8zM291.1 240.5h.8v.8h-.8zM281.0 236.9h.8v.8h-.8zM282.8 237.0h.8v.8h-.8zM281.7 230.3h.8v.8h-.8zM289.1 251.3h.8v.8h-.8zM281.8 248.9h.8v.8h-.8zM277.9 225.7h.8v.8h-.8z" fill="#000" fill-opacity="0.75"/>
<path d="M311.7 238.9h.8v.8h-.8zM309.2 228.0h.8v.8h-.8zM297.8 246.0h.8v.8h-.8zM324.5 239.1h.8v.8h-.8zM294.4 248.6h.8v.8h-.8zM328.7 229.2h.8v.8h-.8zM285.6 232.9h.8v.8h-.8zM295.0 233.4h.8v.8h-.8zM290.1 242.7h.8v.8h-.8zM307.1 224.8h.8v.8h-.8zM310.7 238.7h.8v.8h-.8zM289.1 237.9h.8v.8h-.8zM307.5 230.1h.8v.8h-.8zM304.7 232.6h.8v.8h-.8zM294.7 231.9h.8v.8h-.8zM308.8 251.8h.8v.8h-.8zM297.2 237.8h.8v.8h-.8zM300.0 221.4h.8v.8h-.8zM302.0 234.9h.8v.8h-.8zM291.8 243.6h.8v.8h-.8zM308.4 234.0h.8v.8h-.8zM291.2 239.5h.8v.8h-.8zM292.2 229.0h.8v.8h-.8zM296.3 245.4h.8v.8h-.8zM299.1 235.3h.8v.8h-.8zM298.5 242.2h.8v.8h-.8zM300.8 244.3h.8v.8h-.8zM300.8 244.5h.8v.8h-.8zM298.9 230.0h.8v.8h-.8zM308.4 234.9h.8v.8h-.8zM296.8 249.9h.8v.8h-.8zM296.2 229.7h.8v.8h-.8zM298.3 249.9h.8v.8h-.8zM284.9 247.4h.8v.8h-.8zM309.7 233.2h.8v.8h-.8zM298.3 230.2h.8v.8h-.8zM284.1 222.2h.8v.8h-.8zM296.9 242.2h.8v.8h-.8zM290.2 233.8h.8v.8h-.8zM292.4 235.0h.8v.8h-.8zM308.0 247.9h.8v.8h-.8zM310.7 240.2h.8v.8h-.8zM321.1 243.4h.8v.8h-.8zM309.1 242.0h.8v.8h-.8zM313.6 227.4h.8v.8h-.8zM290.8 237.7h.8v.8h-.8zM298.1 239.8h.8v.8h-.8zM311.8 248.8h.8v.8h-.8zM307.1 250.0h.8v.8h-.8zM294.2 240.7h.8v.8h-.8zM300.5 228.3h.8v.8h-.8zM305.8 245.7h.8v.8h-.8zM297.8 237.7h.8v.8h-.8zM317.1 235.1h.8v.8h-.8zM298.2 239.6h.8v.8h-.8zM308.4 240.6h.8v.8h-.8zM318.9 240.9h.8v.8h-.8zM286.5 222.0h.8v.8h-.8zM301.2 252.2h.8v.8h-.8zM302.9 232.9h.8v.8h-.8zM306.1 241.7h.8v.8h-.8zM319.0 225.2h.8v.8h-.8zM312.6 238.6h.8v.8h-.8zM313.3 246.8h.8v.8h-.8zM309.0 229.7h.8v.8h-.8zM300.7 246.5h.8v.8h-.8zM282.3 244.9h.8v.8h-.8zM313.0 252.9h.8v.8h-.8zM291.1 231.2h.8v.8h-.8zM315.7 234.3h.8v.8h-.8zM280.4 241.5h.8v.8h-.8zM308.9 229.5h.8v.8h-.8zM305.4 228.5h.8v.8h-.8zM304.0 231.6h.8v.8h-.8zM288.7 243.3h.8v.8h-.8zM302.3 237.2h.8v.8h-.8zM285.8 230.4h.8v.8h-.8zM298.6 231.4h.8v.8h-.8zM306.8 237.2h.8v.8h-.8zM299.3 235.3h.8v.8h-.8zM307.7 246.1h.8v.8h-.8zM287.9 245.6h.8v.8h-.8zM314.2 244.1h.8v.8h-.8zM294.8 238.8h.8v.8h-.8zM313.4 234.5h.8v.8h-.8zM324.4 238.1h.8v.8h-.8zM313.5 231.2h.8v.8h-.8zM295.6 251.6h.8v.8h-.8zM285.3 232.1h.8v.8h-.8zM298.9 225.4h.8v.8h-.8zM310.6 225.6h.8v.8h-.8zM302.8 234.7h.8v.8h-.8zM281.6 237.1h.8v.8h-.8zM313.1 239.4h.8v.8h-.8zM317.2 251.8h.8v.8h-.8zM312.0 235.1h.8v.8h-.8zM300.6 242.6h.8v.8h-.8zM285.6 227.3h.8v.8h-.8zM302.1 252.9h.8v.8h-.8zM287.3 239.1h.8v.8h-.8zM292.8 243.4h.8v.8h-.8zM306.9 236.5h.8v.8h-.8zM314.3 234.5h.8v.8h-.8zM300.7 239.7h.8v.8h-.8zM312.7 229.4h.8v.8h-.8zM296.0 229.9h.8v.8h-.8zM309.9 240.5h.8v.8h-.8zM304.8 224.9h.8v.8h-.8zM291.2 223.6h.8v.8h-.8zM284.0 230.0h.8v.8h-.8zM306.1 241.4h.8v.8h-.8zM307.0 251.4h.8v.8h-.8zM313.6 223.0h.8v.8h-.8zM308.7 239.0h.8v.8h-.8zM306.5 230.1h.8v.8h-.8zM321.3 237.7h.8v.8h-.8zM294.4 220.2h.8v.8h-.8zM298.8 224.2h.8v.8h-.8zM282.5 251.8h.8v.8h-.8zM301.3 245.8h.8v.8h-.8zM317.0 243.6h.8v.8h-.8zM296.5 226.0h.8v.8h-.8zM300.0 237.9h.8v.8h-.8zM300.3 234.0h.8v.8h-.8zM304.1 223.5h.8v.8h-.8zM316.3 225.9h.8v.8h-.8zM303.8 228.7h.8v.8h-.8zM320.3 231.6h.8v.8h-.8zM289.8 233.4h.8v.8h-.8zM314.0 225.4h.8v.8h-.8zM284.8 231.9h.8v.8h-.8zM299.9 245.4h.8v.8h-.8zM300.5 219.6h.8v.8h-.8zM296.5 242.5h.8v.8h-.8zM287.3 234.0h.8v.8h-.8zM293.3 240.4h.8v.8h-.8zM284.8 252.2h.8v.8h-.8zM298.3 232.9h.8v.8h-.8zM308.9 243.8h.8v.8h-.8zM305.2 240.0h.8v.8h-.8zM304.6 225.6h.8v.8h-.8zM312.7 244.9h.8v.8h-.8zM291.7 220.5h.8v.8h-.8zM294.1 238.5h.8v.8h-.8zM321.2 238.8h.8v.8h-.8zM303.1 239.0h.8v.8h-.8zM281.8 233.4h.8v.8h-.8zM304.1 243.2h.8v.8h-.8zM313.2 252.1h.8v.8h-.8zM293.0 232.7h.8v.8h-.8zM296.2 241.3h.8v.8h-.8zM329.1 238.4h.8v.8h-.8zM304.4 228.2h.8v.8h-.8zM285.0 253.3h.8v.8h-.8zM301.1 249.9h.8v.8h-.8zM313.3 232.1h.8v.8h-.8zM305.6 228.3h.8v.8h-.8zM310.8 235.3h.8v.8h-.8zM312.8 248.4h.8v.8h-.8zM294.3 244.2h.8v.8h-.8zM308.1 231.8h.8v.8h-.8zM306.0 248.3h.8v.8h-.8zM304.5 245.8h.8v.8h-.8zM306.9 248.5h.8v.8h-.8zM300.5 233.7h.8v.8h-.8zM295.3 251.0h.8v.8h-.8zM292.3 254.0h.8v.8h-.8zM324.1 232.1h.8v.8h-.8zM292.1 240.4h.8v.8h-.8zM314.6 253.1h.8v.8h-.8zM323.0 230.1h.8v.8h-.8zM314.0 232.0h.8v.8h-.8zM316.9 241.1h.8v.8h-.8zM321.8 235.9h.8v.8h-.8zM313.5 224.9h.8v.8h-.8zM289.2 241.5h.8v.8h-.8zM303.7 244.9h.8v.8h-.8zM286.3 226.8h.8v.8h-.8zM294.0 247.6h.8v.8h-.8zM307.5 233.9h.8v.8h-.8zM311.5 235.1h.8v.8h-.8zM305.9 236.5h.8v.8h-.8zM284.0 244.3h.8v.8h-.8zM303.8 231.1h.8v.8h-.8zM304.8 229.9h.8v.8h-.8zM301.9 233.2h.8v.8h-.8zM307.0 228.1h.8v.8h-.8zM301.0 232.8h.8v.8h-.8zM289.2 236.0h.8v.8h-.8zM311.9 243.5h.8v.8h-.8zM306.7 235.6h.8v.8h-.8zM315.4 234.0h.8v.8h-.8zM311.6 220.5h.8v.8h-.8zM286.1 229.8h.8v.8h-.8zM317.9 234.2h.8v.8h-.8zM308.7 226.3h.8v.8h-.8zM325.0 253.1h.8v.8h-.8zM302.7 230.4h.8v.8h-.8zM306.0 234.3h.8v.8h-.8zM295.6 222.2h.8v.8h-.8zM329.8 224.6h.8v.8h-.8zM297.2 240.1h.8v.8h-.8zM298.2 238.9h.8v.8h-.8zM315.2 230.6h.8v.8h-.8zM309.7 235.4h.8v.8h-.8zM284.6 239.3h.8v.8h-.8zM287.9 246.3h.8v.8h-.8zM302.7 238.2h.8v.8h-.8zM316.3 228.8h.8v.8h-.8zM291.7 250.0h.8v.8h-.8zM312.5 240.6h.8v.8h-.8zM289.6 230.9h.8v.8h-.8zM280.2 221.1h.8v.8h-.8zM296.7 240.1h.8v.8h-.8zM295.7 234.8h.8v.8h-.8zM303.7 249.2h.8v.8h-.8zM294.7 237.7h.8v.8h-.8zM313.9 225.3h.8v.8h-.8zM288.1 232.3h.8v.8h-.8zM322.1 231.8h.8v.8h-.8zM285.4 218.8h.8v.8h-.8zM304.9 246.4h.8v.8h-.8zM291.7 232.7h.8v.8h-.8zM287.4 229.6h.8v.8h-.8zM316.8 231.4h.8v.8h-.8zM288.2 242.2h.8v.8h-.8zM306.4 236.0h.8v.8h-.8zM318.8 224.8h.8v.8h-.8zM301.8 248.4h.8v.8h-.8zM313.2 245.1h.8v.8h-.8zM282.2 233.8h.8v.8h-.8zM326.2 250.2h.8v.8h-.8zM321.8 244.0h.8v.8h-.8zM304.1 244.0h.8v.8h-.8zM320.0 227.3h.8v.8h-.8zM317.6 243.9h.8v.8h-.8zM295.6 251.4h.8v.8h-.8zM320.7 244.9h.8v.8h-.8zM296.3 239.1h.8v.8h-.8zM302.5 252.1h.8v.8h-.8zM293.3 229.6h.8v.8h-.8zM324.6 239.5h.8v.8h-.8zM293.5 234.6h.8v.8h-.8zM297.4 235.2h.8v.8h-.8zM328.4 230.0h.8v.8h-.8zM310.0 245.3h.8v.8h-.8zM298.7 232.6h.8v.8h-.8zM285.2 236.4h.8v.8h-.8zM291.8 234.3h.8v.8h-.8zM305.1 243.5h.8v.8h-.8zM307.7 241.3h.8v.8h-.8zM310.3 235.5h.8v.8h-.8zM316.7 237.9h.8v.8h-.8zM283.8 231.4h.8v.8h-.8zM324.0 221.2h.8v.8h-.8zM328.1 237.5h.8v.8h-.8zM306.7 248.1h.8v.8h-.8zM306.2 231.9h.8v.8h-.8zM286.2 243.0h.8v.8h-.8zM304.4 227.5h.8v.8h-.8zM319.7 244.7h.8v.8h-.8zM285.3 237.3h.8v.8h-.8zM313.9 244.7h.8v.8h-.8zM284.1 240.8h.8v.8h-.8zM312.6 240.1h.8v.8h-.8zM301.3 234.2h.8v.8h-.8zM316.1 232.7h.8v.8h-.8zM309.8 228.7h.8v.8h-.8zM302.4 246.7h.8v.8h-.8zM295.5 236.0h.8v.8h-.8zM282.3 225.0h.8v.8h-.8zM311.4 247.2h.8v.8h-.8zM293.6 234.5h.8v.8h-.8zM307.7 232.2h.8v.8h-.8zM304.0 232.5h.8v.8h-.8zM311.6 231.4h.8v.8h-.8zM296.2 223.4h.8v.8h-.8zM291.9 222.3h.8v.8h-.8zM301.0 245.6h.8v.8h-.8zM284.5 228.2h.8v.8h-.8zM292.0 240.6h.8v.8h-.8zM298.6 233.2h.8v.8h-.8zM289.3 233.7h.8v.8h-.8zM298.0 228.7h.8v.8h-.8zM323.3 240.8h.8v.8h-.8zM300.7 239.1h.8v.8h-.8zM295.3 235.9h.8v.8h-.8zM319.5 240.5h.8v.8h-.8zM299.1 237.1h.8v.8h-.8zM286.9 233.2h.8v.8h-.8zM297.1 233.9h.8v.8h-.8zM322.6 236.5h.8v.8h-.8zM319.7 236.1h.8v.8h-.8zM281.4 247.5h.8v.8h-.8zM295.2 235.1h.8v.8h-.8zM318.9 249.2h.8v.8h-.8zM305.3 248.0h.8v.8h-.8zM295.9 242.2h.8v.8h-.8zM290.0 245.3h.8v.8h-.8zM294.9 242.3h.8v.8h-.8zM285.8 249.6h.8v.8h-.8zM326.4 233.7h.8v.8h-.8zM304.0 227.2h.8v.8h-.8zM300.2 222.7h.8v.8h-.8zM313.4 235.5h.8v.8h-.8zM319.8 236.1h.8v.8h-.8zM299.7 228.4h.8v.8h-.8zM312.2 235.0h.8v.8h-.8zM285.9 222.3h.8v.8h-.8zM316.8 235.2h.8v.8h-.8zM302.0 231.0h.8v.8h-.8zM295.4 236.0h.8v.8h-.8zM305.8 225.0h.8v.8h-.8zM319.2 230.1h.8v.8h-.8zM283.4 241.1h.8v.8h-.8zM294.1 236.1h.8v.8h-.8zM326.8 236.1h.8v.8h-.8zM322.2 228.9h.8v.8h-.8zM297.4 242.4h.8v.8h-.8zM309.4 217.8h.8v.8h-.8zM287.0 232.0h.8v.8h-.8zM292.6 230.1h.8v.8h-.8zM298.3 237.5h.8v.8h-.8zM281.4 227.5h.8v.8h-.8zM289.9 247.2h.8v.8h-.8zM300.5 222.4h.8v.8h-.8zM310.0 244.7h.8v.8h-.8zM309.5 236.6h.8v.8h-.8zM311.8 250.9h.8v.8h-.8zM312.6 245.3h.8v.8h-.8z" fill="#000" fill-opacity="0.65"/>
<rect x="237.7" y="173.7" width="110.5" height="110.6" fill="none" stroke="#8a8a8a" stroke-width="1"/>
<line x1="234.3" y1="284.3" x2="237.7" y2="284.3" stroke="#333" stroke-width="0.9"/>
<line x1="235.9" y1="280.1" x2="237.7" y2="280.1" stroke="#777" stroke-width="0.9"/>
<line x1="235.9" y1="275.9" x2="237.7" y2="275.9" stroke="#777" stroke-width="0.9"/>
<line x1="235.9" y1="271.7" x2="237.7" y2="271.7" stroke="#777" stroke-width="0.9"/>
<line x1="235.9" y1="267.5" x2="237.7" y2="267.5" stroke="#777" stroke-width="0.9"/>
<line x1="234.3" y1="263.4" x2="237.7" y2="263.4" stroke="#333" stroke-width="0.9"/>
<line x1="235.9" y1="259.2" x2="237.7" y2="259.2" stroke="#777" stroke-width="0.9"/>
<line x1="235.9" y1="255.0" x2="237.7" y2="255.0" stroke="#777" stroke-width="0.9"/>
<line x1="235.9" y1="250.8" x2="237.7" y2="250.8" stroke="#777" stroke-width="0.9"/>
<line x1="235.9" y1="246.6" x2="237.7" y2="246.6" stroke="#777" stroke-width="0.9"/>
<line x1="234.3" y1="242.4" x2="237.7" y2="242.4" stroke="#333" stroke-width="0.9"/>
<line x1="235.9" y1="238.2" x2="237.7" y2="238.2" stroke="#777" stroke-width="0.9"/>
<line x1="235.9" y1="234.0" x2="237.7" y2="234.0" stroke="#777" stroke-width="0.9"/>
<line x1="235.9" y1="229.9" x2="237.7" y2="229.9" stroke="#777" stroke-width="0.9"/>
<line x1="235.9" y1="225.7" x2="237.7" y2="225.7" stroke="#777" stroke-width="0.9"/>
<line x1="234.3" y1="221.5" x2="237.7" y2="221.5" stroke="#333" stroke-width="0.9"/>
<line x1="235.9" y1="217.3" x2="237.7" y2="217.3" stroke="#777" stroke-width="0.9"/>
<line x1="235.9" y1="213.1" x2="237.7" y2="213.1" stroke="#777" stroke-width="0.9"/>
<line x1="235.9" y1="208.9" x2="237.7" y2="208.9" stroke="#777" stroke-width="0.9"/>
<line x1="235.9" y1="204.7" x2="237.7" y2="204.7" stroke="#777" stroke-width="0.9"/>
<line x1="234.3" y1="200.5" x2="237.7" y2="200.5" stroke="#333" stroke-width="0.9"/>
<line x1="235.9" y1="196.4" x2="237.7" y2="196.4" stroke="#777" stroke-width="0.9"/>
<line x1="235.9" y1="192.2" x2="237.7" y2="192.2" stroke="#777" stroke-width="0.9"/>
<line x1="235.9" y1="188.0" x2="237.7" y2="188.0" stroke="#777" stroke-width="0.9"/>
<line x1="235.9" y1="183.8" x2="237.7" y2="183.8" stroke="#777" stroke-width="0.9"/>
<line x1="234.3" y1="179.6" x2="237.7" y2="179.6" stroke="#333" stroke-width="0.9"/>
<line x1="235.9" y1="175.4" x2="237.7" y2="175.4" stroke="#777" stroke-width="0.9"/>
<line x1="246.3" y1="284.3" x2="246.3" y2="286.3" stroke="#777" stroke-width="0.8"/>
<line x1="248.8" y1="284.3" x2="248.8" y2="286.3" stroke="#777" stroke-width="0.8"/>
<line x1="251.3" y1="284.3" x2="251.3" y2="286.3" stroke="#777" stroke-width="0.8"/>
<line x1="253.8" y1="284.3" x2="253.8" y2="286.3" stroke="#777" stroke-width="0.8"/>
<line x1="256.3" y1="284.3" x2="256.3" y2="286.3" stroke="#777" stroke-width="0.8"/>
<line x1="258.8" y1="284.3" x2="258.8" y2="286.3" stroke="#777" stroke-width="0.8"/>
<line x1="266.5" y1="284.3" x2="266.5" y2="286.3" stroke="#777" stroke-width="0.8"/>
<line x1="268.5" y1="284.3" x2="268.5" y2="286.3" stroke="#777" stroke-width="0.8"/>
<line x1="270.4" y1="284.3" x2="270.4" y2="286.3" stroke="#777" stroke-width="0.8"/>
<line x1="272.5" y1="284.3" x2="272.5" y2="286.3" stroke="#777" stroke-width="0.8"/>
<line x1="275.0" y1="284.3" x2="275.0" y2="286.3" stroke="#777" stroke-width="0.8"/>
<line x1="292.2" y1="284.3" x2="292.2" y2="286.3" stroke="#777" stroke-width="0.8"/>
<line x1="296.8" y1="284.3" x2="296.8" y2="286.3" stroke="#777" stroke-width="0.8"/>
<line x1="300.1" y1="284.3" x2="300.1" y2="286.3" stroke="#777" stroke-width="0.8"/>
<line x1="302.6" y1="284.3" x2="302.6" y2="286.3" stroke="#777" stroke-width="0.8"/>
<line x1="304.7" y1="284.3" x2="304.7" y2="286.3" stroke="#777" stroke-width="0.8"/>
<line x1="306.4" y1="284.3" x2="306.4" y2="286.3" stroke="#777" stroke-width="0.8"/>
<line x1="308.0" y1="284.3" x2="308.0" y2="286.3" stroke="#777" stroke-width="0.8"/>
<line x1="309.3" y1="284.3" x2="309.3" y2="286.3" stroke="#777" stroke-width="0.8"/>
<line x1="318.4" y1="284.3" x2="318.4" y2="286.3" stroke="#777" stroke-width="0.8"/>
<line x1="323.0" y1="284.3" x2="323.0" y2="286.3" stroke="#777" stroke-width="0.8"/>
<line x1="326.3" y1="284.3" x2="326.3" y2="286.3" stroke="#777" stroke-width="0.8"/>
<line x1="328.8" y1="284.3" x2="328.8" y2="286.3" stroke="#777" stroke-width="0.8"/>
<line x1="330.9" y1="284.3" x2="330.9" y2="286.3" stroke="#777" stroke-width="0.8"/>
<line x1="332.6" y1="284.3" x2="332.6" y2="286.3" stroke="#777" stroke-width="0.8"/>
<line x1="334.2" y1="284.3" x2="334.2" y2="286.3" stroke="#777" stroke-width="0.8"/>
<line x1="335.5" y1="284.3" x2="335.5" y2="286.3" stroke="#777" stroke-width="0.8"/>
<line x1="344.6" y1="284.3" x2="344.6" y2="286.3" stroke="#777" stroke-width="0.8"/>
<line x1="243.8" y1="284.3" x2="243.8" y2="287.3" stroke="#111" stroke-width="1"/>
<line x1="277.3" y1="284.3" x2="277.3" y2="287.3" stroke="#111" stroke-width="1"/>
<line x1="310.5" y1="284.3" x2="310.5" y2="287.3" stroke="#111" stroke-width="1"/>
<line x1="336.7" y1="284.3" x2="336.7" y2="287.3" stroke="#111" stroke-width="1"/>
<rect x="259.7" y="284.7" width="5" height="2.3" fill="#111"/>
<line x1="280.6" y1="173.7" x2="280.6" y2="284.3" stroke="#1a1a1a" stroke-width="1.15"/>
<line x1="234.2" y1="262.9" x2="348.2" y2="262.9" stroke="#1a1a1a" stroke-width="1.3"/>
<text transform="translate(245.37,190.18) scale(1.122,1)" font-size="12.39" fill="#000" stroke="#000" stroke-width="0.22" font-family="Liberation Sans, sans-serif">90%</text>
<text transform="translate(312.08,190.18) scale(1.097,1)" font-size="12.39" fill="#000" stroke="#000" stroke-width="0.22" font-family="Liberation Sans, sans-serif">10%</text>
<text transform="translate(240.61,279.52) scale(0.908,1)" font-size="7.89" fill="#000" stroke="#000" stroke-width="0.22" font-family="Liberation Sans, sans-serif">0</text>
<text transform="translate(341.03,278.83) scale(0.902,1)" font-size="7.46" fill="#000" stroke="#000" stroke-width="0.22" font-family="Liberation Sans, sans-serif">0</text>
<text transform="translate(376.50,25.43) scale(0.894,1)" font-size="16.90" font-weight="bold" fill="#000" stroke="#000" stroke-width="0.5" font-family="Liberation Sans, sans-serif">C</text>
<line x1="411.2" y1="86.8" x2="411.2" y2="296" stroke="#000" stroke-width="2"/>
<line x1="410.2" y1="295.1" x2="512" y2="295.1" stroke="#000" stroke-width="1.8"/>
<line x1="408" y1="295.1" x2="411" y2="295.1" stroke="#000" stroke-width="1.6"/>
<line x1="408" y1="253.6" x2="411" y2="253.6" stroke="#000" stroke-width="1.6"/>
<line x1="408" y1="212.1" x2="411" y2="212.1" stroke="#000" stroke-width="1.6"/>
<line x1="408" y1="170.6" x2="411" y2="170.6" stroke="#000" stroke-width="1.6"/>
<line x1="408" y1="129.1" x2="411" y2="129.1" stroke="#000" stroke-width="1.6"/>
<line x1="408" y1="87.6" x2="411" y2="87.6" stroke="#000" stroke-width="1.6"/>
<text transform="translate(387.33,91.14) scale(1.093,1)" font-size="10.56" fill="#000" stroke="#000" stroke-width="0.22" font-family="Liberation Sans, sans-serif">100</text>
<text transform="translate(393.57,132.59) scale(1.118,1)" font-size="10.56" fill="#000" stroke="#000" stroke-width="0.22" font-family="Liberation Sans, sans-serif">80</text>
<text transform="translate(393.51,174.09) scale(1.123,1)" font-size="10.56" fill="#000" stroke="#000" stroke-width="0.22" font-family="Liberation Sans, sans-serif">60</text>
<text transform="translate(393.81,215.59) scale(1.096,1)" font-size="10.56" fill="#000" stroke="#000" stroke-width="0.22" font-family="Liberation Sans, sans-serif">40</text>
<text transform="translate(393.51,257.09) scale(1.123,1)" font-size="10.56" fill="#000" stroke="#000" stroke-width="0.22" font-family="Liberation Sans, sans-serif">20</text>
<text transform="translate(399.69,298.59) scale(1.196,1)" font-size="10.56" fill="#000" stroke="#000" stroke-width="0.22" font-family="Liberation Sans, sans-serif">0</text>
<line x1="424.2" y1="295" x2="424.2" y2="298" stroke="#000" stroke-width="1.4"/>
<line x1="448.8" y1="295" x2="448.8" y2="298" stroke="#000" stroke-width="1.4"/>
<line x1="473.7" y1="295" x2="473.7" y2="298" stroke="#000" stroke-width="1.4"/>
<line x1="498.5" y1="295" x2="498.5" y2="298" stroke="#000" stroke-width="1.4"/>
<text transform="translate(382.47,251.25) rotate(-90) scale(0.756,1)" font-size="12.51" fill="#000" stroke="#000" stroke-width="0.3" font-family="Liberation Sans, sans-serif">IFNγ producing NK cells (%)</text>
<text transform="translate(426.9,307.8) rotate(-45)" font-size="11" text-anchor="end" stroke="#000" stroke-width="0.22" font-family="Liberation Sans, sans-serif">HC</text>
<text transform="translate(451.5,307.8) rotate(-45)" font-size="11" text-anchor="end" stroke="#000" stroke-width="0.22" font-family="Liberation Sans, sans-serif">HC Trained</text>
<text transform="translate(478.79999999999995,307.5) rotate(-45)" font-size="11" text-anchor="end" stroke="#000" stroke-width="0.22" font-family="Liberation Sans, sans-serif">PWO</text>
<text transform="translate(502.0,307.8) rotate(-45)" font-size="11" text-anchor="end" stroke="#000" stroke-width="0.22" font-family="Liberation Sans, sans-serif">PWO Trained</text>
<polyline points="448.6,26.8 448.6,20.2 498.5,20.2 498.5,86" fill="none" stroke="#000" stroke-width="1.6"/>
<polygon points="470.43,11.75 471.05,13.24 472.67,13.37 471.44,14.43 471.81,16.00 470.43,15.16 469.05,16.00 469.43,14.43 468.20,13.37 469.81,13.24" fill="#000"/>
<polygon points="474.90,11.75 475.52,13.24 477.13,13.37 475.91,14.43 476.28,16.00 474.90,15.16 473.52,16.00 473.89,14.43 472.67,13.37 474.28,13.24" fill="#000"/>
<polygon points="479.37,11.75 479.99,13.24 481.60,13.37 480.37,14.43 480.75,16.00 479.37,15.16 477.99,16.00 478.36,14.43 477.13,13.37 478.75,13.24" fill="#000"/>
<polyline points="423.8,76.8 423.8,45.3 473.5,45.3 473.5,51.6" fill="none" stroke="#000" stroke-width="1.6"/>
<text transform="translate(442.12,40.07) scale(1.046,1)" font-size="12.91" fill="#000" stroke="#000" stroke-width="0.22" font-family="Liberation Sans, sans-serif">ns</text>
<polyline points="448.6,76.9 448.6,68 473.5,68 473.5,86" fill="none" stroke="#000" stroke-width="1.6"/>
<polygon points="453.44,59.35 454.06,60.84 455.67,60.97 454.44,62.03 454.82,63.60 453.44,62.76 452.06,63.60 452.43,62.03 451.20,60.97 452.82,60.84" fill="#000"/>
<polygon points="457.91,59.35 458.53,60.84 460.15,60.97 458.92,62.03 459.29,63.60 457.91,62.76 456.53,63.60 456.91,62.03 455.68,60.97 457.29,60.84" fill="#000"/>
<polygon points="462.39,59.35 463.01,60.84 464.62,60.97 463.39,62.03 463.77,63.60 462.39,62.76 461.01,63.60 461.38,62.03 460.15,60.97 461.77,60.84" fill="#000"/>
<polygon points="466.86,59.35 467.48,60.84 469.10,60.97 467.87,62.03 468.24,63.60 466.86,62.76 465.48,63.60 465.86,62.03 464.63,60.97 466.24,60.84" fill="#000"/>
<polyline points="423.8,211.5 423.8,93.3 448.4,93.3 448.4,99" fill="none" stroke="#000" stroke-width="1.6"/>
<polygon points="429.40,84.75 430.02,86.24 431.63,86.37 430.41,87.43 430.78,89.00 429.40,88.16 428.02,89.00 428.39,87.43 427.17,86.37 428.78,86.24" fill="#000"/>
<polygon points="434.00,84.75 434.62,86.24 436.23,86.37 435.01,87.43 435.38,89.00 434.00,88.16 432.62,89.00 432.99,87.43 431.77,86.37 433.38,86.24" fill="#000"/>
<polygon points="438.60,84.75 439.22,86.24 440.83,86.37 439.61,87.43 439.98,89.00 438.60,88.16 437.22,89.00 437.59,87.43 436.37,86.37 437.98,86.24" fill="#000"/>
<polygon points="443.20,84.75 443.82,86.24 445.43,86.37 444.21,87.43 444.58,89.00 443.20,88.16 441.82,89.00 442.19,87.43 440.97,86.37 442.58,86.24" fill="#000"/>
<polyline points="473.8,209.8 473.8,92.6 498.5,92.6 498.5,189" fill="none" stroke="#000" stroke-width="1.6"/>
<text transform="translate(477.92,88.47) scale(1.040,1)" font-size="13.09" fill="#000" stroke="#000" stroke-width="0.22" font-family="Liberation Sans, sans-serif">ns</text>
<circle cx="423.6" cy="218.2" r="4.1" fill="#d0163a" stroke="#000" stroke-width="1.2"/>
<circle cx="427.9" cy="232.8" r="4.1" fill="#d0163a" stroke="#000" stroke-width="1.2"/>
<circle cx="419.5" cy="233.2" r="4.1" fill="#d0163a" stroke="#000" stroke-width="1.2"/>
<circle cx="424.7" cy="233.2" r="4.1" fill="#d0163a" stroke="#000" stroke-width="1.2"/>
<circle cx="425.6" cy="245.4" r="4.1" fill="#d0163a" stroke="#000" stroke-width="1.2"/>
<circle cx="422.8" cy="243.1" r="4.1" fill="#d0163a" stroke="#000" stroke-width="1.2"/>
<circle cx="424" cy="258.2" r="4.1" fill="#d0163a" stroke="#000" stroke-width="1.2"/>
<circle cx="427.9" cy="265" r="4.1" fill="#d0163a" stroke="#000" stroke-width="1.2"/>
<circle cx="421.4" cy="262.7" r="4.1" fill="#d0163a" stroke="#000" stroke-width="1.2"/>
<circle cx="425.1" cy="269.2" r="4.1" fill="#d0163a" stroke="#000" stroke-width="1.2"/>
<circle cx="422.5" cy="278.6" r="4.1" fill="#d0163a" stroke="#000" stroke-width="1.2"/>
<line x1="415.1" y1="245.1" x2="432.1" y2="245.1" stroke="#000" stroke-width="1.5"/>
<circle cx="448.9" cy="106.2" r="4.1" fill="#1c5f9c" stroke="#000" stroke-width="1.2"/>
<circle cx="448.8" cy="126.4" r="4.1" fill="#1c5f9c" stroke="#000" stroke-width="1.2"/>
<circle cx="444.05" cy="147.9" r="4.1" fill="#1c5f9c" stroke="#000" stroke-width="1.2"/>
<circle cx="453.1" cy="147.7" r="4.1" fill="#1c5f9c" stroke="#000" stroke-width="1.2"/>
<circle cx="448.7" cy="156.1" r="4.1" fill="#1c5f9c" stroke="#000" stroke-width="1.2"/>
<circle cx="444.7" cy="184.4" r="4.1" fill="#1c5f9c" stroke="#000" stroke-width="1.2"/>
<circle cx="449" cy="191.6" r="4.1" fill="#1c5f9c" stroke="#000" stroke-width="1.2"/>
<circle cx="452.8" cy="202.3" r="4.1" fill="#1c5f9c" stroke="#000" stroke-width="1.2"/>
<circle cx="444.2" cy="202.7" r="4.1" fill="#1c5f9c" stroke="#000" stroke-width="1.2"/>
<circle cx="449" cy="207.2" r="4.1" fill="#1c5f9c" stroke="#000" stroke-width="1.2"/>
<circle cx="451.1" cy="234.3" r="4.1" fill="#1c5f9c" stroke="#000" stroke-width="1.2"/>
<circle cx="446.3" cy="232.7" r="4.1" fill="#1c5f9c" stroke="#000" stroke-width="1.2"/>
<circle cx="449" cy="243.9" r="4.1" fill="#1c5f9c" stroke="#000" stroke-width="1.2"/>
<line x1="440.0" y1="191.8" x2="457.0" y2="191.8" stroke="#000" stroke-width="1.5"/>
<circle cx="473.7" cy="216.2" r="4.1" fill="#d0163a" stroke="#000" stroke-width="1.2"/>
<circle cx="473.7" cy="233.3" r="4.1" fill="#d0163a" stroke="#000" stroke-width="1.2"/>
<circle cx="472.4" cy="263.7" r="4.1" fill="#d0163a" stroke="#000" stroke-width="1.2"/>
<circle cx="475" cy="269.6" r="4.1" fill="#d0163a" stroke="#000" stroke-width="1.2"/>
<circle cx="477.5" cy="277.7" r="4.1" fill="#d0163a" stroke="#000" stroke-width="1.2"/>
<circle cx="469.8" cy="275.4" r="4.1" fill="#d0163a" stroke="#000" stroke-width="1.2"/>
<line x1="466.4" y1="277.9" x2="481.0" y2="277.9" stroke="#000" stroke-width="1.5"/>
<circle cx="473.5" cy="286" r="4.1" fill="#d0163a" stroke="#000" stroke-width="1.2"/>
<circle cx="476.6" cy="284" r="4.1" fill="#d0163a" stroke="#000" stroke-width="1.2"/>
<circle cx="472.5" cy="280.5" r="4.1" fill="#d0163a" stroke="#000" stroke-width="1.2"/>
<circle cx="470.6" cy="290.7" r="4.1" fill="#d0163a" stroke="#000" stroke-width="1.2"/>
<circle cx="498.4" cy="196.2" r="4.1" fill="#177a60" stroke="#000" stroke-width="1.2"/>
<circle cx="501.3" cy="216.3" r="4.1" fill="#177a60" stroke="#000" stroke-width="1.2"/>
<circle cx="496.9" cy="219.1" r="4.1" fill="#177a60" stroke="#000" stroke-width="1.2"/>
<circle cx="498.6" cy="212.2" r="4.1" fill="#177a60" stroke="#000" stroke-width="1.2"/>
<circle cx="498.6" cy="222.3" r="4.1" fill="#177a60" stroke="#000" stroke-width="1.2"/>
<circle cx="499" cy="253.6" r="4.1" fill="#177a60" stroke="#000" stroke-width="1.2"/>
<line x1="490.0" y1="254.4" x2="507.0" y2="254.4" stroke="#000" stroke-width="1.5"/>
<circle cx="499" cy="259.5" r="4.1" fill="#177a60" stroke="#000" stroke-width="1.2"/>
<circle cx="496.9" cy="269.1" r="4.1" fill="#177a60" stroke="#000" stroke-width="1.2"/>
<circle cx="503.3" cy="273.9" r="4.1" fill="#177a60" stroke="#000" stroke-width="1.2"/>
<circle cx="499.5" cy="274.5" r="4.1" fill="#177a60" stroke="#000" stroke-width="1.2"/>
<circle cx="494.2" cy="276.6" r="4.1" fill="#177a60" stroke="#000" stroke-width="1.2"/>
</svg>
<div class="f"></div>
</body></html>
